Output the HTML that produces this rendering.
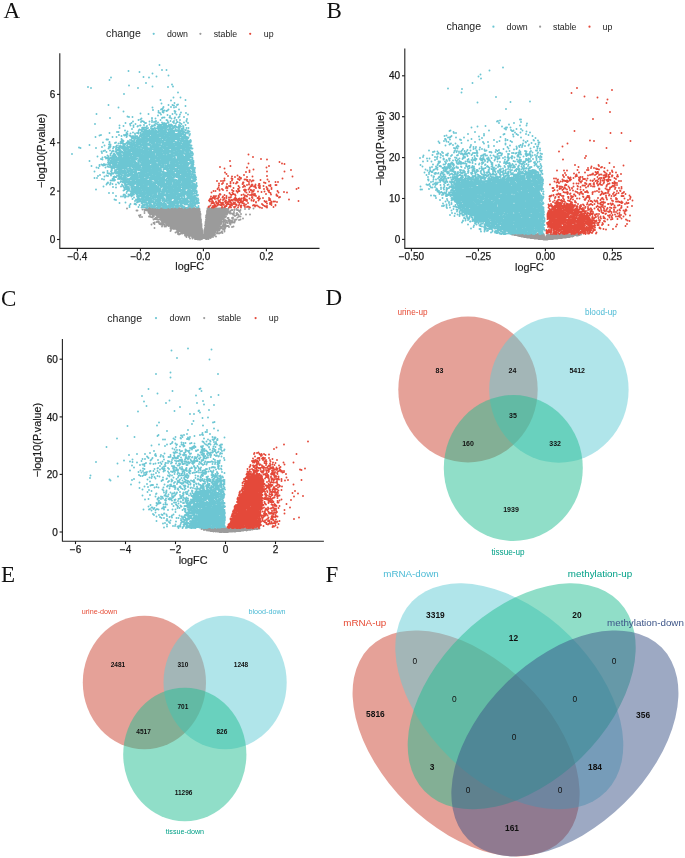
<!DOCTYPE html><html><head><meta charset="utf-8"><style>html,body{margin:0;padding:0;background:#fff;width:685px;height:858px;overflow:hidden}svg{display:block;will-change:transform}</style></head><body>
<svg width="685" height="858" viewBox="0 0 685 858">
<rect width="685" height="858" fill="#fff"/>
<text x="3.5" y="18" font-size="23" text-anchor="start" fill="#111" font-family="Liberation Serif, serif">A</text>
<text x="106.1" y="37.4" font-size="10.6" text-anchor="start" fill="#222" font-family="Liberation Sans, sans-serif">change</text>
<circle cx="153.7" cy="33.8" r="1.1" fill="#6cc6d3"/>
<circle cx="200.4" cy="33.8" r="1.1" fill="#9b9b9b"/>
<circle cx="250.2" cy="33.8" r="1.1" fill="#e4493a"/>
<text x="166.9" y="37" font-size="8.8" text-anchor="start" fill="#222" font-family="Liberation Sans, sans-serif">down</text>
<text x="213.7" y="37" font-size="8.8" text-anchor="start" fill="#222" font-family="Liberation Sans, sans-serif">stable</text>
<text x="263.8" y="37" font-size="8.8" text-anchor="start" fill="#222" font-family="Liberation Sans, sans-serif">up</text>
<path transform="scale(.5)" d="M0 0m295 416h0m4 0h0m1 0h0m5 0h0m11 0h0m6 0h0m3 0h0m8 0h0m14 0h0m6 0h0m5 0h0m6 0h0m2 0h0m1 0h0m2 0h0m1 0h0m3 0h0m7 0h0m8 0h0m31 0h0m5 0h0m23 0h0m60 1h0m-56 0h0m-3 0h0m-2 0h0m-2 0h0m-2 0h0m-1 0h0m-1 0h0m-1 0h0m-2 0h0m-2 0h0m-2 0h0m-1 0h0m-1 0h0m-1 0h0m-1 0h0m-2 0h0m-1 0h0m-2 0h0m-1 0h0m-5 0h0m-1 0h0m-1 0h0m-1 0h0m-17 0h0m-2 0h0m-3 0h0m-3 0h0m-1 0h0m-1 0h0m-2 0h0m-1 0h0m-1 0h0m-1 0h0m-1 0h0m-1 0h0m-1 0h0m-1 0h0m-1 0h0m-1 0h0m-5 0h0m-4 0h0m-1 0h0m-1 0h0m-1 0h0m-1 0h0m-1 0h0m-1 0h0m-2 0h0m-1 0h0m-1 0h0m-2 0h0m-2 0h0m-3 0h0m-1 0h0m-1 0h0m-2 0h0m-1 0h0m-1 0h0m-2 0h0m-2 0h0m-1 0h0m-2 0h0m-1 0h0m-4 0h0m-2 0h0m-1 0h0m-1 0h0m-1 0h0m-6 0h0m-1 0h0m-2 0h0m-1 0h0m-1 0h0m-3 0h0m-1 0h0m-2 0h0m-1 0h0m-1 0h0m-1 0h0m-2 0h0m-3 0h0m-1 0h0m-4 0h0m-1 0h0m-2 0h0m-1 0h0m-40 0h0m38 1h0m4 0h0m2 0h0m2 0h0m2 0h0m2 0h0m2 0h0m1 0h0m1 0h0m4 0h0m1 0h0m1 0h0m4 0h0m2 0h0m1 0h0m3 0h0m1 0h0m1 0h0m3 0h0m1 0h0m1 0h0m1 0h0m1 0h0m1 0h0m1 0h0m2 0h0m1 0h0m1 0h0m2 0h0m1 0h0m2 0h0m1 0h0m1 0h0m1 0h0m1 0h0m3 0h0m2 0h0m1 0h0m1 0h0m5 0h0m1 0h0m2 0h0m2 0h0m3 0h0m2 0h0m2 0h0m2 0h0m1 0h0m2 0h0m2 0h0m2 0h0m1 0h0m4 0h0m2 0h0m1 0h0m1 0h0m4 0h0m2 0h0m1 0h0m1 0h0m1 0h0m16 0h0m1 0h0m2 0h0m1 0h0m1 0h0m1 0h0m1 0h0m1 0h0m1 0h0m2 0h0m2 0h0m4 0h0m1 0h0m1 0h0m1 0h0m1 0h0m2 0h0m1 0h0m2 0h0m2 0h0m1 0h0m7 0h0m1 0h0m1 0h0m3 0h0m1 0h0m16 0h0m17 0h0m8 0h0m-29 1h0m-14 0h0m-7 0h0m-3 0h0m-2 0h0m-2 0h0m-2 0h0m-1 0h0m-1 0h0m-2 0h0m-2 0h0m-1 0h0m-3 0h0m-1 0h0m-1 0h0m-1 0h0m-1 0h0m-1 0h0m-1 0h0m-2 0h0m-2 0h0m-2 0h0m-1 0h0m-1 0h0m-16 0h0m-1 0h0m-1 0h0m-2 0h0m-1 0h0m-1 0h0m-3 0h0m-1 0h0m-1 0h0m-4 0h0m-1 0h0m-1 0h0m-1 0h0m-1 0h0m-1 0h0m-1 0h0m-1 0h0m-1 0h0m-1 0h0m-1 0h0m-2 0h0m-1 0h0m-1 0h0m-1 0h0m-1 0h0m-1 0h0m-2 0h0m-1 0h0m-1 0h0m-2 0h0m-1 0h0m-1 0h0m-1 0h0m-2 0h0m-1 0h0m-1 0h0m-1 0h0m-1 0h0m-1 0h0m-2 0h0m-1 0h0m-1 0h0m-2 0h0m-1 0h0m-1 0h0m-2 0h0m-2 0h0m-2 0h0m-4 0h0m-1 0h0m-1 0h0m-1 0h0m-2 0h0m-2 0h0m-1 0h0m-3 0h0m-2 0h0m-2 0h0m-4 0h0m-2 0h0m-3 0h0m-1 0h0m-1 0h0m-2 0h0m-2 0h0m-1 0h0m-3 0h0m-3 0h0m-1 0h0m-2 0h0m-1 0h0m-3 0h0m-4 0h0m6 1h0m1 0h0m6 0h0m3 0h0m1 0h0m1 0h0m2 0h0m1 0h0m2 0h0m1 0h0m1 0h0m1 0h0m2 0h0m2 0h0m2 0h0m2 0h0m1 0h0m1 0h0m1 0h0m1 0h0m1 0h0m3 0h0m1 0h0m1 0h0m1 0h0m3 0h0m1 0h0m2 0h0m1 0h0m2 0h0m1 0h0m2 0h0m1 0h0m1 0h0m1 0h0m1 0h0m2 0h0m1 0h0m1 0h0m1 0h0m1 0h0m1 0h0m2 0h0m1 0h0m1 0h0m1 0h0m2 0h0m1 0h0m1 0h0m1 0h0m1 0h0m1 0h0m2 0h0m1 0h0m2 0h0m1 0h0m1 0h0m1 0h0m1 0h0m2 0h0m1 0h0m1 0h0m1 0h0m1 0h0m2 0h0m1 0h0m1 0h0m2 0h0m2 0h0m1 0h0m2 0h0m4 0h0m3 0h0m17 0h0m1 0h0m1 0h0m1 0h0m1 0h0m1 0h0m1 0h0m2 0h0m1 0h0m1 0h0m2 0h0m1 0h0m2 0h0m1 0h0m1 0h0m1 0h0m1 0h0m1 0h0m1 0h0m1 0h0m1 0h0m1 0h0m3 0h0m1 0h0m1 0h0m1 0h0m1 0h0m1 0h0m1 0h0m1 0h0m1 0h0m5 0h0m8 0h0m2 0h0m4 0h0m5 0h0m2 0h0m5 0h0m-25 1h0m-5 0h0m-2 0h0m-1 0h0m-1 0h0m-2 0h0m-1 0h0m-1 0h0m-1 0h0m-1 0h0m-1 0h0m-1 0h0m-1 0h0m-1 0h0m-2 0h0m-1 0h0m-1 0h0m-1 0h0m-2 0h0m-1 0h0m-1 0h0m-1 0h0m-2 0h0m-1 0h0m-1 0h0m-2 0h0m-1 0h0m-1 0h0m-1 0h0m-1 0h0m-1 0h0m-19 0h0m-1 0h0m-1 0h0m-1 0h0m-2 0h0m-1 0h0m-2 0h0m-3 0h0m-3 0h0m-1 0h0m-1 0h0m-2 0h0m-1 0h0m-3 0h0m-1 0h0m-1 0h0m-1 0h0m-2 0h0m-4 0h0m-1 0h0m-1 0h0m-2 0h0m-1 0h0m-1 0h0m-1 0h0m-1 0h0m-1 0h0m-1 0h0m-1 0h0m-1 0h0m-1 0h0m-1 0h0m-2 0h0m-2 0h0m-1 0h0m-2 0h0m-1 0h0m-1 0h0m-1 0h0m-1 0h0m-3 0h0m-2 0h0m-1 0h0m-1 0h0m-1 0h0m-1 0h0m-3 0h0m-1 0h0m-3 0h0m-3 0h0m-2 0h0m-2 0h0m-1 0h0m-1 0h0m-1 0h0m-1 0h0m-1 0h0m-1 0h0m-1 0h0m-2 0h0m-2 0h0m-2 0h0m-2 0h0m-4 0h0m-5 0h0m-19 0h0m-2 0h0m16 1h0m8 0h0m4 0h0m1 0h0m2 0h0m1 0h0m2 0h0m1 0h0m1 0h0m1 0h0m2 0h0m1 0h0m1 0h0m1 0h0m1 0h0m1 0h0m1 0h0m1 0h0m3 0h0m1 0h0m1 0h0m1 0h0m2 0h0m1 0h0m1 0h0m2 0h0m1 0h0m1 0h0m3 0h0m1 0h0m1 0h0m1 0h0m1 0h0m1 0h0m1 0h0m1 0h0m1 0h0m2 0h0m4 0h0m1 0h0m2 0h0m1 0h0m1 0h0m1 0h0m2 0h0m1 0h0m1 0h0m1 0h0m1 0h0m1 0h0m1 0h0m2 0h0m3 0h0m1 0h0m1 0h0m1 0h0m3 0h0m1 0h0m2 0h0m2 0h0m1 0h0m1 0h0m1 0h0m1 0h0m1 0h0m1 0h0m1 0h0m2 0h0m1 0h0m3 0h0m1 0h0m1 0h0m1 0h0m1 0h0m2 0h0m15 0h0m1 0h0m2 0h0m4 0h0m1 0h0m1 0h0m1 0h0m1 0h0m1 0h0m1 0h0m1 0h0m1 0h0m1 0h0m3 0h0m1 0h0m1 0h0m3 0h0m3 0h0m3 0h0m1 0h0m1 0h0m4 0h0m3 0h0m8 0h0m17 0h0m1 0h0m-20 1h0m-4 0h0m-4 0h0m-1 0h0m-2 0h0m-1 0h0m-3 0h0m-2 0h0m-1 0h0m-2 0h0m-2 0h0m-1 0h0m-1 0h0m-3 0h0m-1 0h0m-2 0h0m-3 0h0m-1 0h0m-1 0h0m-2 0h0m-2 0h0m-4 0h0m-1 0h0m-1 0h0m-14 0h0m-1 0h0m-2 0h0m-1 0h0m-1 0h0m-1 0h0m-4 0h0m-2 0h0m-2 0h0m-2 0h0m-2 0h0m-1 0h0m-4 0h0m-1 0h0m-2 0h0m-1 0h0m-2 0h0m-1 0h0m-1 0h0m-1 0h0m-1 0h0m-4 0h0m-3 0h0m-2 0h0m-3 0h0m-1 0h0m-1 0h0m-3 0h0m-4 0h0m-1 0h0m-2 0h0m-2 0h0m-1 0h0m-1 0h0m-1 0h0m-1 0h0m-1 0h0m-1 0h0m-1 0h0m-1 0h0m-5 0h0m-1 0h0m-1 0h0m-1 0h0m-1 0h0m-1 0h0m-1 0h0m-1 0h0m-1 0h0m-1 0h0m-1 0h0m-1 0h0m-1 0h0m-1 0h0m-1 0h0m-1 0h0m-1 0h0m-2 0h0m-1 0h0m-1 0h0m-1 0h0m-2 0h0m-1 0h0m-3 0h0m-1 0h0m-1 0h0m-1 0h0m-1 0h0m3 1h0m1 0h0m2 0h0m1 0h0m1 0h0m1 0h0m4 0h0m1 0h0m1 0h0m1 0h0m1 0h0m4 0h0m2 0h0m1 0h0m1 0h0m1 0h0m2 0h0m1 0h0m1 0h0m1 0h0m2 0h0m1 0h0m1 0h0m1 0h0m1 0h0m1 0h0m2 0h0m1 0h0m2 0h0m1 0h0m1 0h0m2 0h0m1 0h0m1 0h0m1 0h0m1 0h0m1 0h0m1 0h0m2 0h0m1 0h0m1 0h0m3 0h0m2 0h0m2 0h0m1 0h0m1 0h0m1 0h0m2 0h0m1 0h0m1 0h0m2 0h0m1 0h0m1 0h0m1 0h0m1 0h0m1 0h0m2 0h0m3 0h0m1 0h0m1 0h0m1 0h0m5 0h0m1 0h0m1 0h0m1 0h0m2 0h0m1 0h0m1 0h0m2 0h0m2 0h0m1 0h0m14 0h0m1 0h0m1 0h0m4 0h0m1 0h0m1 0h0m1 0h0m1 0h0m2 0h0m1 0h0m1 0h0m1 0h0m1 0h0m1 0h0m1 0h0m1 0h0m1 0h0m3 0h0m1 0h0m2 0h0m2 0h0m1 0h0m1 0h0m1 0h0m1 0h0m1 0h0m2 0h0m10 0h0m9 0h0m12 0h0m-20 1h0m-3 0h0m-5 0h0m-3 0h0m-1 0h0m-2 0h0m-1 0h0m-1 0h0m-1 0h0m-1 0h0m-5 0h0m-2 0h0m-1 0h0m-1 0h0m-1 0h0m-1 0h0m-4 0h0m-1 0h0m-1 0h0m-6 0h0m-1 0h0m-2 0h0m-17 0h0m-1 0h0m-2 0h0m-1 0h0m-1 0h0m-1 0h0m-2 0h0m-1 0h0m-1 0h0m-2 0h0m-2 0h0m-1 0h0m-2 0h0m-2 0h0m-2 0h0m-2 0h0m-1 0h0m-1 0h0m-1 0h0m-2 0h0m-1 0h0m-1 0h0m-3 0h0m-2 0h0m-1 0h0m-1 0h0m-1 0h0m-1 0h0m-1 0h0m-1 0h0m-5 0h0m-1 0h0m-2 0h0m-2 0h0m-1 0h0m-2 0h0m-1 0h0m-3 0h0m-1 0h0m-1 0h0m-1 0h0m-1 0h0m-2 0h0m-3 0h0m-1 0h0m-1 0h0m-3 0h0m-1 0h0m-2 0h0m-1 0h0m-1 0h0m-2 0h0m-4 0h0m-1 0h0m-1 0h0m-2 0h0m-1 0h0m-4 0h0m-2 0h0m-4 0h0m-2 0h0m-2 0h0m-8 1h0m9 0h0m2 0h0m3 0h0m6 0h0m3 0h0m1 0h0m1 0h0m1 0h0m1 0h0m1 0h0m3 0h0m1 0h0m2 0h0m2 0h0m1 0h0m1 0h0m1 0h0m1 0h0m1 0h0m1 0h0m1 0h0m1 0h0m1 0h0m2 0h0m2 0h0m1 0h0m1 0h0m1 0h0m1 0h0m6 0h0m1 0h0m1 0h0m2 0h0m2 0h0m1 0h0m1 0h0m1 0h0m1 0h0m1 0h0m2 0h0m7 0h0m1 0h0m1 0h0m2 0h0m1 0h0m1 0h0m2 0h0m2 0h0m1 0h0m2 0h0m1 0h0m2 0h0m3 0h0m2 0h0m1 0h0m2 0h0m1 0h0m1 0h0m1 0h0m1 0h0m1 0h0m1 0h0m1 0h0m1 0h0m14 0h0m1 0h0m1 0h0m1 0h0m1 0h0m1 0h0m1 0h0m3 0h0m1 0h0m1 0h0m2 0h0m1 0h0m1 0h0m1 0h0m1 0h0m2 0h0m1 0h0m2 0h0m2 0h0m1 0h0m1 0h0m1 0h0m2 0h0m2 0h0m1 0h0m1 0h0m1 0h0m2 0h0m1 0h0m1 0h0m2 0h0m1 0h0m6 0h0m7 0h0m6 0h0m-1 1h0m-9 0h0m-3 0h0m-1 0h0m-5 0h0m-5 0h0m-3 0h0m-2 0h0m-6 0h0m-1 0h0m-2 0h0m-1 0h0m-1 0h0m-1 0h0m-1 0h0m-1 0h0m-2 0h0m-1 0h0m-6 0h0m-3 0h0m-1 0h0m-1 0h0m-3 0h0m-14 0h0m-3 0h0m-2 0h0m-1 0h0m-2 0h0m-1 0h0m-3 0h0m-2 0h0m-1 0h0m-2 0h0m-1 0h0m-1 0h0m-1 0h0m-2 0h0m-1 0h0m-1 0h0m-1 0h0m-1 0h0m-1 0h0m-2 0h0m-1 0h0m-1 0h0m-1 0h0m-1 0h0m-1 0h0m-2 0h0m-1 0h0m-1 0h0m-1 0h0m-3 0h0m-1 0h0m-1 0h0m-3 0h0m-1 0h0m-1 0h0m-2 0h0m-1 0h0m-4 0h0m-5 0h0m-1 0h0m-3 0h0m-1 0h0m-1 0h0m-1 0h0m-1 0h0m-1 0h0m-1 0h0m-1 0h0m-1 0h0m-3 0h0m-1 0h0m-1 0h0m-1 0h0m-1 0h0m-2 0h0m-1 0h0m-1 0h0m-1 0h0m-2 0h0m-1 0h0m-1 0h0m-1 0h0m-1 0h0m-4 0h0m-4 1h0m2 0h0m5 0h0m1 0h0m4 0h0m1 0h0m1 0h0m1 0h0m1 0h0m1 0h0m1 0h0m2 0h0m1 0h0m2 0h0m1 0h0m1 0h0m2 0h0m3 0h0m1 0h0m2 0h0m2 0h0m1 0h0m1 0h0m1 0h0m1 0h0m1 0h0m1 0h0m1 0h0m1 0h0m1 0h0m1 0h0m1 0h0m2 0h0m3 0h0m1 0h0m1 0h0m1 0h0m1 0h0m3 0h0m2 0h0m2 0h0m1 0h0m1 0h0m2 0h0m1 0h0m2 0h0m2 0h0m1 0h0m1 0h0m1 0h0m1 0h0m2 0h0m2 0h0m2 0h0m1 0h0m1 0h0m2 0h0m1 0h0m2 0h0m1 0h0m1 0h0m1 0h0m3 0h0m2 0h0m1 0h0m1 0h0m1 0h0m1 0h0m13 0h0m1 0h0m2 0h0m1 0h0m2 0h0m3 0h0m2 0h0m1 0h0m4 0h0m2 0h0m1 0h0m3 0h0m1 0h0m1 0h0m1 0h0m1 0h0m1 0h0m1 0h0m1 0h0m1 0h0m1 0h0m1 0h0m1 0h0m4 0h0m2 0h0m13 0h0m16 0h0m18 1h0m-8 0h0m-15 0h0m-2 0h0m-9 0h0m-12 0h0m-2 0h0m-1 0h0m-3 0h0m-2 0h0m-2 0h0m-1 0h0m-1 0h0m-1 0h0m-1 0h0m-2 0h0m-2 0h0m-2 0h0m-1 0h0m-1 0h0m-1 0h0m-1 0h0m-2 0h0m-1 0h0m-2 0h0m-1 0h0m-2 0h0m-1 0h0m-3 0h0m-1 0h0m-1 0h0m-1 0h0m-1 0h0m-13 0h0m-1 0h0m-1 0h0m-1 0h0m-1 0h0m-1 0h0m-1 0h0m-1 0h0m-2 0h0m-2 0h0m-1 0h0m-1 0h0m-1 0h0m-1 0h0m-1 0h0m-1 0h0m-1 0h0m-1 0h0m-1 0h0m-1 0h0m-2 0h0m-1 0h0m-1 0h0m-1 0h0m-3 0h0m-3 0h0m-1 0h0m-3 0h0m-1 0h0m-1 0h0m-1 0h0m-1 0h0m-2 0h0m-1 0h0m-1 0h0m-3 0h0m-1 0h0m-1 0h0m-1 0h0m-1 0h0m-3 0h0m-1 0h0m-1 0h0m-1 0h0m-1 0h0m-1 0h0m-1 0h0m-1 0h0m-1 0h0m-1 0h0m-1 0h0m-1 0h0m-1 0h0m-1 0h0m-1 0h0m-2 0h0m-2 0h0m-1 0h0m-1 0h0m-7 0h0m-1 0h0m-3 0h0m-1 0h0m-1 0h0m-14 0h0m-19 1h0m27 0h0m4 0h0m1 0h0m2 0h0m2 0h0m1 0h0m1 0h0m4 0h0m1 0h0m1 0h0m1 0h0m1 0h0m2 0h0m2 0h0m1 0h0m1 0h0m1 0h0m7 0h0m1 0h0m1 0h0m1 0h0m2 0h0m1 0h0m3 0h0m1 0h0m1 0h0m1 0h0m1 0h0m2 0h0m1 0h0m4 0h0m1 0h0m1 0h0m1 0h0m3 0h0m1 0h0m1 0h0m1 0h0m6 0h0m1 0h0m1 0h0m1 0h0m2 0h0m1 0h0m1 0h0m1 0h0m2 0h0m1 0h0m1 0h0m2 0h0m1 0h0m1 0h0m2 0h0m1 0h0m3 0h0m3 0h0m12 0h0m1 0h0m2 0h0m2 0h0m1 0h0m1 0h0m1 0h0m1 0h0m2 0h0m1 0h0m2 0h0m2 0h0m2 0h0m3 0h0m3 0h0m1 0h0m1 0h0m1 0h0m1 0h0m3 0h0m5 0h0m19 0h0m5 0h0m-27 1h0m-3 0h0m-1 0h0m-1 0h0m-2 0h0m-1 0h0m-1 0h0m-1 0h0m-1 0h0m-1 0h0m-1 0h0m-1 0h0m-1 0h0m-1 0h0m-1 0h0m-1 0h0m-2 0h0m-1 0h0m-1 0h0m-1 0h0m-3 0h0m-1 0h0m-5 0h0m-14 0h0m-2 0h0m-1 0h0m-1 0h0m-2 0h0m-2 0h0m-1 0h0m-2 0h0m-1 0h0m-3 0h0m-1 0h0m-1 0h0m-1 0h0m-3 0h0m-1 0h0m-1 0h0m-2 0h0m-3 0h0m-2 0h0m-2 0h0m-1 0h0m-2 0h0m-1 0h0m-2 0h0m-1 0h0m-1 0h0m-2 0h0m-1 0h0m-1 0h0m-2 0h0m-1 0h0m-1 0h0m-5 0h0m-3 0h0m-1 0h0m-4 0h0m-1 0h0m-2 0h0m-2 0h0m-1 0h0m-6 0h0m-1 0h0m-1 0h0m-1 0h0m-2 0h0m-2 0h0m-1 0h0m-1 0h0m-1 0h0m-2 0h0m-2 0h0m-6 0h0m-1 0h0m-1 0h0m-27 0h0m30 1h0m6 0h0m4 0h0m1 0h0m1 0h0m2 0h0m1 0h0m1 0h0m2 0h0m2 0h0m1 0h0m1 0h0m1 0h0m1 0h0m2 0h0m1 0h0m1 0h0m1 0h0m2 0h0m1 0h0m1 0h0m4 0h0m1 0h0m2 0h0m4 0h0m2 0h0m2 0h0m4 0h0m3 0h0m1 0h0m1 0h0m1 0h0m2 0h0m1 0h0m1 0h0m1 0h0m3 0h0m2 0h0m1 0h0m2 0h0m1 0h0m1 0h0m1 0h0m1 0h0m1 0h0m2 0h0m2 0h0m4 0h0m3 0h0m1 0h0m1 0h0m2 0h0m13 0h0m2 0h0m1 0h0m3 0h0m1 0h0m1 0h0m1 0h0m1 0h0m1 0h0m2 0h0m1 0h0m1 0h0m2 0h0m1 0h0m1 0h0m2 0h0m1 0h0m1 0h0m1 0h0m2 0h0m1 0h0m1 0h0m1 0h0m1 0h0m3 0h0m2 0h0m1 0h0m1 0h0m21 0h0m8 0h0m3 1h0m-3 0h0m-26 0h0m-3 0h0m-2 0h0m-1 0h0m-5 0h0m-3 0h0m-2 0h0m-1 0h0m-2 0h0m-1 0h0m-1 0h0m-1 0h0m-2 0h0m-1 0h0m-1 0h0m-3 0h0m-1 0h0m-2 0h0m-1 0h0m-1 0h0m-1 0h0m-1 0h0m-1 0h0m-2 0h0m-13 0h0m-1 0h0m-1 0h0m-2 0h0m-1 0h0m-3 0h0m-2 0h0m-1 0h0m-1 0h0m-1 0h0m-1 0h0m-2 0h0m-1 0h0m-2 0h0m-1 0h0m-1 0h0m-1 0h0m-2 0h0m-1 0h0m-1 0h0m-1 0h0m-1 0h0m-2 0h0m-1 0h0m-2 0h0m-1 0h0m-1 0h0m-3 0h0m-1 0h0m-1 0h0m-1 0h0m-1 0h0m-2 0h0m-1 0h0m-3 0h0m-2 0h0m-1 0h0m-1 0h0m-1 0h0m-1 0h0m-1 0h0m-1 0h0m-1 0h0m-1 0h0m-1 0h0m-2 0h0m-2 0h0m-1 0h0m-2 0h0m-1 0h0m-2 0h0m-2 0h0m-1 0h0m-1 0h0m-2 0h0m-4 0h0m-1 0h0m-1 0h0m-2 0h0m-1 0h0m-9 0h0m-6 0h0m-1 0h0m-2 0h0m-18 1h0m4 0h0m18 0h0m14 0h0m4 0h0m2 0h0m2 0h0m4 0h0m2 0h0m2 0h0m1 0h0m1 0h0m2 0h0m1 0h0m2 0h0m1 0h0m2 0h0m1 0h0m2 0h0m1 0h0m1 0h0m1 0h0m1 0h0m1 0h0m1 0h0m1 0h0m2 0h0m1 0h0m1 0h0m1 0h0m1 0h0m2 0h0m3 0h0m4 0h0m1 0h0m1 0h0m5 0h0m1 0h0m1 0h0m1 0h0m1 0h0m2 0h0m1 0h0m1 0h0m1 0h0m1 0h0m1 0h0m1 0h0m1 0h0m1 0h0m2 0h0m1 0h0m1 0h0m1 0h0m1 0h0m2 0h0m1 0h0m1 0h0m1 0h0m1 0h0m1 0h0m14 0h0m1 0h0m1 0h0m1 0h0m4 0h0m1 0h0m1 0h0m1 0h0m1 0h0m2 0h0m2 0h0m1 0h0m5 0h0m2 0h0m2 0h0m1 0h0m1 0h0m1 0h0m32 1h0m-9 0h0m-16 0h0m-6 0h0m-1 0h0m-1 0h0m-7 0h0m-2 0h0m-2 0h0m-1 0h0m-2 0h0m-2 0h0m-4 0h0m-1 0h0m-2 0h0m-2 0h0m-2 0h0m-3 0h0m-12 0h0m-1 0h0m-2 0h0m-1 0h0m-1 0h0m-1 0h0m-2 0h0m-2 0h0m-1 0h0m-1 0h0m-3 0h0m-1 0h0m-9 0h0m-2 0h0m-3 0h0m-4 0h0m-2 0h0m-2 0h0m-1 0h0m-3 0h0m-2 0h0m-2 0h0m-1 0h0m-3 0h0m-2 0h0m-1 0h0m-1 0h0m-1 0h0m-1 0h0m-1 0h0m-1 0h0m-2 0h0m-1 0h0m-1 0h0m-1 0h0m-1 0h0m-1 0h0m-2 0h0m-1 0h0m-2 0h0m-1 0h0m-2 0h0m-1 0h0m-1 0h0m-1 0h0m-1 0h0m-1 0h0m-1 0h0m-2 0h0m-6 0h0m-8 0h0m6 1h0m3 0h0m7 0h0m1 0h0m2 0h0m2 0h0m5 0h0m4 0h0m1 0h0m1 0h0m3 0h0m3 0h0m2 0h0m3 0h0m1 0h0m1 0h0m1 0h0m2 0h0m1 0h0m1 0h0m1 0h0m2 0h0m3 0h0m2 0h0m1 0h0m3 0h0m2 0h0m1 0h0m1 0h0m1 0h0m3 0h0m1 0h0m2 0h0m1 0h0m1 0h0m2 0h0m2 0h0m2 0h0m2 0h0m3 0h0m3 0h0m1 0h0m2 0h0m1 0h0m2 0h0m15 0h0m2 0h0m1 0h0m1 0h0m1 0h0m2 0h0m1 0h0m3 0h0m2 0h0m2 0h0m2 0h0m2 0h0m1 0h0m2 0h0m2 0h0m1 0h0m2 0h0m1 0h0m5 0h0m7 0h0m2 0h0m7 0h0m22 1h0m-21 0h0m-9 0h0m-11 0h0m-1 0h0m-1 0h0m-1 0h0m-3 0h0m-2 0h0m-1 0h0m-1 0h0m-1 0h0m-1 0h0m-4 0h0m-1 0h0m-3 0h0m-1 0h0m-2 0h0m-1 0h0m-1 0h0m-2 0h0m-1 0h0m-1 0h0m-2 0h0m-1 0h0m-12 0h0m-2 0h0m-1 0h0m-1 0h0m-1 0h0m-1 0h0m-1 0h0m-2 0h0m-4 0h0m-2 0h0m-3 0h0m-1 0h0m-1 0h0m-2 0h0m-1 0h0m-1 0h0m-1 0h0m-1 0h0m-1 0h0m-1 0h0m-1 0h0m-1 0h0m-1 0h0m-1 0h0m-1 0h0m-1 0h0m-1 0h0m-2 0h0m-1 0h0m-1 0h0m-1 0h0m-1 0h0m-2 0h0m-2 0h0m-1 0h0m-2 0h0m-1 0h0m-1 0h0m-2 0h0m-1 0h0m-1 0h0m-1 0h0m-1 0h0m-1 0h0m-1 0h0m-1 0h0m-1 0h0m-5 0h0m-1 0h0m-1 0h0m-1 0h0m-2 0h0m-1 0h0m-1 0h0m-1 0h0m-1 0h0m-3 0h0m-2 0h0m-1 0h0m-12 1h0m1 0h0m2 0h0m1 0h0m8 0h0m1 0h0m4 0h0m2 0h0m1 0h0m5 0h0m5 0h0m1 0h0m1 0h0m1 0h0m3 0h0m1 0h0m3 0h0m1 0h0m2 0h0m1 0h0m1 0h0m2 0h0m1 0h0m2 0h0m1 0h0m1 0h0m2 0h0m1 0h0m2 0h0m1 0h0m1 0h0m2 0h0m2 0h0m1 0h0m2 0h0m1 0h0m1 0h0m2 0h0m1 0h0m1 0h0m1 0h0m2 0h0m1 0h0m1 0h0m1 0h0m1 0h0m1 0h0m1 0h0m2 0h0m1 0h0m1 0h0m4 0h0m2 0h0m13 0h0m1 0h0m2 0h0m1 0h0m3 0h0m4 0h0m1 0h0m2 0h0m1 0h0m1 0h0m1 0h0m1 0h0m2 0h0m1 0h0m1 0h0m1 0h0m2 0h0m2 0h0m1 0h0m3 0h0m1 0h0m12 0h0m9 0h0m15 1h0m-8 0h0m-3 0h0m-23 0h0m-3 0h0m-3 0h0m-2 0h0m-1 0h0m-1 0h0m-1 0h0m-2 0h0m-1 0h0m-2 0h0m-2 0h0m-1 0h0m-2 0h0m-1 0h0m-1 0h0m-1 0h0m-1 0h0m-2 0h0m-2 0h0m-1 0h0m-2 0h0m-3 0h0m-10 0h0m-1 0h0m-1 0h0m-1 0h0m-1 0h0m-3 0h0m-3 0h0m-2 0h0m-1 0h0m-1 0h0m-1 0h0m-1 0h0m-1 0h0m-4 0h0m-1 0h0m-1 0h0m-1 0h0m-1 0h0m-1 0h0m-1 0h0m-3 0h0m-1 0h0m-1 0h0m-1 0h0m-2 0h0m-1 0h0m-1 0h0m-1 0h0m-2 0h0m-1 0h0m-1 0h0m-3 0h0m-1 0h0m-4 0h0m-1 0h0m-2 0h0m-1 0h0m-2 0h0m-1 0h0m-1 0h0m-1 0h0m-1 0h0m-1 0h0m-1 0h0m-2 0h0m-2 0h0m-1 0h0m-1 0h0m-1 0h0m-2 0h0m-1 0h0m-3 0h0m-2 0h0m-2 0h0m-2 0h0m-1 0h0m-3 0h0m-3 0h0m-7 0h0m15 1h0m2 0h0m2 0h0m7 0h0m1 0h0m5 0h0m1 0h0m2 0h0m2 0h0m1 0h0m1 0h0m1 0h0m1 0h0m1 0h0m1 0h0m1 0h0m1 0h0m1 0h0m4 0h0m1 0h0m5 0h0m2 0h0m1 0h0m1 0h0m1 0h0m1 0h0m1 0h0m1 0h0m1 0h0m1 0h0m1 0h0m1 0h0m2 0h0m1 0h0m1 0h0m1 0h0m2 0h0m1 0h0m1 0h0m1 0h0m1 0h0m1 0h0m1 0h0m1 0h0m1 0h0m4 0h0m1 0h0m2 0h0m1 0h0m1 0h0m1 0h0m1 0h0m11 0h0m1 0h0m1 0h0m2 0h0m1 0h0m1 0h0m1 0h0m2 0h0m1 0h0m1 0h0m1 0h0m1 0h0m1 0h0m3 0h0m1 0h0m1 0h0m1 0h0m1 0h0m1 0h0m2 0h0m2 0h0m1 0h0m1 0h0m1 0h0m1 0h0m8 0h0m8 0h0m1 0h0m19 0h0m-16 1h0m-10 0h0m-1 0h0m-2 0h0m-6 0h0m-1 0h0m-5 0h0m-1 0h0m-2 0h0m-2 0h0m-2 0h0m-2 0h0m-4 0h0m-2 0h0m-3 0h0m-1 0h0m-5 0h0m-1 0h0m-10 0h0m-1 0h0m-4 0h0m-1 0h0m-1 0h0m-2 0h0m-1 0h0m-1 0h0m-1 0h0m-2 0h0m-1 0h0m-1 0h0m-1 0h0m-2 0h0m-1 0h0m-1 0h0m-3 0h0m-4 0h0m-1 0h0m-1 0h0m-2 0h0m-1 0h0m-1 0h0m-2 0h0m-1 0h0m-2 0h0m-2 0h0m-1 0h0m-2 0h0m-2 0h0m-1 0h0m-2 0h0m-1 0h0m-2 0h0m-2 0h0m-1 0h0m-2 0h0m-1 0h0m-3 0h0m-1 0h0m-2 0h0m-1 0h0m-1 0h0m-2 0h0m-2 0h0m-2 0h0m-3 0h0m-1 0h0m-2 0h0m-1 1h0m2 0h0m2 0h0m2 0h0m4 0h0m1 0h0m1 0h0m1 0h0m1 0h0m1 0h0m1 0h0m1 0h0m1 0h0m1 0h0m3 0h0m1 0h0m3 0h0m3 0h0m3 0h0m1 0h0m3 0h0m1 0h0m2 0h0m5 0h0m2 0h0m1 0h0m1 0h0m1 0h0m1 0h0m1 0h0m1 0h0m3 0h0m1 0h0m1 0h0m1 0h0m1 0h0m2 0h0m2 0h0m2 0h0m1 0h0m1 0h0m1 0h0m1 0h0m1 0h0m1 0h0m2 0h0m2 0h0m1 0h0m1 0h0m1 0h0m1 0h0m10 0h0m1 0h0m1 0h0m1 0h0m2 0h0m1 0h0m1 0h0m1 0h0m1 0h0m1 0h0m2 0h0m1 0h0m1 0h0m1 0h0m2 0h0m1 0h0m1 0h0m3 0h0m1 0h0m2 0h0m3 0h0m3 0h0m11 0h0m3 0h0m1 0h0m7 0h0m4 0h0m1 0h0m-12 1h0m-10 0h0m-1 0h0m-3 0h0m-2 0h0m-2 0h0m-1 0h0m-2 0h0m-1 0h0m-1 0h0m-1 0h0m-2 0h0m-1 0h0m-1 0h0m-2 0h0m-2 0h0m-1 0h0m-2 0h0m-1 0h0m-2 0h0m-1 0h0m-1 0h0m-1 0h0m-1 0h0m-1 0h0m-1 0h0m-2 0h0m-10 0h0m-1 0h0m-3 0h0m-1 0h0m-2 0h0m-2 0h0m-1 0h0m-1 0h0m-1 0h0m-3 0h0m-1 0h0m-1 0h0m-5 0h0m-2 0h0m-1 0h0m-1 0h0m-1 0h0m-2 0h0m-1 0h0m-1 0h0m-2 0h0m-3 0h0m-1 0h0m-3 0h0m-1 0h0m-1 0h0m-2 0h0m-3 0h0m-1 0h0m-1 0h0m-1 0h0m-1 0h0m-1 0h0m-2 0h0m-4 0h0m-1 0h0m-2 0h0m-2 0h0m-3 0h0m-1 0h0m-1 0h0m-1 0h0m-3 0h0m-2 0h0m-1 0h0m-2 0h0m-9 0h0m-3 1h0m3 0h0m2 0h0m14 0h0m2 0h0m2 0h0m4 0h0m2 0h0m2 0h0m1 0h0m2 0h0m1 0h0m2 0h0m2 0h0m1 0h0m1 0h0m2 0h0m4 0h0m1 0h0m3 0h0m1 0h0m1 0h0m1 0h0m2 0h0m2 0h0m1 0h0m2 0h0m1 0h0m2 0h0m2 0h0m1 0h0m1 0h0m2 0h0m1 0h0m2 0h0m1 0h0m1 0h0m2 0h0m2 0h0m2 0h0m1 0h0m1 0h0m3 0h0m12 0h0m2 0h0m1 0h0m1 0h0m1 0h0m3 0h0m1 0h0m1 0h0m1 0h0m2 0h0m4 0h0m1 0h0m2 0h0m1 0h0m1 0h0m2 0h0m3 0h0m1 0h0m1 0h0m3 0h0m18 0h0m4 0h0m4 1h0m-1 0h0m-3 0h0m-2 0h0m-10 0h0m-2 0h0m-4 0h0m-5 0h0m-2 0h0m-1 0h0m-1 0h0m-1 0h0m-1 0h0m-2 0h0m-3 0h0m-1 0h0m-1 0h0m-3 0h0m-5 0h0m-1 0h0m-1 0h0m-3 0h0m-1 0h0m-1 0h0m-1 0h0m-1 0h0m-10 0h0m-2 0h0m-1 0h0m-1 0h0m-3 0h0m-1 0h0m-1 0h0m-1 0h0m-1 0h0m-1 0h0m-1 0h0m-1 0h0m-1 0h0m-1 0h0m-2 0h0m-1 0h0m-1 0h0m-3 0h0m-1 0h0m-3 0h0m-1 0h0m-2 0h0m-2 0h0m-1 0h0m-4 0h0m-1 0h0m-1 0h0m-4 0h0m-2 0h0m-1 0h0m-1 0h0m-2 0h0m-4 0h0m-2 0h0m-1 0h0m-2 0h0m-3 0h0m-2 0h0m-1 0h0m-1 0h0m-1 0h0m-4 0h0m-2 0h0m-4 0h0m-1 0h0m-16 0h0m-2 1h0m11 0h0m4 0h0m6 0h0m7 0h0m4 0h0m4 0h0m1 0h0m3 0h0m5 0h0m1 0h0m1 0h0m1 0h0m2 0h0m1 0h0m2 0h0m1 0h0m2 0h0m2 0h0m1 0h0m2 0h0m1 0h0m2 0h0m3 0h0m1 0h0m1 0h0m1 0h0m4 0h0m2 0h0m1 0h0m1 0h0m1 0h0m2 0h0m1 0h0m6 0h0m2 0h0m2 0h0m1 0h0m1 0h0m10 0h0m1 0h0m1 0h0m1 0h0m1 0h0m1 0h0m4 0h0m1 0h0m1 0h0m2 0h0m1 0h0m1 0h0m2 0h0m1 0h0m5 0h0m1 0h0m1 0h0m2 0h0m1 0h0m2 0h0m14 0h0m4 0h0m2 1h0m-2 0h0m-16 0h0m-6 0h0m-1 0h0m-1 0h0m-1 0h0m-1 0h0m-1 0h0m-1 0h0m-1 0h0m-2 0h0m-1 0h0m-2 0h0m-1 0h0m-3 0h0m-1 0h0m-1 0h0m-3 0h0m-2 0h0m-1 0h0m-1 0h0m-1 0h0m-9 0h0m-3 0h0m-1 0h0m-2 0h0m-2 0h0m-1 0h0m-1 0h0m-4 0h0m-1 0h0m-2 0h0m-1 0h0m-5 0h0m-1 0h0m-1 0h0m-3 0h0m-1 0h0m-2 0h0m-2 0h0m-1 0h0m-4 0h0m-1 0h0m-1 0h0m-1 0h0m-2 0h0m-2 0h0m-4 0h0m-2 0h0m-1 0h0m-2 0h0m-1 0h0m-1 0h0m-1 0h0m-1 0h0m-1 0h0m-1 0h0m-1 0h0m-1 0h0m-5 0h0m-3 0h0m-23 1h0m10 0h0m6 0h0m8 0h0m3 0h0m1 0h0m2 0h0m1 0h0m2 0h0m1 0h0m1 0h0m1 0h0m1 0h0m1 0h0m1 0h0m1 0h0m1 0h0m1 0h0m2 0h0m1 0h0m1 0h0m2 0h0m4 0h0m3 0h0m1 0h0m1 0h0m3 0h0m4 0h0m2 0h0m4 0h0m1 0h0m2 0h0m2 0h0m1 0h0m1 0h0m1 0h0m3 0h0m2 0h0m1 0h0m2 0h0m2 0h0m2 0h0m1 0h0m1 0h0m2 0h0m8 0h0m1 0h0m1 0h0m1 0h0m3 0h0m2 0h0m1 0h0m2 0h0m1 0h0m1 0h0m1 0h0m2 0h0m1 0h0m1 0h0m1 0h0m2 0h0m1 0h0m1 0h0m1 0h0m3 0h0m1 0h0m3 0h0m5 0h0m3 0h0m11 1h0m-10 0h0m-2 0h0m-9 0h0m-1 0h0m-1 0h0m-1 0h0m-3 0h0m-1 0h0m-2 0h0m-1 0h0m-1 0h0m-1 0h0m-1 0h0m-2 0h0m-1 0h0m-1 0h0m-1 0h0m-1 0h0m-1 0h0m-2 0h0m-2 0h0m-1 0h0m-2 0h0m-2 0h0m-9 0h0m-2 0h0m-1 0h0m-1 0h0m-1 0h0m-1 0h0m-1 0h0m-1 0h0m-1 0h0m-1 0h0m-1 0h0m-1 0h0m-3 0h0m-4 0h0m-1 0h0m-3 0h0m-1 0h0m-2 0h0m-1 0h0m-1 0h0m-1 0h0m-1 0h0m-2 0h0m-1 0h0m-1 0h0m-1 0h0m-1 0h0m-1 0h0m-1 0h0m-1 0h0m-1 0h0m-1 0h0m-1 0h0m-1 0h0m-1 0h0m-1 0h0m-3 0h0m-1 0h0m-1 0h0m-3 0h0m-2 0h0m-3 0h0m-1 0h0m-2 0h0m-1 0h0m-2 0h0m-1 0h0m-1 0h0m-2 0h0m-7 0h0m-5 0h0m-19 0h0m22 1h0m4 0h0m3 0h0m1 0h0m9 0h0m3 0h0m1 0h0m1 0h0m1 0h0m4 0h0m1 0h0m3 0h0m2 0h0m1 0h0m1 0h0m1 0h0m1 0h0m1 0h0m1 0h0m2 0h0m1 0h0m1 0h0m2 0h0m2 0h0m2 0h0m1 0h0m3 0h0m2 0h0m1 0h0m1 0h0m2 0h0m2 0h0m1 0h0m1 0h0m1 0h0m6 0h0m1 0h0m1 0h0m1 0h0m1 0h0m1 0h0m2 0h0m1 0h0m8 0h0m4 0h0m1 0h0m1 0h0m2 0h0m3 0h0m1 0h0m2 0h0m1 0h0m1 0h0m2 0h0m5 0h0m1 0h0m14 0h0m2 0h0m-5 1h0m-1 0h0m-6 0h0m-3 0h0m-1 0h0m-1 0h0m-4 0h0m-1 0h0m-1 0h0m-1 0h0m-3 0h0m-1 0h0m-1 0h0m-1 0h0m-1 0h0m-5 0h0m-1 0h0m-2 0h0m-1 0h0m-1 0h0m-7 0h0m-1 0h0m-1 0h0m-1 0h0m-1 0h0m-1 0h0m-1 0h0m-1 0h0m-1 0h0m-2 0h0m-1 0h0m-1 0h0m-1 0h0m-2 0h0m-1 0h0m-1 0h0m-1 0h0m-2 0h0m-1 0h0m-1 0h0m-1 0h0m-1 0h0m-2 0h0m-1 0h0m-1 0h0m-1 0h0m-1 0h0m-2 0h0m-2 0h0m-1 0h0m-1 0h0m-2 0h0m-1 0h0m-1 0h0m-1 0h0m-1 0h0m-1 0h0m-1 0h0m-1 0h0m-1 0h0m-1 0h0m-2 0h0m-1 0h0m-1 0h0m-1 0h0m-2 0h0m-1 0h0m-2 0h0m-1 0h0m-3 0h0m-1 0h0m-1 0h0m-4 0h0m1 1h0m3 0h0m7 0h0m2 0h0m1 0h0m1 0h0m1 0h0m1 0h0m1 0h0m1 0h0m1 0h0m1 0h0m1 0h0m1 0h0m1 0h0m1 0h0m1 0h0m1 0h0m1 0h0m3 0h0m1 0h0m3 0h0m1 0h0m1 0h0m3 0h0m2 0h0m1 0h0m1 0h0m1 0h0m1 0h0m3 0h0m1 0h0m1 0h0m1 0h0m1 0h0m1 0h0m1 0h0m3 0h0m1 0h0m2 0h0m1 0h0m2 0h0m1 0h0m1 0h0m1 0h0m8 0h0m1 0h0m1 0h0m1 0h0m2 0h0m1 0h0m2 0h0m1 0h0m2 0h0m1 0h0m1 0h0m1 0h0m1 0h0m1 0h0m1 0h0m1 0h0m2 0h0m3 0h0m2 0h0m18 0h0m1 0h0m2 0h0m10 1h0m-16 0h0m-3 0h0m-3 0h0m-4 0h0m-3 0h0m-4 0h0m-1 0h0m-2 0h0m-1 0h0m-1 0h0m-2 0h0m-1 0h0m-1 0h0m-1 0h0m-2 0h0m-1 0h0m-2 0h0m-1 0h0m-3 0h0m-1 0h0m-1 0h0m-1 0h0m-1 0h0m-8 0h0m-1 0h0m-1 0h0m-1 0h0m-1 0h0m-1 0h0m-2 0h0m-1 0h0m-2 0h0m-1 0h0m-2 0h0m-1 0h0m-2 0h0m-1 0h0m-1 0h0m-1 0h0m-1 0h0m-2 0h0m-5 0h0m-1 0h0m-2 0h0m-1 0h0m-2 0h0m-1 0h0m-1 0h0m-2 0h0m-2 0h0m-1 0h0m-1 0h0m-1 0h0m-1 0h0m-1 0h0m-1 0h0m-1 0h0m-1 0h0m-1 0h0m-3 0h0m-3 0h0m-1 0h0m-1 0h0m-2 0h0m-13 0h0m-3 0h0m-5 0h0m18 1h0m4 0h0m1 0h0m2 0h0m1 0h0m3 0h0m1 0h0m1 0h0m2 0h0m1 0h0m1 0h0m1 0h0m1 0h0m1 0h0m1 0h0m1 0h0m3 0h0m5 0h0m1 0h0m1 0h0m2 0h0m2 0h0m1 0h0m2 0h0m1 0h0m1 0h0m2 0h0m1 0h0m1 0h0m2 0h0m3 0h0m1 0h0m1 0h0m1 0h0m2 0h0m3 0h0m1 0h0m1 0h0m1 0h0m8 0h0m1 0h0m1 0h0m1 0h0m1 0h0m1 0h0m1 0h0m1 0h0m1 0h0m3 0h0m2 0h0m1 0h0m2 0h0m2 0h0m1 0h0m1 0h0m1 0h0m1 0h0m4 0h0m1 0h0m5 0h0m1 0h0m4 0h0m10 0h0m6 0h0m-13 1h0m-14 0h0m-2 0h0m-1 0h0m-1 0h0m-1 0h0m-2 0h0m-2 0h0m-1 0h0m-2 0h0m-1 0h0m-1 0h0m-1 0h0m-1 0h0m-2 0h0m-2 0h0m-1 0h0m-1 0h0m-1 0h0m-1 0h0m-2 0h0m-9 0h0m-2 0h0m-2 0h0m-3 0h0m-1 0h0m-1 0h0m-1 0h0m-1 0h0m-1 0h0m-3 0h0m-2 0h0m-1 0h0m-1 0h0m-1 0h0m-2 0h0m-1 0h0m-2 0h0m-1 0h0m-1 0h0m-3 0h0m-1 0h0m-1 0h0m-2 0h0m-1 0h0m-2 0h0m-2 0h0m-1 0h0m-1 0h0m-1 0h0m-2 0h0m-1 0h0m-1 0h0m-2 0h0m-2 0h0m-4 0h0m-2 0h0m-1 0h0m-2 0h0m-2 0h0m-32 1h0m33 0h0m5 0h0m2 0h0m2 0h0m3 0h0m1 0h0m1 0h0m1 0h0m4 0h0m4 0h0m1 0h0m1 0h0m2 0h0m1 0h0m1 0h0m1 0h0m1 0h0m2 0h0m2 0h0m1 0h0m2 0h0m1 0h0m3 0h0m1 0h0m1 0h0m1 0h0m2 0h0m2 0h0m1 0h0m1 0h0m2 0h0m2 0h0m1 0h0m1 0h0m1 0h0m2 0h0m1 0h0m7 0h0m1 0h0m3 0h0m2 0h0m1 0h0m2 0h0m1 0h0m1 0h0m2 0h0m4 0h0m1 0h0m1 0h0m1 0h0m1 0h0m1 0h0m3 0h0m2 0h0m1 0h0m6 0h0m4 0h0m2 1h0m-8 0h0m-1 0h0m-5 0h0m-1 0h0m-2 0h0m-1 0h0m-2 0h0m-1 0h0m-1 0h0m-2 0h0m-2 0h0m-1 0h0m-1 0h0m-1 0h0m-1 0h0m-2 0h0m-1 0h0m-1 0h0m-2 0h0m-1 0h0m-1 0h0m-2 0h0m-7 0h0m-1 0h0m-1 0h0m-2 0h0m-1 0h0m-2 0h0m-1 0h0m-3 0h0m-2 0h0m-1 0h0m-1 0h0m-1 0h0m-1 0h0m-4 0h0m-2 0h0m-1 0h0m-1 0h0m-1 0h0m-1 0h0m-1 0h0m-5 0h0m-1 0h0m-4 0h0m-1 0h0m-2 0h0m-3 0h0m-1 0h0m-3 0h0m-2 0h0m-2 0h0m-6 0h0m-4 0h0m1 1h0m6 0h0m4 0h0m3 0h0m2 0h0m1 0h0m1 0h0m1 0h0m1 0h0m3 0h0m1 0h0m2 0h0m5 0h0m1 0h0m1 0h0m2 0h0m2 0h0m2 0h0m1 0h0m1 0h0m2 0h0m6 0h0m2 0h0m3 0h0m1 0h0m1 0h0m1 0h0m1 0h0m1 0h0m2 0h0m1 0h0m1 0h0m6 0h0m2 0h0m1 0h0m1 0h0m3 0h0m1 0h0m3 0h0m1 0h0m1 0h0m1 0h0m1 0h0m3 0h0m6 0h0m4 0h0m9 1h0m-1 0h0m-7 0h0m-5 0h0m-2 0h0m-3 0h0m-1 0h0m-1 0h0m-2 0h0m-1 0h0m-1 0h0m-1 0h0m-1 0h0m-1 0h0m-3 0h0m-2 0h0m-1 0h0m-1 0h0m-4 0h0m-5 0h0m-1 0h0m-1 0h0m-1 0h0m-2 0h0m-1 0h0m-2 0h0m-1 0h0m-1 0h0m-2 0h0m-3 0h0m-1 0h0m-1 0h0m-1 0h0m-2 0h0m-1 0h0m-3 0h0m-1 0h0m-1 0h0m-1 0h0m-1 0h0m-1 0h0m-2 0h0m-2 0h0m-2 0h0m-1 0h0m-1 0h0m-2 0h0m-8 0h0m-2 0h0m-1 0h0m-1 0h0m-11 1h0m15 0h0m3 0h0m1 0h0m1 0h0m1 0h0m1 0h0m1 0h0m1 0h0m5 0h0m1 0h0m2 0h0m1 0h0m1 0h0m2 0h0m1 0h0m1 0h0m1 0h0m2 0h0m3 0h0m1 0h0m1 0h0m1 0h0m4 0h0m1 0h0m1 0h0m2 0h0m1 0h0m1 0h0m1 0h0m1 0h0m1 0h0m1 0h0m1 0h0m6 0h0m1 0h0m1 0h0m1 0h0m1 0h0m2 0h0m1 0h0m1 0h0m3 0h0m1 0h0m3 0h0m2 0h0m1 0h0m2 0h0m1 0h0m2 0h0m2 0h0m1 0h0m13 0h0m-10 1h0m-2 0h0m-3 0h0m-4 0h0m-1 0h0m-1 0h0m-3 0h0m-3 0h0m-1 0h0m-2 0h0m-1 0h0m-2 0h0m-1 0h0m-2 0h0m-2 0h0m-1 0h0m-1 0h0m-5 0h0m-1 0h0m-1 0h0m-3 0h0m-1 0h0m-1 0h0m-2 0h0m-1 0h0m-1 0h0m-1 0h0m-1 0h0m-2 0h0m-3 0h0m-1 0h0m-2 0h0m-1 0h0m-3 0h0m-1 0h0m-1 0h0m-1 0h0m-1 0h0m-1 0h0m-1 0h0m-2 0h0m-1 0h0m-1 0h0m-3 0h0m-1 0h0m-4 0h0m-1 0h0m-2 0h0m-17 1h0m14 0h0m1 0h0m3 0h0m1 0h0m3 0h0m1 0h0m3 0h0m1 0h0m1 0h0m1 0h0m1 0h0m1 0h0m1 0h0m2 0h0m2 0h0m1 0h0m1 0h0m5 0h0m1 0h0m1 0h0m4 0h0m1 0h0m1 0h0m1 0h0m1 0h0m2 0h0m2 0h0m3 0h0m1 0h0m3 0h0m4 0h0m1 0h0m3 0h0m1 0h0m1 0h0m1 0h0m1 0h0m2 0h0m1 0h0m1 0h0m3 0h0m2 0h0m3 0h0m2 0h0m18 1h0m-5 0h0m-9 0h0m-7 0h0m-1 0h0m-3 0h0m-2 0h0m-5 0h0m-1 0h0m-1 0h0m-1 0h0m-1 0h0m-1 0h0m-1 0h0m-7 0h0m-3 0h0m-1 0h0m-1 0h0m-2 0h0m-1 0h0m-1 0h0m-2 0h0m-2 0h0m-1 0h0m-1 0h0m-1 0h0m-4 0h0m-3 0h0m-1 0h0m-2 0h0m-1 0h0m-1 0h0m-1 0h0m-1 0h0m-1 0h0m-1 0h0m-1 0h0m-1 0h0m-1 0h0m-2 0h0m-1 0h0m-8 0h0m-1 0h0m-3 0h0m3 1h0m7 0h0m1 0h0m1 0h0m4 0h0m1 0h0m4 0h0m2 0h0m3 0h0m2 0h0m1 0h0m1 0h0m1 0h0m1 0h0m4 0h0m1 0h0m2 0h0m1 0h0m4 0h0m1 0h0m1 0h0m1 0h0m2 0h0m1 0h0m1 0h0m4 0h0m2 0h0m1 0h0m1 0h0m2 0h0m1 0h0m1 0h0m2 0h0m6 0h0m1 0h0m4 0h0m12 1h0m-11 0h0m-1 0h0m-5 0h0m-1 0h0m-4 0h0m-1 0h0m-3 0h0m-1 0h0m-2 0h0m-1 0h0m-3 0h0m-4 0h0m-1 0h0m-2 0h0m-1 0h0m-2 0h0m-1 0h0m-1 0h0m-1 0h0m-1 0h0m-3 0h0m-1 0h0m-1 0h0m-3 0h0m-3 0h0m-1 0h0m-2 0h0m-4 0h0m-1 0h0m-1 0h0m-1 0h0m-12 0h0m-7 0h0m-4 0h0m15 1h0m1 0h0m2 0h0m1 0h0m3 0h0m7 0h0m3 0h0m1 0h0m2 0h0m1 0h0m2 0h0m1 0h0m2 0h0m1 0h0m1 0h0m2 0h0m2 0h0m1 0h0m1 0h0m1 0h0m1 0h0m1 0h0m2 0h0m4 0h0m2 0h0m1 0h0m2 0h0m4 0h0m2 0h0m1 0h0m3 0h0m1 0h0m2 0h0m7 0h0m2 0h0m4 0h0m5 0h0m-7 1h0m-4 0h0m-6 0h0m-2 0h0m-1 0h0m-1 0h0m-1 0h0m-1 0h0m-1 0h0m-1 0h0m-1 0h0m-1 0h0m-2 0h0m-1 0h0m-2 0h0m-2 0h0m-6 0h0m-1 0h0m-1 0h0m-2 0h0m-1 0h0m-4 0h0m-1 0h0m-3 0h0m-1 0h0m-1 0h0m-1 0h0m-1 0h0m-3 0h0m-2 0h0m-1 0h0m-2 0h0m-1 0h0m-1 0h0m-2 0h0m-1 0h0m-3 0h0m-1 0h0m-2 0h0m-4 0h0m-3 0h0m-5 0h0m-1 1h0m4 0h0m10 0h0m2 0h0m4 0h0m2 0h0m2 0h0m1 0h0m1 0h0m2 0h0m2 0h0m2 0h0m1 0h0m1 0h0m5 0h0m1 0h0m1 0h0m1 0h0m2 0h0m2 0h0m1 0h0m1 0h0m5 0h0m1 0h0m1 0h0m3 0h0m3 0h0m2 0h0m1 0h0m4 0h0m6 1h0m-3 0h0m-1 0h0m-2 0h0m-1 0h0m-1 0h0m-1 0h0m-1 0h0m-1 0h0m-2 0h0m-1 0h0m-2 0h0m-1 0h0m-2 0h0m-2 0h0m-3 0h0m-1 0h0m-3 0h0m-1 0h0m-1 0h0m-2 0h0m-1 0h0m-1 0h0m-2 0h0m-1 0h0m-2 0h0m-4 0h0m-1 0h0m-1 0h0m-1 0h0m-1 0h0m-1 0h0m-6 0h0m-1 0h0m-2 0h0m-2 0h0m-1 0h0m-12 0h0m16 1h0m1 0h0m2 0h0m2 0h0m2 0h0m1 0h0m1 0h0m1 0h0m1 0h0m1 0h0m2 0h0m5 0h0m3 0h0m1 0h0m1 0h0m1 0h0m1 0h0m1 0h0m1 0h0m2 0h0m7 0h0m1 0h0m1 0h0m2 0h0m2 0h0m1 0h0m1 0h0m1 0h0m1 0h0m1 0h0m1 0h0m1 0h0m1 0h0m4 1h0m-3 0h0m-2 0h0m-6 0h0m-1 0h0m-1 0h0m-1 0h0m-1 0h0m-2 0h0m-1 0h0m-1 0h0m-1 0h0m-1 0h0m-2 0h0m-1 0h0m-2 0h0m-1 0h0m-1 0h0m-2 0h0m-1 0h0m-3 0h0m-1 0h0m-1 0h0m-2 0h0m-1 0h0m-2 0h0m-3 0h0m-1 0h0m-1 0h0m-2 0h0m-2 0h0m-3 0h0m-5 0h0m-1 0h0m2 1h0m6 0h0m2 0h0m7 0h0m1 0h0m1 0h0m1 0h0m1 0h0m1 0h0m1 0h0m3 0h0m2 0h0m2 0h0m1 0h0m1 0h0m4 0h0m2 0h0m2 0h0m1 0h0m1 0h0m2 0h0m1 0h0m2 0h0m1 0h0m1 0h0m13 1h0m-7 0h0m-3 0h0m-4 0h0m-1 0h0m-1 0h0m-4 0h0m-1 0h0m-1 0h0m-1 0h0m-1 0h0m-5 0h0m-1 0h0m-1 0h0m-2 0h0m-1 0h0m-2 0h0m-1 0h0m-1 0h0m-1 0h0m-1 0h0m-1 0h0m-1 0h0m-1 0h0m-1 0h0m-15 1h0m5 0h0m6 0h0m4 0h0m2 0h0m1 0h0m1 0h0m2 0h0m1 0h0m1 0h0m2 0h0m4 0h0m2 0h0m2 0h0m3 0h0m1 0h0m2 0h0m1 0h0m1 0h0m3 0h0m1 0h0m8 0h0m-4 1h0m-3 0h0m-1 0h0m-1 0h0m-1 0h0m-1 0h0m-2 0h0m-1 0h0m-1 0h0m-1 0h0m-2 0h0m-1 0h0m-1 0h0m-1 0h0m-2 0h0m-1 0h0m-1 0h0m-4 0h0m-1 0h0m-2 0h0m-4 0h0m-1 0h0m-1 0h0m-2 0h0m4 1h0m4 0h0m1 0h0m1 0h0m1 0h0m1 0h0m2 0h0m1 0h0m4 0h0m2 0h0m2 0h0m1 0h0m1 0h0m2 0h0m5 0h0m3 0h0m-5 1h0m-5 0h0m-7 0h0m-1 0h0m-4 0h0m-6 0h0m-1 0h0m-1 0h0m-1 0h0m-5 0h0m-5 0h0m10 1h0m1 0h0m2 0h0m1 0h0m2 0h0m3 0h0m4 0h0m1 0h0m8 0h0m2 0h0m3 0h0m-16 1h0m-2 0h0m-3 0h0" stroke="#9b9b9b" stroke-width="3.8" stroke-linecap="round" fill="none"/>
<path transform="scale(.5)" d="M0 0m319 130h0m14 10h0m-9 0h0m-67 2h0m22 2h0m26 3h0m32 4h0m-24 2h0m-26 1h0m-65 1h0m76 0h0m-79 5h0m73 6h0m52 3h0m-86 2h0m88 2h0m-41 0h0m-129 1h0m160 0h0m-60 2h0m-94 0h0m174 9h0m-108 3h0m99 7h0m14 0h0m10 5h0m-50 0h0m21 1h0m7 5h0m-26 1h0m33 2h0m-139 1h0m120 0h0m8 0h0m9 0h0m-6 1h0m23 1h0m-19 2h0m-10 0h0m-15 0h0m-90 1h0m68 0h0m43 0h0m-22 1h0m-2 2h0m34 1h0m-21 0h0m-15 0h0m-16 1h0m29 1h0m-6 0h0m-3 0h0m-9 1h0m9 0h0m7 0h0m16 0h0m2 1h0m-104 0h0m78 1h0m37 1h0m-35 0h0m-10 0h0m3 1h0m30 0h0m22 0h0m-91 1h0m-88 1h0m104 0h0m48 0h0m31 1h0m-16 0h0m-7 0h0m-31 0h0m13 1h0m-19 1h0m24 1h0m19 1h0m-104 0h0m3 1h0m7 0h0m103 0h0m-11 1h0m-7 0h0m-10 0h0m-1 0h0m-10 0h0m-3 0h0m-106 1h0m84 0h0m20 0h0m25 1h0m-6 0h0m-32 0h0m-7 0h0m-21 0h0m91 1h0m-93 1h0m-4 1h0m44 0h0m12 0h0m20 0h0m7 0h0m13 1h0m-38 0h0m-31 0h0m-20 1h0m28 0h0m29 0h0m7 0h0m25 1h0m-61 0h0m-1 0h0m-12 0h0m-12 0h0m-21 0h0m16 1h0m6 0h0m16 0h0m4 0h0m28 0h0m10 0h0m8 0h0m1 0h0m13 1h0m-9 0h0m-22 0h0m-1 0h0m-12 0h0m-8 0h0m-65 1h0m12 0h0m27 0h0m2 0h0m36 0h0m20 0h0m12 0h0m16 0h0m-24 1h0m-19 0h0m-3 0h0m-2 0h0m-3 0h0m-13 0h0m-122 1h0m70 0h0m11 0h0m56 0h0m36 0h0m-21 1h0m-4 0h0m-6 0h0m-3 0h0m-4 0h0m-6 0h0m-4 0h0m-6 0h0m-10 0h0m-11 1h0m30 0h0m3 0h0m2 0h0m9 0h0m9 0h0m17 0h0m13 0h0m-11 1h0m-9 0h0m-6 0h0m-1 0h0m-11 0h0m-1 0h0m-1 0h0m-13 0h0m-1 0h0m-7 0h0m-2 0h0m-4 0h0m-23 0h0m-1 0h0m-13 0h0m-6 0h0m-22 0h0m8 1h0m29 0h0m18 0h0m33 0h0m1 0h0m2 0h0m6 0h0m2 0h0m11 0h0m9 0h0m8 0h0m-4 1h0m-20 0h0m-1 0h0m-1 0h0m-4 0h0m-2 0h0m-7 0h0m-5 0h0m-1 0h0m-2 0h0m-14 0h0m-30 0h0m-8 1h0m35 0h0m13 0h0m2 0h0m4 0h0m3 0h0m1 0h0m3 0h0m4 0h0m1 0h0m2 0h0m6 0h0m5 0h0m1 0h0m1 0h0m1 0h0m1 0h0m3 0h0m4 0h0m3 0h0m7 0h0m-9 1h0m-3 0h0m-7 0h0m-7 0h0m-2 0h0m-13 0h0m-6 0h0m-3 0h0m-1 0h0m-24 0h0m-3 0h0m-3 0h0m-47 1h0m45 0h0m1 0h0m2 0h0m9 0h0m13 0h0m14 0h0m5 0h0m1 0h0m4 0h0m14 0h0m10 0h0m16 0h0m4 0h0m-10 1h0m-2 0h0m-20 0h0m-1 0h0m-4 0h0m-9 0h0m-2 0h0m-3 0h0m-3 0h0m-1 0h0m-1 0h0m-1 0h0m-1 0h0m-3 0h0m-1 0h0m-3 0h0m-1 0h0m-2 0h0m-7 0h0m-9 0h0m-29 1h0m21 0h0m1 0h0m1 0h0m18 0h0m1 0h0m1 0h0m1 0h0m30 0h0m3 0h0m10 0h0m8 0h0m4 0h0m2 0h0m1 0h0m-14 1h0m-11 0h0m-6 0h0m-5 0h0m-5 0h0m-1 0h0m-7 0h0m-10 0h0m-1 0h0m-2 0h0m-14 0h0m-11 0h0m-1 1h0m4 0h0m7 0h0m2 0h0m8 0h0m5 0h0m3 0h0m15 0h0m2 0h0m8 0h0m11 0h0m2 0h0m11 0h0m7 0h0m7 0h0m2 0h0m4 1h0m-10 0h0m-3 0h0m-5 0h0m-8 0h0m-2 0h0m-3 0h0m-1 0h0m-7 0h0m-8 0h0m-2 0h0m-5 0h0m-2 0h0m-3 0h0m-6 0h0m-13 0h0m-1 0h0m-2 0h0m-2 0h0m-1 0h0m-2 0h0m-6 0h0m-34 0h0m27 1h0m11 0h0m5 0h0m2 0h0m3 0h0m4 0h0m2 0h0m2 0h0m1 0h0m1 0h0m5 0h0m4 0h0m1 0h0m2 0h0m1 0h0m2 0h0m1 0h0m2 0h0m4 0h0m1 0h0m1 0h0m8 0h0m2 0h0m3 0h0m2 0h0m6 0h0m3 0h0m5 0h0m4 0h0m1 0h0m13 1h0m-13 0h0m-4 0h0m-5 0h0m-8 0h0m-4 0h0m-3 0h0m-2 0h0m-24 0h0m-2 0h0m-2 0h0m-1 0h0m-7 0h0m-7 0h0m-3 0h0m-4 0h0m-5 0h0m-2 0h0m-28 0h0m-21 1h0m3 0h0m49 0h0m3 0h0m4 0h0m7 0h0m5 0h0m5 0h0m4 0h0m1 0h0m6 0h0m1 0h0m6 0h0m2 0h0m1 0h0m7 0h0m3 0h0m2 0h0m4 0h0m13 0h0m1 0h0m8 0h0m6 0h0m1 0h0m1 0h0m-5 1h0m-7 0h0m-4 0h0m-1 0h0m-3 0h0m-12 0h0m-8 0h0m-3 0h0m-3 0h0m-1 0h0m-1 0h0m-1 0h0m-5 0h0m-1 0h0m-5 0h0m-3 0h0m-6 0h0m-5 0h0m-5 0h0m-1 0h0m-3 0h0m-7 0h0m-10 0h0m-11 0h0m-47 1h0m34 0h0m21 0h0m7 0h0m14 0h0m2 0h0m1 0h0m5 0h0m3 0h0m3 0h0m1 0h0m1 0h0m1 0h0m1 0h0m5 0h0m3 0h0m3 0h0m1 0h0m4 0h0m9 0h0m1 0h0m1 0h0m1 0h0m16 0h0m2 0h0m8 0h0m4 0h0m5 1h0m-4 0h0m-5 0h0m-6 0h0m-2 0h0m-3 0h0m-7 0h0m-3 0h0m-3 0h0m-1 0h0m-1 0h0m-1 0h0m-12 0h0m-3 0h0m-5 0h0m-1 0h0m-1 0h0m-5 0h0m-5 0h0m-1 0h0m-2 0h0m-3 0h0m-4 0h0m-2 0h0m-4 0h0m-1 0h0m-2 0h0m-1 0h0m-11 0h0m-7 0h0m-9 0h0m-8 0h0m2 1h0m27 0h0m3 0h0m8 0h0m4 0h0m3 0h0m1 0h0m1 0h0m1 0h0m1 0h0m1 0h0m3 0h0m4 0h0m6 0h0m1 0h0m4 0h0m4 0h0m2 0h0m1 0h0m1 0h0m3 0h0m1 0h0m1 0h0m1 0h0m3 0h0m3 0h0m2 0h0m7 0h0m2 0h0m6 0h0m3 0h0m1 0h0m16 0h0m-13 1h0m-9 0h0m-2 0h0m-4 0h0m-4 0h0m-4 0h0m-5 0h0m-1 0h0m-1 0h0m-9 0h0m-5 0h0m-3 0h0m-3 0h0m-2 0h0m-1 0h0m-4 0h0m-3 0h0m-2 0h0m-2 0h0m-5 0h0m-2 0h0m-6 0h0m-3 0h0m-1 0h0m-4 0h0m-29 0h0m-51 1h0m36 0h0m10 0h0m3 0h0m19 0h0m11 0h0m15 0h0m1 0h0m1 0h0m6 0h0m1 0h0m1 0h0m3 0h0m5 0h0m2 0h0m2 0h0m7 0h0m13 0h0m1 0h0m6 0h0m2 0h0m3 0h0m3 0h0m1 0h0m2 0h0m2 0h0m2 0h0m1 0h0m8 0h0m1 0h0m9 0h0m0 1h0m-22 0h0m-4 0h0m-4 0h0m-8 0h0m-4 0h0m-1 0h0m-1 0h0m-2 0h0m-5 0h0m-2 0h0m-3 0h0m-6 0h0m-5 0h0m-2 0h0m-4 0h0m-10 0h0m-3 0h0m-4 0h0m-1 0h0m-2 0h0m-1 0h0m-1 0h0m-2 0h0m-2 0h0m-21 0h0m-10 0h0m-50 0h0m44 1h0m11 0h0m7 0h0m5 0h0m8 0h0m23 0h0m1 0h0m1 0h0m10 0h0m4 0h0m5 0h0m1 0h0m1 0h0m1 0h0m1 0h0m4 0h0m2 0h0m1 0h0m2 0h0m3 0h0m6 0h0m3 0h0m2 0h0m3 0h0m3 0h0m3 0h0m3 0h0m1 0h0m3 0h0m1 0h0m1 0h0m5 0h0m3 0h0m-3 1h0m-1 0h0m-2 0h0m-1 0h0m-6 0h0m-9 0h0m-1 0h0m-6 0h0m-6 0h0m-1 0h0m-5 0h0m-2 0h0m-5 0h0m-1 0h0m-10 0h0m-1 0h0m-3 0h0m-5 0h0m-1 0h0m-6 0h0m-1 0h0m-1 0h0m-4 0h0m-8 0h0m-8 0h0m-3 0h0m-6 0h0m-2 0h0m-72 1h0m34 0h0m8 0h0m20 0h0m10 0h0m5 0h0m11 0h0m14 0h0m6 0h0m3 0h0m1 0h0m1 0h0m6 0h0m4 0h0m1 0h0m1 0h0m8 0h0m5 0h0m7 0h0m4 0h0m3 0h0m6 0h0m1 0h0m9 0h0m11 0h0m3 0h0m1 0h0m3 1h0m-4 0h0m-7 0h0m-2 0h0m-7 0h0m-1 0h0m-1 0h0m-2 0h0m-2 0h0m-1 0h0m-4 0h0m-7 0h0m-2 0h0m-4 0h0m-1 0h0m-15 0h0m-4 0h0m-4 0h0m-3 0h0m-19 0h0m-1 0h0m-2 0h0m-8 0h0m-10 0h0m-2 0h0m-1 0h0m1 1h0m1 0h0m2 0h0m4 0h0m5 0h0m18 0h0m5 0h0m1 0h0m2 0h0m4 0h0m1 0h0m1 0h0m5 0h0m1 0h0m4 0h0m4 0h0m2 0h0m1 0h0m1 0h0m1 0h0m2 0h0m1 0h0m13 0h0m6 0h0m7 0h0m7 0h0m1 0h0m1 0h0m2 0h0m7 0h0m2 1h0m-5 0h0m-3 0h0m-2 0h0m-1 0h0m-1 0h0m-2 0h0m-5 0h0m-9 0h0m-4 0h0m-6 0h0m-1 0h0m-1 0h0m-5 0h0m-4 0h0m-6 0h0m-5 0h0m-4 0h0m-2 0h0m-4 0h0m-12 0h0m-1 0h0m-1 0h0m-1 0h0m-2 0h0m-2 0h0m-12 0h0m-2 0h0m-1 0h0m-8 0h0m-21 1h0m25 0h0m2 0h0m4 0h0m1 0h0m4 0h0m2 0h0m2 0h0m1 0h0m11 0h0m2 0h0m6 0h0m2 0h0m3 0h0m9 0h0m22 0h0m2 0h0m2 0h0m4 0h0m3 0h0m1 0h0m1 0h0m2 0h0m2 0h0m2 0h0m1 0h0m7 0h0m1 0h0m6 1h0m-7 0h0m-1 0h0m-2 0h0m-8 0h0m-1 0h0m-15 0h0m-3 0h0m-2 0h0m-6 0h0m-14 0h0m-2 0h0m-2 0h0m-4 0h0m-2 0h0m-1 0h0m-3 0h0m-3 0h0m-1 0h0m-9 0h0m-1 0h0m-3 0h0m-3 0h0m-1 0h0m-4 0h0m-59 0h0m-2 0h0m-1 0h0m31 1h0m16 0h0m3 0h0m12 0h0m4 0h0m6 0h0m1 0h0m4 0h0m5 0h0m1 0h0m1 0h0m6 0h0m3 0h0m3 0h0m4 0h0m4 0h0m1 0h0m1 0h0m4 0h0m6 0h0m5 0h0m2 0h0m1 0h0m1 0h0m1 0h0m8 0h0m12 0h0m7 0h0m6 0h0m2 0h0m7 0h0m-1 1h0m-11 0h0m-11 0h0m-2 0h0m-8 0h0m-3 0h0m-5 0h0m-8 0h0m-4 0h0m-2 0h0m-6 0h0m-2 0h0m-1 0h0m-5 0h0m-2 0h0m-2 0h0m-1 0h0m-4 0h0m-3 0h0m-3 0h0m-4 0h0m-2 0h0m-2 0h0m-4 0h0m-1 0h0m-4 0h0m-1 0h0m-2 0h0m-2 0h0m-6 0h0m-23 0h0m1 1h0m9 0h0m10 0h0m7 0h0m4 0h0m2 0h0m2 0h0m1 0h0m3 0h0m1 0h0m2 0h0m4 0h0m7 0h0m2 0h0m4 0h0m6 0h0m5 0h0m8 0h0m12 0h0m5 0h0m2 0h0m5 0h0m1 0h0m12 0h0m1 0h0m3 0h0m1 0h0m6 0h0m2 0h0m1 0h0m1 0h0m3 0h0m1 0h0m2 0h0m-7 1h0m-1 0h0m-4 0h0m-8 0h0m-15 0h0m-8 0h0m-1 0h0m-1 0h0m-1 0h0m-16 0h0m-3 0h0m-4 0h0m-2 0h0m-3 0h0m-1 0h0m-12 0h0m-6 0h0m-6 0h0m-1 0h0m-7 0h0m-7 0h0m-1 0h0m-3 0h0m-20 0h0m-2 0h0m-23 1h0m22 0h0m16 0h0m3 0h0m7 0h0m10 0h0m3 0h0m3 0h0m1 0h0m5 0h0m18 0h0m1 0h0m7 0h0m1 0h0m1 0h0m2 0h0m1 0h0m5 0h0m2 0h0m5 0h0m2 0h0m1 0h0m4 0h0m1 0h0m1 0h0m2 0h0m2 0h0m7 0h0m3 0h0m8 0h0m4 0h0m2 0h0m1 0h0m1 0h0m5 0h0m5 0h0m0 1h0m-2 0h0m-3 0h0m-5 0h0m-3 0h0m-7 0h0m-1 0h0m-3 0h0m-1 0h0m-2 0h0m-3 0h0m-6 0h0m-2 0h0m-1 0h0m-1 0h0m-2 0h0m-1 0h0m-7 0h0m-1 0h0m-2 0h0m-2 0h0m-4 0h0m-3 0h0m-3 0h0m-1 0h0m-2 0h0m-5 0h0m-1 0h0m-2 0h0m-2 0h0m-1 0h0m-3 0h0m-6 0h0m-7 0h0m-3 0h0m-2 0h0m-1 0h0m-6 0h0m-3 0h0m-2 0h0m-6 0h0m-2 0h0m-1 0h0m-6 0h0m-22 0h0m-13 0h0m-13 0h0m24 1h0m13 0h0m3 0h0m21 0h0m5 0h0m1 0h0m3 0h0m1 0h0m3 0h0m9 0h0m1 0h0m1 0h0m15 0h0m15 0h0m5 0h0m12 0h0m4 0h0m11 0h0m3 0h0m3 0h0m1 0h0m2 0h0m7 0h0m2 0h0m1 0h0m1 0h0m-2 1h0m-3 0h0m-1 0h0m-1 0h0m-5 0h0m-1 0h0m-5 0h0m-3 0h0m-3 0h0m-4 0h0m-7 0h0m-1 0h0m-2 0h0m-1 0h0m-8 0h0m-1 0h0m-16 0h0m-3 0h0m-8 0h0m-4 0h0m-4 0h0m-1 0h0m-10 0h0m-11 0h0m-4 0h0m-6 0h0m-6 0h0m-11 0h0m-4 0h0m9 1h0m3 0h0m7 0h0m3 0h0m1 0h0m5 0h0m8 0h0m4 0h0m2 0h0m2 0h0m4 0h0m2 0h0m5 0h0m2 0h0m2 0h0m2 0h0m4 0h0m3 0h0m2 0h0m3 0h0m2 0h0m2 0h0m2 0h0m3 0h0m1 0h0m8 0h0m3 0h0m1 0h0m1 0h0m4 0h0m4 0h0m1 0h0m5 0h0m8 0h0m2 0h0m8 0h0m6 0h0m3 0h0m1 0h0m3 0h0m-8 1h0m-3 0h0m-2 0h0m-7 0h0m-3 0h0m-2 0h0m-1 0h0m-5 0h0m-2 0h0m-6 0h0m-1 0h0m-4 0h0m-3 0h0m-2 0h0m-4 0h0m-5 0h0m-1 0h0m-4 0h0m-5 0h0m-1 0h0m-10 0h0m-2 0h0m-1 0h0m-6 0h0m-5 0h0m-4 0h0m-1 0h0m-6 0h0m-2 0h0m-3 0h0m-2 0h0m-3 0h0m-3 0h0m-1 0h0m-10 0h0m-3 0h0m-26 0h0m-3 0h0m-39 1h0m41 0h0m1 0h0m40 0h0m8 0h0m3 0h0m8 0h0m3 0h0m1 0h0m1 0h0m2 0h0m1 0h0m11 0h0m2 0h0m6 0h0m1 0h0m1 0h0m2 0h0m1 0h0m2 0h0m4 0h0m2 0h0m5 0h0m1 0h0m5 0h0m5 0h0m3 0h0m5 0h0m2 0h0m7 0h0m1 0h0m14 0h0m4 0h0m8 0h0m3 1h0m-6 0h0m-1 0h0m-2 0h0m-2 0h0m-2 0h0m-3 0h0m-4 0h0m-2 0h0m-1 0h0m-1 0h0m-4 0h0m-5 0h0m-2 0h0m-4 0h0m-1 0h0m-3 0h0m-1 0h0m-1 0h0m-3 0h0m-3 0h0m-9 0h0m-4 0h0m-1 0h0m-3 0h0m-1 0h0m-1 0h0m-1 0h0m-6 0h0m-8 0h0m-5 0h0m-6 0h0m-2 0h0m-2 0h0m-7 0h0m-2 0h0m-3 0h0m-3 0h0m-1 0h0m-13 0h0m-5 0h0m-15 0h0m-25 0h0m29 1h0m3 0h0m5 0h0m9 0h0m5 0h0m9 0h0m5 0h0m2 0h0m11 0h0m1 0h0m1 0h0m5 0h0m10 0h0m7 0h0m3 0h0m3 0h0m5 0h0m1 0h0m3 0h0m10 0h0m2 0h0m3 0h0m1 0h0m1 0h0m1 0h0m1 0h0m10 0h0m6 0h0m3 0h0m2 0h0m1 0h0m2 0h0m2 0h0m5 0h0m-2 1h0m-2 0h0m-7 0h0m-2 0h0m-4 0h0m-2 0h0m-3 0h0m-4 0h0m-2 0h0m-7 0h0m-11 0h0m-1 0h0m-2 0h0m-3 0h0m-7 0h0m-1 0h0m-4 0h0m-1 0h0m-3 0h0m-2 0h0m-3 0h0m-12 0h0m-2 0h0m-1 0h0m-6 0h0m-2 0h0m-3 0h0m-1 0h0m-1 0h0m-4 0h0m-6 0h0m-2 0h0m-1 0h0m-6 0h0m-6 0h0m-4 0h0m-3 0h0m-11 0h0m-11 0h0m-1 0h0m-16 1h0m14 0h0m9 0h0m1 0h0m4 0h0m18 0h0m4 0h0m1 0h0m3 0h0m3 0h0m2 0h0m6 0h0m1 0h0m19 0h0m2 0h0m10 0h0m4 0h0m5 0h0m14 0h0m1 0h0m2 0h0m3 0h0m2 0h0m7 0h0m6 0h0m15 0h0m4 0h0m1 0h0m3 0h0m1 0h0m1 0h0m1 0h0m4 0h0m1 0h0m2 0h0m2 0h0m2 1h0m-3 0h0m-2 0h0m-2 0h0m-1 0h0m-3 0h0m-3 0h0m-2 0h0m-2 0h0m-4 0h0m-4 0h0m-11 0h0m-1 0h0m-2 0h0m-3 0h0m-4 0h0m-2 0h0m-2 0h0m-2 0h0m-1 0h0m-1 0h0m-4 0h0m-5 0h0m-1 0h0m-2 0h0m-6 0h0m-1 0h0m-4 0h0m-1 0h0m-9 0h0m-2 0h0m-3 0h0m-3 0h0m-9 0h0m-2 0h0m-9 0h0m-10 0h0m-5 0h0m-4 0h0m-1 0h0m-1 0h0m-4 0h0m-2 0h0m-5 0h0m-14 0h0m-62 0h0m3 1h0m31 0h0m45 0h0m1 0h0m1 0h0m8 0h0m4 0h0m3 0h0m1 0h0m1 0h0m5 0h0m1 0h0m1 0h0m1 0h0m7 0h0m1 0h0m3 0h0m1 0h0m4 0h0m4 0h0m5 0h0m1 0h0m5 0h0m1 0h0m4 0h0m3 0h0m9 0h0m1 0h0m1 0h0m4 0h0m3 0h0m6 0h0m7 0h0m3 0h0m1 0h0m1 0h0m1 0h0m6 0h0m1 0h0m2 0h0m2 0h0m1 0h0m1 0h0m5 0h0m2 0h0m6 0h0m1 0h0m1 0h0m2 0h0m8 0h0m2 0h0m2 0h0m3 1h0m-2 0h0m-1 0h0m-2 0h0m-2 0h0m-3 0h0m-1 0h0m-7 0h0m-1 0h0m-3 0h0m-2 0h0m-1 0h0m-4 0h0m-3 0h0m-6 0h0m-1 0h0m-3 0h0m-9 0h0m-5 0h0m-7 0h0m-6 0h0m-2 0h0m-3 0h0m-3 0h0m-5 0h0m-1 0h0m-2 0h0m-1 0h0m-5 0h0m-2 0h0m-3 0h0m-3 0h0m-6 0h0m-10 0h0m-2 0h0m-4 0h0m-1 0h0m-6 0h0m-2 0h0m-2 0h0m-3 0h0m-3 0h0m-2 0h0m-1 0h0m-12 0h0m-6 0h0m-9 0h0m31 1h0m6 0h0m9 0h0m2 0h0m3 0h0m1 0h0m5 0h0m2 0h0m8 0h0m7 0h0m1 0h0m3 0h0m1 0h0m1 0h0m2 0h0m1 0h0m1 0h0m4 0h0m4 0h0m5 0h0m2 0h0m7 0h0m1 0h0m5 0h0m2 0h0m2 0h0m2 0h0m3 0h0m5 0h0m1 0h0m4 0h0m3 0h0m2 0h0m4 0h0m1 0h0m2 0h0m5 0h0m1 0h0m10 0h0m3 0h0m-6 1h0m-2 0h0m-3 0h0m-1 0h0m-9 0h0m-2 0h0m-1 0h0m-4 0h0m-5 0h0m-11 0h0m-1 0h0m-1 0h0m-2 0h0m-2 0h0m-4 0h0m-3 0h0m-2 0h0m-4 0h0m-4 0h0m-8 0h0m-10 0h0m-9 0h0m-1 0h0m-3 0h0m-2 0h0m-2 0h0m-2 0h0m-3 0h0m-2 0h0m-4 0h0m-2 0h0m-3 0h0m-3 0h0m-3 0h0m-2 0h0m-4 0h0m-1 0h0m-8 0h0m-3 0h0m-5 0h0m3 1h0m4 0h0m8 0h0m5 0h0m5 0h0m6 0h0m3 0h0m1 0h0m4 0h0m2 0h0m2 0h0m15 0h0m1 0h0m1 0h0m2 0h0m5 0h0m9 0h0m3 0h0m1 0h0m6 0h0m5 0h0m2 0h0m8 0h0m1 0h0m2 0h0m11 0h0m1 0h0m4 0h0m7 0h0m6 0h0m3 0h0m2 0h0m4 0h0m2 0h0m3 1h0m-5 0h0m-1 0h0m-2 0h0m-3 0h0m-2 0h0m-8 0h0m-1 0h0m-9 0h0m-1 0h0m-2 0h0m-3 0h0m-5 0h0m-2 0h0m-4 0h0m-6 0h0m-1 0h0m-1 0h0m-2 0h0m-5 0h0m-1 0h0m-1 0h0m-2 0h0m-4 0h0m-6 0h0m-7 0h0m-1 0h0m-4 0h0m-1 0h0m-1 0h0m-7 0h0m-2 0h0m-2 0h0m-2 0h0m-1 0h0m-1 0h0m-3 0h0m-1 0h0m-5 0h0m-2 0h0m-1 0h0m-11 0h0m-2 0h0m-9 0h0m-1 0h0m-1 0h0m-17 0h0m-10 0h0m-3 1h0m18 0h0m2 0h0m5 0h0m1 0h0m9 0h0m8 0h0m1 0h0m5 0h0m6 0h0m1 0h0m3 0h0m6 0h0m1 0h0m2 0h0m12 0h0m2 0h0m1 0h0m1 0h0m7 0h0m1 0h0m10 0h0m5 0h0m5 0h0m8 0h0m1 0h0m1 0h0m1 0h0m9 0h0m3 0h0m1 0h0m1 0h0m1 0h0m5 0h0m2 0h0m6 0h0m3 0h0m1 0h0m2 0h0m7 0h0m3 0h0m2 0h0m2 0h0m3 0h0m-14 1h0m-3 0h0m-3 0h0m-1 0h0m-2 0h0m-3 0h0m-16 0h0m-2 0h0m-1 0h0m-2 0h0m-8 0h0m-4 0h0m-2 0h0m-1 0h0m-2 0h0m-2 0h0m-12 0h0m-4 0h0m-3 0h0m-3 0h0m-1 0h0m-4 0h0m-3 0h0m-1 0h0m-1 0h0m-1 0h0m-1 0h0m-3 0h0m-2 0h0m-4 0h0m-2 0h0m-1 0h0m-2 0h0m-1 0h0m-6 0h0m-1 0h0m-4 0h0m-3 0h0m-10 0h0m-11 0h0m-7 0h0m-21 0h0m10 1h0m26 0h0m3 0h0m2 0h0m1 0h0m4 0h0m6 0h0m2 0h0m1 0h0m2 0h0m5 0h0m6 0h0m3 0h0m7 0h0m3 0h0m1 0h0m6 0h0m4 0h0m3 0h0m1 0h0m2 0h0m3 0h0m2 0h0m4 0h0m1 0h0m8 0h0m4 0h0m5 0h0m1 0h0m3 0h0m3 0h0m3 0h0m8 0h0m4 0h0m4 0h0m1 0h0m6 0h0m5 0h0m1 0h0m9 0h0m8 0h0m-1 1h0m-1 0h0m-6 0h0m-3 0h0m-1 0h0m-4 0h0m-7 0h0m-8 0h0m-3 0h0m-4 0h0m-1 0h0m-1 0h0m-1 0h0m-1 0h0m-4 0h0m-8 0h0m-1 0h0m-1 0h0m-1 0h0m-5 0h0m-4 0h0m-4 0h0m-3 0h0m-1 0h0m-1 0h0m-1 0h0m-2 0h0m-1 0h0m-3 0h0m-1 0h0m-2 0h0m-6 0h0m-4 0h0m-3 0h0m-2 0h0m-1 0h0m-10 0h0m-3 0h0m-2 0h0m-2 0h0m-9 0h0m-4 0h0m-4 0h0m-4 0h0m-1 0h0m-1 0h0m-4 0h0m-5 0h0m-1 0h0m-29 1h0m19 0h0m13 0h0m1 0h0m5 0h0m4 0h0m1 0h0m4 0h0m5 0h0m3 0h0m9 0h0m1 0h0m2 0h0m3 0h0m3 0h0m11 0h0m1 0h0m8 0h0m1 0h0m4 0h0m2 0h0m1 0h0m11 0h0m1 0h0m2 0h0m4 0h0m8 0h0m3 0h0m3 0h0m6 0h0m5 0h0m2 0h0m5 0h0m1 0h0m7 0h0m5 0h0m4 0h0m1 0h0m3 0h0m1 0h0m3 0h0m5 0h0m-5 1h0m-15 0h0m-6 0h0m-3 0h0m-1 0h0m-2 0h0m-2 0h0m-8 0h0m-9 0h0m-1 0h0m-2 0h0m-2 0h0m-2 0h0m-3 0h0m-2 0h0m-5 0h0m-2 0h0m-1 0h0m-5 0h0m-5 0h0m-3 0h0m-1 0h0m-1 0h0m-1 0h0m-3 0h0m-1 0h0m-3 0h0m-6 0h0m-6 0h0m-4 0h0m-3 0h0m-5 0h0m-5 0h0m-1 0h0m-1 0h0m-3 0h0m-4 0h0m-1 0h0m-4 0h0m-8 0h0m-6 0h0m-6 0h0m-84 1h0m77 0h0m19 0h0m11 0h0m7 0h0m2 0h0m4 0h0m2 0h0m1 0h0m2 0h0m3 0h0m2 0h0m4 0h0m3 0h0m9 0h0m4 0h0m5 0h0m3 0h0m4 0h0m2 0h0m7 0h0m2 0h0m1 0h0m1 0h0m1 0h0m4 0h0m2 0h0m4 0h0m2 0h0m3 0h0m17 0h0m4 0h0m1 0h0m3 0h0m1 0h0m1 0h0m1 0h0m2 0h0m5 0h0m4 0h0m2 0h0m6 0h0m4 0h0m-8 1h0m-1 0h0m-1 0h0m-1 0h0m-1 0h0m-2 0h0m-1 0h0m-8 0h0m-1 0h0m-1 0h0m-3 0h0m-2 0h0m-3 0h0m-3 0h0m-4 0h0m-1 0h0m-4 0h0m-2 0h0m-1 0h0m-1 0h0m-1 0h0m-11 0h0m-1 0h0m-1 0h0m-9 0h0m-1 0h0m-4 0h0m-3 0h0m-3 0h0m-4 0h0m-1 0h0m-7 0h0m-5 0h0m-2 0h0m-2 0h0m-2 0h0m-1 0h0m-1 0h0m-2 0h0m-3 0h0m-2 0h0m-4 0h0m-3 0h0m-5 0h0m-2 0h0m-3 0h0m-5 0h0m-2 0h0m-7 0h0m-1 0h0m-4 0h0m-5 0h0m-3 0h0m1 1h0m1 0h0m11 0h0m3 0h0m9 0h0m8 0h0m8 0h0m8 0h0m2 0h0m6 0h0m1 0h0m2 0h0m4 0h0m4 0h0m5 0h0m3 0h0m1 0h0m1 0h0m8 0h0m1 0h0m1 0h0m5 0h0m11 0h0m8 0h0m2 0h0m3 0h0m1 0h0m1 0h0m5 0h0m1 0h0m1 0h0m3 0h0m6 0h0m4 0h0m11 0h0m5 0h0m3 1h0m-6 0h0m-5 0h0m-2 0h0m-6 0h0m-1 0h0m-2 0h0m-1 0h0m-7 0h0m-1 0h0m-3 0h0m-2 0h0m-12 0h0m-1 0h0m-5 0h0m-1 0h0m-1 0h0m-4 0h0m-6 0h0m-3 0h0m-3 0h0m-5 0h0m-3 0h0m-1 0h0m-6 0h0m-4 0h0m-1 0h0m-1 0h0m-2 0h0m-4 0h0m-4 0h0m-2 0h0m-9 0h0m-9 0h0m-2 0h0m-5 0h0m-3 0h0m-1 0h0m-2 0h0m-3 0h0m-3 0h0m-4 0h0m-2 0h0m-6 0h0m-1 0h0m-3 0h0m-1 0h0m-5 0h0m-6 0h0m10 1h0m3 0h0m1 0h0m11 0h0m1 0h0m2 0h0m7 0h0m5 0h0m2 0h0m4 0h0m8 0h0m3 0h0m1 0h0m1 0h0m2 0h0m3 0h0m1 0h0m1 0h0m3 0h0m6 0h0m5 0h0m3 0h0m1 0h0m3 0h0m4 0h0m1 0h0m2 0h0m1 0h0m2 0h0m6 0h0m3 0h0m3 0h0m1 0h0m2 0h0m7 0h0m2 0h0m1 0h0m1 0h0m5 0h0m1 0h0m3 0h0m10 0h0m1 0h0m4 0h0m2 0h0m8 0h0m2 0h0m3 0h0m1 0h0m1 0h0m2 0h0m-2 1h0m-2 0h0m-4 0h0m-3 0h0m-3 0h0m-1 0h0m-3 0h0m-1 0h0m-2 0h0m-1 0h0m-4 0h0m-7 0h0m-3 0h0m-3 0h0m-2 0h0m-2 0h0m-2 0h0m-1 0h0m-3 0h0m-4 0h0m-1 0h0m-5 0h0m-1 0h0m-9 0h0m-1 0h0m-6 0h0m-2 0h0m-9 0h0m-5 0h0m-2 0h0m-6 0h0m-5 0h0m-4 0h0m-1 0h0m-1 0h0m-4 0h0m-2 0h0m-1 0h0m-11 0h0m-10 0h0m-2 0h0m-2 0h0m-7 0h0m-2 0h0m-1 0h0m-11 0h0m-22 0h0m15 1h0m20 0h0m1 0h0m1 0h0m1 0h0m7 0h0m8 0h0m5 0h0m1 0h0m14 0h0m4 0h0m25 0h0m3 0h0m3 0h0m1 0h0m4 0h0m4 0h0m1 0h0m3 0h0m5 0h0m3 0h0m1 0h0m4 0h0m5 0h0m1 0h0m1 0h0m6 0h0m1 0h0m15 0h0m2 0h0m2 0h0m5 0h0m2 0h0m5 0h0m8 0h0m1 1h0m-1 0h0m-2 0h0m-2 0h0m-3 0h0m-2 0h0m-1 0h0m-5 0h0m-1 0h0m-1 0h0m-2 0h0m-8 0h0m-5 0h0m-6 0h0m-3 0h0m-3 0h0m-6 0h0m-2 0h0m-1 0h0m-4 0h0m-2 0h0m-1 0h0m-1 0h0m-5 0h0m-5 0h0m-1 0h0m-2 0h0m-9 0h0m-1 0h0m-4 0h0m-2 0h0m-5 0h0m-4 0h0m-1 0h0m-1 0h0m-2 0h0m-8 0h0m-10 0h0m-1 0h0m-3 0h0m-3 0h0m-5 0h0m-2 0h0m-4 0h0m-5 0h0m-6 0h0m-5 0h0m-1 0h0m-3 0h0m-11 0h0m-7 0h0m10 1h0m5 0h0m1 0h0m2 0h0m7 0h0m4 0h0m2 0h0m4 0h0m3 0h0m1 0h0m4 0h0m1 0h0m3 0h0m5 0h0m2 0h0m2 0h0m2 0h0m1 0h0m2 0h0m1 0h0m2 0h0m3 0h0m13 0h0m2 0h0m10 0h0m4 0h0m3 0h0m1 0h0m2 0h0m6 0h0m2 0h0m2 0h0m2 0h0m3 0h0m3 0h0m1 0h0m2 0h0m2 0h0m2 0h0m10 0h0m16 0h0m1 0h0m2 0h0m7 0h0m2 0h0m1 0h0m1 0h0m1 0h0m5 0h0m7 0h0m0 1h0m-7 0h0m-1 0h0m-2 0h0m-3 0h0m-2 0h0m-1 0h0m-1 0h0m-4 0h0m-2 0h0m-1 0h0m-5 0h0m-1 0h0m-6 0h0m-2 0h0m-5 0h0m-1 0h0m-4 0h0m-2 0h0m-7 0h0m-9 0h0m-9 0h0m-15 0h0m-1 0h0m-3 0h0m-2 0h0m-1 0h0m-2 0h0m-2 0h0m-1 0h0m-2 0h0m-2 0h0m-4 0h0m-2 0h0m-7 0h0m-1 0h0m-1 0h0m-4 0h0m-6 0h0m-1 0h0m-4 0h0m-4 0h0m-1 0h0m-1 0h0m-2 0h0m-1 0h0m-2 0h0m-4 0h0m-7 0h0m-5 0h0m-3 0h0m-2 0h0m-5 0h0m-10 1h0m24 0h0m11 0h0m2 0h0m5 0h0m1 0h0m3 0h0m1 0h0m3 0h0m5 0h0m11 0h0m2 0h0m14 0h0m3 0h0m9 0h0m7 0h0m4 0h0m6 0h0m1 0h0m2 0h0m2 0h0m5 0h0m4 0h0m2 0h0m6 0h0m3 0h0m2 0h0m6 0h0m1 0h0m4 0h0m8 0h0m3 0h0m5 0h0m7 0h0m11 0h0m0 1h0m-14 0h0m-3 0h0m-1 0h0m-2 0h0m-1 0h0m-4 0h0m-1 0h0m-3 0h0m-4 0h0m-1 0h0m-2 0h0m-6 0h0m-4 0h0m-1 0h0m-4 0h0m-2 0h0m-1 0h0m-1 0h0m-2 0h0m-4 0h0m-1 0h0m-17 0h0m-1 0h0m-1 0h0m-1 0h0m-1 0h0m-1 0h0m-7 0h0m-3 0h0m-1 0h0m-3 0h0m-3 0h0m-4 0h0m-1 0h0m-1 0h0m-5 0h0m-8 0h0m-2 0h0m-14 0h0m-7 0h0m-7 0h0m-2 0h0m-3 0h0m-2 0h0m-9 0h0m-2 0h0m-12 0h0m11 1h0m8 0h0m4 0h0m1 0h0m3 0h0m4 0h0m1 0h0m2 0h0m4 0h0m8 0h0m2 0h0m1 0h0m16 0h0m8 0h0m1 0h0m2 0h0m1 0h0m2 0h0m1 0h0m1 0h0m7 0h0m4 0h0m5 0h0m2 0h0m3 0h0m1 0h0m7 0h0m2 0h0m1 0h0m1 0h0m1 0h0m2 0h0m1 0h0m2 0h0m2 0h0m7 0h0m1 0h0m1 0h0m9 0h0m1 0h0m3 0h0m2 0h0m5 0h0m5 0h0m3 0h0m4 0h0m4 0h0m1 0h0m4 0h0m3 0h0m2 0h0m-3 1h0m-5 0h0m-2 0h0m-2 0h0m-3 0h0m-3 0h0m-1 0h0m-3 0h0m-2 0h0m-1 0h0m-1 0h0m-1 0h0m-3 0h0m-2 0h0m-4 0h0m-3 0h0m-2 0h0m-1 0h0m-5 0h0m-2 0h0m-1 0h0m-1 0h0m-1 0h0m-10 0h0m-5 0h0m-1 0h0m-1 0h0m-3 0h0m-1 0h0m-1 0h0m-1 0h0m-2 0h0m-7 0h0m-6 0h0m-1 0h0m-1 0h0m-3 0h0m-19 0h0m-1 0h0m-1 0h0m-3 0h0m-1 0h0m-2 0h0m-1 0h0m-2 0h0m-2 0h0m-7 0h0m-1 0h0m-2 0h0m-11 0h0m-6 0h0m-11 0h0m-38 1h0m38 0h0m4 0h0m7 0h0m1 0h0m1 0h0m3 0h0m1 0h0m5 0h0m1 0h0m2 0h0m1 0h0m3 0h0m6 0h0m3 0h0m6 0h0m1 0h0m2 0h0m1 0h0m2 0h0m2 0h0m7 0h0m1 0h0m4 0h0m5 0h0m1 0h0m3 0h0m1 0h0m5 0h0m2 0h0m2 0h0m1 0h0m1 0h0m6 0h0m4 0h0m1 0h0m1 0h0m2 0h0m2 0h0m2 0h0m1 0h0m2 0h0m3 0h0m8 0h0m4 0h0m4 0h0m2 0h0m6 0h0m3 0h0m6 0h0m4 0h0m1 0h0m3 0h0m3 0h0m10 0h0m6 0h0m1 0h0m-5 1h0m-8 0h0m-10 0h0m-2 0h0m-2 0h0m-1 0h0m-9 0h0m-1 0h0m-18 0h0m-1 0h0m-2 0h0m-7 0h0m-4 0h0m-2 0h0m-2 0h0m-1 0h0m-1 0h0m-2 0h0m-4 0h0m-25 0h0m-1 0h0m-10 0h0m-4 0h0m-2 0h0m-2 0h0m-2 0h0m-4 0h0m-1 0h0m-1 0h0m-8 0h0m-1 0h0m-3 0h0m-1 0h0m-1 0h0m-12 0h0m-1 0h0m-3 0h0m-6 0h0m6 1h0m4 0h0m2 0h0m2 0h0m3 0h0m8 0h0m1 0h0m6 0h0m1 0h0m1 0h0m4 0h0m3 0h0m3 0h0m2 0h0m1 0h0m7 0h0m10 0h0m1 0h0m2 0h0m1 0h0m1 0h0m1 0h0m1 0h0m3 0h0m3 0h0m2 0h0m1 0h0m3 0h0m2 0h0m1 0h0m2 0h0m6 0h0m9 0h0m1 0h0m2 0h0m2 0h0m9 0h0m2 0h0m7 0h0m5 0h0m2 0h0m2 0h0m1 0h0m1 0h0m1 0h0m5 0h0m3 0h0m5 0h0m3 0h0m1 0h0m1 0h0m1 0h0m10 0h0m3 1h0m-1 0h0m-1 0h0m-4 0h0m-10 0h0m-8 0h0m-4 0h0m-5 0h0m-7 0h0m-1 0h0m-2 0h0m-2 0h0m-1 0h0m-4 0h0m-4 0h0m-2 0h0m-2 0h0m-1 0h0m-5 0h0m-3 0h0m-1 0h0m-1 0h0m-8 0h0m-4 0h0m-5 0h0m-1 0h0m-3 0h0m-6 0h0m-2 0h0m-1 0h0m-4 0h0m-7 0h0m-6 0h0m-1 0h0m-3 0h0m-2 0h0m-4 0h0m-4 0h0m-3 0h0m-2 0h0m-3 0h0m-3 0h0m-4 0h0m-3 0h0m-2 0h0m-2 0h0m-8 0h0m-2 0h0m-5 0h0m-4 0h0m3 1h0m4 0h0m1 0h0m4 0h0m1 0h0m3 0h0m5 0h0m3 0h0m4 0h0m1 0h0m1 0h0m9 0h0m5 0h0m1 0h0m2 0h0m7 0h0m1 0h0m1 0h0m1 0h0m3 0h0m19 0h0m3 0h0m4 0h0m8 0h0m7 0h0m4 0h0m2 0h0m2 0h0m1 0h0m1 0h0m2 0h0m3 0h0m5 0h0m4 0h0m2 0h0m1 0h0m1 0h0m9 0h0m2 0h0m1 0h0m1 0h0m3 0h0m3 0h0m2 0h0m3 0h0m6 0h0m2 0h0m4 0h0m4 1h0m-1 0h0m-2 0h0m-2 0h0m-1 0h0m-2 0h0m-4 0h0m-3 0h0m-5 0h0m-2 0h0m-4 0h0m-2 0h0m-11 0h0m-1 0h0m-11 0h0m-6 0h0m-2 0h0m-8 0h0m-6 0h0m-1 0h0m-2 0h0m-3 0h0m-6 0h0m-6 0h0m-3 0h0m-3 0h0m-2 0h0m-3 0h0m-5 0h0m-14 0h0m-2 0h0m-6 0h0m-1 0h0m-1 0h0m-1 0h0m-2 0h0m-1 0h0m-4 0h0m-2 0h0m-1 0h0m-5 0h0m-5 0h0m-1 0h0m-1 0h0m-1 0h0m-4 0h0m-5 0h0m-13 1h0m9 0h0m8 0h0m1 0h0m1 0h0m3 0h0m1 0h0m7 0h0m1 0h0m1 0h0m2 0h0m1 0h0m1 0h0m15 0h0m2 0h0m2 0h0m2 0h0m4 0h0m1 0h0m8 0h0m4 0h0m2 0h0m2 0h0m5 0h0m2 0h0m1 0h0m5 0h0m7 0h0m1 0h0m6 0h0m3 0h0m1 0h0m2 0h0m11 0h0m12 0h0m2 0h0m3 0h0m2 0h0m1 0h0m2 0h0m2 0h0m3 0h0m3 0h0m6 0h0m1 0h0m5 0h0m3 0h0m8 0h0m4 1h0m-3 0h0m-7 0h0m-1 0h0m-1 0h0m-4 0h0m-1 0h0m-1 0h0m-8 0h0m-8 0h0m-2 0h0m-4 0h0m-1 0h0m-4 0h0m-4 0h0m-2 0h0m-1 0h0m-9 0h0m-5 0h0m-1 0h0m-3 0h0m-8 0h0m-1 0h0m-3 0h0m-1 0h0m-8 0h0m-2 0h0m-1 0h0m-11 0h0m-4 0h0m-3 0h0m-1 0h0m-2 0h0m-1 0h0m-5 0h0m-1 0h0m-4 0h0m-1 0h0m-1 0h0m-5 0h0m-3 0h0m-3 0h0m-3 0h0m-1 0h0m-4 0h0m-8 0h0m-16 0h0m-4 0h0m-9 0h0m-4 1h0m6 0h0m5 0h0m9 0h0m7 0h0m1 0h0m4 0h0m2 0h0m1 0h0m2 0h0m1 0h0m15 0h0m3 0h0m1 0h0m10 0h0m6 0h0m4 0h0m2 0h0m5 0h0m1 0h0m1 0h0m2 0h0m2 0h0m3 0h0m5 0h0m2 0h0m12 0h0m1 0h0m3 0h0m1 0h0m4 0h0m4 0h0m1 0h0m1 0h0m13 0h0m6 0h0m7 0h0m4 0h0m10 0h0m6 0h0m4 0h0m9 0h0m-9 1h0m-5 0h0m-2 0h0m-6 0h0m-1 0h0m-2 0h0m-5 0h0m-1 0h0m-1 0h0m-5 0h0m-3 0h0m-1 0h0m-1 0h0m-3 0h0m-2 0h0m-1 0h0m-1 0h0m-2 0h0m-3 0h0m-4 0h0m-4 0h0m-2 0h0m-5 0h0m-3 0h0m-9 0h0m-6 0h0m-4 0h0m-5 0h0m-1 0h0m-3 0h0m-4 0h0m-2 0h0m-1 0h0m-1 0h0m-3 0h0m-3 0h0m-3 0h0m-1 0h0m-4 0h0m-4 0h0m-1 0h0m-4 0h0m-5 0h0m-1 0h0m-8 0h0m-10 0h0m-4 0h0m-5 0h0m-14 0h0m-1 0h0m-23 1h0m16 0h0m29 0h0m11 0h0m1 0h0m2 0h0m1 0h0m14 0h0m2 0h0m1 0h0m3 0h0m2 0h0m2 0h0m3 0h0m3 0h0m1 0h0m1 0h0m10 0h0m2 0h0m2 0h0m1 0h0m1 0h0m2 0h0m3 0h0m6 0h0m2 0h0m1 0h0m2 0h0m3 0h0m4 0h0m2 0h0m1 0h0m4 0h0m3 0h0m1 0h0m2 0h0m3 0h0m2 0h0m1 0h0m3 0h0m2 0h0m2 0h0m2 0h0m6 0h0m3 0h0m1 0h0m6 0h0m1 0h0m7 0h0m7 0h0m2 0h0m7 0h0m2 0h0m2 0h0m-2 1h0m-13 0h0m-3 0h0m-2 0h0m-2 0h0m-7 0h0m-11 0h0m-1 0h0m-3 0h0m-18 0h0m-7 0h0m-1 0h0m-2 0h0m-1 0h0m-1 0h0m-5 0h0m-11 0h0m-5 0h0m-5 0h0m-5 0h0m-6 0h0m-5 0h0m-2 0h0m-2 0h0m-3 0h0m-3 0h0m-3 0h0m-6 0h0m-1 0h0m-2 0h0m-1 0h0m-1 0h0m-1 0h0m-5 0h0m-1 0h0m-2 0h0m-3 0h0m-11 0h0m-8 0h0m3 1h0m3 0h0m4 0h0m5 0h0m1 0h0m2 0h0m2 0h0m3 0h0m3 0h0m2 0h0m3 0h0m1 0h0m1 0h0m1 0h0m3 0h0m2 0h0m20 0h0m4 0h0m9 0h0m1 0h0m3 0h0m2 0h0m1 0h0m5 0h0m1 0h0m5 0h0m2 0h0m4 0h0m2 0h0m1 0h0m8 0h0m2 0h0m10 0h0m6 0h0m2 0h0m3 0h0m1 0h0m1 0h0m1 0h0m7 0h0m3 0h0m1 0h0m4 0h0m1 0h0m7 0h0m1 0h0m15 1h0m-4 0h0m-2 0h0m-2 0h0m-1 0h0m-3 0h0m-6 0h0m-8 0h0m-1 0h0m-2 0h0m-3 0h0m-8 0h0m-6 0h0m-1 0h0m-7 0h0m-3 0h0m-3 0h0m-3 0h0m-2 0h0m-13 0h0m-6 0h0m-5 0h0m-2 0h0m-1 0h0m-5 0h0m-3 0h0m-1 0h0m-1 0h0m-4 0h0m-5 0h0m-3 0h0m-2 0h0m-2 0h0m-1 0h0m-3 0h0m-5 0h0m-7 0h0m-1 0h0m-4 0h0m-2 0h0m-2 0h0m-1 0h0m-1 0h0m-2 0h0m-2 0h0m-3 0h0m-2 0h0m-4 0h0m-3 0h0m-2 0h0m-13 0h0m-18 0h0m4 1h0m29 0h0m3 0h0m12 0h0m5 0h0m3 0h0m1 0h0m34 0h0m2 0h0m2 0h0m4 0h0m12 0h0m3 0h0m1 0h0m3 0h0m2 0h0m3 0h0m2 0h0m2 0h0m8 0h0m2 0h0m7 0h0m3 0h0m2 0h0m3 0h0m1 0h0m14 0h0m3 0h0m5 0h0m2 0h0m5 0h0m2 0h0m4 0h0m4 0h0m5 0h0m-5 1h0m-2 0h0m-5 0h0m-2 0h0m-1 0h0m-2 0h0m-1 0h0m-5 0h0m-1 0h0m-2 0h0m-1 0h0m-1 0h0m-1 0h0m-5 0h0m-2 0h0m-2 0h0m-2 0h0m-9 0h0m-4 0h0m-1 0h0m-2 0h0m-2 0h0m-3 0h0m-9 0h0m-4 0h0m-1 0h0m-1 0h0m-3 0h0m-1 0h0m-5 0h0m-5 0h0m-1 0h0m-1 0h0m-1 0h0m-3 0h0m-6 0h0m-2 0h0m-2 0h0m-4 0h0m-7 0h0m-2 0h0m-12 0h0m-6 0h0m-10 0h0m-1 0h0m-1 0h0m-2 0h0m-2 0h0m-14 0h0m0 1h0m17 0h0m1 0h0m2 0h0m6 0h0m7 0h0m6 0h0m5 0h0m7 0h0m4 0h0m10 0h0m1 0h0m6 0h0m2 0h0m7 0h0m1 0h0m14 0h0m10 0h0m1 0h0m2 0h0m2 0h0m9 0h0m1 0h0m2 0h0m2 0h0m1 0h0m10 0h0m3 0h0m3 0h0m2 0h0m5 0h0m1 0h0m2 0h0m2 0h0m7 0h0m1 0h0m1 0h0m3 1h0m-10 0h0m-1 0h0m-9 0h0m-4 0h0m-3 0h0m-7 0h0m-7 0h0m-1 0h0m-2 0h0m-8 0h0m-2 0h0m-8 0h0m-5 0h0m-4 0h0m-1 0h0m-1 0h0m-5 0h0m-2 0h0m-2 0h0m-2 0h0m-1 0h0m-1 0h0m-2 0h0m-3 0h0m-2 0h0m-5 0h0m-1 0h0m-10 0h0m-3 0h0m-1 0h0m-1 0h0m-5 0h0m-8 0h0m-2 0h0m-6 0h0m-14 0h0m-3 0h0m-3 0h0m-10 1h0m6 0h0m14 0h0m6 0h0m5 0h0m1 0h0m5 0h0m2 0h0m1 0h0m1 0h0m8 0h0m3 0h0m1 0h0m2 0h0m3 0h0m4 0h0m3 0h0m1 0h0m4 0h0m2 0h0m8 0h0m2 0h0m2 0h0m2 0h0m3 0h0m4 0h0m1 0h0m19 0h0m1 0h0m2 0h0m3 0h0m2 0h0m7 0h0m8 0h0m3 0h0m4 0h0m4 0h0m7 0h0m11 0h0m0 1h0m-1 0h0m-8 0h0m-3 0h0m-2 0h0m-4 0h0m-2 0h0m-1 0h0m-4 0h0m-9 0h0m-4 0h0m-6 0h0m-10 0h0m-1 0h0m-12 0h0m-1 0h0m-1 0h0m-12 0h0m-8 0h0m-1 0h0m-5 0h0m-2 0h0m-2 0h0m-1 0h0m-4 0h0m-4 0h0m-16 0h0m-2 0h0m-1 0h0m-11 0h0m-4 0h0m-2 0h0m-2 0h0m-1 0h0m-1 0h0m-3 0h0m-6 0h0m-9 0h0m-8 1h0m15 0h0m7 0h0m4 0h0m3 0h0m1 0h0m4 0h0m6 0h0m3 0h0m1 0h0m2 0h0m1 0h0m7 0h0m1 0h0m16 0h0m2 0h0m1 0h0m2 0h0m3 0h0m2 0h0m5 0h0m1 0h0m11 0h0m3 0h0m4 0h0m3 0h0m12 0h0m8 0h0m1 0h0m6 0h0m1 0h0m2 0h0m1 0h0m1 0h0m1 0h0m1 0h0m2 0h0m2 0h0m5 0h0m1 0h0m7 0h0m2 0h0m4 0h0m5 0h0m1 0h0m3 0h0m-5 1h0m-2 0h0m-6 0h0m-1 0h0m-3 0h0m-3 0h0m-1 0h0m-7 0h0m-1 0h0m-1 0h0m-3 0h0m-3 0h0m-7 0h0m-5 0h0m-2 0h0m-2 0h0m-10 0h0m-3 0h0m-1 0h0m-1 0h0m-8 0h0m-4 0h0m-1 0h0m-2 0h0m-1 0h0m-3 0h0m-1 0h0m-12 0h0m-2 0h0m-2 0h0m-2 0h0m-15 0h0m-2 0h0m-2 0h0m-1 0h0m-1 0h0m-6 0h0m-6 0h0m-3 0h0m-2 0h0m-2 0h0m-2 0h0m-1 0h0m-4 0h0m-1 0h0m-4 0h0m-10 0h0m-33 0h0m34 1h0m12 0h0m7 0h0m5 0h0m5 0h0m3 0h0m1 0h0m5 0h0m1 0h0m1 0h0m1 0h0m3 0h0m5 0h0m1 0h0m9 0h0m7 0h0m2 0h0m8 0h0m1 0h0m7 0h0m1 0h0m5 0h0m7 0h0m5 0h0m10 0h0m2 0h0m9 0h0m1 0h0m7 0h0m7 0h0m3 0h0m1 0h0m1 0h0m5 0h0m6 0h0m3 0h0m1 0h0m4 0h0m1 0h0m1 0h0m1 0h0m2 1h0m-4 0h0m-1 0h0m-5 0h0m-9 0h0m-1 0h0m-1 0h0m-6 0h0m-7 0h0m-8 0h0m-3 0h0m-3 0h0m-6 0h0m-1 0h0m-1 0h0m-4 0h0m-3 0h0m-8 0h0m-1 0h0m-2 0h0m-6 0h0m-2 0h0m-2 0h0m-1 0h0m-3 0h0m-1 0h0m-1 0h0m-7 0h0m-3 0h0m-1 0h0m-2 0h0m-1 0h0m-8 0h0m-5 0h0m-10 0h0m-2 0h0m-22 0h0m-3 0h0m-1 0h0m-1 0h0m-5 0h0m-21 0h0m-2 0h0m9 1h0m9 0h0m10 0h0m1 0h0m10 0h0m2 0h0m3 0h0m3 0h0m11 0h0m5 0h0m10 0h0m1 0h0m1 0h0m2 0h0m5 0h0m8 0h0m3 0h0m5 0h0m6 0h0m3 0h0m2 0h0m6 0h0m6 0h0m1 0h0m4 0h0m1 0h0m1 0h0m1 0h0m1 0h0m3 0h0m2 0h0m2 0h0m5 0h0m5 0h0m12 0h0m3 0h0m5 0h0m7 0h0m-3 1h0m-1 0h0m-5 0h0m-1 0h0m-3 0h0m-4 0h0m-2 0h0m-2 0h0m-2 0h0m-10 0h0m-2 0h0m-4 0h0m-3 0h0m-1 0h0m-1 0h0m-2 0h0m-1 0h0m-1 0h0m-3 0h0m-2 0h0m-7 0h0m-3 0h0m-8 0h0m-5 0h0m-3 0h0m-5 0h0m-1 0h0m-2 0h0m-4 0h0m-2 0h0m-3 0h0m-3 0h0m-2 0h0m-2 0h0m-1 0h0m-2 0h0m-2 0h0m-3 0h0m-8 0h0m-2 0h0m-1 0h0m-6 0h0m-1 0h0m-1 0h0m-9 0h0m-3 0h0m-2 0h0m-4 0h0m-5 0h0m-2 0h0m-6 0h0m-2 0h0m4 1h0m2 0h0m14 0h0m2 0h0m1 0h0m2 0h0m2 0h0m4 0h0m1 0h0m9 0h0m1 0h0m3 0h0m2 0h0m1 0h0m5 0h0m3 0h0m1 0h0m2 0h0m3 0h0m4 0h0m1 0h0m3 0h0m1 0h0m7 0h0m1 0h0m1 0h0m3 0h0m7 0h0m1 0h0m1 0h0m3 0h0m2 0h0m1 0h0m1 0h0m5 0h0m1 0h0m2 0h0m8 0h0m2 0h0m6 0h0m2 0h0m1 0h0m4 0h0m2 0h0m3 0h0m2 0h0m12 0h0m2 0h0m1 0h0m1 0h0m2 0h0m2 0h0m2 0h0m2 0h0m3 0h0m1 0h0m4 0h0m3 1h0m-5 0h0m-5 0h0m-1 0h0m-1 0h0m-1 0h0m-3 0h0m-2 0h0m-2 0h0m-5 0h0m-6 0h0m-2 0h0m-1 0h0m-2 0h0m-5 0h0m-12 0h0m-1 0h0m-1 0h0m-1 0h0m-1 0h0m-3 0h0m-2 0h0m-4 0h0m-2 0h0m-2 0h0m-5 0h0m-19 0h0m-1 0h0m-1 0h0m-1 0h0m-2 0h0m-2 0h0m-1 0h0m-1 0h0m-2 0h0m-4 0h0m-6 0h0m-2 0h0m-1 0h0m-6 0h0m-1 0h0m-1 0h0m-3 0h0m-4 0h0m-1 0h0m-55 1h0m38 0h0m12 0h0m1 0h0m5 0h0m1 0h0m3 0h0m5 0h0m1 0h0m1 0h0m18 0h0m1 0h0m1 0h0m2 0h0m1 0h0m5 0h0m2 0h0m1 0h0m5 0h0m5 0h0m1 0h0m7 0h0m1 0h0m1 0h0m4 0h0m5 0h0m3 0h0m2 0h0m5 0h0m2 0h0m7 0h0m2 0h0m1 0h0m1 0h0m6 0h0m8 0h0m5 0h0m1 0h0m4 0h0m2 0h0m14 0h0m0 1h0m-1 0h0m-12 0h0m-2 0h0m-6 0h0m-3 0h0m-7 0h0m-2 0h0m-5 0h0m-5 0h0m-5 0h0m-1 0h0m-4 0h0m-14 0h0m-6 0h0m-4 0h0m-6 0h0m-1 0h0m-7 0h0m-1 0h0m-1 0h0m-2 0h0m-6 0h0m-6 0h0m-4 0h0m-4 0h0m-2 0h0m-3 0h0m-2 0h0m-1 0h0m-7 0h0m-1 0h0m-1 0h0m-1 0h0m-3 0h0m-3 0h0m-7 0h0m-10 0h0m-12 0h0m-9 0h0m-17 1h0m20 0h0m21 0h0m3 0h0m7 0h0m2 0h0m8 0h0m7 0h0m2 0h0m1 0h0m1 0h0m2 0h0m4 0h0m2 0h0m4 0h0m2 0h0m1 0h0m1 0h0m5 0h0m5 0h0m7 0h0m3 0h0m1 0h0m2 0h0m1 0h0m8 0h0m1 0h0m1 0h0m2 0h0m1 0h0m3 0h0m2 0h0m2 0h0m3 0h0m4 0h0m4 0h0m1 0h0m3 0h0m12 0h0m1 0h0m5 0h0m1 0h0m8 0h0m1 0h0m1 0h0m2 0h0m3 0h0m2 0h0m3 0h0m5 0h0m2 0h0m2 1h0m-1 0h0m-3 0h0m-2 0h0m-6 0h0m-8 0h0m-2 0h0m-5 0h0m-3 0h0m-1 0h0m-1 0h0m-3 0h0m-5 0h0m-2 0h0m-6 0h0m-4 0h0m-1 0h0m-2 0h0m-1 0h0m-1 0h0m-8 0h0m-6 0h0m-2 0h0m-4 0h0m-2 0h0m-1 0h0m-3 0h0m-2 0h0m-3 0h0m-9 0h0m-2 0h0m-5 0h0m-2 0h0m-2 0h0m-1 0h0m-2 0h0m-7 0h0m-2 0h0m-3 0h0m-5 0h0m-8 0h0m-5 0h0m-1 0h0m-7 0h0m-13 0h0m-20 0h0m18 1h0m4 0h0m2 0h0m5 0h0m12 0h0m13 0h0m1 0h0m8 0h0m1 0h0m2 0h0m1 0h0m4 0h0m1 0h0m4 0h0m12 0h0m7 0h0m1 0h0m2 0h0m7 0h0m2 0h0m13 0h0m1 0h0m5 0h0m2 0h0m2 0h0m1 0h0m4 0h0m9 0h0m5 0h0m7 0h0m2 0h0m6 0h0m6 0h0m6 0h0m7 1h0m-8 0h0m-1 0h0m-4 0h0m-2 0h0m-1 0h0m-12 0h0m-8 0h0m-8 0h0m-1 0h0m-1 0h0m-6 0h0m-3 0h0m-9 0h0m-1 0h0m-3 0h0m-4 0h0m-3 0h0m-3 0h0m-4 0h0m-1 0h0m-1 0h0m-1 0h0m-1 0h0m-1 0h0m-4 0h0m-4 0h0m-5 0h0m-9 0h0m-6 0h0m-4 0h0m-1 0h0m-20 0h0m-2 0h0m-1 0h0m-1 0h0m-5 0h0m-3 0h0m-51 1h0m5 0h0m33 0h0m1 0h0m16 0h0m2 0h0m1 0h0m2 0h0m12 0h0m5 0h0m2 0h0m2 0h0m2 0h0m10 0h0m2 0h0m4 0h0m6 0h0m2 0h0m3 0h0m1 0h0m2 0h0m3 0h0m6 0h0m1 0h0m2 0h0m1 0h0m9 0h0m3 0h0m1 0h0m9 0h0m5 0h0m2 0h0m13 0h0m2 0h0m1 0h0m1 0h0m3 0h0m2 0h0m1 0h0m2 0h0m6 0h0m2 0h0m8 0h0m3 0h0m3 0h0m-2 1h0m-1 0h0m-2 0h0m-5 0h0m-1 0h0m-4 0h0m-3 0h0m-4 0h0m-7 0h0m-17 0h0m-6 0h0m-3 0h0m-2 0h0m-6 0h0m-2 0h0m-4 0h0m-3 0h0m-1 0h0m-4 0h0m-3 0h0m-3 0h0m-1 0h0m-5 0h0m-2 0h0m-9 0h0m-5 0h0m-5 0h0m-7 0h0m-2 0h0m-2 0h0m-1 0h0m-1 0h0m-1 0h0m-3 0h0m-1 0h0m-26 0h0m-33 1h0m21 0h0m11 0h0m3 0h0m3 0h0m2 0h0m1 0h0m2 0h0m3 0h0m5 0h0m3 0h0m1 0h0m2 0h0m1 0h0m1 0h0m5 0h0m2 0h0m1 0h0m3 0h0m6 0h0m10 0h0m3 0h0m7 0h0m6 0h0m1 0h0m3 0h0m8 0h0m2 0h0m2 0h0m16 0h0m1 0h0m1 0h0m4 0h0m2 0h0m13 0h0m2 0h0m4 0h0m2 0h0m7 0h0m3 0h0m2 0h0m1 0h0m12 1h0m-1 0h0m-1 0h0m-9 0h0m-3 0h0m-2 0h0m-5 0h0m-3 0h0m-7 0h0m-11 0h0m-5 0h0m-2 0h0m-3 0h0m-2 0h0m-6 0h0m-2 0h0m-5 0h0m-2 0h0m-3 0h0m-1 0h0m-1 0h0m-1 0h0m-2 0h0m-3 0h0m-4 0h0m-3 0h0m-4 0h0m-2 0h0m-6 0h0m-4 0h0m-3 0h0m-2 0h0m-1 0h0m-2 0h0m-1 0h0m-1 0h0m-2 0h0m-3 0h0m-8 0h0m-2 0h0m-1 0h0m-2 0h0m-3 0h0m-5 0h0m-1 0h0m-24 0h0m-20 0h0m22 1h0m16 0h0m1 0h0m6 0h0m11 0h0m3 0h0m2 0h0m10 0h0m2 0h0m9 0h0m1 0h0m1 0h0m1 0h0m9 0h0m7 0h0m4 0h0m6 0h0m1 0h0m2 0h0m1 0h0m1 0h0m1 0h0m1 0h0m3 0h0m9 0h0m1 0h0m4 0h0m1 0h0m1 0h0m1 0h0m1 0h0m6 0h0m4 0h0m3 0h0m2 0h0m1 0h0m7 0h0m5 0h0m4 0h0m2 0h0m8 0h0m2 0h0m-4 1h0m-2 0h0m-4 0h0m-4 0h0m-7 0h0m-2 0h0m-1 0h0m-3 0h0m-1 0h0m-2 0h0m-2 0h0m-3 0h0m-3 0h0m-1 0h0m-1 0h0m-4 0h0m-1 0h0m-1 0h0m-9 0h0m-3 0h0m-2 0h0m-2 0h0m-9 0h0m-5 0h0m-1 0h0m-1 0h0m-1 0h0m-1 0h0m-11 0h0m-5 0h0m-1 0h0m-2 0h0m-1 0h0m-3 0h0m-1 0h0m-2 0h0m-1 0h0m-5 0h0m-4 0h0m-1 0h0m-1 0h0m-4 0h0m-1 0h0m-3 0h0m-7 0h0m-4 0h0m-5 0h0m-20 0h0m-2 0h0m-3 0h0m-3 0h0m21 1h0m4 0h0m3 0h0m2 0h0m1 0h0m5 0h0m2 0h0m7 0h0m1 0h0m2 0h0m5 0h0m18 0h0m1 0h0m4 0h0m1 0h0m1 0h0m2 0h0m9 0h0m9 0h0m4 0h0m3 0h0m1 0h0m2 0h0m4 0h0m4 0h0m1 0h0m1 0h0m3 0h0m4 0h0m1 0h0m1 0h0m4 0h0m2 0h0m2 0h0m1 0h0m4 0h0m5 0h0m3 0h0m4 0h0m1 0h0m3 0h0m3 0h0m1 0h0m4 0h0m1 0h0m2 0h0m2 0h0m-2 1h0m-1 0h0m-4 0h0m-3 0h0m-7 0h0m-1 0h0m-1 0h0m-2 0h0m-2 0h0m-1 0h0m-7 0h0m-11 0h0m-2 0h0m-3 0h0m-5 0h0m-1 0h0m-1 0h0m-1 0h0m-2 0h0m-10 0h0m-5 0h0m-3 0h0m-1 0h0m-3 0h0m-8 0h0m-1 0h0m-2 0h0m-3 0h0m-3 0h0m-2 0h0m-2 0h0m-2 0h0m-1 0h0m-5 0h0m-2 0h0m-1 0h0m-2 0h0m-2 0h0m-3 0h0m-2 0h0m-17 0h0m-3 0h0m-9 1h0m4 0h0m10 0h0m5 0h0m1 0h0m1 0h0m1 0h0m5 0h0m2 0h0m1 0h0m1 0h0m1 0h0m4 0h0m1 0h0m5 0h0m1 0h0m5 0h0m3 0h0m2 0h0m7 0h0m1 0h0m1 0h0m3 0h0m4 0h0m1 0h0m3 0h0m2 0h0m1 0h0m2 0h0m3 0h0m1 0h0m4 0h0m1 0h0m6 0h0m1 0h0m1 0h0m3 0h0m2 0h0m2 0h0m10 0h0m4 0h0m1 0h0m2 0h0m5 0h0m2 0h0m1 0h0m6 0h0m3 0h0m3 0h0m4 1h0m-1 0h0m-6 0h0m-6 0h0m-6 0h0m-4 0h0m-1 0h0m-4 0h0m-1 0h0m-4 0h0m-4 0h0m-9 0h0m-12 0h0m-1 0h0m-2 0h0m-8 0h0m-2 0h0m-1 0h0m-2 0h0m-10 0h0m-4 0h0m-1 0h0m-8 0h0m-5 0h0m-6 0h0m-9 0h0m-3 0h0m-6 0h0m-6 0h0m-1 0h0m-3 0h0m-12 0h0m-20 0h0m0 1h0m5 0h0m28 0h0m7 0h0m7 0h0m3 0h0m3 0h0m1 0h0m5 0h0m5 0h0m1 0h0m1 0h0m6 0h0m12 0h0m8 0h0m1 0h0m3 0h0m7 0h0m2 0h0m5 0h0m3 0h0m5 0h0m4 0h0m3 0h0m6 0h0m1 0h0m2 0h0m3 0h0m3 0h0m3 0h0m8 0h0m2 0h0m10 0h0m14 0h0m-8 1h0m-6 0h0m-1 0h0m-3 0h0m-2 0h0m-1 0h0m-3 0h0m-5 0h0m-6 0h0m-9 0h0m-2 0h0m-4 0h0m-1 0h0m-7 0h0m-2 0h0m-1 0h0m-2 0h0m-10 0h0m-5 0h0m-4 0h0m-8 0h0m-6 0h0m-1 0h0m-3 0h0m-3 0h0m-6 0h0m-2 0h0m-2 0h0m-2 0h0m-1 0h0m-6 0h0m-1 0h0m-6 0h0m-3 0h0m-3 0h0m-8 0h0m-1 0h0m-11 0h0m-24 0h0m11 1h0m26 0h0m5 0h0m3 0h0m6 0h0m10 0h0m1 0h0m1 0h0m5 0h0m3 0h0m4 0h0m1 0h0m10 0h0m3 0h0m2 0h0m1 0h0m1 0h0m8 0h0m2 0h0m2 0h0m1 0h0m4 0h0m4 0h0m1 0h0m1 0h0m4 0h0m2 0h0m3 0h0m10 0h0m2 0h0m1 0h0m3 0h0m2 0h0m6 0h0m2 0h0m1 0h0m2 0h0m2 0h0m5 0h0m1 0h0m3 0h0m1 0h0m1 0h0m4 0h0m2 0h0m2 0h0m4 0h0m-1 1h0m-7 0h0m-10 0h0m-2 0h0m-1 0h0m-3 0h0m-6 0h0m-3 0h0m-2 0h0m-5 0h0m-2 0h0m-3 0h0m-1 0h0m-4 0h0m-1 0h0m-2 0h0m-8 0h0m-6 0h0m-1 0h0m-2 0h0m-7 0h0m-10 0h0m-1 0h0m-2 0h0m-10 0h0m-4 0h0m-4 0h0m-1 0h0m-2 0h0m-9 0h0m-5 0h0m-6 0h0m-5 0h0m-4 0h0m-9 0h0m-12 0h0m-12 0h0m-7 0h0m37 1h0m10 0h0m4 0h0m2 0h0m8 0h0m2 0h0m1 0h0m2 0h0m1 0h0m8 0h0m2 0h0m2 0h0m1 0h0m2 0h0m3 0h0m1 0h0m1 0h0m2 0h0m4 0h0m2 0h0m1 0h0m9 0h0m2 0h0m1 0h0m12 0h0m7 0h0m6 0h0m6 0h0m1 0h0m4 0h0m3 0h0m2 0h0m2 0h0m2 0h0m7 0h0m3 0h0m1 0h0m4 0h0m8 1h0m-1 0h0m-1 0h0m-4 0h0m-9 0h0m-2 0h0m-2 0h0m-4 0h0m-2 0h0m-8 0h0m-6 0h0m-1 0h0m-1 0h0m-2 0h0m-6 0h0m-2 0h0m-1 0h0m-7 0h0m-3 0h0m-16 0h0m-1 0h0m-3 0h0m-3 0h0m-1 0h0m-11 0h0m-6 0h0m-4 0h0m-6 0h0m-11 0h0m-1 0h0m-2 0h0m-17 0h0m1 1h0m7 0h0m1 0h0m12 0h0m22 0h0m1 0h0m1 0h0m4 0h0m6 0h0m1 0h0m1 0h0m3 0h0m2 0h0m3 0h0m3 0h0m4 0h0m7 0h0m7 0h0m1 0h0m2 0h0m7 0h0m4 0h0m2 0h0m2 0h0m3 0h0m6 0h0m2 0h0m5 0h0m3 0h0m9 0h0m2 0h0m2 0h0m4 0h0m1 0h0m1 0h0m1 0h0m4 0h0m1 0h0m1 0h0m-1 1h0m-4 0h0m-8 0h0m-6 0h0m-3 0h0m-4 0h0m-19 0h0m-2 0h0m-2 0h0m-1 0h0m-7 0h0m-2 0h0m-7 0h0m-4 0h0m-3 0h0m-10 0h0m-2 0h0m-3 0h0m-2 0h0m-2 0h0m-13 0h0m-2 0h0m-3 0h0m-3 0h0m-5 0h0m-3 0h0m-5 0h0m-3 0h0m-18 0h0m-5 0h0m-35 0h0m19 1h0m25 0h0m5 0h0m2 0h0m4 0h0m3 0h0m5 0h0m2 0h0m4 0h0m6 0h0m4 0h0m5 0h0m2 0h0m6 0h0m4 0h0m2 0h0m1 0h0m6 0h0m4 0h0m15 0h0m1 0h0m2 0h0m6 0h0m1 0h0m2 0h0m2 0h0m4 0h0m4 0h0m2 0h0m1 0h0m1 0h0m1 0h0m3 0h0m3 0h0m5 0h0m5 0h0m3 0h0m1 0h0m2 0h0m1 0h0m3 0h0m1 0h0m3 0h0m3 1h0m-1 0h0m-2 0h0m-8 0h0m-2 0h0m-3 0h0m-4 0h0m-1 0h0m-2 0h0m-1 0h0m-2 0h0m-4 0h0m-1 0h0m-4 0h0m-4 0h0m-1 0h0m-5 0h0m-1 0h0m-4 0h0m-3 0h0m-2 0h0m-1 0h0m-2 0h0m-3 0h0m-3 0h0m-5 0h0m-5 0h0m-1 0h0m-5 0h0m-2 0h0m-2 0h0m-3 0h0m-4 0h0m-3 0h0m-3 0h0m-1 0h0m-3 0h0m-2 0h0m-4 0h0m-3 0h0m-3 0h0m-1 0h0m-2 0h0m-6 0h0m-5 0h0m-1 0h0m-9 0h0m-6 0h0m-16 0h0m24 1h0m9 0h0m6 0h0m1 0h0m14 0h0m9 0h0m2 0h0m6 0h0m1 0h0m3 0h0m1 0h0m5 0h0m1 0h0m4 0h0m14 0h0m4 0h0m2 0h0m2 0h0m9 0h0m1 0h0m3 0h0m4 0h0m1 0h0m9 0h0m19 0h0m1 0h0m3 0h0m1 0h0m1 0h0m-1 1h0m-4 0h0m-2 0h0m-3 0h0m-4 0h0m-2 0h0m-1 0h0m-1 0h0m-2 0h0m-1 0h0m-4 0h0m-8 0h0m-4 0h0m-10 0h0m-1 0h0m-3 0h0m-1 0h0m-5 0h0m-4 0h0m-1 0h0m-2 0h0m-9 0h0m-2 0h0m-1 0h0m-5 0h0m-7 0h0m-1 0h0m-3 0h0m-2 0h0m-7 0h0m-1 0h0m-4 0h0m-2 0h0m-1 0h0m-3 0h0m-2 0h0m-1 0h0m-2 0h0m-2 0h0m-2 0h0m-2 0h0m-1 0h0m-10 0h0m-4 0h0m-1 0h0m-4 0h0m3 1h0m3 0h0m3 0h0m1 0h0m4 0h0m3 0h0m6 0h0m1 0h0m1 0h0m6 0h0m2 0h0m7 0h0m2 0h0m1 0h0m8 0h0m2 0h0m5 0h0m2 0h0m1 0h0m3 0h0m2 0h0m2 0h0m9 0h0m3 0h0m4 0h0m4 0h0m3 0h0m3 0h0m1 0h0m9 0h0m1 0h0m3 0h0m1 0h0m11 0h0m1 0h0m7 0h0m8 0h0m1 0h0m1 0h0m1 0h0m2 1h0m-1 0h0m-2 0h0m-2 0h0m-18 0h0m-1 0h0m-1 0h0m-4 0h0m-5 0h0m-4 0h0m-2 0h0m-2 0h0m-5 0h0m-3 0h0m-7 0h0m-1 0h0m-4 0h0m-2 0h0m-5 0h0m-2 0h0m-1 0h0m-1 0h0m-1 0h0m-4 0h0m-4 0h0m-1 0h0m-1 0h0m-2 0h0m-2 0h0m-2 0h0m-1 0h0m-1 0h0m-3 0h0m-7 0h0m-7 0h0m-6 0h0m-1 0h0m-2 0h0m-7 0h0m-7 0h0m-1 0h0m-2 0h0m-63 0h0m57 1h0m16 0h0m2 0h0m2 0h0m4 0h0m3 0h0m2 0h0m2 0h0m2 0h0m6 0h0m2 0h0m3 0h0m2 0h0m3 0h0m2 0h0m2 0h0m2 0h0m4 0h0m2 0h0m3 0h0m2 0h0m5 0h0m1 0h0m4 0h0m2 0h0m4 0h0m9 0h0m7 0h0m10 0h0m3 0h0m1 0h0m2 0h0m1 0h0m5 0h0m1 0h0m7 0h0m3 0h0m8 0h0m5 1h0m-17 0h0m-10 0h0m-7 0h0m-3 0h0m-4 0h0m-8 0h0m-3 0h0m-5 0h0m-2 0h0m-1 0h0m-6 0h0m-6 0h0m-1 0h0m-1 0h0m-1 0h0m-3 0h0m-2 0h0m-2 0h0m-1 0h0m-1 0h0m-12 0h0m-5 0h0m-5 0h0m-1 0h0m-1 0h0m-4 0h0m-9 0h0m-4 0h0m-10 0h0m-11 0h0m8 1h0m7 0h0m7 0h0m2 0h0m5 0h0m1 0h0m2 0h0m1 0h0m8 0h0m7 0h0m2 0h0m1 0h0m2 0h0m3 0h0m2 0h0m3 0h0m9 0h0m3 0h0m9 0h0m1 0h0m2 0h0m6 0h0m1 0h0m1 0h0m1 0h0m3 0h0m1 0h0m2 0h0m2 0h0m2 0h0m2 0h0m1 0h0m2 0h0m2 0h0m1 0h0m9 0h0m1 0h0m6 0h0m7 0h0m1 0h0m3 0h0m3 0h0m2 0h0m-2 1h0m-6 0h0m-4 0h0m-3 0h0m-6 0h0m-3 0h0m-6 0h0m-5 0h0m-7 0h0m-9 0h0m-6 0h0m-1 0h0m-1 0h0m-1 0h0m-4 0h0m-3 0h0m-2 0h0m-1 0h0m-4 0h0m-4 0h0m-5 0h0m-1 0h0m-4 0h0m-2 0h0m-5 0h0m-1 0h0m-2 0h0m-4 0h0m-1 0h0m-1 0h0m-4 0h0m-1 0h0m-1 0h0m-2 0h0m-1 0h0m-3 0h0m-1 0h0m-2 0h0m-1 0h0m-5 0h0m-1 0h0m-3 0h0m-1 0h0m-7 0h0m10 1h0m7 0h0m2 0h0m3 0h0m1 0h0m2 0h0m8 0h0m8 0h0m1 0h0m1 0h0m8 0h0m2 0h0m3 0h0m4 0h0m12 0h0m3 0h0m5 0h0m2 0h0m1 0h0m1 0h0m2 0h0m3 0h0m1 0h0m1 0h0m4 0h0m2 0h0m1 0h0m2 0h0m10 0h0m2 0h0m3 0h0m3 0h0m4 0h0m6 0h0m12 0h0m-5 1h0m-9 0h0m-5 0h0m-1 0h0m-4 0h0m-4 0h0m-2 0h0m-8 0h0m-1 0h0m-10 0h0m-1 0h0m-16 0h0m-1 0h0m-3 0h0m-5 0h0m-6 0h0m-1 0h0m-3 0h0m-3 0h0m-1 0h0m-5 0h0m-1 0h0m-1 0h0m-2 0h0m-4 0h0m-2 0h0m-2 0h0m-1 0h0m-5 0h0m-1 0h0m-11 0h0m-1 0h0m-4 0h0m-47 1h0m8 0h0m27 0h0m10 0h0m1 0h0m3 0h0m4 0h0m3 0h0m2 0h0m5 0h0m1 0h0m3 0h0m4 0h0m4 0h0m4 0h0m6 0h0m10 0h0m5 0h0m1 0h0m5 0h0m9 0h0m1 0h0m12 0h0m7 0h0m3 0h0m7 0h0m3 0h0m3 0h0m6 0h0m2 0h0m2 0h0m6 0h0m5 0h0m3 0h0m0 1h0m-5 0h0m-5 0h0m-6 0h0m-1 0h0m-3 0h0m-8 0h0m-2 0h0m-3 0h0m-3 0h0m-1 0h0m-4 0h0m-4 0h0m-5 0h0m-2 0h0m-13 0h0m-3 0h0m-1 0h0m-4 0h0m-3 0h0m-8 0h0m-2 0h0m-2 0h0m-2 0h0m-5 0h0m-5 0h0m-3 0h0m-6 0h0m-2 0h0m-2 0h0m-1 0h0m-2 0h0m-15 0h0m-1 1h0m3 0h0m1 0h0m16 0h0m7 0h0m6 0h0m2 0h0m1 0h0m3 0h0m8 0h0m14 0h0m3 0h0m1 0h0m7 0h0m1 0h0m1 0h0m3 0h0m4 0h0m4 0h0m4 0h0m1 0h0m1 0h0m7 0h0m3 0h0m1 0h0m5 0h0m2 0h0m5 0h0m2 0h0m1 0h0m1 0h0m1 0h0m6 0h0m7 1h0m-9 0h0m-14 0h0m-1 0h0m-6 0h0m-3 0h0m-2 0h0m-5 0h0m-2 0h0m-10 0h0m-6 0h0m-2 0h0m-2 0h0m-3 0h0m-1 0h0m-4 0h0m-2 0h0m-1 0h0m-2 0h0m-1 0h0m-6 0h0m-2 0h0m-1 0h0m-4 0h0m-1 0h0m-2 0h0m-1 0h0m-3 0h0m-7 0h0m-2 0h0m-3 0h0m-1 0h0m-2 0h0m-7 0h0m-2 0h0m-5 0h0m-4 0h0m-3 0h0m-4 0h0m-9 0h0m-1 1h0m3 0h0m30 0h0m1 0h0m1 0h0m1 0h0m6 0h0m7 0h0m4 0h0m8 0h0m2 0h0m3 0h0m4 0h0m2 0h0m8 0h0m2 0h0m4 0h0m6 0h0m6 0h0m2 0h0m1 0h0m1 0h0m2 0h0m5 0h0m2 0h0m8 0h0m3 0h0m5 0h0m3 0h0m1 0h0m4 0h0m14 0h0m-1 1h0m-2 0h0m-1 0h0m-3 0h0m-5 0h0m-2 0h0m-1 0h0m-2 0h0m-1 0h0m-4 0h0m-7 0h0m-3 0h0m-4 0h0m-1 0h0m-1 0h0m-8 0h0m-1 0h0m-5 0h0m-2 0h0m-1 0h0m-3 0h0m-1 0h0m-4 0h0m-3 0h0m-3 0h0m-1 0h0m-4 0h0m-2 0h0m-2 0h0m-9 0h0m-5 0h0m-6 0h0m-5 0h0m-4 0h0m-1 0h0m-2 0h0m-7 0h0m-3 0h0m-1 0h0m-10 0h0m-3 0h0m-3 0h0m-8 0h0m-19 1h0m47 0h0m1 0h0m1 0h0m13 0h0m9 0h0m2 0h0m4 0h0m1 0h0m3 0h0m1 0h0m1 0h0m8 0h0m2 0h0m8 0h0m13 0h0m1 0h0m2 0h0m2 0h0m6 0h0m1 0h0m3 0h0m15 0h0m1 0h0m3 0h0m3 0h0m2 0h0m3 0h0m-2 1h0m-2 0h0m-4 0h0m-5 0h0m-6 0h0m-1 0h0m-9 0h0m-2 0h0m-2 0h0m-1 0h0m-4 0h0m-3 0h0m-2 0h0m-4 0h0m-2 0h0m-3 0h0m-1 0h0m-9 0h0m-1 0h0m-4 0h0m-5 0h0m-3 0h0m-2 0h0m-6 0h0m-2 0h0m-1 0h0m-20 0h0m-6 0h0m-1 0h0m-1 0h0m-11 0h0m-7 0h0m-4 0h0m-2 0h0m-4 0h0m-4 0h0m33 1h0m9 0h0m2 0h0m2 0h0m3 0h0m5 0h0m6 0h0m5 0h0m5 0h0m2 0h0m19 0h0m8 0h0m1 0h0m2 0h0m1 0h0m5 0h0m6 0h0m8 0h0m12 0h0m2 0h0m1 0h0m1 0h0m2 0h0m4 0h0m4 0h0m0 1h0m-4 0h0m-1 0h0m-7 0h0m-1 0h0m-1 0h0m-22 0h0m-1 0h0m-6 0h0m-1 0h0m-5 0h0m-3 0h0m-13 0h0m-2 0h0m-1 0h0m-1 0h0m-2 0h0m-7 0h0m-4 0h0m-8 0h0m-3 0h0m-2 0h0m-1 0h0m-1 0h0m-7 0h0m-18 0h0m-18 0h0m26 1h0m2 0h0m6 0h0m7 0h0m3 0h0m4 0h0m13 0h0m5 0h0m1 0h0m3 0h0m4 0h0m2 0h0m1 0h0m6 0h0m1 0h0m2 0h0m2 0h0m1 0h0m2 0h0m4 0h0m1 0h0m4 0h0m9 0h0m4 0h0m6 0h0m5 0h0m4 0h0m5 0h0m1 0h0m4 0h0m1 0h0m4 0h0m3 1h0m-8 0h0m-1 0h0m-4 0h0m-2 0h0m-2 0h0m-9 0h0m-2 0h0m-3 0h0m-3 0h0m-6 0h0m-5 0h0m-2 0h0m-8 0h0m-12 0h0m-3 0h0m-5 0h0m-6 0h0m-10 0h0m-2 0h0m-16 0h0m-1 0h0m-2 0h0m-5 0h0m-14 1h0m12 0h0m6 0h0m5 0h0m6 0h0m5 0h0m3 0h0m5 0h0m10 0h0m1 0h0m7 0h0m2 0h0m10 0h0m3 0h0m3 0h0m8 0h0m3 0h0m2 0h0m5 0h0m6 0h0m1 0h0m1 0h0m1 0h0m1 0h0m2 0h0m2 0h0m5 0h0m3 0h0m8 0h0m0 1h0m-2 0h0m-3 0h0m-1 0h0m-16 0h0m-11 0h0m-3 0h0m-1 0h0m-3 0h0m-2 0h0m-7 0h0m-3 0h0m-6 0h0m-4 0h0m-8 0h0m-6 0h0m-5 0h0m-7 0h0m-1 0h0m-1 0h0m-1 0h0m-1 0h0m-2 0h0m-1 0h0m-4 0h0m-2 0h0m-1 0h0m-2 0h0m-1 0h0m-5 0h0m-3 0h0m-2 0h0m-2 0h0m-2 0h0m-43 0h0m3 1h0m56 0h0m7 0h0m5 0h0m2 0h0m11 0h0m4 0h0m1 0h0m2 0h0m5 0h0m5 0h0m2 0h0m1 0h0m1 0h0m3 0h0m4 0h0m8 0h0m10 0h0m9 0h0m4 0h0m10 0h0m3 0h0m5 0h0m3 0h0m3 0h0m1 0h0m-10 1h0m-3 0h0m-1 0h0m-7 0h0m-1 0h0m-1 0h0m-4 0h0m-1 0h0m-2 0h0m-1 0h0m-1 0h0m-2 0h0m-2 0h0m-9 0h0m-13 0h0m-4 0h0m-1 0h0m-4 0h0m-4 0h0m-5 0h0m-3 0h0m-14 0h0m-1 0h0m-6 0h0m-4 0h0m-2 0h0m-2 0h0m-1 0h0m-1 0h0m-9 0h0m-8 1h0m4 0h0m4 0h0m3 0h0m3 0h0m1 0h0m19 0h0m3 0h0m4 0h0m1 0h0m1 0h0m5 0h0m1 0h0m1 0h0m5 0h0m4 0h0m2 0h0m3 0h0m4 0h0m3 0h0m7 0h0m1 0h0m2 0h0m1 0h0m3 0h0m5 0h0m4 0h0m1 0h0m7 0h0m1 0h0m1 0h0m2 0h0m4 0h0m3 0h0m1 0h0m1 0h0m1 0h0m2 0h0m8 0h0m-3 1h0m-13 0h0m-5 0h0m-1 0h0m-1 0h0m-1 0h0m-1 0h0m-4 0h0m-1 0h0m-4 0h0m-6 0h0m-3 0h0m-4 0h0m-6 0h0m-2 0h0m-2 0h0m-21 0h0m-3 0h0m-4 0h0m-4 0h0m-5 0h0m-1 0h0m-4 0h0m-11 0h0m-1 0h0m-6 0h0m-3 1h0m8 0h0m1 0h0m3 0h0m2 0h0m9 0h0m4 0h0m2 0h0m1 0h0m10 0h0m18 0h0m4 0h0m1 0h0m6 0h0m6 0h0m3 0h0m1 0h0m1 0h0m3 0h0m2 0h0m2 0h0m2 0h0m2 0h0m8 0h0m2 0h0m11 0h0m1 0h0m5 0h0m2 0h0m1 1h0m-5 0h0m-1 0h0m-5 0h0m-10 0h0m-6 0h0m-1 0h0m-21 0h0m-3 0h0m-1 0h0m-16 0h0m-7 0h0m-3 0h0m-7 0h0m-3 0h0m-7 0h0m-8 0h0m-4 0h0m-4 0h0m-2 0h0m-9 0h0m-23 0h0m-12 1h0m44 0h0m2 0h0m8 0h0m4 0h0m3 0h0m10 0h0m4 0h0m1 0h0m5 0h0m3 0h0m17 0h0m2 0h0m1 0h0m6 0h0m1 0h0m12 0h0m1 0h0m2 0h0m1 0h0m8 0h0m1 0h0m7 0h0m2 0h0m8 0h0m1 0h0m2 0h0m3 0h0m-3 1h0m-2 0h0m-2 0h0m-3 0h0m-2 0h0m-3 0h0m-1 0h0m-2 0h0m-6 0h0m-2 0h0m-1 0h0m-2 0h0m-6 0h0m-1 0h0m-1 0h0m-4 0h0m-4 0h0m-6 0h0m-1 0h0m-2 0h0m-4 0h0m-1 0h0m-3 0h0m-5 0h0m-1 0h0m-5 0h0m-4 0h0m-2 0h0m-24 0h0m-25 0h0m-9 1h0m8 0h0m23 0h0m10 0h0m5 0h0m3 0h0m3 0h0m7 0h0m8 0h0m4 0h0m6 0h0m1 0h0m15 0h0m1 0h0m7 0h0m7 0h0m5 0h0m7 0h0m10 0h0m-7 1h0m-2 0h0m-2 0h0m-4 0h0m-4 0h0m-3 0h0m-21 0h0m-2 0h0m-3 0h0m-1 0h0m-10 0h0m-2 0h0m-2 0h0m-2 0h0m-2 0h0m-4 0h0m-3 0h0m-9 0h0m-5 0h0m-4 0h0m-4 0h0m-2 0h0m-2 0h0m-3 0h0m-16 0h0m7 1h0m6 0h0m5 0h0m3 0h0m6 0h0m10 0h0m5 0h0m1 0h0m3 0h0m2 0h0m1 0h0m6 0h0m3 0h0m9 0h0m3 0h0m8 0h0m4 0h0m2 0h0m7 0h0m16 0h0m11 0h0m-2 1h0m-2 0h0m-1 0h0m-3 0h0m-3 0h0m-1 0h0m-13 0h0m-3 0h0m-2 0h0m-5 0h0m-7 0h0m-3 0h0m-4 0h0m-8 0h0m-4 0h0m-10 0h0m-16 0h0m-1 0h0m-7 0h0m-1 0h0m-7 0h0m-28 0h0m25 1h0m12 0h0m8 0h0m1 0h0m2 0h0m2 0h0m2 0h0m5 0h0m2 0h0m4 0h0m3 0h0m2 0h0m1 0h0m9 0h0m1 0h0m9 0h0m6 0h0m4 0h0m6 0h0m1 0h0m13 0h0m3 0h0m2 0h0m4 0h0m1 0h0m10 0h0m-6 1h0m-13 0h0m-12 0h0m-4 0h0m-1 0h0m-4 0h0m-1 0h0m-1 0h0m-1 0h0m-3 0h0m-7 0h0m-6 0h0m-1 0h0m-2 0h0m-1 0h0m-1 0h0m-1 0h0m-1 0h0m-3 0h0m-1 0h0m-6 0h0m-3 0h0m-3 0h0m-5 0h0m-6 0h0m-5 0h0m-5 0h0m-10 0h0m-25 1h0m18 0h0m9 0h0m4 0h0m12 0h0m2 0h0m17 0h0m5 0h0m9 0h0m2 0h0m1 0h0m3 0h0m3 0h0m1 0h0m6 0h0m3 0h0m10 0h0m5 0h0m14 0h0m1 0h0m2 0h0m11 0h0m-3 1h0m-11 0h0m-7 0h0m-21 0h0m-2 0h0m-6 0h0m-8 0h0m-4 0h0m-1 0h0m-7 0h0m-2 0h0m-5 0h0m-11 0h0m-2 0h0m-4 0h0m-10 0h0m-6 0h0m-4 0h0m12 1h0m18 0h0m4 0h0m2 0h0m9 0h0m3 0h0m2 0h0m7 0h0m27 0h0m6 0h0" stroke="#6cc6d3" stroke-width="3.8" stroke-linecap="round" fill="none"/>
<path transform="scale(.5)" d="M0 0m497 309h0m9 5h0m16 4h0m12 1h0m-74 3h0m99 2h0m-62 3h0m67 0h0m5 1h0m-108 4h0m77 0h0m-98 2h0m54 1h0m39 0h0m-84 2h0m58 2h0m75 1h0m-83 1h0m70 2h0m-35 0h0m-42 1h0m7 0h0m-49 1h0m3 3h0m35 2h0m-13 1h0m59 1h0m-78 0h0m8 1h0m41 0h0m80 0h0m-91 1h0m-15 0h0m-9 0h0m9 1h0m3 1h0m-33 1h0m14 0h0m18 0h0m1 0h0m83 0h0m-89 1h0m-11 0h0m24 1h0m3 0h0m43 0h0m-14 1h0m-21 0h0m-5 0h0m-16 0h0m-30 1h0m15 0h0m30 0h0m11 0h0m2 0h0m-12 1h0m-49 0h0m-4 0h0m-8 0h0m69 1h0m35 0h0m18 1h0m-5 0h0m-53 0h0m-24 0h0m-13 0h0m14 1h0m11 0h0m1 0h0m41 0h0m3 1h0m-64 0h0m-21 0h0m-8 1h0m23 0h0m11 0h0m14 0h0m33 1h0m-1 0h0m-20 0h0m-13 0h0m-31 0h0m-10 0h0m54 1h0m6 0h0m7 0h0m42 1h0m-2 0h0m-10 0h0m-30 0h0m-6 0h0m-2 0h0m-9 0h0m-56 1h0m50 0h0m29 0h0m21 0h0m3 1h0m-14 0h0m-7 0h0m-10 0h0m-6 0h0m-27 0h0m-16 0h0m-3 0h0m-5 1h0m8 0h0m29 0h0m11 0h0m7 0h0m25 1h0m-22 0h0m-25 0h0m-49 1h0m18 0h0m24 0h0m32 0h0m7 0h0m79 1h0m-54 0h0m-23 0h0m-1 0h0m-7 0h0m-13 0h0m-32 0h0m-12 0h0m-3 0h0m83 1h0m58 1h0m-50 0h0m-9 0h0m-6 0h0m-51 0h0m-1 0h0m-32 0h0m-9 0h0m4 1h0m51 0h0m7 0h0m11 1h0m-6 0h0m-1 0h0m-9 0h0m-4 0h0m-24 0h0m-18 0h0m-7 1h0m15 0h0m24 0h0m26 0h0m32 0h0m2 0h0m17 1h0m-76 0h0m-6 0h0m-6 0h0m-36 0h0m-4 0h0m49 1h0m14 0h0m17 0h0m9 0h0m13 0h0m39 1h0m-30 0h0m-15 0h0m-19 0h0m-5 0h0m-76 1h0m42 0h0m10 0h0m18 0h0m64 0h0m17 0h0m-33 1h0m-82 0h0m-19 2h0m26 0h0m1 0h0m37 0h0m4 0h0m2 0h0m22 0h0m21 1h0m-11 0h0m-35 0h0m-11 0h0m-9 0h0m-17 0h0m-9 0h0m-20 0h0m-2 0h0m10 1h0m14 0h0m20 0h0m17 0h0m3 0h0m50 1h0m-42 0h0m-3 0h0m-18 0h0m-19 0h0m-43 1h0m4 0h0m5 0h0m16 0h0m40 0h0m11 0h0m8 0h0m43 0h0m-37 1h0m-24 0h0m-48 0h0m-19 0h0m-5 0h0m16 1h0m15 0h0m9 0h0m27 0h0m71 0h0m-2 1h0m-54 0h0m-15 0h0m-18 0h0m-10 0h0m-3 0h0m-13 0h0m-15 0h0m-5 1h0m3 0h0m21 0h0m4 0h0m17 0h0m17 0h0m1 0h0m17 0h0m10 0h0m2 0h0m9 0h0m12 0h0m-18 1h0m-21 0h0m-12 0h0m-4 0h0m-4 0h0m-43 0h0m-1 0h0m-1 0h0m-13 0h0m-1 1h0m3 0h0m7 0h0m18 0h0m21 0h0m4 0h0m4 0h0m13 0h0m50 0h0m38 1h0m-60 0h0m-26 0h0m-10 0h0m-15 0h0m-9 0h0m-17 0h0m-18 0h0m-4 1h0m5 0h0m22 0h0m17 0h0m7 0h0m1 0h0m4 0h0m4 0h0m8 0h0m2 0h0m5 0h0m9 0h0m5 0h0m30 0h0m3 1h0m-24 0h0m-14 0h0m-11 0h0m-18 0h0m-1 0h0m-1 0h0m-7 0h0m-4 0h0m-9 0h0m-1 0h0m-14 0h0m-18 0h0m-1 0h0m21 1h0m20 0h0m17 0h0m6 0h0m12 0h0m13 0h0m22 0h0m68 0h0m-47 1h0m-3 0h0m-14 0h0m-47 0h0m-2 0h0m-26 0h0m-1 0h0m-7 0h0m-18 0h0m-6 0h0m-2 0h0m-4 0h0m12 1h0m5 0h0m3 0h0m12 0h0m4 0h0m4 0h0m16 0h0m5 0h0m1 0h0m30 0h0m19 0h0m12 0h0m11 0h0m-42 1h0m-29 0h0m-5 0h0m-8 0h0m-3 0h0m-5 0h0m-9 0h0m-1 0h0m-6 0h0m-22 0h0m2 1h0m1 0h0m1 0h0m8 0h0m6 0h0m2 0h0m7 0h0m34 0h0m11 0h0m44 0h0m3 0h0m-9 1h0m-46 0h0m-18 0h0m-14 0h0m-20 0h0m-2 0h0m-1 0h0m-10 0h0m13 1h0m9 0h0m1 0h0m11 0h0m6 0h0m1 0h0m3 0h0m3 0h0m9 0h0m9 0h0m36 0h0m16 0h0m-48 1h0m-19 0h0m-10 0h0m-2 0h0m-2 0h0m-5 0h0m-16 0h0m-9 0h0m12 1h0m2 0h0m5 0h0m13 0h0m12 0h0m35 0h0m18 0h0m17 0h0m8 0h0m0 1h0m-37 0h0m-3 0h0m-5 0h0m-17 0h0m-1 0h0m-5 0h0m-6 0h0m-13 0h0m-3 0h0m-9 0h0m-17 0h0m-4 0h0m-1 0h0m-9 0h0m5 1h0m18 0h0m9 0h0m28 0h0m48 0h0m5 0h0m-3 1h0m-14 0h0m-7 0h0m-14 0h0m-25 0h0m-11 0h0m-28 0h0m-4 0h0m-10 0h0m-1 1h0m11 0h0m1 0h0m20 0h0m1 0h0m18 0h0m14 0h0m8 0h0m4 0h0m4 0h0m49 0h0m-13 1h0m-14 0h0m-20 0h0m-18 0h0m-6 0h0m-7 0h0m-7 0h0m-4 0h0m-14 0h0m-17 0h0m-3 0h0m100 1h0" stroke="#e4493a" stroke-width="3.8" stroke-linecap="round" fill="none"/>
<path d="M59.8 53.2V248.4H319.5" stroke="#222" stroke-width="1.1" fill="none" stroke-linejoin="round"/>
<path d="M57 239.5H59.8" stroke="#1a1a1a" stroke-width="1.1"/>
<text x="55.2" y="243.1" font-size="10" text-anchor="end" fill="#1a1a1a" font-family="Liberation Sans, sans-serif" stroke="#1a1a1a" stroke-width="0.25">0</text>
<path d="M57 191.1H59.8" stroke="#1a1a1a" stroke-width="1.1"/>
<text x="55.2" y="194.7" font-size="10" text-anchor="end" fill="#1a1a1a" font-family="Liberation Sans, sans-serif" stroke="#1a1a1a" stroke-width="0.25">2</text>
<path d="M57 142.8H59.8" stroke="#1a1a1a" stroke-width="1.1"/>
<text x="55.2" y="146.4" font-size="10" text-anchor="end" fill="#1a1a1a" font-family="Liberation Sans, sans-serif" stroke="#1a1a1a" stroke-width="0.25">4</text>
<path d="M57 94.4H59.8" stroke="#1a1a1a" stroke-width="1.1"/>
<text x="55.2" y="98" font-size="10" text-anchor="end" fill="#1a1a1a" font-family="Liberation Sans, sans-serif" stroke="#1a1a1a" stroke-width="0.25">6</text>
<path d="M77.4 248.4V251.2" stroke="#1a1a1a" stroke-width="1.1"/>
<text x="77.4" y="260" font-size="10" text-anchor="middle" fill="#1a1a1a" font-family="Liberation Sans, sans-serif" stroke="#1a1a1a" stroke-width="0.25">−0.4</text>
<path d="M140.4 248.4V251.2" stroke="#1a1a1a" stroke-width="1.1"/>
<text x="140.4" y="260" font-size="10" text-anchor="middle" fill="#1a1a1a" font-family="Liberation Sans, sans-serif" stroke="#1a1a1a" stroke-width="0.25">−0.2</text>
<path d="M203.4 248.4V251.2" stroke="#1a1a1a" stroke-width="1.1"/>
<text x="203.4" y="260" font-size="10" text-anchor="middle" fill="#1a1a1a" font-family="Liberation Sans, sans-serif" stroke="#1a1a1a" stroke-width="0.25">0.0</text>
<path d="M266.4 248.4V251.2" stroke="#1a1a1a" stroke-width="1.1"/>
<text x="266.4" y="260" font-size="10" text-anchor="middle" fill="#1a1a1a" font-family="Liberation Sans, sans-serif" stroke="#1a1a1a" stroke-width="0.25">0.2</text>
<text x="189.7" y="269.5" font-size="10.8" text-anchor="middle" fill="#1a1a1a" font-family="Liberation Sans, sans-serif" stroke="#1a1a1a" stroke-width="0.2">logFC</text>
<text x="0" y="0" font-size="10.8" text-anchor="middle" fill="#1a1a1a" font-family="Liberation Sans, sans-serif" stroke="#1a1a1a" stroke-width="0.2" transform="translate(44.5 150.8) rotate(-90)">−log10(P.value)</text>
<text x="326.5" y="17.8" font-size="23" text-anchor="start" fill="#111" font-family="Liberation Serif, serif">B</text>
<text x="446.4" y="30.3" font-size="10.6" text-anchor="start" fill="#222" font-family="Liberation Sans, sans-serif">change</text>
<circle cx="493.4" cy="26.7" r="1.1" fill="#6cc6d3"/>
<circle cx="540.1" cy="26.7" r="1.1" fill="#9b9b9b"/>
<circle cx="589.5" cy="26.7" r="1.1" fill="#e4493a"/>
<text x="506.6" y="29.9" font-size="8.8" text-anchor="start" fill="#222" font-family="Liberation Sans, sans-serif">down</text>
<text x="553" y="29.9" font-size="8.8" text-anchor="start" fill="#222" font-family="Liberation Sans, sans-serif">stable</text>
<text x="602.6" y="29.9" font-size="8.8" text-anchor="start" fill="#222" font-family="Liberation Sans, sans-serif">up</text>
<path transform="scale(.5)" d="M0 0m1023 468h0m18 0h0m23 0h0m2 0h0m1 0h0m8 0h0m3 0h0m1 0h0m4 0h0m4 0h0m34 0h0m9 0h0m15 0h0m4 0h0m3 0h0m3 0h0m4 0h0m3 1h0m-1 0h0m-1 0h0m-2 0h0m-1 0h0m-1 0h0m-2 0h0m-1 0h0m-1 0h0m-8 0h0m-1 0h0m-2 0h0m-3 0h0m-2 0h0m-3 0h0m-2 0h0m-3 0h0m-2 0h0m-3 0h0m-1 0h0m-2 0h0m-1 0h0m-2 0h0m-2 0h0m-1 0h0m-3 0h0m-2 0h0m-5 0h0m-1 0h0m-6 0h0m-11 0h0m-1 0h0m-2 0h0m-1 0h0m-3 0h0m-3 0h0m-4 0h0m-6 0h0m-1 0h0m-1 0h0m-1 0h0m-3 0h0m-1 0h0m-2 0h0m-3 0h0m-2 0h0m-4 0h0m-5 0h0m-1 0h0m-2 0h0m-14 0h0m-2 0h0m5 1h0m1 0h0m2 0h0m3 0h0m1 0h0m1 0h0m1 0h0m1 0h0m1 0h0m1 0h0m2 0h0m1 0h0m1 0h0m4 0h0m1 0h0m2 0h0m1 0h0m1 0h0m2 0h0m1 0h0m4 0h0m1 0h0m1 0h0m1 0h0m4 0h0m2 0h0m1 0h0m1 0h0m1 0h0m2 0h0m2 0h0m1 0h0m1 0h0m2 0h0m2 0h0m1 0h0m1 0h0m1 0h0m1 0h0m1 0h0m6 0h0m1 0h0m1 0h0m1 0h0m1 0h0m2 0h0m1 0h0m1 0h0m2 0h0m1 0h0m1 0h0m4 0h0m2 0h0m2 0h0m3 0h0m1 0h0m1 0h0m1 0h0m1 0h0m1 0h0m1 0h0m1 0h0m1 0h0m2 0h0m1 0h0m1 0h0m2 0h0m2 0h0m1 0h0m1 0h0m1 0h0m3 0h0m3 0h0m1 0h0m2 0h0m1 0h0m3 0h0m1 0h0m1 0h0m3 0h0m1 0h0m1 0h0m3 0h0m-3 1h0m-2 0h0m-1 0h0m-5 0h0m-1 0h0m-1 0h0m-1 0h0m-1 0h0m-1 0h0m-2 0h0m-3 0h0m-1 0h0m-1 0h0m-1 0h0m-1 0h0m-1 0h0m-1 0h0m-2 0h0m-2 0h0m-1 0h0m-1 0h0m-1 0h0m-1 0h0m-2 0h0m-1 0h0m-3 0h0m-2 0h0m-3 0h0m-1 0h0m-1 0h0m-1 0h0m-1 0h0m-2 0h0m-1 0h0m-1 0h0m-1 0h0m-1 0h0m-1 0h0m-1 0h0m-1 0h0m-1 0h0m-1 0h0m-3 0h0m-7 0h0m-1 0h0m-1 0h0m-2 0h0m-3 0h0m-1 0h0m-1 0h0m-1 0h0m-1 0h0m-4 0h0m-1 0h0m-1 0h0m-2 0h0m-2 0h0m-1 0h0m-1 0h0m-1 0h0m-2 0h0m-1 0h0m-1 0h0m-1 0h0m-1 0h0m-1 0h0m-1 0h0m-1 0h0m-2 0h0m-1 0h0m-1 0h0m-1 0h0m-3 0h0m-1 0h0m-3 0h0m-1 0h0m-4 0h0m-3 0h0m3 1h0m1 0h0m1 0h0m1 0h0m1 0h0m1 0h0m1 0h0m2 0h0m1 0h0m1 0h0m1 0h0m1 0h0m1 0h0m1 0h0m3 0h0m1 0h0m2 0h0m1 0h0m1 0h0m1 0h0m1 0h0m1 0h0m1 0h0m1 0h0m2 0h0m1 0h0m1 0h0m1 0h0m1 0h0m1 0h0m1 0h0m1 0h0m1 0h0m1 0h0m1 0h0m1 0h0m1 0h0m2 0h0m1 0h0m1 0h0m1 0h0m1 0h0m1 0h0m1 0h0m1 0h0m5 0h0m2 0h0m1 0h0m3 0h0m1 0h0m1 0h0m1 0h0m1 0h0m1 0h0m1 0h0m1 0h0m1 0h0m1 0h0m1 0h0m1 0h0m2 0h0m2 0h0m1 0h0m1 0h0m1 0h0m1 0h0m2 0h0m1 0h0m1 0h0m1 0h0m1 0h0m1 0h0m2 0h0m1 0h0m1 0h0m2 0h0m1 0h0m1 0h0m1 0h0m1 0h0m1 0h0m2 0h0m1 0h0m1 0h0m1 0h0m1 0h0m1 0h0m1 0h0m1 0h0m1 0h0m1 0h0m-2 1h0m-3 0h0m-1 0h0m-1 0h0m-1 0h0m-1 0h0m-1 0h0m-1 0h0m-1 0h0m-1 0h0m-2 0h0m-1 0h0m-1 0h0m-1 0h0m-1 0h0m-1 0h0m-1 0h0m-1 0h0m-1 0h0m-1 0h0m-1 0h0m-1 0h0m-1 0h0m-1 0h0m-1 0h0m-1 0h0m-1 0h0m-1 0h0m-1 0h0m-1 0h0m-1 0h0m-1 0h0m-1 0h0m-1 0h0m-1 0h0m-1 0h0m-1 0h0m-1 0h0m-1 0h0m-1 0h0m-1 0h0m-1 0h0m-1 0h0m-1 0h0m-1 0h0m-1 0h0m-1 0h0m-1 0h0m-1 0h0m-1 0h0m-4 0h0m-2 0h0m-1 0h0m-1 0h0m-1 0h0m-1 0h0m-1 0h0m-1 0h0m-1 0h0m-1 0h0m-1 0h0m-2 0h0m-2 0h0m-1 0h0m-1 0h0m-1 0h0m-1 0h0m-1 0h0m-1 0h0m-1 0h0m-1 0h0m-1 0h0m-2 0h0m-1 0h0m-1 0h0m-1 0h0m-1 0h0m-1 0h0m-1 0h0m-2 0h0m-1 0h0m-1 0h0m-2 0h0m-2 0h0m-1 0h0m-1 0h0m-1 0h0m-1 0h0m-1 0h0m-1 0h0m5 1h0m1 0h0m1 0h0m2 0h0m1 0h0m1 0h0m2 0h0m1 0h0m2 0h0m1 0h0m1 0h0m1 0h0m1 0h0m1 0h0m1 0h0m1 0h0m1 0h0m1 0h0m1 0h0m1 0h0m1 0h0m1 0h0m1 0h0m1 0h0m1 0h0m1 0h0m1 0h0m1 0h0m1 0h0m1 0h0m1 0h0m1 0h0m1 0h0m1 0h0m1 0h0m1 0h0m1 0h0m1 0h0m1 0h0m4 0h0m1 0h0m1 0h0m1 0h0m1 0h0m1 0h0m1 0h0m1 0h0m1 0h0m1 0h0m2 0h0m1 0h0m1 0h0m1 0h0m1 0h0m1 0h0m2 0h0m1 0h0m1 0h0m1 0h0m1 0h0m1 0h0m1 0h0m1 0h0m1 0h0m1 0h0m1 0h0m1 0h0m1 0h0m2 0h0m1 0h0m1 0h0m1 0h0m1 0h0m1 0h0m1 0h0m1 0h0m1 0h0m1 0h0m1 0h0m2 0h0m2 0h0m-7 1h0m-1 0h0m-1 0h0m-1 0h0m-1 0h0m-1 0h0m-1 0h0m-1 0h0m-1 0h0m-1 0h0m-1 0h0m-1 0h0m-1 0h0m-1 0h0m-1 0h0m-1 0h0m-1 0h0m-1 0h0m-1 0h0m-1 0h0m-1 0h0m-1 0h0m-1 0h0m-1 0h0m-1 0h0m-1 0h0m-1 0h0m-1 0h0m-1 0h0m-1 0h0m-1 0h0m-1 0h0m-1 0h0m-1 0h0m-1 0h0m-1 0h0m-1 0h0m-1 0h0m-1 0h0m-1 0h0m-1 0h0m-3 0h0m-1 0h0m-1 0h0m-1 0h0m-1 0h0m-1 0h0m-1 0h0m-1 0h0m-1 0h0m-1 0h0m-1 0h0m-1 0h0m-1 0h0m-1 0h0m-1 0h0m-1 0h0m-1 0h0m-1 0h0m-1 0h0m-1 0h0m-1 0h0m-1 0h0m-1 0h0m-1 0h0m-1 0h0m-1 0h0m-1 0h0m-1 0h0m-1 0h0m-1 0h0m-1 0h0m-1 0h0m-1 0h0m-1 0h0m-1 0h0m-1 0h0m7 1h0m1 0h0m1 0h0m1 0h0m1 0h0m1 0h0m1 0h0m1 0h0m1 0h0m1 0h0m1 0h0m1 0h0m1 0h0m1 0h0m1 0h0m1 0h0m1 0h0m1 0h0m1 0h0m1 0h0m1 0h0m1 0h0m1 0h0m1 0h0m1 0h0m1 0h0m1 0h0m1 0h0m1 0h0m1 0h0m2 0h0m1 0h0m1 0h0m1 0h0m1 0h0m1 0h0m1 0h0m1 0h0m1 0h0m1 0h0m1 0h0m1 0h0m1 0h0m1 0h0m1 0h0m1 0h0m1 0h0m1 0h0m1 0h0m1 0h0m1 0h0m1 0h0m1 0h0m1 0h0m1 0h0m1 0h0m1 0h0m1 0h0m1 0h0m1 0h0m1 0h0m1 0h0m1 0h0m-9 1h0m-1 0h0m-1 0h0m-1 0h0m-1 0h0m-1 0h0m-1 0h0m-1 0h0m-1 0h0m-1 0h0m-1 0h0m-1 0h0m-1 0h0m-1 0h0m-1 0h0m-1 0h0m-1 0h0m-1 0h0m-1 0h0m-1 0h0m-1 0h0m-1 0h0m-1 0h0m-1 0h0m-2 0h0m-1 0h0m-1 0h0m-1 0h0m-1 0h0m-1 0h0m-1 0h0m-1 0h0m-1 0h0m-1 0h0m-1 0h0m-1 0h0m-1 0h0m-1 0h0m-1 0h0m-1 0h0m-1 0h0m-1 0h0m-1 0h0m-1 0h0m-1 0h0m-1 0h0m8 1h0m1 0h0m1 0h0m1 0h0m1 0h0m1 0h0m1 0h0m1 0h0m1 0h0m1 0h0m1 0h0m1 0h0m1 0h0m1 0h0m1 0h0m1 0h0m1 0h0m1 0h0m1 0h0m1 0h0m1 0h0m1 0h0m1 0h0m1 0h0m1 0h0m1 0h0m1 0h0m1 0h0m1 0h0m1 0h0m-11 1h0m-1 0h0m-1 0h0m-1 0h0m-1 0h0m-1 0h0m-1 0h0m-1 0h0m-1 0h0" stroke="#9b9b9b" stroke-width="3.8" stroke-linecap="round" fill="none"/>
<path transform="scale(.5)" d="M0 0m1006 135h0m-27 6h0m-18 8h0m-4 4h0m5 4h0m-17 9h0m-49 11h0m28 1h0m-1 7h0m69 9h0m68 9h0m-39 1h0m-66 1h0m57 13h0m28 21h0m2 0h0m-42 2h0m-4 1h0m-2 1h0m48 1h0m-14 2h0m-30 0h0m56 1h0m-36 2h0m22 2h0m13 0h0m-82 1h0m-16 1h0m49 0h0m17 2h0m-7 0h0m-2 0h0m-69 0h0m66 2h0m33 1h0m-9 0h0m-21 1h0m10 1h0m-121 1h0m77 0h0m49 0h0m18 0h0m-19 1h0m-2 0h0m-125 0h0m154 1h0m-103 1h0m-43 0h0m123 1h0m11 0h0m19 0h0m-148 1h0m-4 0h0m28 2h0m32 0h0m41 0h0m24 0h0m19 0h0m-26 1h0m-19 0h0m29 1h0m21 0h0m-89 1h0m-75 0h0m-4 1h0m14 0h0m162 0h0m-38 1h0m-69 0h0m-57 1h0m100 0h0m41 1h0m-114 0h0m-16 0h0m-13 0h0m-3 0h0m68 1h0m107 0h0m-60 2h0m-68 0h0m-52 0h0m-1 0h0m10 1h0m20 0h0m39 0h0m108 1h0m-52 0h0m-27 0h0m-66 0h0m-30 0h0m44 1h0m75 0h0m36 0h0m21 0h0m8 0h0m-21 1h0m-34 0h0m-22 0h0m-111 0h0m-11 1h0m16 0h0m158 1h0m-27 0h0m-30 0h0m-18 0h0m-10 0h0m-16 0h0m-53 0h0m155 1h0m25 0h0m2 0h0m-16 1h0m-140 0h0m-44 0h0m23 1h0m9 0h0m57 0h0m43 0h0m35 0h0m25 1h0m-171 0h0m-1 1h0m112 0h0m47 0h0m19 0h0m-32 1h0m-4 0h0m-99 0h0m-36 0h0m-15 1h0m24 0h0m62 0h0m43 0h0m25 0h0m12 0h0m-7 1h0m-12 0h0m-50 0h0m-71 1h0m24 0h0m92 0h0m41 0h0m2 0h0m-8 1h0m-24 0h0m-5 0h0m-24 0h0m-38 0h0m-25 0h0m-5 0h0m-34 0h0m27 1h0m20 0h0m74 1h0m-126 0h0m3 1h0m4 0h0m36 0h0m66 0h0m44 0h0m14 0h0m5 0h0m-47 1h0m-26 0h0m-43 0h0m-17 0h0m-21 0h0m33 1h0m10 0h0m59 0h0m-30 1h0m-6 0h0m-23 0h0m-34 0h0m-77 1h0m52 0h0m14 0h0m17 0h0m12 0h0m20 0h0m66 0h0m33 0h0m2 0h0m6 0h0m-18 1h0m-12 0h0m-31 0h0m-24 0h0m-25 0h0m-16 0h0m-25 0h0m-15 0h0m-5 0h0m-40 1h0m6 0h0m43 0h0m4 0h0m11 0h0m80 0h0m39 0h0m1 0h0m7 1h0m-19 0h0m-50 0h0m-9 0h0m-3 0h0m-25 0h0m-41 0h0m-29 0h0m-18 0h0m42 1h0m75 0h0m16 0h0m38 0h0m1 0h0m27 0h0m11 0h0m-24 1h0m-19 0h0m-6 0h0m-3 0h0m-23 0h0m-3 0h0m-43 0h0m-3 0h0m-3 0h0m-3 0h0m-8 0h0m-1 0h0m-6 0h0m-13 0h0m-32 0h0m-9 0h0m0 1h0m19 0h0m26 0h0m2 0h0m5 0h0m10 0h0m65 0h0m27 0h0m28 0h0m16 0h0m6 0h0m3 1h0m-30 0h0m-3 0h0m-10 0h0m-3 0h0m-20 0h0m-2 0h0m-12 0h0m-9 0h0m-25 0h0m-36 0h0m-12 0h0m-41 0h0m-7 0h0m19 1h0m33 0h0m2 0h0m4 0h0m12 0h0m23 0h0m28 0h0m47 0h0m15 0h0m1 0h0m3 0h0m9 1h0m-14 0h0m-4 0h0m-15 0h0m-1 0h0m-33 0h0m-36 0h0m-13 0h0m-11 0h0m-27 0h0m-12 0h0m-12 0h0m-10 0h0m-17 0h0m-18 1h0m48 0h0m19 0h0m40 0h0m10 0h0m7 0h0m3 0h0m7 0h0m6 0h0m15 0h0m33 0h0m2 0h0m24 0h0m4 0h0m9 0h0m7 1h0m-28 0h0m-29 0h0m-8 0h0m-18 0h0m-36 0h0m-7 0h0m-6 0h0m-14 0h0m-8 0h0m-25 0h0m-16 0h0m-11 1h0m115 0h0m4 0h0m31 0h0m10 0h0m1 0h0m1 0h0m10 0h0m36 1h0m-3 0h0m-3 0h0m-5 0h0m-10 0h0m-52 0h0m-43 0h0m-37 0h0m-60 0h0m-24 0h0m28 1h0m7 0h0m29 0h0m20 0h0m47 0h0m14 0h0m24 0h0m1 0h0m1 0h0m5 0h0m7 0h0m11 0h0m-22 1h0m-12 0h0m-7 0h0m-4 0h0m-12 0h0m-22 0h0m-11 0h0m-5 0h0m-18 0h0m-1 0h0m-13 0h0m-73 0h0m14 1h0m5 0h0m28 0h0m11 0h0m2 0h0m19 0h0m46 0h0m9 0h0m23 0h0m21 0h0m6 0h0m33 0h0m16 0h0m7 1h0m-14 0h0m-6 0h0m-7 0h0m-1 0h0m-35 0h0m-22 0h0m-17 0h0m-11 0h0m-3 0h0m-1 0h0m-3 0h0m-7 0h0m-16 0h0m-12 0h0m-27 0h0m-10 0h0m-14 0h0m13 1h0m29 0h0m21 0h0m12 0h0m20 0h0m6 0h0m15 0h0m20 0h0m24 0h0m5 0h0m44 0h0m-10 1h0m-18 0h0m-3 0h0m-10 0h0m-25 0h0m-55 0h0m-13 0h0m-3 0h0m-3 0h0m-8 0h0m-24 0h0m-18 0h0m-23 0h0m29 1h0m7 0h0m45 0h0m14 0h0m5 0h0m7 0h0m3 0h0m9 0h0m26 0h0m23 0h0m2 0h0m12 0h0m5 0h0m5 1h0m-35 0h0m-12 0h0m-45 0h0m-51 0h0m-5 0h0m-20 0h0m-39 0h0m-9 1h0m17 0h0m14 0h0m3 0h0m10 0h0m23 0h0m18 0h0m4 0h0m4 0h0m56 0h0m14 0h0m21 0h0m5 0h0m6 0h0m1 0h0m6 0h0m12 0h0m19 0h0m-4 1h0m-5 0h0m-13 0h0m-7 0h0m-4 0h0m-33 0h0m-13 0h0m-18 0h0m-7 0h0m-30 0h0m-7 0h0m-16 0h0m-1 0h0m-8 0h0m-33 0h0m-2 0h0m-1 0h0m26 1h0m14 0h0m23 0h0m24 0h0m3 0h0m47 0h0m24 0h0m1 0h0m29 0h0m2 0h0m-1 1h0m-22 0h0m-28 0h0m-4 0h0m-4 0h0m-3 0h0m-23 0h0m-19 0h0m-21 0h0m-18 0h0m-3 0h0m-19 0h0m-13 0h0m-14 0h0m24 1h0m12 0h0m3 0h0m2 0h0m1 0h0m6 0h0m4 0h0m29 0h0m58 0h0m23 0h0m41 1h0m-8 0h0m-20 0h0m-8 0h0m-2 0h0m-18 0h0m-5 0h0m-8 0h0m-29 0h0m-19 0h0m-13 0h0m-18 0h0m-11 0h0m-6 0h0m-9 0h0m-6 0h0m-3 0h0m-1 0h0m-21 0h0m-10 1h0m21 0h0m3 0h0m15 0h0m53 0h0m13 0h0m27 0h0m34 0h0m12 0h0m5 0h0m8 0h0m14 0h0m-51 1h0m-23 0h0m-12 0h0m-15 0h0m-62 0h0m-10 0h0m-2 0h0m-21 0h0m-34 0h0m56 1h0m4 0h0m6 0h0m85 0h0m31 0h0m4 0h0m1 0h0m10 0h0m31 0h0m13 0h0m-8 1h0m-18 0h0m-9 0h0m-10 0h0m-18 0h0m-3 0h0m-7 0h0m-10 0h0m-24 0h0m-30 0h0m-6 0h0m-1 0h0m-5 0h0m-1 0h0m-25 0h0m-9 0h0m-17 0h0m-2 0h0m-34 1h0m27 0h0m10 0h0m20 0h0m11 0h0m9 0h0m14 0h0m12 0h0m15 0h0m11 0h0m1 0h0m8 0h0m1 0h0m17 0h0m27 0h0m15 0h0m5 0h0m30 0h0m5 0h0m-20 1h0m-3 0h0m-23 0h0m-1 0h0m-6 0h0m-9 0h0m-11 0h0m-14 0h0m-19 0h0m-42 0h0m-12 0h0m-27 0h0m-2 0h0m-4 0h0m-1 0h0m-25 0h0m-4 1h0m15 0h0m24 0h0m1 0h0m13 0h0m3 0h0m27 0h0m1 0h0m42 0h0m2 0h0m29 0h0m4 0h0m4 0h0m3 0h0m48 0h0m6 1h0m-22 0h0m-1 0h0m-6 0h0m-5 0h0m-3 0h0m-66 0h0m-8 0h0m-8 0h0m-15 0h0m-2 0h0m-7 0h0m-9 0h0m-14 0h0m-7 0h0m-4 0h0m-10 0h0m-8 0h0m-2 0h0m-13 1h0m15 0h0m5 0h0m3 0h0m4 0h0m6 0h0m2 0h0m42 0h0m10 0h0m6 0h0m3 0h0m24 0h0m14 0h0m43 0h0m2 0h0m2 0h0m4 0h0m22 1h0m-22 0h0m-10 0h0m-8 0h0m-2 0h0m-3 0h0m-1 0h0m-17 0h0m-14 0h0m-14 0h0m-2 0h0m-3 0h0m-35 0h0m-12 0h0m-46 0h0m-30 0h0m-9 1h0m18 0h0m6 0h0m18 0h0m9 0h0m2 0h0m3 0h0m57 0h0m14 0h0m11 0h0m10 0h0m13 0h0m8 0h0m17 0h0m1 0h0m5 0h0m25 1h0m-3 0h0m-18 0h0m-16 0h0m-7 0h0m-38 0h0m-8 0h0m-1 0h0m-10 0h0m-12 0h0m-2 0h0m-8 0h0m-23 0h0m-2 0h0m-29 0h0m-24 0h0m-12 1h0m32 0h0m15 0h0m20 0h0m4 0h0m2 0h0m9 0h0m8 0h0m4 0h0m39 0h0m11 0h0m2 0h0m6 0h0m4 0h0m46 0h0m2 0h0m3 0h0m7 0h0m2 0h0m9 0h0m4 0h0m-12 1h0m-5 0h0m-3 0h0m-13 0h0m-13 0h0m-5 0h0m-4 0h0m-8 0h0m-25 0h0m-10 0h0m-9 0h0m-15 0h0m-6 0h0m-10 0h0m-25 0h0m-16 0h0m-1 0h0m-4 0h0m-8 0h0m-2 0h0m-29 0h0m-1 0h0m5 1h0m25 0h0m6 0h0m12 0h0m28 0h0m25 0h0m7 0h0m22 0h0m1 0h0m15 0h0m5 0h0m6 0h0m21 0h0m2 0h0m1 0h0m9 0h0m12 0h0m8 0h0m12 0h0m1 0h0m-8 1h0m-5 0h0m-3 0h0m-1 0h0m-3 0h0m-1 0h0m-4 0h0m-4 0h0m-8 0h0m-1 0h0m-3 0h0m-21 0h0m-5 0h0m-12 0h0m-3 0h0m-5 0h0m-5 0h0m-5 0h0m-8 0h0m-2 0h0m-8 0h0m-15 0h0m-3 0h0m-13 0h0m-7 0h0m-14 0h0m-5 0h0m-3 0h0m-25 0h0m-18 0h0m-2 0h0m-14 1h0m9 0h0m28 0h0m8 0h0m26 0h0m5 0h0m2 0h0m17 0h0m29 0h0m24 0h0m20 0h0m27 0h0m9 0h0m1 0h0m3 0h0m1 0h0m3 0h0m2 0h0m1 0h0m7 0h0m1 0h0m5 0h0m6 0h0m-13 1h0m-1 0h0m-2 0h0m-1 0h0m-6 0h0m-1 0h0m-6 0h0m-7 0h0m-1 0h0m-7 0h0m-2 0h0m-10 0h0m-4 0h0m-10 0h0m-6 0h0m-32 0h0m-5 0h0m-7 0h0m-12 0h0m-8 0h0m-6 0h0m-11 0h0m-2 0h0m-1 0h0m-7 0h0m-5 0h0m-12 0h0m-21 0h0m-5 0h0m-1 0h0m-2 1h0m3 0h0m4 0h0m6 0h0m3 0h0m10 0h0m9 0h0m7 0h0m5 0h0m29 0h0m6 0h0m29 0h0m6 0h0m14 0h0m9 0h0m1 0h0m5 0h0m2 0h0m24 0h0m3 0h0m7 0h0m1 0h0m4 0h0m9 0h0m1 0h0m19 1h0m-8 0h0m-1 0h0m-4 0h0m-2 0h0m-8 0h0m-13 0h0m-12 0h0m-12 0h0m-32 0h0m-42 0h0m-8 0h0m-11 0h0m-2 0h0m-21 0h0m-7 0h0m-16 0h0m-16 0h0m-12 0h0m23 1h0m8 0h0m21 0h0m4 0h0m41 0h0m9 0h0m2 0h0m11 0h0m4 0h0m3 0h0m2 0h0m1 0h0m1 0h0m2 0h0m10 0h0m6 0h0m9 0h0m7 0h0m7 0h0m3 0h0m2 0h0m5 0h0m14 0h0m7 0h0m2 0h0m2 0h0m6 0h0m1 0h0m2 0h0m1 0h0m7 0h0m-1 1h0m-3 0h0m-12 0h0m-6 0h0m-1 0h0m-4 0h0m-4 0h0m-10 0h0m-13 0h0m-13 0h0m-12 0h0m-30 0h0m-1 0h0m-2 0h0m-2 0h0m-10 0h0m-28 0h0m-8 0h0m-2 0h0m-13 0h0m-7 0h0m-46 0h0m10 1h0m18 0h0m33 0h0m8 0h0m3 0h0m7 0h0m19 0h0m24 0h0m2 0h0m30 0h0m9 0h0m2 0h0m12 0h0m4 0h0m2 0h0m8 0h0m3 0h0m2 0h0m6 0h0m2 0h0m4 0h0m8 0h0m5 0h0m7 1h0m-3 0h0m-2 0h0m-2 0h0m-2 0h0m-2 0h0m-5 0h0m-2 0h0m-7 0h0m-1 0h0m-1 0h0m-5 0h0m-4 0h0m-4 0h0m-1 0h0m-28 0h0m-1 0h0m-10 0h0m-9 0h0m-11 0h0m-13 0h0m-8 0h0m-1 0h0m-11 0h0m-3 0h0m-9 0h0m-20 0h0m-29 0h0m-20 1h0m1 0h0m16 0h0m3 0h0m4 0h0m18 0h0m1 0h0m3 0h0m18 0h0m1 0h0m5 0h0m19 0h0m17 0h0m1 0h0m7 0h0m1 0h0m11 0h0m2 0h0m15 0h0m6 0h0m12 0h0m2 0h0m2 0h0m5 0h0m2 0h0m2 0h0m3 0h0m4 0h0m6 0h0m2 0h0m2 0h0m1 0h0m5 0h0m1 0h0m1 0h0m1 0h0m1 0h0m5 0h0m8 0h0m-1 1h0m-1 0h0m-1 0h0m-11 0h0m-2 0h0m-8 0h0m-1 0h0m-1 0h0m-1 0h0m-1 0h0m-4 0h0m-6 0h0m-2 0h0m-23 0h0m-8 0h0m-2 0h0m-7 0h0m-2 0h0m-5 0h0m-2 0h0m-6 0h0m-3 0h0m-15 0h0m-2 0h0m-3 0h0m-11 0h0m-1 0h0m-4 0h0m-1 0h0m-7 0h0m-3 0h0m-5 0h0m-5 0h0m-3 0h0m-12 0h0m-1 0h0m-5 0h0m-16 0h0m-10 0h0m-1 0h0m-22 0h0m11 1h0m17 0h0m5 0h0m12 0h0m4 0h0m2 0h0m4 0h0m15 0h0m18 0h0m7 0h0m1 0h0m8 0h0m1 0h0m17 0h0m6 0h0m5 0h0m3 0h0m4 0h0m1 0h0m18 0h0m8 0h0m3 0h0m7 0h0m2 0h0m10 0h0m2 0h0m2 0h0m5 0h0m2 0h0m2 0h0m3 0h0m9 0h0m4 0h0m8 0h0m2 0h0m-7 1h0m-1 0h0m-1 0h0m-1 0h0m-4 0h0m-2 0h0m-4 0h0m-4 0h0m-4 0h0m-7 0h0m-4 0h0m-3 0h0m-2 0h0m-5 0h0m-3 0h0m-1 0h0m-4 0h0m-6 0h0m-3 0h0m-1 0h0m-1 0h0m-1 0h0m-6 0h0m-1 0h0m-3 0h0m-8 0h0m-6 0h0m-5 0h0m-3 0h0m-5 0h0m-7 0h0m-1 0h0m-7 0h0m-2 0h0m-4 0h0m-2 0h0m-14 0h0m-1 0h0m-3 0h0m-1 0h0m-13 0h0m-2 0h0m-6 0h0m-1 0h0m-5 0h0m-1 0h0m-11 0h0m-1 0h0m-20 1h0m5 0h0m2 0h0m5 0h0m4 0h0m23 0h0m1 0h0m8 0h0m7 0h0m2 0h0m2 0h0m3 0h0m4 0h0m1 0h0m8 0h0m15 0h0m39 0h0m1 0h0m2 0h0m5 0h0m1 0h0m2 0h0m1 0h0m4 0h0m2 0h0m5 0h0m3 0h0m3 0h0m3 0h0m2 0h0m10 0h0m1 0h0m4 0h0m1 0h0m11 0h0m2 0h0m2 0h0m2 0h0m13 1h0m-2 0h0m-1 0h0m-2 0h0m-2 0h0m-3 0h0m-5 0h0m-5 0h0m-7 0h0m-12 0h0m-3 0h0m-2 0h0m-3 0h0m-2 0h0m-6 0h0m-1 0h0m-4 0h0m-2 0h0m-1 0h0m-1 0h0m-1 0h0m-2 0h0m-1 0h0m-13 0h0m-3 0h0m-5 0h0m-1 0h0m-1 0h0m-1 0h0m-13 0h0m-4 0h0m-6 0h0m-1 0h0m-12 0h0m-3 0h0m-1 0h0m-3 0h0m-3 0h0m-3 0h0m-4 0h0m-2 0h0m-9 0h0m-10 0h0m-2 0h0m-6 0h0m-5 0h0m-19 0h0m-31 1h0m1 0h0m10 0h0m5 0h0m31 0h0m4 0h0m5 0h0m3 0h0m5 0h0m3 0h0m21 0h0m3 0h0m1 0h0m4 0h0m3 0h0m6 0h0m1 0h0m15 0h0m2 0h0m2 0h0m1 0h0m1 0h0m3 0h0m2 0h0m1 0h0m1 0h0m1 0h0m9 0h0m3 0h0m6 0h0m3 0h0m4 0h0m1 0h0m5 0h0m3 0h0m5 0h0m5 0h0m1 0h0m1 0h0m2 0h0m2 0h0m4 0h0m2 0h0m1 0h0m1 0h0m7 0h0m2 0h0m1 0h0m1 0h0m6 0h0m3 0h0m1 0h0m6 0h0m3 0h0m7 0h0m0 1h0m-2 0h0m-5 0h0m-8 0h0m-3 0h0m-1 0h0m-6 0h0m-1 0h0m-1 0h0m-2 0h0m-9 0h0m-3 0h0m-4 0h0m-3 0h0m-2 0h0m-1 0h0m-2 0h0m-2 0h0m-2 0h0m-2 0h0m-1 0h0m-1 0h0m-2 0h0m-7 0h0m-3 0h0m-5 0h0m-6 0h0m-1 0h0m-1 0h0m-2 0h0m-5 0h0m-1 0h0m-1 0h0m-4 0h0m-1 0h0m-1 0h0m-33 0h0m-1 0h0m-7 0h0m-2 0h0m-5 0h0m-6 0h0m-3 0h0m-1 0h0m-1 0h0m-1 0h0m-5 0h0m-1 0h0m-2 0h0m-2 0h0m-2 0h0m-20 0h0m-1 0h0m-4 0h0m-3 0h0m-6 0h0m-22 1h0m25 0h0m3 0h0m8 0h0m17 0h0m1 0h0m4 0h0m1 0h0m3 0h0m1 0h0m3 0h0m9 0h0m3 0h0m1 0h0m1 0h0m5 0h0m6 0h0m7 0h0m5 0h0m16 0h0m1 0h0m2 0h0m3 0h0m3 0h0m5 0h0m7 0h0m1 0h0m8 0h0m1 0h0m7 0h0m3 0h0m2 0h0m3 0h0m3 0h0m12 0h0m1 0h0m1 0h0m2 0h0m9 0h0m1 0h0m4 0h0m1 0h0m1 0h0m1 0h0m1 0h0m1 0h0m2 0h0m2 0h0m5 0h0m8 0h0m3 0h0m2 0h0m4 1h0m-13 0h0m-2 0h0m-5 0h0m-1 0h0m-6 0h0m-2 0h0m-2 0h0m-5 0h0m-1 0h0m-8 0h0m-2 0h0m-1 0h0m-1 0h0m-1 0h0m-1 0h0m-2 0h0m-4 0h0m-3 0h0m-2 0h0m-2 0h0m-1 0h0m-1 0h0m-3 0h0m-2 0h0m-1 0h0m-1 0h0m-1 0h0m-5 0h0m-1 0h0m-1 0h0m-3 0h0m-7 0h0m-3 0h0m-1 0h0m-3 0h0m-2 0h0m-8 0h0m-5 0h0m-2 0h0m-3 0h0m-4 0h0m-3 0h0m-4 0h0m-2 0h0m-1 0h0m-4 0h0m-6 0h0m-2 0h0m-4 0h0m-2 0h0m-2 0h0m-3 0h0m-1 0h0m-2 0h0m-2 0h0m-1 0h0m-12 0h0m-1 0h0m-8 0h0m-38 1h0m21 0h0m6 0h0m7 0h0m18 0h0m1 0h0m5 0h0m1 0h0m4 0h0m1 0h0m2 0h0m2 0h0m1 0h0m4 0h0m2 0h0m2 0h0m1 0h0m5 0h0m9 0h0m6 0h0m1 0h0m12 0h0m1 0h0m1 0h0m1 0h0m5 0h0m3 0h0m2 0h0m5 0h0m2 0h0m2 0h0m1 0h0m2 0h0m4 0h0m2 0h0m2 0h0m2 0h0m2 0h0m2 0h0m6 0h0m2 0h0m9 0h0m2 0h0m4 0h0m4 0h0m2 0h0m1 0h0m2 0h0m4 0h0m1 0h0m6 0h0m2 0h0m3 0h0m3 0h0m1 0h0m2 0h0m3 0h0m2 0h0m1 0h0m6 0h0m3 1h0m-5 0h0m-1 0h0m-2 0h0m-4 0h0m-3 0h0m-4 0h0m-4 0h0m-2 0h0m-2 0h0m-3 0h0m-6 0h0m-3 0h0m-4 0h0m-3 0h0m-2 0h0m-11 0h0m-11 0h0m-1 0h0m-2 0h0m-4 0h0m-7 0h0m-4 0h0m-1 0h0m-4 0h0m-5 0h0m-6 0h0m-1 0h0m-4 0h0m-2 0h0m-4 0h0m-6 0h0m-2 0h0m-1 0h0m-5 0h0m-1 0h0m-1 0h0m-3 0h0m-4 0h0m-6 0h0m-3 0h0m-1 0h0m-2 0h0m-2 0h0m-2 0h0m-3 0h0m-2 0h0m-2 0h0m-6 0h0m-1 0h0m-1 0h0m-1 0h0m-7 0h0m-2 0h0m-2 0h0m-1 0h0m-3 0h0m-5 0h0m-4 0h0m-11 0h0m-18 0h0m10 1h0m4 0h0m13 0h0m2 0h0m11 0h0m2 0h0m9 0h0m5 0h0m4 0h0m7 0h0m6 0h0m5 0h0m1 0h0m12 0h0m5 0h0m1 0h0m6 0h0m3 0h0m1 0h0m5 0h0m4 0h0m1 0h0m9 0h0m5 0h0m3 0h0m1 0h0m3 0h0m2 0h0m2 0h0m2 0h0m2 0h0m2 0h0m7 0h0m5 0h0m2 0h0m5 0h0m7 0h0m6 0h0m1 0h0m1 0h0m6 0h0m3 0h0m3 0h0m2 0h0m1 0h0m3 0h0m4 0h0m1 0h0m1 0h0m1 0h0m1 0h0m4 0h0m2 0h0m2 0h0m1 0h0m1 0h0m4 0h0m-3 1h0m-1 0h0m-2 0h0m-1 0h0m-2 0h0m-2 0h0m-4 0h0m-3 0h0m-4 0h0m-2 0h0m-2 0h0m-3 0h0m-2 0h0m-4 0h0m-1 0h0m-3 0h0m-6 0h0m-1 0h0m-2 0h0m-5 0h0m-1 0h0m-4 0h0m-2 0h0m-2 0h0m-4 0h0m-3 0h0m-3 0h0m-2 0h0m-3 0h0m-3 0h0m-2 0h0m-1 0h0m-3 0h0m-3 0h0m-1 0h0m-3 0h0m-1 0h0m-1 0h0m-1 0h0m-1 0h0m-1 0h0m-3 0h0m-4 0h0m-1 0h0m-3 0h0m-1 0h0m-4 0h0m-5 0h0m-4 0h0m-1 0h0m-3 0h0m-1 0h0m-2 0h0m-1 0h0m-2 0h0m-1 0h0m-1 0h0m-1 0h0m-1 0h0m-3 0h0m-2 0h0m-7 0h0m-2 0h0m-2 0h0m-2 0h0m-2 0h0m-12 0h0m-3 0h0m-3 0h0m-1 0h0m-5 0h0m-12 0h0m-22 1h0m39 0h0m2 0h0m7 0h0m2 0h0m4 0h0m2 0h0m2 0h0m4 0h0m2 0h0m4 0h0m2 0h0m1 0h0m3 0h0m3 0h0m2 0h0m3 0h0m8 0h0m7 0h0m2 0h0m1 0h0m1 0h0m1 0h0m6 0h0m1 0h0m3 0h0m2 0h0m2 0h0m3 0h0m2 0h0m5 0h0m5 0h0m9 0h0m1 0h0m6 0h0m4 0h0m2 0h0m1 0h0m2 0h0m2 0h0m1 0h0m1 0h0m6 0h0m2 0h0m2 0h0m4 0h0m2 0h0m2 0h0m1 0h0m2 0h0m2 0h0m2 0h0m1 0h0m1 0h0m1 0h0m1 0h0m1 0h0m2 0h0m11 0h0m3 0h0m1 0h0m4 0h0m5 0h0m1 0h0m-1 1h0m-4 0h0m-8 0h0m-2 0h0m-1 0h0m-4 0h0m-2 0h0m-1 0h0m-1 0h0m-1 0h0m-1 0h0m-1 0h0m-1 0h0m-1 0h0m-7 0h0m-1 0h0m-6 0h0m-1 0h0m-6 0h0m-1 0h0m-3 0h0m-1 0h0m-3 0h0m-2 0h0m-1 0h0m-3 0h0m-5 0h0m-1 0h0m-1 0h0m-2 0h0m-2 0h0m-6 0h0m-7 0h0m-9 0h0m-16 0h0m-1 0h0m-1 0h0m-3 0h0m-1 0h0m-1 0h0m-4 0h0m-2 0h0m-2 0h0m-2 0h0m-1 0h0m-2 0h0m-2 0h0m-7 0h0m-2 0h0m-4 0h0m-1 0h0m-2 0h0m-5 0h0m-4 0h0m-8 0h0m-1 0h0m-4 0h0m-2 0h0m-1 0h0m-7 0h0m-29 0h0m-15 0h0m-6 1h0m13 0h0m6 0h0m16 0h0m9 0h0m7 0h0m4 0h0m2 0h0m1 0h0m4 0h0m1 0h0m2 0h0m1 0h0m1 0h0m2 0h0m2 0h0m5 0h0m4 0h0m9 0h0m3 0h0m4 0h0m1 0h0m2 0h0m6 0h0m1 0h0m1 0h0m2 0h0m2 0h0m4 0h0m2 0h0m3 0h0m1 0h0m3 0h0m3 0h0m1 0h0m1 0h0m7 0h0m1 0h0m4 0h0m3 0h0m4 0h0m3 0h0m1 0h0m1 0h0m2 0h0m5 0h0m5 0h0m3 0h0m4 0h0m4 0h0m7 0h0m1 0h0m1 0h0m1 0h0m1 0h0m2 0h0m2 0h0m1 0h0m5 0h0m4 0h0m1 0h0m2 0h0m1 0h0m3 0h0m2 0h0m2 0h0m3 0h0m2 0h0m1 0h0m1 0h0m1 0h0m2 0h0m5 0h0m2 0h0m3 1h0m-2 0h0m-2 0h0m-1 0h0m-3 0h0m-1 0h0m-1 0h0m-2 0h0m-1 0h0m-1 0h0m-1 0h0m-2 0h0m-1 0h0m-1 0h0m-1 0h0m-1 0h0m-1 0h0m-3 0h0m-3 0h0m-8 0h0m-1 0h0m-1 0h0m-2 0h0m-4 0h0m-8 0h0m-4 0h0m-1 0h0m-3 0h0m-9 0h0m-1 0h0m-1 0h0m-4 0h0m-1 0h0m-2 0h0m-3 0h0m-1 0h0m-1 0h0m-5 0h0m-4 0h0m-1 0h0m-3 0h0m-2 0h0m-1 0h0m-4 0h0m-2 0h0m-5 0h0m-1 0h0m-3 0h0m-1 0h0m-3 0h0m-1 0h0m-5 0h0m-2 0h0m-1 0h0m-7 0h0m-5 0h0m-2 0h0m-1 0h0m-1 0h0m-4 0h0m-2 0h0m-4 0h0m-4 0h0m-4 0h0m-1 0h0m-3 0h0m-1 0h0m-3 0h0m-5 0h0m-16 0h0m-14 0h0m-10 0h0m-15 0h0m55 1h0m2 0h0m1 0h0m4 0h0m4 0h0m3 0h0m4 0h0m5 0h0m3 0h0m3 0h0m3 0h0m5 0h0m2 0h0m1 0h0m15 0h0m1 0h0m1 0h0m4 0h0m1 0h0m2 0h0m1 0h0m1 0h0m5 0h0m1 0h0m1 0h0m6 0h0m1 0h0m2 0h0m1 0h0m5 0h0m4 0h0m1 0h0m1 0h0m5 0h0m3 0h0m4 0h0m2 0h0m2 0h0m5 0h0m6 0h0m1 0h0m3 0h0m1 0h0m2 0h0m4 0h0m1 0h0m6 0h0m2 0h0m1 0h0m6 0h0m2 0h0m1 0h0m3 0h0m4 0h0m1 0h0m2 0h0m2 0h0m1 0h0m2 0h0m5 0h0m2 1h0m-1 0h0m-1 0h0m-3 0h0m-2 0h0m-2 0h0m-1 0h0m-3 0h0m-2 0h0m-4 0h0m-1 0h0m-2 0h0m-1 0h0m-6 0h0m-2 0h0m-4 0h0m-3 0h0m-1 0h0m-4 0h0m-1 0h0m-3 0h0m-3 0h0m-2 0h0m-1 0h0m-5 0h0m-6 0h0m-1 0h0m-1 0h0m-1 0h0m-5 0h0m-3 0h0m-2 0h0m-6 0h0m-2 0h0m-3 0h0m-7 0h0m-1 0h0m-1 0h0m-4 0h0m-1 0h0m-2 0h0m-5 0h0m-1 0h0m-1 0h0m-2 0h0m-3 0h0m-2 0h0m-2 0h0m-3 0h0m-2 0h0m-8 0h0m-4 0h0m-2 0h0m-3 0h0m-4 0h0m-1 0h0m-2 0h0m-2 0h0m-3 0h0m-2 0h0m-4 0h0m-2 0h0m-5 0h0m-2 0h0m-1 0h0m-1 0h0m-1 0h0m-5 0h0m-3 0h0m-1 0h0m-14 0h0m-29 0h0m-19 1h0m59 0h0m3 0h0m2 0h0m6 0h0m8 0h0m1 0h0m3 0h0m1 0h0m1 0h0m1 0h0m3 0h0m6 0h0m4 0h0m3 0h0m3 0h0m1 0h0m3 0h0m5 0h0m2 0h0m1 0h0m4 0h0m5 0h0m4 0h0m1 0h0m2 0h0m5 0h0m1 0h0m1 0h0m1 0h0m1 0h0m3 0h0m1 0h0m2 0h0m7 0h0m2 0h0m2 0h0m3 0h0m2 0h0m2 0h0m4 0h0m4 0h0m2 0h0m1 0h0m3 0h0m1 0h0m1 0h0m2 0h0m3 0h0m2 0h0m4 0h0m5 0h0m2 0h0m8 0h0m1 0h0m1 0h0m1 0h0m1 0h0m2 0h0m1 0h0m1 0h0m2 0h0m2 0h0m3 0h0m2 0h0m5 0h0m4 0h0m1 0h0m9 1h0m-5 0h0m-3 0h0m-3 0h0m-9 0h0m-2 0h0m-1 0h0m-3 0h0m-3 0h0m-3 0h0m-1 0h0m-1 0h0m-5 0h0m-4 0h0m-1 0h0m-1 0h0m-1 0h0m-4 0h0m-2 0h0m-2 0h0m-1 0h0m-5 0h0m-1 0h0m-1 0h0m-3 0h0m-2 0h0m-2 0h0m-1 0h0m-1 0h0m-1 0h0m-5 0h0m-8 0h0m-1 0h0m-4 0h0m-1 0h0m-1 0h0m-3 0h0m-1 0h0m-2 0h0m-1 0h0m-1 0h0m-2 0h0m-1 0h0m-1 0h0m-1 0h0m-1 0h0m-1 0h0m-1 0h0m-3 0h0m-4 0h0m-1 0h0m-2 0h0m-4 0h0m-1 0h0m-2 0h0m-2 0h0m-3 0h0m-6 0h0m-2 0h0m-5 0h0m-5 0h0m-2 0h0m-1 0h0m-6 0h0m-1 0h0m-4 0h0m-3 0h0m-4 0h0m-1 0h0m-6 0h0m-2 0h0m-4 0h0m-3 0h0m-29 0h0m-8 1h0m3 0h0m17 0h0m6 0h0m16 0h0m3 0h0m1 0h0m3 0h0m6 0h0m4 0h0m1 0h0m1 0h0m1 0h0m5 0h0m5 0h0m1 0h0m6 0h0m6 0h0m1 0h0m4 0h0m2 0h0m3 0h0m1 0h0m3 0h0m5 0h0m1 0h0m1 0h0m14 0h0m2 0h0m2 0h0m2 0h0m1 0h0m1 0h0m1 0h0m2 0h0m1 0h0m1 0h0m4 0h0m3 0h0m1 0h0m2 0h0m3 0h0m3 0h0m5 0h0m2 0h0m1 0h0m1 0h0m1 0h0m5 0h0m1 0h0m2 0h0m4 0h0m1 0h0m5 0h0m1 0h0m2 0h0m2 0h0m2 0h0m2 0h0m1 0h0m8 0h0m4 0h0m2 0h0m1 0h0m1 0h0m6 0h0m1 0h0m3 0h0m9 0h0m-2 1h0m-1 0h0m-4 0h0m-1 0h0m-4 0h0m-1 0h0m-1 0h0m-3 0h0m-3 0h0m-1 0h0m-1 0h0m-2 0h0m-2 0h0m-2 0h0m-1 0h0m-2 0h0m-2 0h0m-2 0h0m-1 0h0m-7 0h0m-1 0h0m-1 0h0m-3 0h0m-2 0h0m-1 0h0m-6 0h0m-1 0h0m-2 0h0m-2 0h0m-10 0h0m-2 0h0m-1 0h0m-2 0h0m-2 0h0m-4 0h0m-4 0h0m-3 0h0m-2 0h0m-2 0h0m-2 0h0m-1 0h0m-3 0h0m-3 0h0m-2 0h0m-3 0h0m-2 0h0m-3 0h0m-5 0h0m-1 0h0m-1 0h0m-1 0h0m-6 0h0m-1 0h0m-1 0h0m-3 0h0m-5 0h0m-10 0h0m-3 0h0m-2 0h0m-1 0h0m-1 0h0m-1 0h0m-1 0h0m-5 0h0m-2 0h0m-4 0h0m-1 0h0m-1 0h0m-3 0h0m-14 0h0m-5 0h0m-6 0h0m-14 1h0m22 0h0m11 0h0m3 0h0m1 0h0m6 0h0m2 0h0m6 0h0m5 0h0m3 0h0m2 0h0m2 0h0m1 0h0m1 0h0m2 0h0m2 0h0m1 0h0m2 0h0m1 0h0m3 0h0m3 0h0m1 0h0m1 0h0m1 0h0m1 0h0m5 0h0m2 0h0m6 0h0m1 0h0m1 0h0m2 0h0m1 0h0m4 0h0m1 0h0m1 0h0m1 0h0m1 0h0m1 0h0m2 0h0m1 0h0m1 0h0m1 0h0m10 0h0m3 0h0m1 0h0m1 0h0m1 0h0m1 0h0m1 0h0m1 0h0m2 0h0m1 0h0m2 0h0m2 0h0m1 0h0m7 0h0m7 0h0m4 0h0m1 0h0m1 0h0m2 0h0m4 0h0m1 0h0m2 0h0m1 0h0m3 0h0m9 0h0m1 0h0m2 0h0m1 0h0m5 0h0m2 0h0m4 0h0m1 0h0m3 0h0m3 0h0m4 0h0m1 0h0m2 1h0m-9 0h0m-3 0h0m-1 0h0m-3 0h0m-1 0h0m-1 0h0m-2 0h0m-2 0h0m-1 0h0m-2 0h0m-1 0h0m-3 0h0m-1 0h0m-5 0h0m-4 0h0m-1 0h0m-4 0h0m-8 0h0m-2 0h0m-1 0h0m-5 0h0m-3 0h0m-1 0h0m-2 0h0m-7 0h0m-2 0h0m-5 0h0m-1 0h0m-9 0h0m-4 0h0m-1 0h0m-1 0h0m-5 0h0m-5 0h0m-1 0h0m-1 0h0m-5 0h0m-1 0h0m-1 0h0m-5 0h0m-2 0h0m-1 0h0m-3 0h0m-1 0h0m-2 0h0m-2 0h0m-4 0h0m-2 0h0m-6 0h0m-3 0h0m-2 0h0m-2 0h0m-4 0h0m-2 0h0m-2 0h0m-10 0h0m-3 0h0m-3 0h0m-1 0h0m-29 0h0m-8 0h0m-16 0h0m-17 1h0m3 0h0m44 0h0m5 0h0m1 0h0m10 0h0m9 0h0m4 0h0m2 0h0m2 0h0m3 0h0m1 0h0m2 0h0m3 0h0m1 0h0m4 0h0m1 0h0m10 0h0m7 0h0m5 0h0m1 0h0m2 0h0m1 0h0m1 0h0m5 0h0m2 0h0m1 0h0m2 0h0m2 0h0m1 0h0m3 0h0m4 0h0m2 0h0m6 0h0m1 0h0m2 0h0m1 0h0m2 0h0m4 0h0m6 0h0m5 0h0m4 0h0m1 0h0m1 0h0m1 0h0m1 0h0m6 0h0m7 0h0m5 0h0m8 0h0m5 0h0m1 0h0m11 0h0m2 0h0m2 0h0m1 0h0m3 0h0m2 0h0m2 0h0m1 0h0m2 0h0m2 0h0m3 0h0m-7 1h0m-3 0h0m-1 0h0m-1 0h0m-4 0h0m-1 0h0m-2 0h0m-5 0h0m-1 0h0m-7 0h0m-2 0h0m-2 0h0m-2 0h0m-4 0h0m-2 0h0m-1 0h0m-4 0h0m-6 0h0m-5 0h0m-3 0h0m-1 0h0m-1 0h0m-1 0h0m-3 0h0m-6 0h0m-3 0h0m-2 0h0m-6 0h0m-1 0h0m-6 0h0m-2 0h0m-2 0h0m-2 0h0m-1 0h0m-1 0h0m-2 0h0m-9 0h0m-4 0h0m-2 0h0m-1 0h0m-2 0h0m-1 0h0m-7 0h0m-1 0h0m-1 0h0m-3 0h0m-1 0h0m-1 0h0m-6 0h0m-1 0h0m-5 0h0m-1 0h0m-12 0h0m-2 0h0m-2 0h0m-1 0h0m-3 0h0m-3 0h0m-5 0h0m-2 0h0m-1 0h0m-28 0h0m-3 0h0m21 1h0m9 0h0m3 0h0m1 0h0m6 0h0m2 0h0m1 0h0m1 0h0m2 0h0m4 0h0m1 0h0m4 0h0m5 0h0m1 0h0m1 0h0m1 0h0m2 0h0m1 0h0m1 0h0m3 0h0m2 0h0m1 0h0m1 0h0m2 0h0m1 0h0m1 0h0m2 0h0m3 0h0m1 0h0m1 0h0m2 0h0m2 0h0m1 0h0m4 0h0m2 0h0m2 0h0m1 0h0m4 0h0m1 0h0m3 0h0m2 0h0m1 0h0m1 0h0m2 0h0m1 0h0m1 0h0m1 0h0m5 0h0m1 0h0m5 0h0m2 0h0m2 0h0m4 0h0m2 0h0m2 0h0m1 0h0m1 0h0m2 0h0m5 0h0m2 0h0m1 0h0m4 0h0m2 0h0m2 0h0m2 0h0m3 0h0m3 0h0m7 0h0m2 0h0m6 0h0m2 0h0m1 0h0m1 0h0m4 0h0m5 0h0m1 0h0m2 0h0m8 0h0m5 0h0m0 1h0m-8 0h0m-1 0h0m-3 0h0m-1 0h0m-5 0h0m-8 0h0m-1 0h0m-3 0h0m-3 0h0m-1 0h0m-1 0h0m-2 0h0m-1 0h0m-6 0h0m-2 0h0m-4 0h0m-1 0h0m-7 0h0m-1 0h0m-5 0h0m-7 0h0m-2 0h0m-1 0h0m-1 0h0m-2 0h0m-4 0h0m-3 0h0m-1 0h0m-3 0h0m-3 0h0m-1 0h0m-2 0h0m-1 0h0m-3 0h0m-1 0h0m-1 0h0m-1 0h0m-2 0h0m-4 0h0m-1 0h0m-1 0h0m-2 0h0m-5 0h0m-1 0h0m-1 0h0m-2 0h0m-3 0h0m-8 0h0m-1 0h0m-2 0h0m-8 0h0m-1 0h0m-2 0h0m-1 0h0m-3 0h0m-1 0h0m-1 0h0m-3 0h0m-3 0h0m-2 0h0m-3 0h0m-1 0h0m-1 0h0m-2 0h0m-3 0h0m-5 0h0m-31 0h0m-3 1h0m18 0h0m13 0h0m2 0h0m5 0h0m5 0h0m2 0h0m6 0h0m1 0h0m2 0h0m4 0h0m2 0h0m3 0h0m1 0h0m3 0h0m1 0h0m2 0h0m2 0h0m2 0h0m1 0h0m3 0h0m2 0h0m1 0h0m3 0h0m5 0h0m1 0h0m1 0h0m3 0h0m1 0h0m1 0h0m4 0h0m3 0h0m4 0h0m5 0h0m1 0h0m3 0h0m1 0h0m1 0h0m6 0h0m2 0h0m1 0h0m8 0h0m1 0h0m4 0h0m1 0h0m2 0h0m1 0h0m2 0h0m3 0h0m8 0h0m1 0h0m6 0h0m5 0h0m2 0h0m1 0h0m1 0h0m2 0h0m1 0h0m7 0h0m2 0h0m1 0h0m2 0h0m2 0h0m2 0h0m2 0h0m4 0h0m1 0h0m1 0h0m3 0h0m9 0h0m-10 1h0m-2 0h0m-2 0h0m-1 0h0m-1 0h0m-5 0h0m-1 0h0m-1 0h0m-1 0h0m-9 0h0m-1 0h0m-1 0h0m-3 0h0m-1 0h0m-3 0h0m-1 0h0m-3 0h0m-2 0h0m-6 0h0m-4 0h0m-2 0h0m-1 0h0m-3 0h0m-2 0h0m-3 0h0m-2 0h0m-1 0h0m-1 0h0m-3 0h0m-4 0h0m-2 0h0m-4 0h0m-2 0h0m-1 0h0m-2 0h0m-5 0h0m-1 0h0m-2 0h0m-2 0h0m-1 0h0m-2 0h0m-3 0h0m-2 0h0m-6 0h0m-6 0h0m-1 0h0m-3 0h0m-2 0h0m-1 0h0m-4 0h0m-2 0h0m-2 0h0m-2 0h0m-2 0h0m-1 0h0m-1 0h0m-1 0h0m-3 0h0m-7 0h0m-2 0h0m-1 0h0m-1 0h0m-1 0h0m-1 0h0m-6 0h0m-2 0h0m-3 0h0m-1 0h0m-3 0h0m-4 0h0m-1 0h0m-2 0h0m-4 0h0m-19 0h0m-5 1h0m1 0h0m2 0h0m8 0h0m9 0h0m2 0h0m12 0h0m2 0h0m2 0h0m1 0h0m1 0h0m6 0h0m6 0h0m2 0h0m2 0h0m2 0h0m1 0h0m7 0h0m2 0h0m1 0h0m5 0h0m3 0h0m2 0h0m2 0h0m1 0h0m1 0h0m3 0h0m7 0h0m1 0h0m1 0h0m3 0h0m2 0h0m3 0h0m3 0h0m1 0h0m2 0h0m1 0h0m1 0h0m4 0h0m3 0h0m1 0h0m1 0h0m3 0h0m1 0h0m1 0h0m1 0h0m8 0h0m1 0h0m5 0h0m2 0h0m5 0h0m1 0h0m1 0h0m1 0h0m1 0h0m2 0h0m3 0h0m5 0h0m2 0h0m3 0h0m2 0h0m1 0h0m1 0h0m2 0h0m5 0h0m5 0h0m3 0h0m1 0h0m1 0h0m6 0h0m5 0h0m2 0h0m-2 1h0m-1 0h0m-1 0h0m-6 0h0m-2 0h0m-2 0h0m-1 0h0m-2 0h0m-1 0h0m-5 0h0m-2 0h0m-1 0h0m-3 0h0m-4 0h0m-1 0h0m-3 0h0m-3 0h0m-2 0h0m-1 0h0m-2 0h0m-4 0h0m-1 0h0m-7 0h0m-2 0h0m-12 0h0m-3 0h0m-5 0h0m-1 0h0m-2 0h0m-2 0h0m-2 0h0m-2 0h0m-2 0h0m-1 0h0m-2 0h0m-1 0h0m-13 0h0m-4 0h0m-1 0h0m-1 0h0m-1 0h0m-1 0h0m-1 0h0m-1 0h0m-2 0h0m-1 0h0m-1 0h0m-2 0h0m-1 0h0m-2 0h0m-9 0h0m-4 0h0m-2 0h0m-1 0h0m-1 0h0m-1 0h0m-3 0h0m-7 0h0m-1 0h0m-3 0h0m-5 0h0m-10 0h0m-13 0h0m-7 0h0m-6 0h0m8 1h0m4 0h0m7 0h0m10 0h0m2 0h0m1 0h0m3 0h0m5 0h0m1 0h0m4 0h0m2 0h0m2 0h0m2 0h0m1 0h0m4 0h0m1 0h0m1 0h0m4 0h0m1 0h0m5 0h0m3 0h0m2 0h0m1 0h0m7 0h0m5 0h0m1 0h0m5 0h0m2 0h0m3 0h0m5 0h0m2 0h0m2 0h0m7 0h0m5 0h0m2 0h0m6 0h0m3 0h0m1 0h0m1 0h0m1 0h0m2 0h0m3 0h0m2 0h0m3 0h0m1 0h0m4 0h0m2 0h0m2 0h0m5 0h0m3 0h0m2 0h0m1 0h0m3 0h0m2 0h0m3 0h0m2 0h0m3 0h0m1 0h0m4 0h0m1 0h0m2 0h0m4 0h0m1 0h0m3 0h0m1 0h0m3 0h0m2 0h0m3 0h0m1 0h0m6 0h0m-8 1h0m-1 0h0m-3 0h0m-1 0h0m-1 0h0m-3 0h0m-4 0h0m-1 0h0m-1 0h0m-2 0h0m-2 0h0m-2 0h0m-3 0h0m-1 0h0m-1 0h0m-1 0h0m-4 0h0m-1 0h0m-2 0h0m-1 0h0m-5 0h0m-1 0h0m-5 0h0m-2 0h0m-4 0h0m-5 0h0m-5 0h0m-1 0h0m-4 0h0m-4 0h0m-2 0h0m-6 0h0m-1 0h0m-1 0h0m-1 0h0m-2 0h0m-2 0h0m-1 0h0m-2 0h0m-3 0h0m-2 0h0m-4 0h0m-4 0h0m-2 0h0m-2 0h0m-1 0h0m-3 0h0m-1 0h0m-3 0h0m-1 0h0m-3 0h0m-7 0h0m-1 0h0m-5 0h0m-2 0h0m-4 0h0m-1 0h0m-6 0h0m-2 0h0m-1 0h0m-3 0h0m-3 0h0m-2 0h0m-1 0h0m-1 0h0m-1 0h0m-2 0h0m-1 0h0m-1 0h0m-5 0h0m-3 0h0m-4 0h0m-12 0h0m-13 0h0m8 1h0m8 0h0m5 0h0m1 0h0m4 0h0m2 0h0m11 0h0m2 0h0m6 0h0m3 0h0m6 0h0m2 0h0m2 0h0m2 0h0m1 0h0m3 0h0m1 0h0m2 0h0m1 0h0m1 0h0m1 0h0m2 0h0m1 0h0m4 0h0m6 0h0m1 0h0m1 0h0m6 0h0m4 0h0m1 0h0m1 0h0m1 0h0m1 0h0m2 0h0m3 0h0m4 0h0m3 0h0m1 0h0m3 0h0m2 0h0m1 0h0m1 0h0m8 0h0m1 0h0m2 0h0m4 0h0m16 0h0m6 0h0m10 0h0m1 0h0m2 0h0m2 0h0m2 0h0m1 0h0m1 0h0m2 0h0m1 0h0m1 0h0m4 0h0m2 0h0m1 0h0m2 0h0m1 0h0m7 0h0m1 0h0m1 0h0m1 0h0m7 0h0m-7 1h0m-3 0h0m-3 0h0m-4 0h0m-2 0h0m-1 0h0m-1 0h0m-4 0h0m-2 0h0m-1 0h0m-8 0h0m-6 0h0m-4 0h0m-2 0h0m-3 0h0m-5 0h0m-13 0h0m-1 0h0m-2 0h0m-5 0h0m-4 0h0m-3 0h0m-5 0h0m-3 0h0m-2 0h0m-7 0h0m-1 0h0m-2 0h0m-2 0h0m-5 0h0m-4 0h0m-4 0h0m-1 0h0m-1 0h0m-9 0h0m-2 0h0m-1 0h0m-3 0h0m-3 0h0m-2 0h0m-1 0h0m-3 0h0m-2 0h0m-1 0h0m-3 0h0m-3 0h0m-1 0h0m-1 0h0m-3 0h0m-2 0h0m-1 0h0m-8 0h0m-7 0h0m-1 0h0m-2 0h0m-7 0h0m-3 0h0m-13 0h0m-22 1h0m6 0h0m24 0h0m9 0h0m3 0h0m2 0h0m5 0h0m2 0h0m1 0h0m2 0h0m4 0h0m5 0h0m1 0h0m1 0h0m1 0h0m2 0h0m3 0h0m1 0h0m2 0h0m3 0h0m5 0h0m2 0h0m1 0h0m2 0h0m5 0h0m3 0h0m1 0h0m1 0h0m1 0h0m4 0h0m3 0h0m9 0h0m1 0h0m1 0h0m4 0h0m2 0h0m11 0h0m2 0h0m3 0h0m3 0h0m2 0h0m1 0h0m5 0h0m1 0h0m3 0h0m1 0h0m1 0h0m4 0h0m2 0h0m3 0h0m4 0h0m3 0h0m1 0h0m1 0h0m6 0h0m3 0h0m8 0h0m3 0h0m3 0h0m2 0h0m6 0h0m2 0h0m1 0h0m3 0h0m5 0h0m1 0h0m5 0h0m0 1h0m-4 0h0m-2 0h0m-4 0h0m-1 0h0m-6 0h0m-4 0h0m-6 0h0m-3 0h0m-4 0h0m-2 0h0m-2 0h0m-1 0h0m-1 0h0m-3 0h0m-6 0h0m-1 0h0m-1 0h0m-1 0h0m-1 0h0m-3 0h0m-2 0h0m-1 0h0m-2 0h0m-4 0h0m-3 0h0m-1 0h0m-3 0h0m-2 0h0m-6 0h0m-2 0h0m-3 0h0m-2 0h0m-4 0h0m-4 0h0m-5 0h0m-1 0h0m-2 0h0m-2 0h0m-1 0h0m-1 0h0m-2 0h0m-4 0h0m-3 0h0m-1 0h0m-1 0h0m-1 0h0m-1 0h0m-2 0h0m-1 0h0m-1 0h0m-3 0h0m-2 0h0m-2 0h0m-1 0h0m-3 0h0m-4 0h0m-4 0h0m-2 0h0m-1 0h0m-2 0h0m-1 0h0m-1 0h0m-4 0h0m-1 0h0m-1 0h0m-1 0h0m-4 0h0m-4 0h0m-1 0h0m-1 0h0m-2 0h0m-3 0h0m-1 0h0m-3 0h0m-6 0h0m-7 0h0m-2 0h0m-21 0h0m37 1h0m1 0h0m3 0h0m1 0h0m2 0h0m5 0h0m1 0h0m3 0h0m4 0h0m1 0h0m2 0h0m3 0h0m5 0h0m3 0h0m1 0h0m2 0h0m7 0h0m1 0h0m3 0h0m2 0h0m1 0h0m1 0h0m1 0h0m4 0h0m2 0h0m4 0h0m1 0h0m2 0h0m1 0h0m1 0h0m1 0h0m2 0h0m1 0h0m1 0h0m2 0h0m1 0h0m1 0h0m4 0h0m1 0h0m1 0h0m2 0h0m2 0h0m1 0h0m2 0h0m3 0h0m2 0h0m1 0h0m1 0h0m1 0h0m2 0h0m3 0h0m1 0h0m3 0h0m1 0h0m3 0h0m2 0h0m4 0h0m2 0h0m8 0h0m1 0h0m1 0h0m2 0h0m5 0h0m1 0h0m2 0h0m5 0h0m1 0h0m1 0h0m3 0h0m1 0h0m1 0h0m2 0h0m2 0h0m1 0h0m3 0h0m1 0h0m1 0h0m1 0h0m2 0h0m1 0h0m1 0h0m1 0h0m12 1h0m-1 0h0m-4 0h0m-4 0h0m-5 0h0m-1 0h0m-3 0h0m-4 0h0m-2 0h0m-4 0h0m-2 0h0m-5 0h0m-2 0h0m-2 0h0m-1 0h0m-2 0h0m-1 0h0m-1 0h0m-2 0h0m-4 0h0m-1 0h0m-2 0h0m-1 0h0m-4 0h0m-1 0h0m-2 0h0m-2 0h0m-2 0h0m-1 0h0m-1 0h0m-1 0h0m-2 0h0m-4 0h0m-2 0h0m-4 0h0m-2 0h0m-1 0h0m-3 0h0m-3 0h0m-12 0h0m-3 0h0m-2 0h0m-4 0h0m-2 0h0m-8 0h0m-1 0h0m-1 0h0m-1 0h0m-4 0h0m-1 0h0m-2 0h0m-1 0h0m-1 0h0m-1 0h0m-1 0h0m-2 0h0m-3 0h0m-1 0h0m-1 0h0m-6 0h0m-3 0h0m-7 0h0m-2 0h0m-2 0h0m-10 0h0m-1 0h0m-2 0h0m-5 1h0m5 0h0m2 0h0m4 0h0m4 0h0m7 0h0m4 0h0m3 0h0m2 0h0m1 0h0m1 0h0m5 0h0m2 0h0m1 0h0m3 0h0m4 0h0m6 0h0m3 0h0m1 0h0m7 0h0m1 0h0m4 0h0m1 0h0m2 0h0m4 0h0m4 0h0m3 0h0m6 0h0m1 0h0m1 0h0m5 0h0m1 0h0m2 0h0m2 0h0m1 0h0m1 0h0m1 0h0m1 0h0m1 0h0m3 0h0m1 0h0m11 0h0m2 0h0m2 0h0m3 0h0m3 0h0m3 0h0m3 0h0m1 0h0m1 0h0m2 0h0m8 0h0m2 0h0m3 0h0m1 0h0m8 0h0m5 0h0m2 0h0m1 0h0m3 1h0m-6 0h0m-4 0h0m-2 0h0m-1 0h0m-1 0h0m-5 0h0m-3 0h0m-2 0h0m-1 0h0m-4 0h0m-1 0h0m-2 0h0m-2 0h0m-1 0h0m-2 0h0m-2 0h0m-1 0h0m-2 0h0m-1 0h0m-2 0h0m-1 0h0m-2 0h0m-2 0h0m-7 0h0m-2 0h0m-1 0h0m-3 0h0m-1 0h0m-1 0h0m-1 0h0m-1 0h0m-1 0h0m-4 0h0m-3 0h0m-2 0h0m-2 0h0m-1 0h0m-1 0h0m-6 0h0m-4 0h0m-3 0h0m-1 0h0m-1 0h0m-3 0h0m-1 0h0m-1 0h0m-7 0h0m-1 0h0m-1 0h0m-3 0h0m-2 0h0m-1 0h0m-6 0h0m-2 0h0m-1 0h0m-4 0h0m-2 0h0m-1 0h0m-1 0h0m-5 0h0m-1 0h0m-1 0h0m-1 0h0m-4 0h0m-1 0h0m-3 0h0m-2 0h0m-1 0h0m-2 0h0m-2 0h0m-3 0h0m-3 0h0m-1 0h0m-2 0h0m-3 0h0m-4 0h0m-2 0h0m-2 0h0m-2 0h0m-2 0h0m-18 0h0m-13 0h0m31 1h0m2 0h0m3 0h0m1 0h0m3 0h0m2 0h0m7 0h0m1 0h0m1 0h0m1 0h0m1 0h0m2 0h0m5 0h0m1 0h0m4 0h0m2 0h0m2 0h0m1 0h0m2 0h0m1 0h0m2 0h0m1 0h0m1 0h0m2 0h0m7 0h0m2 0h0m1 0h0m1 0h0m1 0h0m3 0h0m1 0h0m6 0h0m6 0h0m3 0h0m4 0h0m8 0h0m7 0h0m1 0h0m1 0h0m3 0h0m2 0h0m1 0h0m1 0h0m1 0h0m2 0h0m1 0h0m4 0h0m1 0h0m3 0h0m2 0h0m1 0h0m2 0h0m5 0h0m1 0h0m1 0h0m6 0h0m1 0h0m3 0h0m4 0h0m3 0h0m2 0h0m7 0h0m5 0h0m5 0h0m4 0h0m1 0h0m3 0h0m4 0h0m4 0h0m-2 1h0m-1 0h0m-1 0h0m-1 0h0m-4 0h0m-5 0h0m-2 0h0m-2 0h0m-2 0h0m-2 0h0m-1 0h0m-2 0h0m-1 0h0m-2 0h0m-3 0h0m-4 0h0m-2 0h0m-1 0h0m-7 0h0m-3 0h0m-3 0h0m-2 0h0m-1 0h0m-1 0h0m-1 0h0m-1 0h0m-2 0h0m-1 0h0m-2 0h0m-3 0h0m-1 0h0m-3 0h0m-2 0h0m-1 0h0m-1 0h0m-1 0h0m-2 0h0m-1 0h0m-3 0h0m-5 0h0m-5 0h0m-1 0h0m-3 0h0m-1 0h0m-3 0h0m-1 0h0m-2 0h0m-5 0h0m-8 0h0m-1 0h0m-1 0h0m-4 0h0m-1 0h0m-3 0h0m-11 0h0m-4 0h0m-6 0h0m-2 0h0m-4 0h0m-2 0h0m-1 0h0m-2 0h0m-7 0h0m-4 0h0m-3 0h0m-3 0h0m-1 0h0m-3 0h0m-15 0h0m12 1h0m6 0h0m1 0h0m4 0h0m2 0h0m3 0h0m2 0h0m3 0h0m5 0h0m3 0h0m8 0h0m4 0h0m1 0h0m6 0h0m7 0h0m2 0h0m3 0h0m6 0h0m3 0h0m3 0h0m4 0h0m4 0h0m6 0h0m1 0h0m2 0h0m1 0h0m5 0h0m2 0h0m1 0h0m1 0h0m1 0h0m5 0h0m3 0h0m1 0h0m1 0h0m3 0h0m5 0h0m1 0h0m1 0h0m2 0h0m2 0h0m3 0h0m1 0h0m1 0h0m1 0h0m7 0h0m3 0h0m1 0h0m5 0h0m1 0h0m1 0h0m2 0h0m1 0h0m2 0h0m1 0h0m5 0h0m8 0h0m3 0h0m2 0h0m2 0h0m3 0h0m1 0h0m-4 1h0m-1 0h0m-1 0h0m-3 0h0m-2 0h0m-3 0h0m-1 0h0m-6 0h0m-2 0h0m-3 0h0m-3 0h0m-2 0h0m-10 0h0m-1 0h0m-2 0h0m-1 0h0m-2 0h0m-1 0h0m-2 0h0m-3 0h0m-2 0h0m-2 0h0m-1 0h0m-3 0h0m-1 0h0m-6 0h0m-3 0h0m-2 0h0m-2 0h0m-4 0h0m-2 0h0m-1 0h0m-4 0h0m-3 0h0m-4 0h0m-1 0h0m-1 0h0m-2 0h0m-1 0h0m-7 0h0m-2 0h0m-2 0h0m-2 0h0m-2 0h0m-7 0h0m-8 0h0m-6 0h0m-1 0h0m-1 0h0m-1 0h0m-3 0h0m-1 0h0m-1 0h0m-6 0h0m-1 0h0m-1 0h0m-1 0h0m-2 0h0m-1 0h0m-5 0h0m-6 0h0m-3 0h0m-3 0h0m-1 0h0m-8 0h0m-24 0h0m15 1h0m8 0h0m6 0h0m3 0h0m1 0h0m6 0h0m1 0h0m1 0h0m2 0h0m16 0h0m1 0h0m1 0h0m1 0h0m7 0h0m1 0h0m2 0h0m1 0h0m2 0h0m2 0h0m1 0h0m2 0h0m4 0h0m5 0h0m8 0h0m14 0h0m4 0h0m5 0h0m1 0h0m9 0h0m3 0h0m1 0h0m1 0h0m3 0h0m2 0h0m5 0h0m2 0h0m1 0h0m2 0h0m1 0h0m2 0h0m2 0h0m1 0h0m2 0h0m4 0h0m3 0h0m1 0h0m6 0h0m6 0h0m1 0h0m4 0h0m8 0h0m1 0h0m1 0h0m3 0h0m5 0h0m3 0h0m-5 1h0m-2 0h0m-3 0h0m-1 0h0m-1 0h0m-1 0h0m-2 0h0m-1 0h0m-1 0h0m-1 0h0m-2 0h0m-1 0h0m-1 0h0m-6 0h0m-1 0h0m-1 0h0m-1 0h0m-4 0h0m-2 0h0m-7 0h0m-3 0h0m-5 0h0m-1 0h0m-4 0h0m-4 0h0m-1 0h0m-2 0h0m-2 0h0m-1 0h0m-5 0h0m-4 0h0m-1 0h0m-1 0h0m-2 0h0m-2 0h0m-2 0h0m-5 0h0m-2 0h0m-6 0h0m-1 0h0m-5 0h0m-3 0h0m-4 0h0m-3 0h0m-1 0h0m-6 0h0m-5 0h0m-2 0h0m-1 0h0m-1 0h0m-3 0h0m-3 0h0m-4 0h0m-5 0h0m-1 0h0m-8 0h0m-1 0h0m-2 0h0m-1 0h0m-2 0h0m-1 0h0m-3 0h0m-5 0h0m-1 0h0m-2 0h0m-3 0h0m-19 1h0m19 0h0m1 0h0m2 0h0m1 0h0m1 0h0m2 0h0m1 0h0m11 0h0m1 0h0m4 0h0m4 0h0m2 0h0m1 0h0m2 0h0m2 0h0m6 0h0m1 0h0m5 0h0m5 0h0m2 0h0m6 0h0m2 0h0m1 0h0m2 0h0m1 0h0m6 0h0m1 0h0m8 0h0m1 0h0m3 0h0m3 0h0m4 0h0m2 0h0m4 0h0m4 0h0m1 0h0m1 0h0m2 0h0m5 0h0m1 0h0m3 0h0m2 0h0m3 0h0m6 0h0m6 0h0m1 0h0m3 0h0m1 0h0m2 0h0m7 0h0m1 0h0m1 0h0m2 0h0m1 0h0m3 0h0m3 0h0m1 0h0m4 0h0m2 0h0m1 0h0m3 0h0m5 0h0m-5 1h0m-9 0h0m-7 0h0m-1 0h0m-3 0h0m-1 0h0m-1 0h0m-3 0h0m-5 0h0m-4 0h0m-3 0h0m-4 0h0m-2 0h0m-1 0h0m-11 0h0m-2 0h0m-1 0h0m-1 0h0m-1 0h0m-1 0h0m-5 0h0m-1 0h0m-1 0h0m-6 0h0m-5 0h0m-2 0h0m-1 0h0m-4 0h0m-15 0h0m-4 0h0m-4 0h0m-1 0h0m-1 0h0m-4 0h0m-1 0h0m-2 0h0m-2 0h0m-12 0h0m-9 0h0m-1 0h0m-3 0h0m-4 0h0m-1 0h0m-3 0h0m-5 0h0m-2 0h0m-4 0h0m-1 0h0m-1 0h0m-14 0h0m21 1h0m8 0h0m4 0h0m2 0h0m1 0h0m5 0h0m1 0h0m3 0h0m1 0h0m1 0h0m1 0h0m4 0h0m1 0h0m4 0h0m1 0h0m1 0h0m14 0h0m4 0h0m5 0h0m3 0h0m1 0h0m5 0h0m3 0h0m2 0h0m1 0h0m1 0h0m1 0h0m1 0h0m4 0h0m2 0h0m1 0h0m2 0h0m1 0h0m1 0h0m2 0h0m1 0h0m1 0h0m5 0h0m2 0h0m2 0h0m1 0h0m2 0h0m5 0h0m2 0h0m10 0h0m1 0h0m1 0h0m3 0h0m2 0h0m1 0h0m5 0h0m1 0h0m5 0h0m1 0h0m2 0h0m4 0h0m7 0h0m11 0h0m0 1h0m-5 0h0m-2 0h0m-1 0h0m-2 0h0m-1 0h0m-2 0h0m-3 0h0m-2 0h0m-2 0h0m-3 0h0m-1 0h0m-1 0h0m-2 0h0m-4 0h0m-1 0h0m-1 0h0m-6 0h0m-8 0h0m-4 0h0m-9 0h0m-3 0h0m-7 0h0m-5 0h0m-1 0h0m-1 0h0m-1 0h0m-2 0h0m-4 0h0m-2 0h0m-3 0h0m-1 0h0m-3 0h0m-5 0h0m-2 0h0m-1 0h0m-2 0h0m-3 0h0m-1 0h0m-1 0h0m-1 0h0m-1 0h0m-1 0h0m-1 0h0m-1 0h0m-5 0h0m-2 0h0m-1 0h0m-5 0h0m-3 0h0m-1 0h0m-4 0h0m-5 0h0m-1 0h0m-4 0h0m-1 0h0m-1 0h0m-2 0h0m-2 0h0m-2 0h0m-1 0h0m-1 0h0m-3 0h0m-1 0h0m-5 0h0m-2 0h0m-1 0h0m-1 0h0m-2 0h0m-14 0h0m-5 0h0m-12 1h0m28 0h0m8 0h0m13 0h0m1 0h0m1 0h0m6 0h0m1 0h0m3 0h0m1 0h0m18 0h0m4 0h0m8 0h0m2 0h0m1 0h0m2 0h0m8 0h0m3 0h0m3 0h0m4 0h0m1 0h0m4 0h0m2 0h0m5 0h0m1 0h0m1 0h0m1 0h0m2 0h0m1 0h0m1 0h0m3 0h0m12 0h0m3 0h0m2 0h0m2 0h0m2 0h0m1 0h0m1 0h0m3 0h0m1 0h0m7 0h0m8 0h0m1 0h0m1 0h0m4 0h0m5 0h0m3 0h0m1 0h0m1 0h0m4 0h0m2 0h0m-1 1h0m-3 0h0m-5 0h0m-4 0h0m-4 0h0m-1 0h0m-1 0h0m-2 0h0m-3 0h0m-2 0h0m-2 0h0m-2 0h0m-2 0h0m-1 0h0m-1 0h0m-1 0h0m-1 0h0m-4 0h0m-2 0h0m-2 0h0m-1 0h0m-3 0h0m-3 0h0m-1 0h0m-3 0h0m-2 0h0m-9 0h0m-1 0h0m-2 0h0m-2 0h0m-6 0h0m-3 0h0m-1 0h0m-3 0h0m-1 0h0m-1 0h0m-1 0h0m-2 0h0m-6 0h0m-2 0h0m-2 0h0m-2 0h0m-4 0h0m-1 0h0m-2 0h0m-2 0h0m-1 0h0m-4 0h0m-1 0h0m-2 0h0m-3 0h0m-2 0h0m-5 0h0m-3 0h0m-2 0h0m-6 0h0m-1 0h0m-1 0h0m-3 0h0m-1 0h0m-2 0h0m-5 0h0m-1 0h0m-6 0h0m-6 0h0m-2 0h0m-1 0h0m-4 0h0m-12 0h0m-10 1h0m26 0h0m1 0h0m2 0h0m1 0h0m3 0h0m2 0h0m1 0h0m1 0h0m3 0h0m1 0h0m3 0h0m2 0h0m6 0h0m1 0h0m5 0h0m1 0h0m2 0h0m3 0h0m1 0h0m2 0h0m1 0h0m3 0h0m1 0h0m1 0h0m2 0h0m3 0h0m1 0h0m3 0h0m2 0h0m1 0h0m1 0h0m4 0h0m3 0h0m3 0h0m4 0h0m4 0h0m2 0h0m6 0h0m2 0h0m9 0h0m25 0h0m3 0h0m2 0h0m2 0h0m2 0h0m1 0h0m3 0h0m1 0h0m10 0h0m7 0h0m1 0h0m2 0h0m1 0h0m3 0h0m2 0h0m3 0h0m-4 1h0m-5 0h0m-4 0h0m-2 0h0m-2 0h0m-5 0h0m-1 0h0m-1 0h0m-4 0h0m-1 0h0m-2 0h0m-1 0h0m-2 0h0m-1 0h0m-10 0h0m-1 0h0m-1 0h0m-3 0h0m-4 0h0m-2 0h0m-1 0h0m-2 0h0m-1 0h0m-2 0h0m-4 0h0m-5 0h0m-1 0h0m-2 0h0m-1 0h0m-1 0h0m-4 0h0m-2 0h0m-2 0h0m-1 0h0m-1 0h0m-9 0h0m-3 0h0m-1 0h0m-9 0h0m-8 0h0m-5 0h0m-2 0h0m-9 0h0m-9 0h0m-1 0h0m-2 0h0m-2 0h0m-3 0h0m-1 0h0m-1 0h0m-4 0h0m-2 0h0m-3 0h0m-1 0h0m-3 0h0m-9 0h0m-12 0h0m-11 1h0m5 0h0m23 0h0m3 0h0m2 0h0m2 0h0m2 0h0m1 0h0m1 0h0m3 0h0m2 0h0m4 0h0m4 0h0m1 0h0m5 0h0m3 0h0m1 0h0m1 0h0m1 0h0m1 0h0m5 0h0m2 0h0m2 0h0m6 0h0m4 0h0m2 0h0m1 0h0m3 0h0m2 0h0m9 0h0m1 0h0m1 0h0m1 0h0m1 0h0m4 0h0m1 0h0m4 0h0m3 0h0m4 0h0m2 0h0m1 0h0m1 0h0m6 0h0m3 0h0m2 0h0m4 0h0m3 0h0m1 0h0m3 0h0m8 0h0m1 0h0m3 0h0m1 0h0m2 0h0m1 0h0m2 0h0m7 0h0m3 0h0m6 0h0m2 0h0m3 0h0m3 0h0m5 0h0m1 0h0m-5 1h0m-1 0h0m-9 0h0m-5 0h0m-2 0h0m-2 0h0m-1 0h0m-1 0h0m-1 0h0m-4 0h0m-1 0h0m-1 0h0m-5 0h0m-1 0h0m-3 0h0m-2 0h0m-4 0h0m-4 0h0m-1 0h0m-4 0h0m-1 0h0m-3 0h0m-3 0h0m-13 0h0m-1 0h0m-7 0h0m-1 0h0m-5 0h0m-1 0h0m-1 0h0m-6 0h0m-1 0h0m-6 0h0m-1 0h0m-3 0h0m-3 0h0m-1 0h0m-1 0h0m-2 0h0m-1 0h0m-3 0h0m-2 0h0m-3 0h0m-3 0h0m-5 0h0m-1 0h0m-1 0h0m-4 0h0m-1 0h0m-6 0h0m-1 0h0m-3 0h0m-4 0h0m-1 0h0m-3 0h0m-6 0h0m-31 0h0m-3 0h0m23 1h0m3 0h0m8 0h0m4 0h0m2 0h0m3 0h0m3 0h0m6 0h0m3 0h0m3 0h0m1 0h0m2 0h0m1 0h0m8 0h0m1 0h0m4 0h0m8 0h0m4 0h0m1 0h0m3 0h0m2 0h0m1 0h0m1 0h0m2 0h0m3 0h0m5 0h0m1 0h0m1 0h0m1 0h0m5 0h0m1 0h0m1 0h0m1 0h0m1 0h0m1 0h0m2 0h0m3 0h0m2 0h0m3 0h0m1 0h0m2 0h0m1 0h0m1 0h0m2 0h0m2 0h0m2 0h0m1 0h0m3 0h0m2 0h0m1 0h0m1 0h0m1 0h0m3 0h0m1 0h0m1 0h0m1 0h0m1 0h0m1 0h0m1 0h0m3 0h0m2 0h0m1 0h0m1 0h0m1 0h0m1 0h0m4 0h0m6 0h0m4 0h0m1 0h0m1 0h0m2 0h0m2 0h0m2 0h0m5 0h0m4 0h0m3 0h0m1 1h0m-7 0h0m-1 0h0m-1 0h0m-3 0h0m-7 0h0m-2 0h0m-1 0h0m-1 0h0m-2 0h0m-1 0h0m-4 0h0m-1 0h0m-3 0h0m-3 0h0m-1 0h0m-1 0h0m-7 0h0m-3 0h0m-1 0h0m-3 0h0m-2 0h0m-1 0h0m-6 0h0m-2 0h0m-3 0h0m-1 0h0m-2 0h0m-9 0h0m-2 0h0m-2 0h0m-1 0h0m-4 0h0m-4 0h0m-4 0h0m-2 0h0m-6 0h0m-3 0h0m-3 0h0m-1 0h0m-2 0h0m-2 0h0m-5 0h0m-2 0h0m-1 0h0m-1 0h0m-1 0h0m-1 0h0m-1 0h0m-1 0h0m-3 0h0m-2 0h0m-5 0h0m-4 0h0m-2 0h0m-1 0h0m-2 0h0m-1 0h0m-2 0h0m-7 0h0m-2 0h0m-2 0h0m-1 0h0m-2 0h0m-8 0h0m-20 0h0m7 1h0m16 0h0m3 0h0m2 0h0m3 0h0m4 0h0m13 0h0m2 0h0m6 0h0m8 0h0m5 0h0m2 0h0m4 0h0m3 0h0m2 0h0m1 0h0m5 0h0m1 0h0m4 0h0m5 0h0m1 0h0m2 0h0m1 0h0m3 0h0m4 0h0m1 0h0m1 0h0m3 0h0m3 0h0m1 0h0m1 0h0m1 0h0m2 0h0m1 0h0m4 0h0m1 0h0m8 0h0m4 0h0m2 0h0m1 0h0m7 0h0m3 0h0m3 0h0m2 0h0m2 0h0m6 0h0m3 0h0m4 0h0m6 0h0m2 0h0m2 0h0m3 0h0m2 0h0m2 0h0m6 0h0m-5 1h0m-1 0h0m-1 0h0m-2 0h0m-6 0h0m-11 0h0m-2 0h0m-1 0h0m-4 0h0m-7 0h0m-3 0h0m-2 0h0m-1 0h0m-2 0h0m-5 0h0m-2 0h0m-5 0h0m-1 0h0m-3 0h0m-2 0h0m-3 0h0m-3 0h0m-3 0h0m-4 0h0m-7 0h0m-4 0h0m-4 0h0m-1 0h0m-4 0h0m-1 0h0m-3 0h0m-2 0h0m-1 0h0m-2 0h0m-1 0h0m-1 0h0m-2 0h0m-2 0h0m-2 0h0m-4 0h0m-3 0h0m-2 0h0m-1 0h0m-2 0h0m-1 0h0m-1 0h0m-3 0h0m-1 0h0m-1 0h0m-1 0h0m-2 0h0m-1 0h0m-3 0h0m-8 0h0m-2 0h0m-2 0h0m-6 0h0m-1 0h0m-2 0h0m-3 0h0m-27 0h0m24 1h0m1 0h0m12 0h0m3 0h0m3 0h0m5 0h0m2 0h0m8 0h0m3 0h0m1 0h0m1 0h0m1 0h0m4 0h0m1 0h0m1 0h0m2 0h0m2 0h0m1 0h0m1 0h0m6 0h0m4 0h0m2 0h0m2 0h0m2 0h0m1 0h0m1 0h0m2 0h0m5 0h0m4 0h0m3 0h0m2 0h0m2 0h0m3 0h0m1 0h0m1 0h0m1 0h0m3 0h0m11 0h0m1 0h0m1 0h0m7 0h0m3 0h0m1 0h0m2 0h0m1 0h0m5 0h0m7 0h0m1 0h0m1 0h0m2 0h0m1 0h0m6 0h0m1 0h0m3 0h0m9 0h0m2 0h0m1 0h0m6 1h0m-2 0h0m-4 0h0m-1 0h0m-2 0h0m-2 0h0m-4 0h0m-3 0h0m-4 0h0m-1 0h0m-3 0h0m-3 0h0m-4 0h0m-10 0h0m-1 0h0m-1 0h0m-1 0h0m-1 0h0m-3 0h0m-1 0h0m-1 0h0m-1 0h0m-7 0h0m-5 0h0m-2 0h0m-3 0h0m-1 0h0m-4 0h0m-4 0h0m-1 0h0m-6 0h0m-3 0h0m-1 0h0m-2 0h0m-2 0h0m-5 0h0m-1 0h0m-3 0h0m-1 0h0m-1 0h0m-1 0h0m-3 0h0m-12 0h0m-3 0h0m-1 0h0m-5 0h0m-1 0h0m-3 0h0m-5 0h0m-3 0h0m-4 0h0m-4 0h0m-3 0h0m-4 0h0m-5 0h0m-18 0h0m6 1h0m8 0h0m4 0h0m4 0h0m1 0h0m4 0h0m1 0h0m3 0h0m4 0h0m1 0h0m2 0h0m1 0h0m5 0h0m1 0h0m2 0h0m3 0h0m1 0h0m2 0h0m5 0h0m2 0h0m1 0h0m2 0h0m3 0h0m1 0h0m2 0h0m3 0h0m2 0h0m5 0h0m1 0h0m1 0h0m3 0h0m7 0h0m3 0h0m1 0h0m1 0h0m3 0h0m2 0h0m4 0h0m1 0h0m1 0h0m6 0h0m1 0h0m2 0h0m5 0h0m2 0h0m1 0h0m1 0h0m4 0h0m1 0h0m3 0h0m5 0h0m4 0h0m3 0h0m2 0h0m7 0h0m3 0h0m2 0h0m1 0h0m1 0h0m3 0h0m1 0h0m1 0h0m5 0h0m4 0h0m4 0h0m1 1h0m-3 0h0m-1 0h0m-6 0h0m-2 0h0m-9 0h0m-4 0h0m-1 0h0m-1 0h0m-3 0h0m-1 0h0m-3 0h0m-3 0h0m-1 0h0m-2 0h0m-2 0h0m-1 0h0m-1 0h0m-5 0h0m-1 0h0m-2 0h0m-1 0h0m-1 0h0m-1 0h0m-6 0h0m-1 0h0m-1 0h0m-1 0h0m-2 0h0m-1 0h0m-9 0h0m-2 0h0m-4 0h0m-2 0h0m-2 0h0m-3 0h0m-5 0h0m-1 0h0m-8 0h0m-1 0h0m-2 0h0m-1 0h0m-1 0h0m-1 0h0m-3 0h0m-1 0h0m-5 0h0m-1 0h0m-1 0h0m-1 0h0m-3 0h0m-3 0h0m-2 0h0m-2 0h0m-3 0h0m-4 0h0m-1 0h0m-1 0h0m-1 0h0m-2 0h0m-1 0h0m-4 0h0m-2 0h0m-2 0h0m-1 0h0m-2 0h0m-4 0h0m-5 0h0m-2 0h0m-6 0h0m-12 1h0m31 0h0m5 0h0m1 0h0m4 0h0m2 0h0m1 0h0m3 0h0m1 0h0m6 0h0m4 0h0m2 0h0m2 0h0m5 0h0m6 0h0m5 0h0m1 0h0m1 0h0m2 0h0m1 0h0m1 0h0m2 0h0m1 0h0m3 0h0m1 0h0m3 0h0m1 0h0m2 0h0m2 0h0m1 0h0m5 0h0m3 0h0m2 0h0m2 0h0m4 0h0m1 0h0m1 0h0m1 0h0m1 0h0m2 0h0m1 0h0m5 0h0m1 0h0m9 0h0m3 0h0m2 0h0m3 0h0m2 0h0m1 0h0m1 0h0m1 0h0m2 0h0m3 0h0m3 0h0m2 0h0m3 0h0m9 0h0m3 0h0m1 0h0m1 0h0m2 0h0m4 0h0m0 1h0m-6 0h0m-1 0h0m-1 0h0m-3 0h0m-2 0h0m-1 0h0m-3 0h0m-2 0h0m-4 0h0m-1 0h0m-2 0h0m-4 0h0m-3 0h0m-1 0h0m-1 0h0m-2 0h0m-1 0h0m-2 0h0m-3 0h0m-1 0h0m-2 0h0m-1 0h0m-1 0h0m-4 0h0m-2 0h0m-3 0h0m-1 0h0m-1 0h0m-5 0h0m-3 0h0m-3 0h0m-3 0h0m-1 0h0m-4 0h0m-2 0h0m-3 0h0m-1 0h0m-2 0h0m-2 0h0m-2 0h0m-2 0h0m-1 0h0m-3 0h0m-2 0h0m-8 0h0m-2 0h0m-1 0h0m-3 0h0m-7 0h0m-1 0h0m-1 0h0m-1 0h0m-4 0h0m-3 0h0m-1 0h0m-1 0h0m-1 0h0m-3 0h0m-1 0h0m-1 0h0m-1 0h0m-2 0h0m-2 0h0m-9 0h0m-1 0h0m-2 0h0m-3 0h0m-2 0h0m-1 0h0m-1 0h0m-6 0h0m-6 1h0m10 0h0m1 0h0m7 0h0m2 0h0m4 0h0m3 0h0m1 0h0m4 0h0m2 0h0m1 0h0m2 0h0m1 0h0m2 0h0m2 0h0m3 0h0m3 0h0m1 0h0m1 0h0m1 0h0m4 0h0m1 0h0m1 0h0m2 0h0m2 0h0m1 0h0m1 0h0m2 0h0m2 0h0m1 0h0m3 0h0m2 0h0m1 0h0m1 0h0m11 0h0m2 0h0m3 0h0m2 0h0m3 0h0m1 0h0m1 0h0m4 0h0m3 0h0m8 0h0m1 0h0m4 0h0m1 0h0m2 0h0m1 0h0m4 0h0m3 0h0m2 0h0m4 0h0m1 0h0m1 0h0m3 0h0m4 0h0m1 0h0m4 0h0m3 0h0m3 0h0m1 0h0m1 0h0m2 0h0m2 0h0m3 0h0m7 0h0m1 0h0m1 0h0m1 1h0m-2 0h0m-2 0h0m-1 0h0m-6 0h0m-1 0h0m-1 0h0m-4 0h0m-2 0h0m-3 0h0m-3 0h0m-4 0h0m-3 0h0m-1 0h0m-2 0h0m-1 0h0m-2 0h0m-3 0h0m-2 0h0m-3 0h0m-7 0h0m-5 0h0m-1 0h0m-4 0h0m-1 0h0m-2 0h0m-2 0h0m-1 0h0m-1 0h0m-1 0h0m-2 0h0m-3 0h0m-8 0h0m-8 0h0m-3 0h0m-4 0h0m-4 0h0m-1 0h0m-3 0h0m-1 0h0m-1 0h0m-2 0h0m-2 0h0m-3 0h0m-1 0h0m-5 0h0m-4 0h0m-3 0h0m-1 0h0m-2 0h0m-1 0h0m-3 0h0m-4 0h0m-1 0h0m-2 0h0m-1 0h0m-3 0h0m-5 0h0m-5 0h0m-1 0h0m-3 0h0m-8 0h0m9 1h0m9 0h0m5 0h0m2 0h0m1 0h0m2 0h0m1 0h0m3 0h0m10 0h0m16 0h0m1 0h0m5 0h0m10 0h0m1 0h0m1 0h0m5 0h0m1 0h0m1 0h0m1 0h0m9 0h0m1 0h0m3 0h0m5 0h0m3 0h0m8 0h0m1 0h0m9 0h0m3 0h0m5 0h0m4 0h0m3 0h0m3 0h0m1 0h0m6 0h0m1 0h0m2 0h0m2 0h0m2 0h0m8 0h0m1 0h0m4 0h0m0 1h0m-3 0h0m-1 0h0m-1 0h0m-3 0h0m-1 0h0m-7 0h0m-4 0h0m-2 0h0m-1 0h0m-7 0h0m-4 0h0m-4 0h0m-2 0h0m-1 0h0m-2 0h0m-2 0h0m-5 0h0m-3 0h0m-1 0h0m-1 0h0m-7 0h0m-6 0h0m-1 0h0m-5 0h0m-2 0h0m-1 0h0m-7 0h0m-1 0h0m-3 0h0m-1 0h0m-1 0h0m-3 0h0m-2 0h0m-7 0h0m-7 0h0m-1 0h0m-2 0h0m-2 0h0m-1 0h0m-2 0h0m-1 0h0m-2 0h0m-1 0h0m-4 0h0m-10 0h0m-1 0h0m-2 0h0m-4 0h0m-4 0h0m-1 0h0m-2 0h0m-1 0h0m-4 0h0m-9 0h0m-20 0h0m6 1h0m10 0h0m2 0h0m7 0h0m1 0h0m5 0h0m1 0h0m4 0h0m1 0h0m3 0h0m3 0h0m2 0h0m3 0h0m2 0h0m3 0h0m2 0h0m3 0h0m1 0h0m1 0h0m6 0h0m1 0h0m1 0h0m4 0h0m5 0h0m3 0h0m1 0h0m10 0h0m1 0h0m2 0h0m1 0h0m4 0h0m3 0h0m1 0h0m2 0h0m8 0h0m2 0h0m1 0h0m10 0h0m2 0h0m1 0h0m2 0h0m1 0h0m1 0h0m2 0h0m4 0h0m2 0h0m1 0h0m2 0h0m1 0h0m3 0h0m3 0h0m1 0h0m3 0h0m7 0h0m2 0h0m1 0h0m1 0h0m1 0h0m1 0h0m2 0h0m1 0h0m1 0h0m5 0h0m5 0h0m0 1h0m-1 0h0m-7 0h0m-1 0h0m-1 0h0m-7 0h0m-1 0h0m-3 0h0m-5 0h0m-8 0h0m-5 0h0m-2 0h0m-1 0h0m-5 0h0m-1 0h0m-3 0h0m-1 0h0m-4 0h0m-4 0h0m-4 0h0m-1 0h0m-2 0h0m-1 0h0m-6 0h0m-7 0h0m-1 0h0m-4 0h0m-1 0h0m-1 0h0m-3 0h0m-1 0h0m-5 0h0m-1 0h0m-3 0h0m-1 0h0m-5 0h0m-4 0h0m-1 0h0m-1 0h0m-3 0h0m-5 0h0m-1 0h0m-4 0h0m-2 0h0m-3 0h0m-1 0h0m-3 0h0m-1 0h0m-1 0h0m-4 0h0m-1 0h0m-7 0h0m-3 0h0m-19 1h0m10 0h0m7 0h0m8 0h0m5 0h0m1 0h0m1 0h0m2 0h0m5 0h0m6 0h0m6 0h0m2 0h0m2 0h0m4 0h0m1 0h0m1 0h0m5 0h0m4 0h0m1 0h0m1 0h0m1 0h0m2 0h0m2 0h0m4 0h0m8 0h0m7 0h0m2 0h0m3 0h0m5 0h0m3 0h0m3 0h0m2 0h0m5 0h0m1 0h0m2 0h0m6 0h0m4 0h0m3 0h0m1 0h0m3 0h0m5 0h0m8 0h0m2 0h0m2 0h0m3 0h0m1 0h0m4 0h0m3 0h0m1 0h0m1 0h0m1 0h0m3 0h0m-1 1h0m-2 0h0m-2 0h0m-3 0h0m-1 0h0m-1 0h0m-3 0h0m-1 0h0m-1 0h0m-1 0h0m-1 0h0m-1 0h0m-6 0h0m-1 0h0m-1 0h0m-6 0h0m-5 0h0m-4 0h0m-3 0h0m-2 0h0m-4 0h0m-3 0h0m-1 0h0m-1 0h0m-1 0h0m-1 0h0m-5 0h0m-1 0h0m-2 0h0m-2 0h0m-1 0h0m-1 0h0m-3 0h0m-2 0h0m-5 0h0m-13 0h0m-1 0h0m-1 0h0m-3 0h0m-1 0h0m-1 0h0m-5 0h0m-4 0h0m-2 0h0m-1 0h0m-3 0h0m-5 0h0m-7 0h0m-7 0h0m-3 0h0m-3 0h0m-8 0h0m-13 0h0m-3 0h0m-6 0h0m-19 0h0m26 1h0m15 0h0m1 0h0m1 0h0m2 0h0m1 0h0m3 0h0m2 0h0m6 0h0m1 0h0m1 0h0m2 0h0m4 0h0m5 0h0m1 0h0m3 0h0m2 0h0m1 0h0m5 0h0m6 0h0m5 0h0m2 0h0m2 0h0m4 0h0m1 0h0m6 0h0m1 0h0m5 0h0m1 0h0m2 0h0m2 0h0m6 0h0m1 0h0m4 0h0m1 0h0m4 0h0m3 0h0m3 0h0m1 0h0m2 0h0m4 0h0m2 0h0m1 0h0m2 0h0m2 0h0m1 0h0m1 0h0m3 0h0m1 0h0m4 0h0m1 0h0m5 0h0m3 0h0m1 0h0m4 0h0m1 0h0m2 0h0m2 0h0m2 0h0m1 1h0m-5 0h0m-1 0h0m-2 0h0m-2 0h0m-2 0h0m-2 0h0m-3 0h0m-3 0h0m-2 0h0m-1 0h0m-5 0h0m-5 0h0m-1 0h0m-2 0h0m-1 0h0m-2 0h0m-3 0h0m-1 0h0m-6 0h0m-5 0h0m-2 0h0m-3 0h0m-8 0h0m-5 0h0m-6 0h0m-1 0h0m-4 0h0m-1 0h0m-2 0h0m-4 0h0m-3 0h0m-1 0h0m-2 0h0m-1 0h0m-2 0h0m-1 0h0m-2 0h0m-1 0h0m-3 0h0m-1 0h0m-1 0h0m-4 0h0m-1 0h0m-1 0h0m-2 0h0m-2 0h0m-5 0h0m-4 0h0m-2 0h0m-1 0h0m-3 0h0m-2 0h0m-1 0h0m-8 0h0m-9 0h0m-15 0h0m-10 0h0m24 1h0m6 0h0m12 0h0m2 0h0m4 0h0m1 0h0m9 0h0m2 0h0m5 0h0m2 0h0m4 0h0m4 0h0m2 0h0m1 0h0m2 0h0m3 0h0m2 0h0m2 0h0m1 0h0m3 0h0m4 0h0m1 0h0m1 0h0m3 0h0m3 0h0m1 0h0m4 0h0m1 0h0m5 0h0m4 0h0m1 0h0m4 0h0m3 0h0m2 0h0m1 0h0m3 0h0m9 0h0m2 0h0m10 0h0m1 0h0m4 0h0m1 0h0m2 0h0m1 0h0m1 0h0m2 0h0m2 0h0m6 0h0m1 0h0m2 0h0m1 1h0m-2 0h0m-1 0h0m-3 0h0m-2 0h0m-8 0h0m-3 0h0m-2 0h0m-3 0h0m-5 0h0m-3 0h0m-4 0h0m-4 0h0m-8 0h0m-1 0h0m-5 0h0m-1 0h0m-1 0h0m-1 0h0m-3 0h0m-4 0h0m-1 0h0m-2 0h0m-2 0h0m-1 0h0m-6 0h0m-2 0h0m-2 0h0m-3 0h0m-2 0h0m-3 0h0m-1 0h0m-1 0h0m-1 0h0m-1 0h0m-1 0h0m-1 0h0m-2 0h0m-5 0h0m-2 0h0m-1 0h0m-1 0h0m-1 0h0m-4 0h0m-1 0h0m-10 0h0m-1 0h0m-1 0h0m-1 0h0m-1 0h0m-3 0h0m-3 0h0m-6 0h0m-6 0h0m-9 0h0m-5 1h0m22 0h0m4 0h0m8 0h0m1 0h0m2 0h0m3 0h0m3 0h0m1 0h0m1 0h0m2 0h0m2 0h0m6 0h0m2 0h0m1 0h0m5 0h0m2 0h0m2 0h0m1 0h0m1 0h0m2 0h0m1 0h0m1 0h0m2 0h0m1 0h0m4 0h0m1 0h0m2 0h0m2 0h0m1 0h0m1 0h0m3 0h0m1 0h0m1 0h0m1 0h0m6 0h0m2 0h0m3 0h0m2 0h0m5 0h0m7 0h0m1 0h0m4 0h0m1 0h0m2 0h0m7 0h0m1 0h0m5 0h0m4 0h0m1 0h0m1 0h0m1 0h0m2 0h0m1 0h0m3 0h0m2 0h0m5 0h0m-5 1h0m-1 0h0m-2 0h0m-1 0h0m-4 0h0m-8 0h0m-1 0h0m-3 0h0m-7 0h0m-6 0h0m-8 0h0m-13 0h0m-1 0h0m-1 0h0m-4 0h0m-1 0h0m-1 0h0m-1 0h0m-1 0h0m-3 0h0m-2 0h0m-1 0h0m-8 0h0m-1 0h0m-2 0h0m-3 0h0m-2 0h0m-4 0h0m-1 0h0m-4 0h0m-1 0h0m-7 0h0m-5 0h0m-3 0h0m-3 0h0m-2 0h0m-4 0h0m-3 0h0m-3 0h0m-3 0h0m-1 0h0m-8 0h0m-6 0h0m-3 0h0m-1 0h0m-7 0h0m8 1h0m2 0h0m11 0h0m7 0h0m4 0h0m1 0h0m4 0h0m2 0h0m1 0h0m1 0h0m2 0h0m8 0h0m2 0h0m3 0h0m6 0h0m6 0h0m1 0h0m3 0h0m1 0h0m3 0h0m6 0h0m3 0h0m2 0h0m1 0h0m4 0h0m4 0h0m1 0h0m2 0h0m2 0h0m2 0h0m3 0h0m2 0h0m1 0h0m1 0h0m1 0h0m1 0h0m3 0h0m1 0h0m1 0h0m1 0h0m1 0h0m4 0h0m1 0h0m2 0h0m2 0h0m2 0h0m1 0h0m2 0h0m6 0h0m2 0h0m3 0h0m1 0h0m9 0h0m1 0h0m1 0h0m1 0h0m4 0h0m-4 1h0m-3 0h0m-1 0h0m-1 0h0m-1 0h0m-4 0h0m-2 0h0m-1 0h0m-2 0h0m-3 0h0m-1 0h0m-3 0h0m-5 0h0m-6 0h0m-1 0h0m-2 0h0m-4 0h0m-5 0h0m-2 0h0m-8 0h0m-1 0h0m-3 0h0m-2 0h0m-2 0h0m-1 0h0m-1 0h0m-2 0h0m-2 0h0m-2 0h0m-1 0h0m-3 0h0m-1 0h0m-5 0h0m-1 0h0m-3 0h0m-1 0h0m-8 0h0m-1 0h0m-1 0h0m-1 0h0m-1 0h0m-2 0h0m-3 0h0m-9 0h0m-5 0h0m-6 0h0m-5 0h0m-4 0h0m-3 0h0m-5 0h0m-7 0h0m-7 0h0m6 1h0m8 0h0m5 0h0m1 0h0m3 0h0m3 0h0m6 0h0m4 0h0m3 0h0m2 0h0m1 0h0m3 0h0m2 0h0m5 0h0m2 0h0m3 0h0m7 0h0m1 0h0m1 0h0m2 0h0m1 0h0m5 0h0m1 0h0m1 0h0m6 0h0m2 0h0m2 0h0m1 0h0m2 0h0m3 0h0m5 0h0m3 0h0m2 0h0m1 0h0m2 0h0m1 0h0m1 0h0m5 0h0m3 0h0m1 0h0m3 0h0m2 0h0m2 0h0m4 0h0m1 0h0m1 0h0m5 0h0m2 0h0m1 0h0m3 0h0m2 0h0m2 0h0m7 0h0m1 0h0m1 0h0m1 0h0m4 1h0m-5 0h0m-2 0h0m-1 0h0m-1 0h0m-1 0h0m-3 0h0m-4 0h0m-1 0h0m-1 0h0m-1 0h0m-2 0h0m-1 0h0m-1 0h0m-4 0h0m-2 0h0m-2 0h0m-1 0h0m-2 0h0m-1 0h0m-1 0h0m-6 0h0m-2 0h0m-2 0h0m-3 0h0m-2 0h0m-3 0h0m-2 0h0m-2 0h0m-2 0h0m-1 0h0m-6 0h0m-5 0h0m-4 0h0m-1 0h0m-1 0h0m-1 0h0m-1 0h0m-1 0h0m-4 0h0m-3 0h0m-1 0h0m-1 0h0m-3 0h0m-1 0h0m-1 0h0m-5 0h0m-1 0h0m-5 0h0m-5 0h0m-5 0h0m-1 0h0m-2 0h0m-4 0h0m-6 0h0m-1 0h0m-1 0h0m-6 0h0m-1 0h0m-3 0h0m-11 0h0m-10 1h0m5 0h0m16 0h0m6 0h0m6 0h0m3 0h0m5 0h0m5 0h0m1 0h0m2 0h0m1 0h0m1 0h0m5 0h0m4 0h0m2 0h0m4 0h0m1 0h0m1 0h0m3 0h0m4 0h0m3 0h0m7 0h0m1 0h0m1 0h0m1 0h0m3 0h0m2 0h0m3 0h0m2 0h0m3 0h0m3 0h0m2 0h0m1 0h0m1 0h0m1 0h0m2 0h0m8 0h0m4 0h0m4 0h0m5 0h0m3 0h0m2 0h0m1 0h0m1 0h0m1 0h0m1 0h0m1 0h0m1 0h0m3 0h0m5 0h0m1 0h0m1 0h0m2 0h0m3 0h0m2 0h0m3 0h0m0 1h0m-2 0h0m-3 0h0m-1 0h0m-1 0h0m-1 0h0m-1 0h0m-6 0h0m-2 0h0m-3 0h0m-6 0h0m-2 0h0m-1 0h0m-3 0h0m-4 0h0m-6 0h0m-6 0h0m-1 0h0m-1 0h0m-5 0h0m-1 0h0m-2 0h0m-1 0h0m-4 0h0m-1 0h0m-1 0h0m-1 0h0m-5 0h0m-3 0h0m-2 0h0m-7 0h0m-5 0h0m-1 0h0m-2 0h0m-1 0h0m-2 0h0m-2 0h0m-4 0h0m-1 0h0m-3 0h0m-6 0h0m-1 0h0m-2 0h0m-1 0h0m-1 0h0m-5 0h0m-4 0h0m-3 0h0m-1 0h0m-6 0h0m-4 0h0m-6 0h0m-19 0h0m14 1h0m1 0h0m8 0h0m10 0h0m8 0h0m8 0h0m4 0h0m9 0h0m1 0h0m1 0h0m1 0h0m2 0h0m1 0h0m5 0h0m4 0h0m1 0h0m2 0h0m1 0h0m2 0h0m2 0h0m1 0h0m5 0h0m4 0h0m2 0h0m10 0h0m1 0h0m2 0h0m5 0h0m4 0h0m1 0h0m1 0h0m5 0h0m4 0h0m3 0h0m7 0h0m1 0h0m1 0h0m3 0h0m1 0h0m1 0h0m7 0h0m4 0h0m3 0h0m2 0h0m-1 1h0m-3 0h0m-4 0h0m-4 0h0m-1 0h0m-3 0h0m-1 0h0m-1 0h0m-3 0h0m-1 0h0m-3 0h0m-1 0h0m-3 0h0m-1 0h0m-2 0h0m-1 0h0m-3 0h0m-1 0h0m-1 0h0m-3 0h0m-4 0h0m-1 0h0m-2 0h0m-1 0h0m-1 0h0m-4 0h0m-3 0h0m-1 0h0m-1 0h0m-10 0h0m-1 0h0m-1 0h0m-1 0h0m-1 0h0m-3 0h0m-4 0h0m-1 0h0m-1 0h0m-10 0h0m-4 0h0m-5 0h0m-2 0h0m-2 0h0m-7 0h0m-5 0h0m-10 0h0m-4 0h0m-2 0h0m-3 0h0m-29 1h0m28 0h0m24 0h0m2 0h0m1 0h0m5 0h0m2 0h0m4 0h0m3 0h0m2 0h0m1 0h0m1 0h0m1 0h0m3 0h0m11 0h0m9 0h0m2 0h0m1 0h0m3 0h0m3 0h0m2 0h0m1 0h0m3 0h0m1 0h0m1 0h0m1 0h0m2 0h0m1 0h0m1 0h0m1 0h0m2 0h0m1 0h0m3 0h0m3 0h0m3 0h0m2 0h0m6 0h0m1 0h0m4 0h0m1 0h0m5 0h0m5 0h0m5 0h0m1 0h0m1 0h0m-9 1h0m-3 0h0m-1 0h0m-3 0h0m-4 0h0m-3 0h0m-2 0h0m-2 0h0m-2 0h0m-1 0h0m-1 0h0m-10 0h0m-4 0h0m-3 0h0m-3 0h0m-6 0h0m-3 0h0m-1 0h0m-2 0h0m-3 0h0m-3 0h0m-4 0h0m-2 0h0m-3 0h0m-1 0h0m-2 0h0m-1 0h0m-4 0h0m-1 0h0m-2 0h0m-1 0h0m-5 0h0m-1 0h0m-1 0h0m-1 0h0m-2 0h0m-2 0h0m-2 0h0m-2 0h0m-7 0h0m-2 0h0m-1 0h0m-5 0h0m-16 1h0m7 0h0m8 0h0m8 0h0m6 0h0m8 0h0m1 0h0m2 0h0m2 0h0m1 0h0m8 0h0m1 0h0m2 0h0m3 0h0m1 0h0m1 0h0m1 0h0m1 0h0m1 0h0m1 0h0m2 0h0m2 0h0m3 0h0m3 0h0m2 0h0m6 0h0m4 0h0m1 0h0m4 0h0m1 0h0m3 0h0m1 0h0m3 0h0m2 0h0m1 0h0m1 0h0m5 0h0m9 0h0m1 0h0m1 0h0m2 0h0m3 0h0m1 0h0m3 0h0m1 0h0m4 0h0m2 0h0m3 1h0m-2 0h0m-1 0h0m-5 0h0m-1 0h0m-1 0h0m-1 0h0m-3 0h0m-1 0h0m-2 0h0m-4 0h0m-7 0h0m-1 0h0m-2 0h0m-3 0h0m-2 0h0m-5 0h0m-3 0h0m-1 0h0m-5 0h0m-5 0h0m-7 0h0m-3 0h0m-1 0h0m-6 0h0m-2 0h0m-3 0h0m-1 0h0m-1 0h0m-7 0h0m-2 0h0m-2 0h0m-5 0h0m-4 0h0m-13 0h0m-1 0h0m-1 0h0m-11 0h0m-26 1h0m17 0h0m8 0h0m8 0h0m1 0h0m3 0h0m4 0h0m8 0h0m12 0h0m2 0h0m4 0h0m3 0h0m4 0h0m2 0h0m1 0h0m6 0h0m4 0h0m2 0h0m4 0h0m3 0h0m1 0h0m3 0h0m6 0h0m1 0h0m2 0h0m2 0h0m3 0h0m2 0h0m1 0h0m3 0h0m1 0h0m2 0h0m1 0h0m1 0h0m3 0h0m1 0h0m1 0h0m3 0h0m1 0h0m2 0h0m2 0h0m1 0h0m9 0h0m2 0h0m3 1h0m-1 0h0m-3 0h0m-6 0h0m-3 0h0m-3 0h0m-1 0h0m-1 0h0m-3 0h0m-5 0h0m-1 0h0m-13 0h0m-2 0h0m-3 0h0m-1 0h0m-1 0h0m-3 0h0m-3 0h0m-1 0h0m-3 0h0m-7 0h0m-5 0h0m-3 0h0m-2 0h0m-2 0h0m-2 0h0m-1 0h0m-4 0h0m-8 0h0m-2 0h0m-1 0h0m-1 0h0m-1 0h0m-4 0h0m-3 0h0m-3 0h0m-1 0h0m-3 0h0m-3 0h0m-3 0h0m-2 0h0m-2 0h0m-21 1h0m11 0h0m29 0h0m5 0h0m4 0h0m10 0h0m2 0h0m2 0h0m2 0h0m4 0h0m2 0h0m1 0h0m1 0h0m4 0h0m3 0h0m2 0h0m1 0h0m4 0h0m4 0h0m5 0h0m3 0h0m4 0h0m2 0h0m3 0h0m2 0h0m7 0h0m9 0h0m6 0h0m1 0h0m1 0h0m1 0h0m1 0h0m2 1h0m-1 0h0m-1 0h0m-2 0h0m-2 0h0m-2 0h0m-2 0h0m-1 0h0m-2 0h0m-2 0h0m-1 0h0m-3 0h0m-3 0h0m-1 0h0m-2 0h0m-2 0h0m-6 0h0m-1 0h0m-2 0h0m-3 0h0m-1 0h0m-1 0h0m-1 0h0m-3 0h0m-1 0h0m-7 0h0m-1 0h0m-1 0h0m-1 0h0m-1 0h0m-3 0h0m-2 0h0m-2 0h0m-2 0h0m-8 0h0m-3 0h0m-2 0h0m-12 0h0m-2 0h0m-4 0h0m-6 0h0m-2 0h0m-6 0h0m-14 0h0m3 1h0m7 0h0m7 0h0m4 0h0m3 0h0m1 0h0m10 0h0m2 0h0m1 0h0m3 0h0m1 0h0m1 0h0m1 0h0m6 0h0m2 0h0m1 0h0m1 0h0m2 0h0m1 0h0m1 0h0m9 0h0m1 0h0m8 0h0m3 0h0m1 0h0m1 0h0m1 0h0m2 0h0m3 0h0m1 0h0m4 0h0m1 0h0m1 0h0m1 0h0m2 0h0m1 0h0m1 0h0m4 0h0m1 0h0m8 0h0m1 0h0m3 0h0m2 0h0m2 0h0m2 0h0m3 1h0m-1 0h0m-1 0h0m-1 0h0m-1 0h0m-2 0h0m-1 0h0m-2 0h0m-2 0h0m-1 0h0m-1 0h0m-2 0h0m-4 0h0m-1 0h0m-4 0h0m-1 0h0m-4 0h0m-1 0h0m-1 0h0m-1 0h0m-5 0h0m-5 0h0m-1 0h0m-3 0h0m-6 0h0m-2 0h0m-2 0h0m-1 0h0m-1 0h0m-3 0h0m-1 0h0m-1 0h0m-2 0h0m-2 0h0m-1 0h0m-1 0h0m-9 0h0m-1 0h0m-3 0h0m-2 0h0m-4 0h0m-7 0h0m-5 0h0m-15 0h0m-2 0h0m-1 0h0m-21 0h0m32 1h0m6 0h0m2 0h0m8 0h0m10 0h0m1 0h0m6 0h0m5 0h0m1 0h0m2 0h0m3 0h0m4 0h0m7 0h0m5 0h0m4 0h0m4 0h0m8 0h0m4 0h0m1 0h0m1 0h0m1 0h0m3 0h0m1 0h0m7 0h0m8 0h0m1 0h0m2 0h0m2 0h0m2 1h0m-1 0h0m-1 0h0m-2 0h0m-7 0h0m-1 0h0m-3 0h0m-2 0h0m-5 0h0m-5 0h0m-1 0h0m-1 0h0m-3 0h0m-1 0h0m-3 0h0m-3 0h0m-7 0h0m-2 0h0m-6 0h0m-3 0h0m-1 0h0m-1 0h0m-1 0h0m-2 0h0m-1 0h0m-1 0h0m-4 0h0m-4 0h0m-5 0h0m-5 0h0m-1 0h0m-2 0h0m-1 0h0m-1 0h0m-9 0h0m-1 0h0m-3 0h0m-4 0h0m-2 0h0m-1 0h0m-3 0h0m-36 1h0m28 0h0m3 0h0m1 0h0m3 0h0m12 0h0m2 0h0m4 0h0m9 0h0m2 0h0m1 0h0m1 0h0m2 0h0m2 0h0m2 0h0m4 0h0m1 0h0m2 0h0m2 0h0m5 0h0m2 0h0m6 0h0m1 0h0m4 0h0m2 0h0m4 0h0m4 0h0m4 0h0m1 0h0m2 0h0m4 0h0m1 0h0m2 0h0m1 0h0m1 0h0m2 0h0m3 0h0m4 0h0m1 0h0m1 0h0m5 0h0m3 0h0m1 1h0m-6 0h0m-9 0h0m-1 0h0m-4 0h0m-2 0h0m-2 0h0m-1 0h0m-1 0h0m-1 0h0m-3 0h0m-1 0h0m-5 0h0m-7 0h0m-6 0h0m-8 0h0m-6 0h0m-6 0h0m-4 0h0m-10 0h0m-2 0h0m-4 0h0m-1 0h0m-13 0h0m-1 0h0m-3 0h0m-1 0h0m-9 0h0m-1 0h0m-8 0h0m-2 0h0m2 1h0m10 0h0m27 0h0m1 0h0m4 0h0m4 0h0m1 0h0m1 0h0m1 0h0m3 0h0m4 0h0m2 0h0m2 0h0m6 0h0m2 0h0m1 0h0m1 0h0m8 0h0m9 0h0m2 0h0m2 0h0m2 0h0m1 0h0m1 0h0m2 0h0m2 0h0m16 0h0m3 0h0m2 0h0m5 0h0m2 0h0m-6 1h0m-1 0h0m-1 0h0m-2 0h0m-11 0h0m-2 0h0m-3 0h0m-1 0h0m-1 0h0m-1 0h0m-4 0h0m-1 0h0m-7 0h0m-2 0h0m-3 0h0m-4 0h0m-3 0h0m-1 0h0m-3 0h0m-2 0h0m-2 0h0m-1 0h0m-1 0h0m-3 0h0m-6 0h0m-4 0h0m-1 0h0m-4 0h0m-9 0h0m-2 0h0m-21 1h0m1 0h0m9 0h0m9 0h0m2 0h0m5 0h0m7 0h0m3 0h0m2 0h0m1 0h0m1 0h0m3 0h0m1 0h0m4 0h0m4 0h0m1 0h0m8 0h0m2 0h0m1 0h0m1 0h0m1 0h0m1 0h0m2 0h0m6 0h0m1 0h0m1 0h0m5 0h0m1 0h0m3 0h0m3 0h0m6 0h0m2 0h0m2 0h0m1 0h0m1 0h0m2 0h0m2 0h0m3 0h0m7 0h0m-8 1h0m-4 0h0m-6 0h0m-5 0h0m-3 0h0m-3 0h0m-2 0h0m-7 0h0m-2 0h0m-4 0h0m-3 0h0m-4 0h0m-1 0h0m-1 0h0m-2 0h0m-4 0h0m-4 0h0m-7 0h0m-1 0h0m-4 0h0m-3 0h0m-3 0h0m-8 0h0m-10 0h0m-17 0h0m-5 0h0m-7 1h0m7 0h0m16 0h0m5 0h0m2 0h0m1 0h0m2 0h0m9 0h0m6 0h0m7 0h0m1 0h0m2 0h0m5 0h0m3 0h0m3 0h0m2 0h0m4 0h0m1 0h0m3 0h0m3 0h0m1 0h0m3 0h0m9 0h0m1 0h0m9 0h0m3 0h0m3 0h0m2 0h0m4 0h0m2 0h0m4 0h0m-1 1h0m-3 0h0m-1 0h0m-7 0h0m-2 0h0m-10 0h0m-3 0h0m-4 0h0m-1 0h0m-2 0h0m-1 0h0m-4 0h0m-1 0h0m-6 0h0m-2 0h0m-4 0h0m-2 0h0m-5 0h0m-1 0h0m-2 0h0m-3 0h0m-10 0h0m-3 0h0m-10 0h0m-15 1h0m8 0h0m20 0h0m7 0h0m1 0h0m4 0h0m3 0h0m5 0h0m5 0h0m1 0h0m2 0h0m6 0h0m3 0h0m5 0h0m7 0h0m2 0h0m5 0h0m3 0h0m9 0h0m5 0h0m1 0h0m1 0h0m0 1h0m-3 0h0m-1 0h0m-9 0h0m-4 0h0m-1 0h0m-1 0h0m-3 0h0m-3 0h0m-5 0h0m-1 0h0m-1 0h0m-1 0h0m-7 0h0m-4 0h0m-3 0h0m-1 0h0m-4 0h0m-1 0h0m-1 0h0m-7 0h0m-2 0h0m-18 0h0m-4 0h0m-5 0h0m-2 0h0m6 1h0m10 0h0m4 0h0m3 0h0m3 0h0m1 0h0m2 0h0m1 0h0m3 0h0m1 0h0m1 0h0m1 0h0m5 0h0m2 0h0m3 0h0m3 0h0m6 0h0m1 0h0m4 0h0m3 0h0m5 0h0m7 0h0m11 0h0m4 0h0m3 0h0m-5 1h0m-2 0h0m-10 0h0m-3 0h0m-8 0h0m-3 0h0m-6 0h0m-27 0h0m-11 0h0m-2 0h0m-2 0h0m-4 0h0m-1 0h0" stroke="#6cc6d3" stroke-width="3.8" stroke-linecap="round" fill="none"/>
<path transform="scale(.5)" d="M0 0m1154 176h0m70 4h0m-81 6h0m26 7h0m26 2h0m20 4h0m-2 7h0m7 18h0m-34 14h0m-37 24h0m72 4h0m22 0h0m-63 15h0m8 1h0m73 0h0m-126 5h0m-10 6h0m88 3h0m-95 7h0m54 9h0m-2 4h0m-44 3h0m93 7h0m-22 4h0m-47 0h0m97 1h0m-49 1h0m-15 1h0m45 1h0m-24 0h0m-47 0h0m45 1h0m7 1h0m-21 0h0m-6 0h0m-6 0h0m16 1h0m3 1h0m-2 0h0m5 1h0m-21 1h0m-3 0h0m-19 0h0m-41 1h0m14 0h0m6 0h0m81 0h0m9 0h0m0 1h0m-16 1h0m17 1h0m-29 0h0m-1 0h0m-4 0h0m-33 1h0m12 0h0m40 0h0m22 0h0m-12 1h0m-24 0h0m-3 0h0m-63 0h0m18 1h0m38 0h0m27 0h0m29 1h0m-22 0h0m-27 0h0m-40 1h0m30 0h0m3 0h0m14 0h0m3 0h0m10 0h0m22 1h0m-18 0h0m-7 0h0m-12 0h0m-8 0h0m-10 0h0m-28 0h0m-20 0h0m-6 0h0m0 1h0m50 0h0m31 0h0m4 0h0m13 0h0m1 0h0m10 1h0m-22 0h0m-59 0h0m-3 1h0m62 0h0m4 0h0m7 0h0m10 0h0m2 0h0m-17 1h0m-2 0h0m-6 0h0m-16 0h0m-30 0h0m-4 0h0m-25 0h0m-8 0h0m13 1h0m17 0h0m51 0h0m20 1h0m-22 0h0m-4 0h0m-3 0h0m-53 0h0m-10 0h0m-29 1h0m4 0h0m27 0h0m36 0h0m57 1h0m-15 0h0m-20 0h0m-8 0h0m-19 0h0m-2 0h0m-2 0h0m-6 0h0m-44 1h0m9 0h0m17 0h0m16 0h0m51 0h0m9 0h0m3 1h0m-6 0h0m-2 0h0m-12 0h0m-86 0h0m0 1h0m13 0h0m6 0h0m5 0h0m1 0h0m18 0h0m1 0h0m14 0h0m8 0h0m5 0h0m8 0h0m11 0h0m1 0h0m36 1h0m-4 0h0m-21 0h0m-9 0h0m-13 0h0m-4 0h0m-6 0h0m-21 0h0m-33 0h0m-1 0h0m-21 1h0m12 0h0m4 0h0m11 0h0m24 0h0m36 0h0m19 0h0m14 0h0m-28 1h0m-66 0h0m-1 0h0m-18 0h0m-3 1h0m49 0h0m46 0h0m26 1h0m-3 0h0m-5 0h0m-1 0h0m-31 0h0m-6 0h0m-18 0h0m-52 0h0m29 1h0m6 0h0m4 0h0m15 0h0m22 0h0m6 0h0m7 0h0m12 0h0m10 0h0m-13 1h0m-29 0h0m-6 0h0m-2 0h0m-6 0h0m-73 1h0m31 0h0m57 0h0m9 0h0m4 0h0m33 1h0m-4 0h0m-16 0h0m-10 0h0m-71 0h0m-19 1h0m16 0h0m35 0h0m3 0h0m2 0h0m7 0h0m19 0h0m30 0h0m-13 1h0m-31 0h0m-27 0h0m-40 0h0m4 1h0m3 0h0m15 0h0m10 0h0m9 0h0m20 0h0m10 0h0m3 0h0m24 0h0m11 0h0m4 0h0m15 1h0m-20 0h0m-62 0h0m-36 0h0m-11 0h0m15 1h0m43 0h0m48 0h0m11 0h0m7 1h0m-94 0h0m-5 0h0m-32 0h0m-2 0h0m14 1h0m1 0h0m2 0h0m9 0h0m13 0h0m54 0h0m13 0h0m9 0h0m23 0h0m-13 1h0m-31 0h0m-44 0h0m-28 0h0m-8 0h0m15 1h0m27 0h0m37 0h0m16 0h0m5 0h0m-3 1h0m-49 0h0m-27 0h0m-15 0h0m-16 0h0m6 1h0m31 0h0m94 0h0m1 1h0m-7 0h0m-40 0h0m-20 0h0m-68 0h0m45 1h0m39 0h0m13 0h0m14 0h0m31 1h0m-32 0h0m-18 0h0m-12 0h0m-11 0h0m-3 0h0m-2 0h0m-7 0h0m-1 0h0m-8 0h0m-19 0h0m-8 0h0m3 1h0m3 0h0m43 0h0m9 0h0m20 0h0m23 0h0m18 1h0m-9 0h0m-21 0h0m-4 0h0m-1 0h0m-51 0h0m-4 0h0m-20 0h0m-19 1h0m24 0h0m23 0h0m45 0h0m24 0h0m11 0h0m7 1h0m-25 0h0m-19 0h0m-4 0h0m-18 0h0m-19 0h0m-26 0h0m-5 0h0m-14 0h0m-8 1h0m2 0h0m4 0h0m29 0h0m1 0h0m10 0h0m60 0h0m12 1h0m-30 0h0m-80 0h0m-14 0h0m-4 1h0m4 0h0m105 0h0m6 0h0m11 0h0m30 0h0m-12 1h0m-2 0h0m-2 0h0m-15 0h0m-5 0h0m-45 0h0m-2 0h0m-1 0h0m-24 0h0m-9 0h0m-15 0h0m-3 0h0m-22 0h0m-2 0h0m-1 1h0m1 0h0m1 0h0m43 0h0m2 0h0m20 0h0m95 1h0m-49 0h0m-36 0h0m-9 0h0m-22 0h0m-2 0h0m-6 0h0m-1 0h0m-18 0h0m-1 0h0m-6 0h0m62 1h0m6 0h0m82 0h0m-29 1h0m-19 0h0m-8 0h0m-9 0h0m-59 0h0m-11 0h0m-16 0h0m32 1h0m12 0h0m5 0h0m13 0h0m7 0h0m24 0h0m2 0h0m17 0h0m27 0h0m11 1h0m-26 0h0m-2 0h0m-53 0h0m-8 0h0m-72 0h0m19 1h0m10 0h0m13 0h0m5 0h0m23 0h0m38 0h0m7 0h0m42 1h0m-55 0h0m-31 0h0m-47 0h0m-7 0h0m-7 1h0m12 0h0m3 0h0m12 0h0m53 0h0m5 0h0m30 0h0m41 0h0m-39 1h0m-43 0h0m-2 0h0m-4 0h0m-27 0h0m-11 0h0m-11 0h0m-13 0h0m-15 0h0m13 1h0m11 0h0m2 0h0m65 0h0m41 0h0m2 0h0m2 0h0m1 0h0m6 0h0m-4 1h0m-32 0h0m-3 0h0m-9 0h0m-10 0h0m-35 0h0m-8 0h0m-12 0h0m-24 0h0m9 1h0m2 0h0m27 0h0m8 0h0m50 0h0m8 0h0m32 0h0m3 0h0m8 0h0m4 1h0m-13 0h0m-1 0h0m-36 0h0m-32 0h0m-51 0h0m-3 0h0m-1 0h0m-1 0h0m-7 0h0m-2 0h0m4 1h0m1 0h0m1 0h0m6 0h0m11 0h0m8 0h0m55 0h0m4 0h0m21 0h0m4 0h0m29 0h0m-4 1h0m-24 0h0m-9 0h0m-1 0h0m-27 0h0m-7 0h0m-26 0h0m-16 0h0m-4 0h0m-1 0h0m-6 0h0m-1 0h0m-5 0h0m-7 0h0m-14 0h0m-5 1h0m16 0h0m2 0h0m5 0h0m13 0h0m8 0h0m3 0h0m1 0h0m21 0h0m8 0h0m6 0h0m21 0h0m3 0h0m35 1h0m-16 0h0m-17 0h0m-1 0h0m-20 0h0m-7 0h0m-16 0h0m-12 0h0m-10 0h0m-3 0h0m-3 0h0m-6 0h0m-5 0h0m-24 1h0m3 0h0m2 0h0m6 0h0m1 0h0m3 0h0m2 0h0m2 0h0m5 0h0m5 0h0m2 0h0m3 0h0m1 0h0m1 0h0m5 0h0m1 0h0m4 0h0m2 0h0m3 0h0m18 0h0m61 0h0m7 0h0m28 1h0m-21 0h0m-48 0h0m-34 0h0m-1 0h0m-6 0h0m-17 0h0m-1 0h0m-11 0h0m-2 0h0m-1 0h0m-3 0h0m-6 0h0m-1 0h0m-3 0h0m-10 0h0m-1 0h0m5 1h0m2 0h0m6 0h0m2 0h0m1 0h0m1 0h0m1 0h0m2 0h0m1 0h0m1 0h0m5 0h0m6 0h0m10 0h0m1 0h0m4 0h0m2 0h0m5 0h0m2 0h0m7 0h0m41 0h0m7 0h0m45 1h0m-49 0h0m-8 0h0m-5 0h0m-17 0h0m-5 0h0m-26 0h0m-4 0h0m-4 0h0m-4 0h0m-5 0h0m-3 0h0m-4 0h0m-4 0h0m-1 0h0m-3 0h0m-1 0h0m-3 0h0m-2 0h0m-10 1h0m14 0h0m14 0h0m1 0h0m2 0h0m2 0h0m2 0h0m7 0h0m1 0h0m7 0h0m12 0h0m42 0h0m19 0h0m8 0h0m3 0h0m12 0h0m-1 1h0m-19 0h0m-8 0h0m-45 0h0m-4 0h0m-12 0h0m-8 0h0m-1 0h0m-2 0h0m-4 0h0m-2 0h0m-2 0h0m-4 0h0m-4 0h0m-1 0h0m-7 0h0m-3 0h0m-9 0h0m-2 0h0m5 1h0m1 0h0m5 0h0m7 0h0m8 0h0m9 0h0m4 0h0m8 0h0m9 0h0m5 0h0m10 0h0m5 0h0m1 0h0m7 0h0m19 0h0m7 0h0m-13 1h0m-6 0h0m-31 0h0m-2 0h0m-4 0h0m-14 0h0m-1 0h0m-4 0h0m-4 0h0m-1 0h0m-1 0h0m-3 0h0m-8 0h0m-2 0h0m-1 0h0m-2 0h0m-2 0h0m-1 0h0m-4 0h0m-3 0h0m-1 0h0m-3 0h0m-5 0h0m1 1h0m2 0h0m5 0h0m4 0h0m3 0h0m1 0h0m4 0h0m3 0h0m5 0h0m3 0h0m1 0h0m5 0h0m2 0h0m5 0h0m1 0h0m1 0h0m4 0h0m1 0h0m3 0h0m3 0h0m23 0h0m17 0h0m17 0h0m15 0h0m11 0h0m13 0h0m-1 1h0m-31 0h0m-12 0h0m-24 0h0m-8 0h0m-8 0h0m-10 0h0m-7 0h0m-3 0h0m-7 0h0m-6 0h0m-2 0h0m-4 0h0m-2 0h0m-8 0h0m-2 0h0m-3 0h0m-5 0h0m-1 0h0m-5 0h0m-2 1h0m1 0h0m1 0h0m7 0h0m1 0h0m1 0h0m1 0h0m4 0h0m1 0h0m1 0h0m1 0h0m1 0h0m1 0h0m2 0h0m5 0h0m5 0h0m4 0h0m1 0h0m3 0h0m3 0h0m1 0h0m6 0h0m5 0h0m26 0h0m15 0h0m5 0h0m5 0h0m27 0h0m5 0h0m7 0h0m6 0h0m-25 1h0m-8 0h0m-8 0h0m-3 0h0m-10 0h0m-16 0h0m-1 0h0m-10 0h0m-4 0h0m-2 0h0m-1 0h0m-12 0h0m-4 0h0m-6 0h0m-3 0h0m-2 0h0m-1 0h0m-5 0h0m-4 0h0m-5 0h0m-5 0h0m-2 0h0m-7 0h0m-1 0h0m-1 0h0m-3 0h0m-5 0h0m-2 0h0m2 1h0m2 0h0m8 0h0m2 0h0m3 0h0m5 0h0m4 0h0m2 0h0m17 0h0m13 0h0m7 0h0m3 0h0m4 0h0m12 0h0m35 0h0m3 0h0m31 0h0m-18 1h0m-4 0h0m-5 0h0m-5 0h0m-15 0h0m-17 0h0m-23 0h0m-2 0h0m-2 0h0m-3 0h0m-4 0h0m-2 0h0m-7 0h0m-4 0h0m-2 0h0m-2 0h0m-7 0h0m-9 0h0m-1 0h0m-3 0h0m-3 0h0m-4 0h0m-12 1h0m4 0h0m1 0h0m1 0h0m1 0h0m3 0h0m4 0h0m5 0h0m2 0h0m2 0h0m1 0h0m1 0h0m10 0h0m8 0h0m6 0h0m3 0h0m1 0h0m1 0h0m3 0h0m10 0h0m7 0h0m5 0h0m6 0h0m68 1h0m-10 0h0m-16 0h0m-16 0h0m-2 0h0m-29 0h0m-5 0h0m-1 0h0m-13 0h0m-1 0h0m-8 0h0m-5 0h0m-1 0h0m-1 0h0m-2 0h0m-2 0h0m-5 0h0m-1 0h0m-5 0h0m-3 0h0m-5 0h0m-1 0h0m-2 0h0m-15 0h0m-1 0h0m-1 0h0m-2 0h0m0 1h0m2 0h0m2 0h0m8 0h0m3 0h0m2 0h0m1 0h0m1 0h0m7 0h0m1 0h0m5 0h0m2 0h0m2 0h0m7 0h0m3 0h0m6 0h0m2 0h0m2 0h0m2 0h0m2 0h0m1 0h0m5 0h0m1 0h0m4 0h0m16 0h0m3 0h0m26 0h0m23 0h0m-24 1h0m-13 0h0m-4 0h0m-12 0h0m-3 0h0m-5 0h0m-13 0h0m-8 0h0m-6 0h0m-2 0h0m-8 0h0m-2 0h0m-1 0h0m-2 0h0m-10 0h0m-5 0h0m-5 0h0m-1 0h0m-1 0h0m-2 0h0m-3 0h0m-3 0h0m-7 0h0m0 1h0m2 0h0m2 0h0m3 0h0m1 0h0m2 0h0m1 0h0m6 0h0m4 0h0m4 0h0m3 0h0m1 0h0m3 0h0m6 0h0m5 0h0m11 0h0m5 0h0m1 0h0m5 0h0m2 0h0m3 0h0m20 0h0m5 0h0m2 0h0m38 0h0m21 0h0m-9 1h0m-3 0h0m-14 0h0m-5 0h0m-47 0h0m-4 0h0m-5 0h0m-2 0h0m-1 0h0m-8 0h0m-2 0h0m-1 0h0m-3 0h0m-12 0h0m-2 0h0m-2 0h0m-1 0h0m-4 0h0m-1 0h0m-2 0h0m-4 0h0m-3 0h0m-8 0h0m-1 0h0m-4 0h0m-2 0h0m-1 0h0m-1 0h0m-1 0h0m-1 0h0m-2 1h0m3 0h0m3 0h0m4 0h0m7 0h0m3 0h0m7 0h0m1 0h0m1 0h0m4 0h0m4 0h0m5 0h0m5 0h0m4 0h0m3 0h0m4 0h0m2 0h0m1 0h0m3 0h0m1 0h0m3 0h0m5 0h0m2 0h0m6 0h0m4 0h0m10 0h0m26 0h0m44 0h0m-22 1h0m-20 0h0m-22 0h0m-19 0h0m-1 0h0m-1 0h0m-2 0h0m-2 0h0m-4 0h0m-1 0h0m-1 0h0m-2 0h0m-5 0h0m-4 0h0m-1 0h0m-5 0h0m-2 0h0m-3 0h0m-2 0h0m-4 0h0m-1 0h0m-3 0h0m-2 0h0m-1 0h0m-7 0h0m-1 0h0m-1 0h0m-10 0h0m-1 0h0m-6 0h0m-2 0h0m-3 0h0m-3 0h0m-1 1h0m2 0h0m2 0h0m2 0h0m13 0h0m3 0h0m1 0h0m1 0h0m4 0h0m4 0h0m3 0h0m2 0h0m2 0h0m1 0h0m1 0h0m7 0h0m4 0h0m1 0h0m1 0h0m10 0h0m3 0h0m1 0h0m4 0h0m1 0h0m7 0h0m10 0h0m16 0h0m6 0h0m16 0h0m9 0h0m4 0h0m11 0h0m-7 1h0m-39 0h0m-9 0h0m-17 0h0m-10 0h0m-3 0h0m-3 0h0m-9 0h0m-6 0h0m-6 0h0m-1 0h0m-3 0h0m-2 0h0m-1 0h0m-1 0h0m-5 0h0m-1 0h0m-3 0h0m-7 0h0m-4 0h0m-3 0h0m-1 0h0m-3 0h0m-5 0h0m-2 0h0m-1 0h0m3 1h0m1 0h0m2 0h0m1 0h0m7 0h0m1 0h0m1 0h0m1 0h0m1 0h0m3 0h0m2 0h0m1 0h0m5 0h0m2 0h0m5 0h0m7 0h0m3 0h0m2 0h0m4 0h0m1 0h0m5 0h0m5 0h0m9 0h0m1 0h0m5 0h0m4 0h0m31 0h0m11 0h0m5 0h0m-17 1h0m-10 0h0m-8 0h0m-3 0h0m-2 0h0m-5 0h0m-1 0h0m-5 0h0m-1 0h0m-1 0h0m-1 0h0m-4 0h0m-2 0h0m-4 0h0m-3 0h0m-3 0h0m-2 0h0m-3 0h0m-3 0h0m-7 0h0m-2 0h0m-7 0h0m-2 0h0m-2 0h0m-5 0h0m-1 0h0m-5 0h0m-11 0h0m-3 0h0m-5 1h0m2 0h0m6 0h0m5 0h0m7 0h0m1 0h0m3 0h0m2 0h0m3 0h0m1 0h0m21 0h0m1 0h0m1 0h0m7 0h0m3 0h0m2 0h0m2 0h0m5 0h0m5 0h0m2 0h0m1 0h0m12 0h0m14 0h0m8 0h0m33 0h0m-8 1h0m-10 0h0m-45 0h0m-4 0h0m-3 0h0m-1 0h0m-1 0h0m-3 0h0m-3 0h0m-4 0h0m-1 0h0m-3 0h0m-2 0h0m-6 0h0m-4 0h0m-6 0h0m-1 0h0m-6 0h0m-6 0h0m-9 0h0m-2 0h0m-6 0h0m-1 0h0m-1 0h0m-3 0h0m-3 0h0m-5 0h0m-1 0h0m7 1h0m2 0h0m2 0h0m1 0h0m1 0h0m2 0h0m2 0h0m3 0h0m1 0h0m3 0h0m1 0h0m1 0h0m4 0h0m1 0h0m3 0h0m7 0h0m2 0h0m2 0h0m2 0h0m2 0h0m1 0h0m4 0h0m8 0h0m5 0h0m1 0h0m3 0h0m1 0h0m3 0h0m9 0h0m36 0h0m7 0h0m30 0h0m-54 1h0m-13 0h0m-3 0h0m-2 0h0m-2 0h0m-11 0h0m-1 0h0m-7 0h0m-3 0h0m-1 0h0m-4 0h0m-3 0h0m-1 0h0m-1 0h0m-9 0h0m-3 0h0m-7 0h0m-3 0h0m-4 0h0m-4 0h0m-8 0h0m-5 0h0m-3 0h0m0 1h0m3 0h0m1 0h0m2 0h0m1 0h0m1 0h0m1 0h0m2 0h0m3 0h0m3 0h0m1 0h0m7 0h0m3 0h0m2 0h0m2 0h0m3 0h0m1 0h0m1 0h0m6 0h0m1 0h0m10 0h0m1 0h0m8 0h0m2 0h0m4 0h0m1 0h0m4 0h0m3 0h0m10 0h0m1 0h0m5 0h0m7 0h0m55 0h0m4 1h0m-51 0h0m-15 0h0m-3 0h0m-8 0h0m-3 0h0m-3 0h0m-3 0h0m-2 0h0m-2 0h0m-4 0h0m-9 0h0m-5 0h0m-1 0h0m-5 0h0m-6 0h0m-2 0h0m-2 0h0m-8 0h0m-5 0h0m-1 0h0m-3 0h0m-1 0h0m-11 0h0m-1 0h0m-1 0h0m-3 0h0m-3 1h0m2 0h0m1 0h0m1 0h0m5 0h0m2 0h0m1 0h0m3 0h0m1 0h0m4 0h0m8 0h0m2 0h0m1 0h0m9 0h0m3 0h0m1 0h0m5 0h0m3 0h0m2 0h0m5 0h0m2 0h0m2 0h0m4 0h0m4 0h0m2 0h0m1 0h0m1 0h0m2 0h0m2 0h0m33 0h0m-11 1h0m-9 0h0m-5 0h0m-2 0h0m-3 0h0m-4 0h0m-1 0h0m-1 0h0m-1 0h0m-2 0h0m-8 0h0m-10 0h0m-3 0h0m-1 0h0m-3 0h0m-1 0h0m-2 0h0m-2 0h0m-4 0h0m-2 0h0m-5 0h0m-3 0h0m-1 0h0m-1 0h0m-3 0h0m-5 0h0m-16 0h0m-1 0h0m-3 0h0m-1 1h0m4 0h0m2 0h0m1 0h0m4 0h0m2 0h0m11 0h0m2 0h0m1 0h0m2 0h0m5 0h0m1 0h0m1 0h0m6 0h0m3 0h0m3 0h0m1 0h0m1 0h0m2 0h0m6 0h0m4 0h0m9 0h0m10 0h0m28 1h0m-8 0h0m-3 0h0m-4 0h0m-1 0h0m-2 0h0m-2 0h0m-3 0h0m-1 0h0m-2 0h0m-5 0h0m-9 0h0m-2 0h0m-2 0h0m-7 0h0m-6 0h0m-1 0h0m-1 0h0m-2 0h0m-4 0h0m-3 0h0m-1 0h0m-3 0h0m-1 0h0m-4 0h0m-6 0h0m-8 0h0m-4 0h0m-2 0h0m-10 0h0m-4 0h0m5 1h0m1 0h0m3 0h0m2 0h0m2 0h0m5 0h0m4 0h0m4 0h0m3 0h0m13 0h0m1 0h0m4 0h0m9 0h0m5 0h0m1 0h0m1 0h0m1 0h0m3 0h0m1 0h0m6 0h0m2 0h0m1 0h0m15 0h0m3 0h0m65 1h0m-48 0h0m-22 0h0m-2 0h0m-1 0h0m-4 0h0m-3 0h0m-5 0h0m-4 0h0m-2 0h0m-2 0h0m-1 0h0m-5 0h0m-1 0h0m-12 0h0m-1 0h0m-2 0h0m-3 0h0m-1 0h0m-7 0h0m-2 0h0m-4 0h0m-6 0h0m-5 0h0m-1 0h0m-2 0h0m-1 0h0m-2 0h0m-1 0h0m-2 0h0m-1 0h0m-4 0h0m-2 1h0m4 0h0m6 0h0m7 0h0m2 0h0m2 0h0m2 0h0m3 0h0m10 0h0m10 0h0m8 0h0m1 0h0m1 0h0m3 0h0m3 0h0m4 0h0m2 0h0m2 0h0m4 0h0m5 0h0m3 0h0m1 0h0m1 0h0m3 0h0m52 0h0m-17 1h0m-13 0h0m-7 0h0m-2 0h0m-12 0h0m-2 0h0m-5 0h0m-7 0h0m-5 0h0m-5 0h0m-8 0h0m-3 0h0m-4 0h0m-6 0h0m-1 0h0m-5 0h0m-1 0h0m-4 0h0m-5 0h0m-7 0h0m-2 0h0m-4 0h0m-4 0h0m-4 0h0m-4 1h0m4 0h0m1 0h0m3 0h0m1 0h0m1 0h0m3 0h0m5 0h0m7 0h0m7 0h0m4 0h0m6 0h0m8 0h0m11 0h0m1 0h0m8 0h0m2 0h0m1 0h0m12 0h0m7 0h0m1 0h0m61 1h0m-65 0h0m-7 0h0m-1 0h0m-9 0h0m-3 0h0m-4 0h0m-6 0h0m-3 0h0m-1 0h0m-1 0h0m-2 0h0m-8 0h0m-3 0h0m-1 0h0m-2 0h0m-2 0h0m-3 0h0m-2 0h0m-6 0h0m-3 0h0m-3 0h0m-1 0h0m-2 0h0m-1 0h0m-10 0h0m-4 0h0m7 1h0m1 0h0m6 0h0m3 0h0m1 0h0m4 0h0m7 0h0m1 0h0m3 0h0m3 0h0m1 0h0m2 0h0m3 0h0m3 0h0m1 0h0m2 0h0m6 0h0m2 0h0m5 0h0m9 0h0m15 0h0m4 0h0m45 0h0m-47 1h0m-5 0h0m-2 0h0m-4 0h0m-1 0h0m-5 0h0m-2 0h0m-3 0h0m-7 0h0m-7 0h0m-2 0h0m-1 0h0m-7 0h0m-1 0h0m-1 0h0m-3 0h0m-2 0h0m-3 0h0m-1 0h0m-3 0h0m-1 0h0m-5 0h0m-3 0h0m-1 0h0m-5 0h0m-2 0h0m-1 0h0m-6 0h0m-1 0h0m-4 0h0m4 1h0m6 0h0m2 0h0m2 0h0m11 0h0m3 0h0m1 0h0m1 0h0m1 0h0m2 0h0m2 0h0m3 0h0m5 0h0m2 0h0m3 0h0m2 0h0m3 0h0m1 0h0m2 0h0m3 0h0m7 0h0m3 0h0m12 0h0m3 0h0m10 0h0m9 0h0m0 1h0m-15 0h0m-4 0h0m-2 0h0m-1 0h0m-4 0h0m-3 0h0m-4 0h0m-2 0h0m-6 0h0m-6 0h0m-5 0h0m-1 0h0m-2 0h0m-7 0h0m-3 0h0m-3 0h0m-1 0h0m-6 0h0m-6 0h0m-5 0h0m-1 0h0m-5 0h0m-1 0h0m-3 0h0m4 1h0m5 0h0m3 0h0m3 0h0m5 0h0m3 0h0m1 0h0m1 0h0m3 0h0m4 0h0m2 0h0m1 0h0m1 0h0m2 0h0m2 0h0m13 0h0m2 0h0m2 0h0m2 0h0m8 0h0m8 0h0m1 0h0m3 0h0m4 0h0m15 0h0m25 1h0m-19 0h0m-27 0h0m-3 0h0m-1 0h0m-1 0h0m-2 0h0m-1 0h0m-2 0h0m-1 0h0m-3 0h0m-1 0h0m-2 0h0m-2 0h0m-1 0h0m-3 0h0m-3 0h0m-1 0h0m-1 0h0m-4 0h0m-5 0h0m-1 0h0m-1 0h0m-1 0h0m-5 0h0m-5 0h0m-4 0h0m-3 0h0m-1 0h0m-24 1h0m4 0h0m1 0h0m4 0h0m2 0h0m3 0h0m1 0h0m1 0h0m4 0h0m4 0h0m4 0h0m3 0h0m1 0h0m3 0h0m1 0h0m1 0h0m4 0h0m4 0h0m1 0h0m6 0h0m5 0h0m3 0h0m1 0h0m8 0h0m5 0h0m1 0h0m16 0h0m23 0h0m-22 1h0m-7 0h0m-2 0h0m-3 0h0m-2 0h0m-6 0h0m-5 0h0m-6 0h0m-11 0h0m-1 0h0m-6 0h0m-1 0h0m-3 0h0m-5 0h0m-3 0h0m-1 0h0m-8 0h0m-3 0h0m-14 0h0m-5 0h0m-5 0h0m0 1h0m4 0h0m10 0h0m1 0h0m6 0h0m5 0h0m9 0h0m2 0h0m3 0h0m1 0h0m6 0h0m1 0h0m3 0h0m7 0h0m2 0h0m3 0h0m1 0h0m7 0h0m3 0h0m4 0h0m2 0h0m2 0h0m2 0h0m2 0h0m8 0h0m-6 1h0m-6 0h0m-4 0h0m-5 0h0m-3 0h0m-6 0h0m-11 0h0m-1 0h0m-1 0h0m-2 0h0m-7 0h0m-2 0h0m-4 0h0m-3 0h0m-4 0h0m-3 0h0m-1 0h0m-1 0h0m-5 0h0m-4 0h0m-5 0h0m-2 0h0m-7 0h0m-1 0h0m2 1h0m3 0h0m3 0h0m10 0h0m13 0h0m3 0h0m5 0h0m2 0h0m1 0h0m1 0h0m2 0h0m4 0h0m2 0h0m4 0h0m5 0h0m3 0h0m7 0h0m1 0h0m1 0h0m5 0h0m5 0h0m11 0h0m-5 1h0m-2 0h0m-9 0h0m-1 0h0m-1 0h0m-5 0h0m-2 0h0m-3 0h0m-3 0h0m-1 0h0m-2 0h0m-5 0h0m-2 0h0m-1 0h0m-2 0h0m-4 0h0m-5 0h0m-1 0h0m-5 0h0m-1 0h0m-2 0h0m-12 0h0m-1 0h0m-8 0h0m-8 0h0m2 1h0m1 0h0m3 0h0m6 0h0m3 0h0m2 0h0m2 0h0m8 0h0m8 0h0m1 0h0m1 0h0m1 0h0m1 0h0m1 0h0m4 0h0m1 0h0m3 0h0m1 0h0m2 0h0m1 0h0m1 0h0m1 0h0m2 0h0m1 0h0m2 0h0m3 0h0m5 0h0m1 0h0m1 0h0m5 0h0m1 0h0m23 0h0m-9 1h0m-5 0h0m-3 0h0m-4 0h0m-2 0h0m-8 0h0m-2 0h0m-9 0h0m-6 0h0m-2 0h0m-7 0h0m-1 0h0m-10 0h0m-1 0h0m-7 0h0m-4 0h0m-18 0h0m-2 0h0m15 1h0m5 0h0m5 0h0m2 0h0m5 0h0m2 0h0m5 0h0m2 0h0m11 0h0m2 0h0m4 0h0m8 0h0m8 0h0m9 0h0m2 0h0m14 0h0m-21 1h0m-14 0h0m-9 0h0m-5 0h0m-14 0h0m-1 0h0m-9 0h0m-6 0h0m-3 0h0m-4 0h0m-4 0h0" stroke="#e4493a" stroke-width="3.8" stroke-linecap="round" fill="none"/>
<path d="M404.8 48.5V248.4H654" stroke="#222" stroke-width="1.1" fill="none" stroke-linejoin="round"/>
<path d="M402 239.4H404.8" stroke="#1a1a1a" stroke-width="1.1"/>
<text x="400.2" y="243" font-size="10" text-anchor="end" fill="#1a1a1a" font-family="Liberation Sans, sans-serif" stroke="#1a1a1a" stroke-width="0.25">0</text>
<path d="M402 198.5H404.8" stroke="#1a1a1a" stroke-width="1.1"/>
<text x="400.2" y="202.1" font-size="10" text-anchor="end" fill="#1a1a1a" font-family="Liberation Sans, sans-serif" stroke="#1a1a1a" stroke-width="0.25">10</text>
<path d="M402 157.6H404.8" stroke="#1a1a1a" stroke-width="1.1"/>
<text x="400.2" y="161.2" font-size="10" text-anchor="end" fill="#1a1a1a" font-family="Liberation Sans, sans-serif" stroke="#1a1a1a" stroke-width="0.25">20</text>
<path d="M402 116.7H404.8" stroke="#1a1a1a" stroke-width="1.1"/>
<text x="400.2" y="120.3" font-size="10" text-anchor="end" fill="#1a1a1a" font-family="Liberation Sans, sans-serif" stroke="#1a1a1a" stroke-width="0.25">30</text>
<path d="M402 75.8H404.8" stroke="#1a1a1a" stroke-width="1.1"/>
<text x="400.2" y="79.4" font-size="10" text-anchor="end" fill="#1a1a1a" font-family="Liberation Sans, sans-serif" stroke="#1a1a1a" stroke-width="0.25">40</text>
<path d="M411.4 248.4V251.2" stroke="#1a1a1a" stroke-width="1.1"/>
<text x="411.4" y="260" font-size="10" text-anchor="middle" fill="#1a1a1a" font-family="Liberation Sans, sans-serif" stroke="#1a1a1a" stroke-width="0.25">−0.50</text>
<path d="M478.4 248.4V251.2" stroke="#1a1a1a" stroke-width="1.1"/>
<text x="478.4" y="260" font-size="10" text-anchor="middle" fill="#1a1a1a" font-family="Liberation Sans, sans-serif" stroke="#1a1a1a" stroke-width="0.25">−0.25</text>
<path d="M545.4 248.4V251.2" stroke="#1a1a1a" stroke-width="1.1"/>
<text x="545.4" y="260" font-size="10" text-anchor="middle" fill="#1a1a1a" font-family="Liberation Sans, sans-serif" stroke="#1a1a1a" stroke-width="0.25">0.00</text>
<path d="M612.4 248.4V251.2" stroke="#1a1a1a" stroke-width="1.1"/>
<text x="612.4" y="260" font-size="10" text-anchor="middle" fill="#1a1a1a" font-family="Liberation Sans, sans-serif" stroke="#1a1a1a" stroke-width="0.25">0.25</text>
<text x="529.4" y="271.3" font-size="10.8" text-anchor="middle" fill="#1a1a1a" font-family="Liberation Sans, sans-serif" stroke="#1a1a1a" stroke-width="0.2">logFC</text>
<text x="0" y="0" font-size="10.8" text-anchor="middle" fill="#1a1a1a" font-family="Liberation Sans, sans-serif" stroke="#1a1a1a" stroke-width="0.2" transform="translate(383.5 148.4) rotate(-90)">−log10(P.value)</text>
<text x="1" y="305.5" font-size="23" text-anchor="start" fill="#111" font-family="Liberation Serif, serif">C</text>
<text x="107.3" y="321.7" font-size="10.6" text-anchor="start" fill="#222" font-family="Liberation Sans, sans-serif">change</text>
<circle cx="156" cy="318.1" r="1.1" fill="#6cc6d3"/>
<circle cx="204.2" cy="318.1" r="1.1" fill="#9b9b9b"/>
<circle cx="255.6" cy="318.1" r="1.1" fill="#e4493a"/>
<text x="169.5" y="321.3" font-size="8.8" text-anchor="start" fill="#222" font-family="Liberation Sans, sans-serif">down</text>
<text x="217.7" y="321.3" font-size="8.8" text-anchor="start" fill="#222" font-family="Liberation Sans, sans-serif">stable</text>
<text x="268.8" y="321.3" font-size="8.8" text-anchor="start" fill="#222" font-family="Liberation Sans, sans-serif">up</text>
<path transform="scale(.5)" d="M0 0m403 1057h0m1 0h0m2 0h0m1 0h0m1 0h0m1 0h0m1 0h0m1 0h0m1 0h0m1 0h0m1 0h0m1 0h0m1 0h0m1 0h0m1 0h0m1 0h0m1 0h0m1 0h0m1 0h0m1 0h0m1 0h0m1 0h0m1 0h0m1 0h0m1 0h0m1 0h0m1 0h0m1 0h0m1 0h0m1 0h0m1 0h0m1 0h0m1 0h0m1 0h0m1 0h0m1 0h0m1 0h0m1 0h0m1 0h0m1 0h0m1 0h0m1 0h0m1 0h0m1 0h0m1 0h0m1 0h0m1 0h0m1 0h0m1 0h0m1 0h0m1 0h0m1 0h0m1 0h0m1 0h0m1 0h0m1 0h0m1 0h0m1 0h0m1 0h0m1 0h0m1 0h0m1 0h0m1 0h0m1 0h0m1 0h0m1 0h0m1 0h0m1 0h0m1 0h0m1 0h0m1 0h0m1 0h0m1 0h0m1 0h0m1 0h0m1 0h0m1 0h0m1 0h0m1 0h0m1 0h0m1 0h0m1 0h0m1 0h0m1 0h0m1 0h0m1 0h0m1 0h0m1 0h0m1 0h0m1 0h0m1 0h0m1 0h0m1 0h0m1 0h0m1 0h0m1 0h0m1 0h0m1 0h0m1 0h0m1 0h0m1 0h0m1 0h0m1 0h0m1 0h0m1 0h0m1 0h0m1 0h0m1 0h0m1 0h0m1 0h0m1 0h0m1 0h0m1 0h0m1 0h0m1 0h0m1 0h0m-4 1h0m-1 0h0m-1 0h0m-3 0h0m-1 0h0m-1 0h0m-1 0h0m-1 0h0m-1 0h0m-1 0h0m-1 0h0m-1 0h0m-1 0h0m-1 0h0m-1 0h0m-1 0h0m-1 0h0m-1 0h0m-1 0h0m-1 0h0m-1 0h0m-1 0h0m-1 0h0m-1 0h0m-1 0h0m-1 0h0m-1 0h0m-1 0h0m-1 0h0m-1 0h0m-1 0h0m-1 0h0m-1 0h0m-1 0h0m-1 0h0m-1 0h0m-1 0h0m-1 0h0m-1 0h0m-1 0h0m-1 0h0m-1 0h0m-1 0h0m-1 0h0m-1 0h0m-1 0h0m-1 0h0m-1 0h0m-1 0h0m-1 0h0m-1 0h0m-1 0h0m-1 0h0m-1 0h0m-1 0h0m-1 0h0m-1 0h0m-1 0h0m-1 0h0m-1 0h0m-1 0h0m-1 0h0m-1 0h0m-1 0h0m-1 0h0m-1 0h0m-1 0h0m-1 0h0m-1 0h0m-1 0h0m-1 0h0m-1 0h0m-1 0h0m-1 0h0m-1 0h0m-1 0h0m-1 0h0m-1 0h0m-1 0h0m-1 0h0m-1 0h0m-1 0h0m-1 0h0m-1 0h0m-1 0h0m-1 0h0m-1 0h0m-1 0h0m-1 0h0m-1 0h0m-1 0h0m-1 0h0m-1 0h0m-1 0h0m-1 0h0m-1 0h0m-1 0h0m-1 0h0m-1 0h0m-1 0h0m-1 0h0m-1 0h0m-1 0h0m-1 0h0m-1 0h0m-1 0h0m-1 0h0m-4 0h0m7 1h0m1 0h0m1 0h0m1 0h0m1 0h0m1 0h0m1 0h0m1 0h0m1 0h0m1 0h0m1 0h0m1 0h0m1 0h0m1 0h0m1 0h0m1 0h0m1 0h0m1 0h0m1 0h0m1 0h0m1 0h0m1 0h0m1 0h0m1 0h0m1 0h0m1 0h0m1 0h0m1 0h0m1 0h0m1 0h0m1 0h0m1 0h0m1 0h0m1 0h0m1 0h0m1 0h0m1 0h0m1 0h0m1 0h0m1 0h0m1 0h0m1 0h0m1 0h0m1 0h0m1 0h0m1 0h0m1 0h0m1 0h0m1 0h0m1 0h0m1 0h0m1 0h0m1 0h0m1 0h0m1 0h0m1 0h0m1 0h0m1 0h0m1 0h0m1 0h0m1 0h0m1 0h0m1 0h0m1 0h0m1 0h0m1 0h0m1 0h0m1 0h0m1 0h0m1 0h0m1 0h0m1 0h0m1 0h0m1 0h0m1 0h0m1 0h0m1 0h0m1 0h0m1 0h0m1 0h0m1 0h0m1 0h0m1 0h0m1 0h0m1 0h0m1 0h0m1 0h0m2 0h0m1 0h0m1 0h0m1 0h0m1 0h0m3 0h0m-5 1h0m-4 0h0m-2 0h0m-1 0h0m-1 0h0m-1 0h0m-1 0h0m-1 0h0m-1 0h0m-1 0h0m-1 0h0m-1 0h0m-1 0h0m-1 0h0m-1 0h0m-1 0h0m-1 0h0m-1 0h0m-1 0h0m-1 0h0m-1 0h0m-1 0h0m-1 0h0m-1 0h0m-1 0h0m-1 0h0m-1 0h0m-1 0h0m-1 0h0m-1 0h0m-1 0h0m-1 0h0m-1 0h0m-1 0h0m-1 0h0m-1 0h0m-1 0h0m-1 0h0m-1 0h0m-1 0h0m-1 0h0m-1 0h0m-1 0h0m-1 0h0m-1 0h0m-1 0h0m-1 0h0m-1 0h0m-1 0h0m-1 0h0m-1 0h0m-1 0h0m-1 0h0m-1 0h0m-1 0h0m-1 0h0m-1 0h0m-1 0h0m-1 0h0m-1 0h0m-1 0h0m-1 0h0m-1 0h0m-1 0h0m-1 0h0m-1 0h0m-1 0h0m-1 0h0m-1 0h0m-1 0h0m-1 0h0m-1 0h0m-1 0h0m-1 0h0m-1 0h0m-1 0h0m-1 0h0m-1 0h0m-1 0h0m-1 0h0m-1 0h0m-1 0h0m-1 0h0m-1 0h0m-5 0h0m6 1h0m3 0h0m1 0h0m1 0h0m1 0h0m1 0h0m1 0h0m1 0h0m1 0h0m1 0h0m1 0h0m1 0h0m1 0h0m1 0h0m1 0h0m1 0h0m1 0h0m1 0h0m1 0h0m1 0h0m1 0h0m1 0h0m1 0h0m1 0h0m1 0h0m1 0h0m1 0h0m1 0h0m1 0h0m1 0h0m1 0h0m1 0h0m1 0h0m1 0h0m1 0h0m1 0h0m1 0h0m1 0h0m1 0h0m1 0h0m1 0h0m1 0h0m1 0h0m1 0h0m1 0h0m1 0h0m1 0h0m1 0h0m1 0h0m1 0h0m1 0h0m1 0h0m1 0h0m1 0h0m1 0h0m1 0h0m1 0h0m1 0h0m1 0h0m1 0h0m1 0h0m1 0h0m1 0h0m1 0h0m1 0h0m1 0h0m1 0h0m1 0h0m1 0h0m1 0h0m2 0h0m6 0h0m-12 1h0m-1 0h0m-2 0h0m-1 0h0m-1 0h0m-2 0h0m-1 0h0m-1 0h0m-1 0h0m-1 0h0m-1 0h0m-1 0h0m-1 0h0m-1 0h0m-1 0h0m-1 0h0m-1 0h0m-1 0h0m-1 0h0m-1 0h0m-1 0h0m-1 0h0m-1 0h0m-1 0h0m-1 0h0m-1 0h0m-1 0h0m-1 0h0m-1 0h0m-1 0h0m-1 0h0m-1 0h0m-1 0h0m-1 0h0m-1 0h0m-1 0h0m-1 0h0m-1 0h0m-1 0h0m-1 0h0m-1 0h0m-1 0h0m-1 0h0m-1 0h0m-1 0h0m-1 0h0m-1 0h0m-1 0h0m-1 0h0m-2 0h0m-1 0h0m-2 0h0m-1 0h0m-1 0h0m-1 0h0m-1 0h0m-1 0h0m6 1h0m4 0h0m3 0h0m1 0h0m1 0h0m2 0h0m1 0h0m1 0h0m1 0h0m1 0h0m1 0h0m1 0h0m1 0h0m1 0h0m1 0h0m1 0h0m1 0h0m1 0h0m1 0h0m1 0h0m1 0h0m1 0h0m1 0h0m1 0h0m1 0h0m1 0h0m1 0h0m1 0h0m1 0h0m1 0h0m1 0h0m1 0h0m1 0h0m3 0h0m1 0h0m1 0h0m1 0h0m-15 1h0m-1 0h0m-1 0h0m-1 0h0m-1 0h0m-2 0h0m-1 0h0m-1 0h0m-1 0h0m-3 0h0m-1 0h0m-1 0h0m-2 0h0m-1 0h0" stroke="#9b9b9b" stroke-width="3.8" stroke-linecap="round" fill="none"/>
<path transform="scale(.5)" d="M0 0m376 697h0m47 2h0m-80 2h0m11 15h0m65 3h0m-78 26h0m-29 3h0m124 0h0m-95 7h0m60 22h0m-2 1h0m-102 0h0m48 4h0m58 0h0m-88 5h0m122 3h0m-45 1h0m-108 1h0m138 2h0m-83 7h0m67 1h0m-118 1h0m106 3h0m-62 0h0m76 3h0m20 1h0m-135 2h0m67 2h0m58 6h0m-20 1h0m-49 1h0m48 0h0m-121 1h0m124 2h0m-12 3h0m-8 0h0m36 7h0m-11 1h0m-18 6h0m42 2h0m-111 1h0m108 0h0m-42 3h0m-70 3h0m92 0h0m-151 1h0m173 5h0m-14 3h0m-38 0h0m60 1h0m-102 1h0m77 2h0m3 0h0m-9 2h0m-31 2h0m46 0h0m-16 1h0m-87 1h0m51 0h0m32 0h0m6 0h0m-42 1h0m-2 0h0m-47 1h0m74 0h0m36 2h0m-45 0h0m-15 0h0m-14 0h0m-82 0h0m107 1h0m53 0h0m2 0h0m18 0h0m-88 1h0m-127 1h0m113 0h0m15 0h0m17 0h0m29 0h0m22 0h0m5 1h0m-59 0h0m-2 0h0m-48 1h0m4 0h0m20 0h0m28 0h0m38 0h0m9 0h0m2 0h0m1 0h0m7 1h0m-1 0h0m-7 0h0m-7 1h0m1 2h0m-8 0h0m-8 0h0m-60 1h0m62 0h0m21 0h0m4 0h0m-69 1h0m-19 1h0m23 0h0m4 0h0m12 0h0m49 1h0m-1 0h0m-12 0h0m-10 0h0m-20 0h0m-9 0h0m-29 0h0m-10 1h0m76 0h0m27 1h0m-2 0h0m-8 0h0m-5 0h0m-8 0h0m-9 0h0m-45 0h0m-4 0h0m-9 0h0m-20 0h0m-16 0h0m35 1h0m13 0h0m73 1h0m-24 0h0m-112 0h0m27 1h0m39 0h0m20 0h0m17 0h0m35 0h0m-14 1h0m-24 0h0m-1 0h0m-15 0h0m-20 0h0m-7 0h0m-147 1h0m173 0h0m5 0h0m13 0h0m14 0h0m13 0h0m12 1h0m-2 0h0m-23 0h0m-15 0h0m-19 0h0m-32 0h0m28 1h0m3 0h0m2 0h0m3 0h0m17 0h0m21 1h0m-44 0h0m-1 0h0m-36 0h0m64 1h0m19 0h0m10 0h0m11 1h0m-7 0h0m-22 0h0m-12 0h0m-1 0h0m-23 0h0m-13 0h0m-22 0h0m5 1h0m5 0h0m12 0h0m1 0h0m24 0h0m7 0h0m2 0h0m26 0h0m17 1h0m-23 0h0m-13 0h0m-20 0h0m-13 0h0m-6 0h0m-65 1h0m56 0h0m12 0h0m16 0h0m1 0h0m13 0h0m3 0h0m20 0h0m1 0h0m14 0h0m-7 1h0m-23 0h0m-53 0h0m-10 0h0m20 1h0m31 0h0m2 0h0m22 0h0m10 0h0m-4 1h0m-7 0h0m-3 0h0m-6 0h0m-11 0h0m-4 0h0m-23 0h0m-24 0h0m-3 0h0m-4 0h0m-47 1h0m68 0h0m52 0h0m13 0h0m8 0h0m3 1h0m-26 0h0m-10 0h0m-3 0h0m-23 0h0m-23 0h0m-10 0h0m-20 0h0m-55 1h0m16 0h0m21 0h0m58 0h0m11 0h0m34 0h0m26 0h0m-18 1h0m-14 0h0m-5 0h0m-7 0h0m-35 0h0m-103 1h0m52 0h0m12 0h0m19 0h0m25 0h0m1 0h0m2 0h0m3 0h0m48 0h0m9 0h0m5 1h0m-1 0h0m-11 0h0m-6 0h0m-10 0h0m-7 0h0m-31 0h0m-20 0h0m-36 0h0m-1 0h0m1 1h0m14 0h0m30 0h0m2 0h0m53 0h0m21 0h0m6 0h0m5 1h0m-6 0h0m-28 0h0m-14 0h0m-15 0h0m-3 0h0m-5 0h0m-23 0h0m-8 0h0m-20 0h0m-27 0h0m33 1h0m10 0h0m3 0h0m32 0h0m13 0h0m5 0h0m17 0h0m14 0h0m-5 1h0m-2 0h0m-13 0h0m-10 0h0m-7 0h0m-22 0h0m-8 0h0m-5 0h0m-53 0h0m1 1h0m8 0h0m40 0h0m6 0h0m5 0h0m15 0h0m3 0h0m4 0h0m14 0h0m1 0h0m16 0h0m39 0h0m-36 1h0m-5 0h0m-9 0h0m-9 0h0m-17 0h0m-19 0h0m-6 0h0m-62 1h0m5 0h0m99 0h0m10 0h0m28 0h0m-46 1h0m-5 0h0m-6 0h0m-6 0h0m-36 0h0m-25 0h0m-38 0h0m51 1h0m28 0h0m15 0h0m2 0h0m33 0h0m10 0h0m3 0h0m23 0h0m19 0h0m-9 1h0m-35 0h0m-16 0h0m-1 0h0m-6 0h0m-32 0h0m-49 0h0m-53 0h0m35 1h0m53 0h0m18 0h0m3 0h0m1 0h0m4 0h0m3 0h0m18 0h0m6 0h0m3 0h0m2 0h0m1 0h0m8 0h0m32 0h0m3 0h0m1 1h0m-15 0h0m-1 0h0m-12 0h0m-26 0h0m-12 0h0m-2 0h0m-2 0h0m-16 0h0m-14 0h0m-14 0h0m-65 0h0m-68 1h0m73 0h0m78 0h0m34 0h0m9 0h0m13 0h0m16 0h0m2 0h0m3 0h0m6 0h0m4 0h0m8 0h0m-2 1h0m-1 0h0m-4 0h0m-22 0h0m-20 0h0m-9 0h0m-3 0h0m-1 0h0m-12 0h0m-20 0h0m-23 0h0m-47 0h0m18 1h0m25 0h0m14 0h0m1 0h0m4 0h0m7 0h0m31 0h0m10 0h0m3 0h0m15 0h0m12 0h0m25 0h0m-2 1h0m-35 0h0m-24 0h0m-8 0h0m-4 0h0m-6 0h0m-2 0h0m-6 0h0m-10 0h0m-31 0h0m-10 0h0m-1 0h0m-65 0h0m54 1h0m18 0h0m16 0h0m42 0h0m2 0h0m19 0h0m12 0h0m6 0h0m5 0h0m16 0h0m5 0h0m5 1h0m-22 0h0m-53 0h0m-30 0h0m-43 0h0m-2 0h0m-5 1h0m93 0h0m2 0h0m31 0h0m31 0h0m-79 1h0m-3 0h0m-91 0h0m25 1h0m31 0h0m11 0h0m13 0h0m4 0h0m40 0h0m7 0h0m43 0h0m5 0h0m-7 1h0m-48 0h0m-41 0h0m-19 0h0m20 1h0m16 0h0m25 0h0m37 0h0m11 1h0m-7 0h0m-1 0h0m-1 0h0m-4 0h0m-1 0h0m-21 0h0m-5 0h0m-14 0h0m-23 0h0m-10 0h0m-25 0h0m-57 0h0m48 1h0m20 0h0m10 0h0m1 0h0m6 0h0m20 0h0m10 0h0m1 0h0m6 0h0m2 0h0m27 0h0m17 0h0m6 1h0m-44 0h0m-18 0h0m-8 0h0m-8 0h0m-4 0h0m-31 0h0m-5 0h0m-9 0h0m-29 0h0m3 1h0m20 0h0m17 0h0m12 0h0m9 0h0m26 0h0m27 0h0m12 0h0m2 0h0m5 0h0m19 0h0m5 1h0m-11 0h0m-31 0h0m-22 0h0m-13 0h0m-3 0h0m-7 0h0m-3 0h0m-5 0h0m-28 0h0m32 1h0m1 0h0m17 0h0m2 0h0m18 0h0m11 0h0m9 0h0m17 1h0m-20 0h0m-10 0h0m-25 0h0m-16 0h0m-2 0h0m-6 0h0m-1 0h0m-17 0h0m-2 0h0m-47 0h0m-21 0h0m26 1h0m15 0h0m6 0h0m8 0h0m34 0h0m19 0h0m6 0h0m4 0h0m3 0h0m24 0h0m16 0h0m2 1h0m-6 0h0m-5 0h0m-47 0h0m-18 0h0m-5 0h0m-6 0h0m-9 0h0m-28 0h0m-22 1h0m17 0h0m51 0h0m5 0h0m43 0h0m1 0h0m16 0h0m3 0h0m13 0h0m8 0h0m10 0h0m-10 1h0m-24 0h0m-4 0h0m-4 0h0m-4 0h0m-8 0h0m-2 0h0m-9 0h0m-1 0h0m-9 0h0m-13 0h0m-38 0h0m-27 0h0m-8 0h0m5 1h0m24 0h0m26 0h0m27 0h0m20 0h0m20 0h0m1 0h0m18 0h0m25 0h0m-13 1h0m-24 0h0m-4 0h0m-28 0h0m-11 0h0m-10 0h0m-66 1h0m56 0h0m6 0h0m8 0h0m11 0h0m36 0h0m21 0h0m4 0h0m-9 1h0m-21 0h0m-31 0h0m-5 0h0m-62 0h0m-4 0h0m-25 1h0m10 0h0m3 0h0m49 0h0m23 0h0m40 0h0m20 0h0m8 0h0m10 1h0m-7 0h0m-6 0h0m-1 0h0m-2 0h0m-19 0h0m-15 0h0m-14 0h0m-3 0h0m-3 0h0m-5 0h0m-4 0h0m-3 0h0m-15 0h0m-8 0h0m-155 0h0m100 1h0m4 0h0m30 0h0m42 0h0m39 0h0m9 0h0m25 0h0m3 0h0m5 0h0m7 1h0m-5 0h0m-7 0h0m-2 0h0m-2 0h0m-3 0h0m-1 0h0m-9 0h0m-15 0h0m-5 0h0m-19 0h0m-7 0h0m-31 0h0m-20 0h0m-15 0h0m-68 0h0m73 1h0m63 0h0m41 0h0m18 0h0m3 0h0m6 0h0m2 0h0m4 1h0m-5 0h0m-17 0h0m-22 0h0m-1 0h0m-25 0h0m-20 0h0m-9 0h0m-21 0h0m-27 0h0m-119 1h0m123 0h0m60 0h0m5 0h0m7 0h0m16 0h0m38 0h0m7 0h0m6 0h0m0 1h0m-6 0h0m-21 0h0m-81 0h0m-23 0h0m-43 1h0m65 0h0m20 0h0m16 0h0m27 0h0m9 0h0m10 0h0m4 0h0m8 0h0m1 0h0m11 0h0m-5 1h0m-1 0h0m-16 0h0m-3 0h0m-1 0h0m-4 0h0m-9 0h0m-5 0h0m-35 0h0m-17 0h0m-48 0h0m-76 0h0m45 1h0m61 0h0m1 0h0m17 0h0m28 0h0m17 0h0m11 0h0m3 0h0m2 0h0m17 0h0m4 0h0m7 0h0m7 0h0m8 0h0m2 0h0m-5 1h0m-1 0h0m-2 0h0m-1 0h0m-4 0h0m-4 0h0m-5 0h0m-9 0h0m-15 0h0m-21 0h0m-8 0h0m-9 0h0m-7 0h0m-13 0h0m-124 0h0m102 1h0m15 0h0m6 0h0m11 0h0m21 0h0m9 0h0m16 0h0m6 0h0m7 0h0m1 0h0m4 0h0m2 0h0m5 0h0m1 0h0m1 0h0m6 0h0m3 0h0m2 0h0m8 0h0m-5 1h0m-7 0h0m-25 0h0m-21 0h0m-11 0h0m-1 0h0m-7 0h0m-27 0h0m-43 0h0m36 1h0m14 0h0m8 0h0m10 0h0m7 0h0m4 0h0m8 0h0m2 0h0m36 0h0m5 0h0m10 0h0m3 0h0m6 0h0m-8 1h0m-5 0h0m-2 0h0m-2 0h0m-1 0h0m-7 0h0m-1 0h0m-8 0h0m-43 0h0m-12 0h0m-5 0h0m-76 0h0m69 1h0m13 0h0m3 0h0m3 0h0m8 0h0m35 0h0m16 0h0m9 0h0m7 0h0m6 0h0m-6 1h0m-7 0h0m-2 0h0m-1 0h0m-2 0h0m-1 0h0m-1 0h0m-1 0h0m-17 0h0m-2 0h0m-11 0h0m-5 0h0m-11 0h0m-17 0h0m-1 0h0m-69 1h0m60 0h0m10 0h0m29 0h0m13 0h0m10 0h0m2 0h0m1 0h0m6 0h0m1 0h0m14 0h0m3 0h0m6 0h0m-3 1h0m-3 0h0m-2 0h0m-7 0h0m-1 0h0m-2 0h0m-1 0h0m-1 0h0m-11 0h0m-12 0h0m-8 0h0m-10 0h0m-7 0h0m-4 0h0m-35 0h0m-13 0h0m-15 0h0m-52 0h0m41 1h0m2 0h0m1 0h0m34 0h0m48 0h0m13 0h0m5 0h0m8 0h0m2 0h0m12 0h0m5 0h0m14 1h0m-6 0h0m-2 0h0m-2 0h0m-7 0h0m-1 0h0m-1 0h0m-9 0h0m-6 0h0m-6 0h0m-2 0h0m-3 0h0m-32 0h0m-3 0h0m-19 0h0m-12 0h0m-35 0h0m42 1h0m7 0h0m19 0h0m2 0h0m17 0h0m14 0h0m10 0h0m2 0h0m3 0h0m1 0h0m5 0h0m4 0h0m1 0h0m5 0h0m2 0h0m3 0h0m9 0h0m-4 1h0m-1 0h0m-4 0h0m-13 0h0m-9 0h0m-1 0h0m-2 0h0m-7 0h0m-12 0h0m-18 0h0m-15 0h0m-1 0h0m-14 0h0m-6 0h0m-5 0h0m-1 0h0m-45 0h0m7 1h0m17 0h0m36 0h0m10 0h0m10 0h0m7 0h0m32 0h0m8 0h0m6 0h0m5 0h0m7 0h0m2 0h0m7 0h0m6 1h0m-7 0h0m-4 0h0m-3 0h0m-1 0h0m-3 0h0m-15 0h0m-10 0h0m-2 0h0m-3 0h0m-19 0h0m-31 0h0m-24 0h0m-10 0h0m-8 0h0m-30 1h0m83 0h0m19 0h0m5 0h0m8 0h0m1 0h0m18 0h0m6 0h0m5 0h0m7 0h0m17 0h0m-3 1h0m-7 0h0m-5 0h0m-2 0h0m-1 0h0m-2 0h0m-5 0h0m-3 0h0m-14 0h0m-1 0h0m-4 0h0m-11 0h0m-19 0h0m-15 0h0m-17 0h0m11 1h0m5 0h0m10 0h0m33 0h0m10 0h0m6 0h0m9 0h0m11 0h0m3 0h0m13 1h0m-4 0h0m-2 0h0m-5 0h0m-5 0h0m-1 0h0m-11 0h0m-1 0h0m-7 0h0m-7 0h0m-7 0h0m-6 0h0m-1 0h0m-24 0h0m-44 0h0m-40 0h0m13 1h0m59 0h0m57 0h0m3 0h0m6 0h0m3 0h0m2 0h0m9 0h0m1 0h0m1 0h0m3 0h0m1 0h0m1 1h0m-13 0h0m-11 0h0m-2 0h0m-1 0h0m-7 0h0m-1 0h0m-5 0h0m-20 0h0m-7 0h0m-44 0h0m-6 0h0m-24 1h0m82 0h0m15 0h0m1 0h0m1 0h0m5 0h0m1 0h0m4 0h0m5 0h0m11 0h0m3 0h0m7 0h0m3 0h0m2 0h0m4 1h0m-1 0h0m-5 0h0m-16 0h0m-7 0h0m-4 0h0m-1 0h0m-3 0h0m-2 0h0m-5 0h0m-5 0h0m-1 0h0m-3 0h0m-1 0h0m-2 0h0m-7 0h0m-89 1h0m37 0h0m1 0h0m27 0h0m12 0h0m3 0h0m18 0h0m3 0h0m4 0h0m3 0h0m1 0h0m3 0h0m1 0h0m4 0h0m5 0h0m3 0h0m1 0h0m1 0h0m3 0h0m7 0h0m9 0h0m1 0h0m4 0h0m-3 1h0m-2 0h0m-4 0h0m-7 0h0m-11 0h0m-5 0h0m-1 0h0m-5 0h0m-3 0h0m-7 0h0m-7 0h0m-20 0h0m-4 0h0m-13 0h0m-5 0h0m-8 0h0m-13 0h0m39 1h0m18 0h0m5 0h0m2 0h0m3 0h0m1 0h0m1 0h0m2 0h0m3 0h0m1 0h0m6 0h0m5 0h0m1 0h0m2 0h0m5 0h0m1 0h0m3 0h0m2 0h0m2 0h0m5 0h0m1 0h0m11 0h0m1 1h0m-7 0h0m-7 0h0m-11 0h0m-11 0h0m-2 0h0m-2 0h0m-13 0h0m-14 0h0m-15 0h0m-13 0h0m-5 0h0m-3 0h0m-13 0h0m-19 0h0m-1 1h0m32 0h0m8 0h0m21 0h0m2 0h0m13 0h0m4 0h0m2 0h0m2 0h0m6 0h0m1 0h0m1 0h0m2 0h0m1 0h0m1 0h0m1 0h0m5 0h0m7 0h0m2 0h0m5 0h0m2 0h0m1 0h0m3 0h0m2 0h0m1 0h0m2 0h0m1 0h0m2 0h0m5 0h0m2 1h0m-1 0h0m-4 0h0m-1 0h0m-11 0h0m-6 0h0m-1 0h0m-3 0h0m-1 0h0m-4 0h0m-3 0h0m-2 0h0m-1 0h0m-3 0h0m-3 0h0m-2 0h0m-3 0h0m-1 0h0m-1 0h0m-3 0h0m-5 0h0m-23 0h0m-30 0h0m-37 1h0m31 0h0m29 0h0m22 0h0m5 0h0m2 0h0m2 0h0m1 0h0m3 0h0m2 0h0m4 0h0m2 0h0m1 0h0m1 0h0m2 0h0m4 0h0m1 0h0m4 0h0m9 0h0m1 0h0m4 0h0m2 0h0m13 0h0m3 1h0m-3 0h0m-2 0h0m-1 0h0m-6 0h0m-2 0h0m-7 0h0m-5 0h0m-5 0h0m-1 0h0m-1 0h0m-6 0h0m-7 0h0m-6 0h0m-5 0h0m-2 0h0m-11 0h0m-12 0h0m-16 0h0m-21 0h0m-44 0h0m47 1h0m12 0h0m4 0h0m16 0h0m19 0h0m1 0h0m3 0h0m3 0h0m1 0h0m3 0h0m2 0h0m6 0h0m2 0h0m4 0h0m1 0h0m5 0h0m5 0h0m3 0h0m3 0h0m1 0h0m1 0h0m8 0h0m1 0h0m1 0h0m2 0h0m3 0h0m4 0h0m1 0h0m-4 1h0m-1 0h0m-4 0h0m-5 0h0m-2 0h0m-6 0h0m-1 0h0m-2 0h0m-4 0h0m-6 0h0m-1 0h0m-1 0h0m-3 0h0m-1 0h0m-5 0h0m-4 0h0m-7 0h0m-29 0h0m-25 0h0m-1 0h0m-13 0h0m-11 0h0m14 1h0m22 0h0m39 0h0m1 0h0m6 0h0m3 0h0m6 0h0m5 0h0m5 0h0m1 0h0m6 0h0m1 0h0m3 0h0m4 0h0m3 0h0m2 0h0m3 0h0m6 0h0m1 0h0m6 0h0m-3 1h0m-9 0h0m-2 0h0m-1 0h0m-1 0h0m-6 0h0m-4 0h0m-2 0h0m-1 0h0m-3 0h0m-6 0h0m-1 0h0m-10 0h0m-2 0h0m-5 0h0m-3 0h0m-16 0h0m-6 0h0m-21 0h0m-1 0h0m-28 0h0m1 1h0m22 0h0m4 0h0m19 0h0m23 0h0m2 0h0m4 0h0m1 0h0m4 0h0m4 0h0m2 0h0m9 0h0m1 0h0m5 0h0m2 0h0m2 0h0m7 0h0m16 0h0m2 0h0m-6 1h0m-3 0h0m-5 0h0m-1 0h0m-7 0h0m-2 0h0m-4 0h0m-1 0h0m-2 0h0m-1 0h0m-5 0h0m-4 0h0m-7 0h0m-2 0h0m-1 0h0m-3 0h0m-3 0h0m-1 0h0m-2 0h0m-11 0h0m-6 0h0m-10 0h0m-28 0h0m-6 0h0m-4 0h0m-25 1h0m18 0h0m7 0h0m15 0h0m20 0h0m39 0h0m4 0h0m13 0h0m4 0h0m5 0h0m4 0h0m1 0h0m4 0h0m7 0h0m2 0h0m4 0h0m1 1h0m-18 0h0m-1 0h0m-1 0h0m-3 0h0m-3 0h0m-1 0h0m-1 0h0m-10 0h0m-4 0h0m-3 0h0m-3 0h0m-1 0h0m-5 0h0m-1 0h0m-8 0h0m-9 0h0m-7 0h0m-15 0h0m-9 0h0m-3 0h0m-24 0h0m-25 0h0m40 1h0m19 0h0m1 0h0m21 0h0m1 0h0m13 0h0m2 0h0m6 0h0m13 0h0m3 0h0m3 0h0m9 0h0m15 0h0m6 0h0m4 1h0m-7 0h0m-5 0h0m-1 0h0m-8 0h0m-7 0h0m-8 0h0m-8 0h0m-3 0h0m-2 0h0m-4 0h0m-6 0h0m-4 0h0m-1 0h0m-5 0h0m-11 0h0m-22 0h0m-12 0h0m-14 0h0m38 1h0m19 0h0m10 0h0m8 0h0m3 0h0m11 0h0m1 0h0m15 0h0m2 0h0m1 0h0m3 0h0m3 0h0m1 0h0m1 0h0m4 0h0m8 1h0m-16 0h0m-1 0h0m-3 0h0m-4 0h0m-3 0h0m-12 0h0m-2 0h0m-3 0h0m-2 0h0m-2 0h0m-4 0h0m-4 0h0m-1 0h0m-1 0h0m-17 0h0m-10 0h0m-44 1h0m45 0h0m10 0h0m3 0h0m5 0h0m3 0h0m4 0h0m1 0h0m11 0h0m2 0h0m2 0h0m10 0h0m2 0h0m7 0h0m1 0h0m7 0h0m5 0h0m5 0h0m3 0h0m2 0h0m-4 1h0m-3 0h0m-4 0h0m-8 0h0m-2 0h0m-9 0h0m-2 0h0m-18 0h0m-1 0h0m-6 0h0m-4 0h0m-3 0h0m-1 0h0m-28 0h0m-3 0h0m-1 0h0m-17 0h0m-11 0h0m-3 0h0m-4 1h0m8 0h0m45 0h0m2 0h0m8 0h0m3 0h0m5 0h0m3 0h0m2 0h0m6 0h0m4 0h0m3 0h0m2 0h0m3 0h0m1 0h0m1 0h0m2 0h0m4 0h0m2 0h0m4 0h0m2 0h0m1 0h0m1 0h0m1 0h0m3 0h0m4 0h0m11 0h0m4 0h0m1 0h0m0 1h0m-5 0h0m-4 0h0m-1 0h0m-2 0h0m-6 0h0m-2 0h0m-2 0h0m-2 0h0m-1 0h0m-2 0h0m-3 0h0m-4 0h0m-1 0h0m-11 0h0m-14 0h0m-13 0h0m-2 0h0m-1 0h0m-16 0h0m-39 0h0m-3 1h0m16 0h0m13 0h0m35 0h0m2 0h0m7 0h0m1 0h0m1 0h0m2 0h0m2 0h0m3 0h0m4 0h0m1 0h0m1 0h0m2 0h0m3 0h0m1 0h0m2 0h0m2 0h0m1 0h0m1 0h0m3 0h0m1 0h0m4 0h0m11 0h0m4 0h0m3 0h0m5 0h0m-10 1h0m-8 0h0m-3 0h0m-5 0h0m-1 0h0m-1 0h0m-1 0h0m-6 0h0m-8 0h0m-14 0h0m-1 0h0m-7 0h0m-4 0h0m-25 0h0m-18 0h0m-3 0h0m-4 0h0m-26 1h0m77 0h0m9 0h0m2 0h0m3 0h0m1 0h0m3 0h0m2 0h0m1 0h0m3 0h0m6 0h0m1 0h0m1 0h0m1 0h0m2 0h0m10 0h0m4 0h0m3 0h0m7 0h0m5 0h0m4 0h0m0 1h0m-4 0h0m-3 0h0m-3 0h0m-1 0h0m-15 0h0m-1 0h0m-5 0h0m-2 0h0m-3 0h0m-4 0h0m-3 0h0m-15 0h0m-6 0h0m-1 0h0m-3 0h0m-1 0h0m-1 0h0m-14 0h0m-7 0h0m-41 0h0m34 1h0m22 0h0m2 0h0m2 0h0m8 0h0m7 0h0m3 0h0m3 0h0m9 0h0m3 0h0m1 0h0m8 0h0m2 0h0m2 0h0m2 0h0m10 0h0m1 0h0m1 0h0m3 0h0m2 0h0m2 0h0m8 0h0m2 1h0m-1 0h0m-2 0h0m-1 0h0m-3 0h0m-1 0h0m-3 0h0m-3 0h0m-2 0h0m-1 0h0m-3 0h0m-1 0h0m-3 0h0m-2 0h0m-8 0h0m-1 0h0m-1 0h0m-4 0h0m-1 0h0m-5 0h0m-5 0h0m-8 0h0m-2 0h0m-2 0h0m-2 0h0m-3 0h0m-19 0h0m-1 0h0m-6 0h0m-59 0h0m30 1h0m4 0h0m47 0h0m11 0h0m2 0h0m6 0h0m1 0h0m2 0h0m7 0h0m1 0h0m9 0h0m1 0h0m2 0h0m7 0h0m1 0h0m2 0h0m3 0h0m1 0h0m1 0h0m1 0h0m4 0h0m7 0h0m1 0h0m1 0h0m-5 1h0m-2 0h0m-2 0h0m-4 0h0m-3 0h0m-3 0h0m-1 0h0m-2 0h0m-1 0h0m-6 0h0m-1 0h0m-1 0h0m-4 0h0m-5 0h0m-1 0h0m-1 0h0m-1 0h0m-2 0h0m-3 0h0m-1 0h0m-7 0h0m-9 0h0m-9 0h0m-46 0h0m-24 0h0m-2 0h0m6 1h0m17 0h0m29 0h0m4 0h0m22 0h0m3 0h0m3 0h0m6 0h0m1 0h0m7 0h0m4 0h0m1 0h0m4 0h0m2 0h0m1 0h0m2 0h0m8 0h0m6 0h0m1 0h0m6 0h0m2 0h0m2 0h0m1 0h0m4 0h0m1 1h0m-1 0h0m-6 0h0m-2 0h0m-2 0h0m-2 0h0m-2 0h0m-1 0h0m-3 0h0m-1 0h0m-2 0h0m-1 0h0m-4 0h0m-4 0h0m-1 0h0m-4 0h0m-1 0h0m-2 0h0m-18 0h0m-5 0h0m-1 0h0m-15 0h0m-44 0h0m-24 1h0m7 0h0m7 0h0m57 0h0m7 0h0m3 0h0m7 0h0m7 0h0m4 0h0m11 0h0m3 0h0m1 0h0m1 0h0m3 0h0m2 0h0m1 0h0m2 0h0m3 0h0m1 0h0m5 0h0m5 0h0m1 0h0m1 0h0m2 0h0m1 0h0m3 0h0m2 1h0m-1 0h0m-5 0h0m-1 0h0m-2 0h0m-3 0h0m-3 0h0m-1 0h0m-2 0h0m-3 0h0m-2 0h0m-1 0h0m-3 0h0m-3 0h0m-3 0h0m-1 0h0m-2 0h0m-1 0h0m-3 0h0m-9 0h0m-2 0h0m-5 0h0m-9 0h0m-4 0h0m-1 0h0m-1 0h0m-7 0h0m-18 0h0m-6 0h0m-17 0h0m-11 0h0m-19 0h0m-11 0h0m24 1h0m25 0h0m29 0h0m14 0h0m1 0h0m5 0h0m3 0h0m4 0h0m7 0h0m3 0h0m1 0h0m2 0h0m1 0h0m1 0h0m3 0h0m2 0h0m2 0h0m1 0h0m2 0h0m1 0h0m4 0h0m1 0h0m1 0h0m2 0h0m3 0h0m3 0h0m3 0h0m1 0h0m2 0h0m2 0h0m3 0h0m1 0h0m5 0h0m-2 1h0m-3 0h0m-1 0h0m-2 0h0m-3 0h0m-1 0h0m-2 0h0m-2 0h0m-4 0h0m-6 0h0m-1 0h0m-3 0h0m-2 0h0m-2 0h0m-1 0h0m-1 0h0m-1 0h0m-2 0h0m-1 0h0m-12 0h0m-3 0h0m-4 0h0m-5 0h0m-5 0h0m-3 0h0m-6 0h0m-68 0h0m75 1h0m5 0h0m2 0h0m2 0h0m6 0h0m2 0h0m4 0h0m1 0h0m3 0h0m4 0h0m3 0h0m1 0h0m1 0h0m3 0h0m2 0h0m4 0h0m1 0h0m5 0h0m1 0h0m1 0h0m2 0h0m3 0h0m1 0h0m10 0h0m2 0h0m2 1h0m-2 0h0m-3 0h0m-3 0h0m-2 0h0m-5 0h0m-3 0h0m-2 0h0m-1 0h0m-2 0h0m-4 0h0m-2 0h0m-5 0h0m-4 0h0m-5 0h0m-7 0h0m-3 0h0m-1 0h0m-5 0h0m-5 0h0m-7 0h0m-8 0h0m-19 1h0m20 0h0m16 0h0m3 0h0m6 0h0m1 0h0m1 0h0m1 0h0m4 0h0m1 0h0m2 0h0m2 0h0m1 0h0m5 0h0m1 0h0m1 0h0m2 0h0m6 0h0m1 0h0m1 0h0m3 0h0m3 0h0m3 0h0m1 0h0m1 0h0m1 0h0m5 0h0m1 0h0m3 0h0m1 0h0m0 1h0m-2 0h0m-3 0h0m-1 0h0m-5 0h0m-1 0h0m-1 0h0m-4 0h0m-1 0h0m-3 0h0m-1 0h0m-1 0h0m-2 0h0m-3 0h0m-1 0h0m-1 0h0m-1 0h0m-3 0h0m-1 0h0m-2 0h0m-1 0h0m-3 0h0m-3 0h0m-1 0h0m-1 0h0m-1 0h0m-4 0h0m-2 0h0m-9 0h0m-3 0h0m-3 0h0m-5 0h0m-64 0h0m62 1h0m4 0h0m6 0h0m6 0h0m1 0h0m3 0h0m9 0h0m1 0h0m2 0h0m1 0h0m2 0h0m1 0h0m1 0h0m2 0h0m2 0h0m2 0h0m1 0h0m3 0h0m2 0h0m1 0h0m1 0h0m5 0h0m1 0h0m2 0h0m1 0h0m6 0h0m1 0h0m3 0h0m6 0h0m1 0h0m-6 1h0m-3 0h0m-3 0h0m-1 0h0m-1 0h0m-2 0h0m-1 0h0m-1 0h0m-4 0h0m-1 0h0m-4 0h0m-3 0h0m-5 0h0m-2 0h0m-5 0h0m-2 0h0m-2 0h0m-1 0h0m-2 0h0m-1 0h0m-5 0h0m-1 0h0m-12 0h0m-1 0h0m-1 0h0m-6 0h0m-45 0h0m-1 0h0m-22 1h0m68 0h0m2 0h0m10 0h0m3 0h0m8 0h0m9 0h0m1 0h0m4 0h0m1 0h0m2 0h0m2 0h0m1 0h0m2 0h0m1 0h0m4 0h0m2 0h0m2 0h0m1 0h0m1 0h0m3 0h0m1 0h0m4 0h0m5 0h0m1 0h0m2 0h0m2 0h0m1 0h0m-2 1h0m-2 0h0m-4 0h0m-1 0h0m-1 0h0m-3 0h0m-2 0h0m-5 0h0m-1 0h0m-1 0h0m-1 0h0m-2 0h0m-2 0h0m-1 0h0m-1 0h0m-2 0h0m-2 0h0m-2 0h0m-2 0h0m-3 0h0m-1 0h0m-3 0h0m-3 0h0m-3 0h0m-2 0h0m-20 0h0m-3 0h0m-1 0h0m-1 0h0m-25 0h0m-14 0h0m-10 0h0m-15 1h0m10 0h0m7 0h0m45 0h0m1 0h0m2 0h0m4 0h0m9 0h0m1 0h0m1 0h0m15 0h0m1 0h0m1 0h0m1 0h0m1 0h0m5 0h0m1 0h0m3 0h0m2 0h0m1 0h0m1 0h0m3 0h0m2 0h0m1 0h0m5 0h0m1 0h0m3 0h0m6 0h0m1 0h0m1 0h0m1 0h0m2 0h0m2 0h0m1 1h0m-5 0h0m-9 0h0m-7 0h0m-6 0h0m-5 0h0m-2 0h0m-1 0h0m-1 0h0m-2 0h0m-1 0h0m-2 0h0m-1 0h0m-2 0h0m-2 0h0m-2 0h0m-4 0h0m-4 0h0m-1 0h0m-2 0h0m-7 0h0m-8 0h0m-3 0h0m-13 0h0m-15 0h0m-10 1h0m35 0h0m10 0h0m2 0h0m2 0h0m5 0h0m2 0h0m3 0h0m1 0h0m5 0h0m1 0h0m5 0h0m3 0h0m4 0h0m1 0h0m2 0h0m1 0h0m4 0h0m2 0h0m2 0h0m2 0h0m8 0h0m2 0h0m6 0h0m1 0h0m3 0h0m1 1h0m-1 0h0m-1 0h0m-1 0h0m-1 0h0m-5 0h0m-3 0h0m-1 0h0m-1 0h0m-2 0h0m-1 0h0m-4 0h0m-1 0h0m-1 0h0m-2 0h0m-2 0h0m-2 0h0m-3 0h0m-3 0h0m-1 0h0m-1 0h0m-4 0h0m-2 0h0m-1 0h0m-1 0h0m-1 0h0m-2 0h0m-1 0h0m-3 0h0m-12 0h0m-7 0h0m-7 0h0m-1 0h0m-4 0h0m-1 0h0m-20 0h0m-30 0h0m7 1h0m19 0h0m25 0h0m4 0h0m22 0h0m11 0h0m2 0h0m2 0h0m3 0h0m5 0h0m2 0h0m1 0h0m1 0h0m1 0h0m1 0h0m1 0h0m4 0h0m5 0h0m4 0h0m3 0h0m2 0h0m2 0h0m3 0h0m1 0h0m1 0h0m2 0h0m3 0h0m-3 1h0m-1 0h0m-7 0h0m-1 0h0m-1 0h0m-7 0h0m-1 0h0m-1 0h0m-1 0h0m-1 0h0m-2 0h0m-3 0h0m-3 0h0m-1 0h0m-5 0h0m-1 0h0m-1 0h0m-6 0h0m-1 0h0m-1 0h0m-4 0h0m-2 0h0m-3 0h0m-3 0h0m-3 0h0m-7 0h0m-2 0h0m-1 0h0m-33 0h0m-21 1h0m5 0h0m25 0h0m4 0h0m14 0h0m5 0h0m5 0h0m8 0h0m1 0h0m1 0h0m2 0h0m3 0h0m3 0h0m2 0h0m1 0h0m3 0h0m1 0h0m5 0h0m3 0h0m6 0h0m1 0h0m1 0h0m1 0h0m2 0h0m3 0h0m6 0h0m3 0h0m2 0h0m2 0h0m3 0h0m2 0h0m1 0h0m1 0h0m2 0h0m-6 1h0m-1 0h0m-1 0h0m-4 0h0m-5 0h0m-2 0h0m-3 0h0m-1 0h0m-2 0h0m-1 0h0m-3 0h0m-4 0h0m-1 0h0m-1 0h0m-1 0h0m-6 0h0m-6 0h0m-1 0h0m-3 0h0m-2 0h0m-2 0h0m-2 0h0m-2 0h0m-4 0h0m-3 0h0m-4 0h0m-3 0h0m-10 0h0m-32 1h0m28 0h0m4 0h0m7 0h0m12 0h0m10 0h0m4 0h0m5 0h0m1 0h0m1 0h0m4 0h0m1 0h0m3 0h0m1 0h0m1 0h0m3 0h0m1 0h0m3 0h0m2 0h0m5 0h0m2 0h0m1 0h0m1 0h0m4 0h0m2 0h0m3 0h0m3 1h0m-1 0h0m-1 0h0m-2 0h0m-2 0h0m-1 0h0m-3 0h0m-2 0h0m-2 0h0m-7 0h0m-1 0h0m-3 0h0m-1 0h0m-2 0h0m-1 0h0m-1 0h0m-1 0h0m-5 0h0m-2 0h0m-5 0h0m-1 0h0m-2 0h0m-2 0h0m-2 0h0m-2 0h0m-1 0h0m-3 0h0m-12 0h0m-3 0h0m-1 0h0m-1 0h0m-2 0h0m-2 1h0m1 0h0m16 0h0m3 0h0m4 0h0m1 0h0m3 0h0m3 0h0m2 0h0m2 0h0m1 0h0m3 0h0m2 0h0m1 0h0m2 0h0m1 0h0m3 0h0m1 0h0m1 0h0m1 0h0m2 0h0m6 0h0m2 0h0m1 0h0m3 0h0m1 0h0m2 0h0m1 0h0m1 0h0m6 0h0m4 0h0m1 0h0m-1 1h0m-1 0h0m-1 0h0m-3 0h0m-1 0h0m-1 0h0m-1 0h0m-1 0h0m-3 0h0m-1 0h0m-3 0h0m-1 0h0m-1 0h0m-2 0h0m-1 0h0m-2 0h0m-1 0h0m-1 0h0m-1 0h0m-1 0h0m-1 0h0m-1 0h0m-1 0h0m-1 0h0m-1 0h0m-1 0h0m-3 0h0m-2 0h0m-5 0h0m-4 0h0m-1 0h0m-2 0h0m-3 0h0m-1 0h0m-4 0h0m-1 0h0m-2 0h0m-1 0h0m-17 0h0m-1 0h0m-6 0h0m-1 0h0m-21 0h0m-6 0h0m-2 0h0m-20 1h0m61 0h0m8 0h0m3 0h0m1 0h0m2 0h0m9 0h0m1 0h0m5 0h0m3 0h0m1 0h0m2 0h0m1 0h0m2 0h0m1 0h0m1 0h0m4 0h0m1 0h0m1 0h0m2 0h0m1 0h0m4 0h0m1 0h0m2 0h0m4 0h0m1 0h0m1 0h0m1 0h0m2 0h0m1 0h0m3 0h0m1 0h0m4 0h0m1 0h0m-1 1h0m-2 0h0m-1 0h0m-1 0h0m-1 0h0m-1 0h0m-1 0h0m-2 0h0m-1 0h0m-1 0h0m-4 0h0m-1 0h0m-1 0h0m-1 0h0m-1 0h0m-1 0h0m-3 0h0m-1 0h0m-1 0h0m-1 0h0m-5 0h0m-1 0h0m-1 0h0m-3 0h0m-2 0h0m-1 0h0m-1 0h0m-1 0h0m-2 0h0m-3 0h0m-1 0h0m-1 0h0m-1 0h0m-2 0h0m-4 0h0m-1 0h0m-2 0h0m-1 0h0m-8 0h0m-1 0h0m-12 0h0m-1 0h0m-3 0h0m-12 0h0m-14 1h0m26 0h0m3 0h0m6 0h0m10 0h0m5 0h0m1 0h0m2 0h0m7 0h0m1 0h0m3 0h0m2 0h0m6 0h0m1 0h0m2 0h0m1 0h0m1 0h0m1 0h0m7 0h0m3 0h0m1 0h0m2 0h0m1 0h0m4 0h0m1 0h0m2 0h0m1 0h0m2 0h0m1 0h0m1 0h0m2 0h0m5 1h0m-6 0h0m-4 0h0m-1 0h0m-2 0h0m-4 0h0m-1 0h0m-1 0h0m-3 0h0m-1 0h0m-2 0h0m-3 0h0m-1 0h0m-3 0h0m-1 0h0m-7 0h0m-2 0h0m-1 0h0m-1 0h0m-3 0h0m-4 0h0m-2 0h0m-3 0h0m-1 0h0m-4 0h0m-1 0h0m-1 0h0m-4 0h0m-10 0h0m-42 1h0m10 0h0m22 0h0m7 0h0m2 0h0m4 0h0m2 0h0m7 0h0m4 0h0m1 0h0m4 0h0m2 0h0m1 0h0m1 0h0m2 0h0m1 0h0m2 0h0m1 0h0m1 0h0m1 0h0m2 0h0m1 0h0m1 0h0m4 0h0m2 0h0m2 0h0m1 0h0m8 0h0m2 0h0m4 0h0m7 0h0m1 0h0m1 0h0m5 0h0m3 0h0m-5 1h0m-5 0h0m-3 0h0m-1 0h0m-9 0h0m-1 0h0m-5 0h0m-2 0h0m-1 0h0m-4 0h0m-1 0h0m-3 0h0m-2 0h0m-1 0h0m-1 0h0m-2 0h0m-1 0h0m-1 0h0m-1 0h0m-7 0h0m-1 0h0m-7 0h0m-7 0h0m-1 0h0m-3 0h0m-2 0h0m-46 0h0m43 1h0m3 0h0m2 0h0m6 0h0m1 0h0m2 0h0m2 0h0m4 0h0m1 0h0m1 0h0m1 0h0m4 0h0m2 0h0m1 0h0m1 0h0m12 0h0m1 0h0m1 0h0m1 0h0m2 0h0m2 0h0m2 0h0m2 0h0m3 0h0m4 0h0m1 0h0m3 0h0m5 0h0m9 1h0m-1 0h0m-1 0h0m-2 0h0m-3 0h0m-1 0h0m-3 0h0m-1 0h0m-1 0h0m-3 0h0m-3 0h0m-3 0h0m-1 0h0m-2 0h0m-1 0h0m-2 0h0m-1 0h0m-2 0h0m-3 0h0m-6 0h0m-1 0h0m-3 0h0m-2 0h0m-1 0h0m-1 0h0m-2 0h0m-1 0h0m-2 0h0m-3 0h0m-5 0h0m-18 0h0m-2 0h0m-6 0h0m-10 0h0m-17 0h0m48 1h0m1 0h0m4 0h0m2 0h0m1 0h0m2 0h0m1 0h0m4 0h0m4 0h0m1 0h0m1 0h0m1 0h0m1 0h0m1 0h0m5 0h0m1 0h0m1 0h0m3 0h0m2 0h0m1 0h0m2 0h0m5 0h0m1 0h0m4 0h0m2 0h0m2 0h0m3 0h0m2 0h0m1 0h0m3 0h0m1 0h0m4 1h0m-2 0h0m-3 0h0m-3 0h0m-12 0h0m-2 0h0m-2 0h0m-5 0h0m-6 0h0m-3 0h0m-1 0h0m-3 0h0m-3 0h0m-1 0h0m-3 0h0m-2 0h0m-2 0h0m-1 0h0m-2 0h0m-5 0h0m-3 0h0m-3 0h0m-1 0h0m-2 0h0m-4 0h0m-2 0h0m-27 1h0m4 0h0m8 0h0m10 0h0m8 0h0m8 0h0m14 0h0m3 0h0m2 0h0m1 0h0m2 0h0m1 0h0m5 0h0m1 0h0m3 0h0m1 0h0m2 0h0m1 0h0m6 0h0m1 0h0m2 0h0m1 0h0m3 0h0m2 0h0m6 0h0m1 0h0m7 0h0m-11 1h0m-2 0h0m-2 0h0m-1 0h0m-2 0h0m-2 0h0m-1 0h0m-3 0h0m-3 0h0m-3 0h0m-1 0h0m-1 0h0m-2 0h0m-1 0h0m-1 0h0m-4 0h0m-4 0h0m-1 0h0m-3 0h0m-4 0h0m-4 0h0m-3 0h0m-3 0h0m-2 0h0m-1 0h0m-23 0h0m-1 0h0m-5 0h0m-21 0h0m32 1h0m6 0h0m4 0h0m1 0h0m5 0h0m2 0h0m1 0h0m6 0h0m2 0h0m2 0h0m1 0h0m9 0h0m1 0h0m5 0h0m3 0h0m4 0h0m2 0h0m1 0h0m2 0h0m2 0h0m1 0h0m1 0h0m2 0h0m5 0h0m1 0h0m2 0h0m4 0h0m2 0h0m3 0h0m1 0h0m1 0h0m2 0h0m-9 1h0m-2 0h0m-1 0h0m-1 0h0m-4 0h0m-5 0h0m-12 0h0m-1 0h0m-2 0h0m-1 0h0m-1 0h0m-2 0h0m-1 0h0m-5 0h0m-1 0h0m-2 0h0m-1 0h0m-9 0h0m-4 0h0m-2 0h0m-5 0h0m-4 0h0m-1 0h0m-46 0h0m29 1h0m8 0h0m7 0h0m10 0h0m2 0h0m4 0h0m3 0h0m15 0h0m1 0h0m2 0h0m1 0h0m3 0h0m1 0h0m9 0h0m4 0h0m6 0h0" stroke="#6cc6d3" stroke-width="3.8" stroke-linecap="round" fill="none"/>
<path transform="scale(.5)" d="M0 0m616 883h0m-48 6h0m-15 6h0m-5 3h0m-31 7h0m-3 1h0m-5 0h0m-1 2h0m11 0h0m4 0h0m5 0h0m65 0h0m-55 1h0m-15 0h0m-2 1h0m3 0h0m7 0h0m-9 2h0m-12 1h0m16 2h0m-10 1h0m2 0h0m1 0h0m11 0h0m8 0h0m-10 1h0m-1 0h0m-3 0h0m-8 0h0m-1 0h0m-9 0h0m22 1h0m17 0h0m-18 1h0m-16 1h0m8 0h0m7 0h0m6 0h0m8 0h0m14 0h0m-41 1h0m-2 0h0m-3 0h0m-4 1h0m2 0h0m3 0h0m1 0h0m2 0h0m3 0h0m26 1h0m-8 0h0m-3 0h0m-1 0h0m-22 0h0m6 1h0m4 0h0m70 1h0m-20 0h0m-21 0h0m-37 0h0m-3 0h0m23 1h0m22 0h0m-11 1h0m-7 0h0m-1 0h0m-15 0h0m-2 0h0m-1 0h0m1 1h0m54 1h0m-24 0h0m-24 0h0m-2 0h0m-6 0h0m-12 1h0m18 0h0m13 0h0m9 0h0m8 0h0m9 1h0m-18 0h0m-2 0h0m-14 0h0m-12 0h0m-5 0h0m-1 0h0m-5 0h0m9 1h0m4 0h0m22 1h0m-9 0h0m-27 0h0m-1 1h0m8 0h0m7 0h0m10 0h0m11 0h0m5 0h0m6 0h0m15 0h0m-8 1h0m-10 0h0m-2 0h0m-12 0h0m-4 0h0m-15 1h0m3 0h0m4 0h0m1 0h0m3 0h0m11 0h0m10 0h0m5 0h0m12 0h0m51 1h0m-51 0h0m-6 0h0m-8 0h0m-5 0h0m-4 0h0m-9 0h0m-32 1h0m9 0h0m9 0h0m8 0h0m18 0h0m1 0h0m8 0h0m4 0h0m3 0h0m45 1h0m-49 0h0m-51 0h0m6 1h0m2 0h0m6 0h0m14 0h0m4 0h0m4 0h0m12 0h0m6 0h0m6 0h0m1 0h0m42 0h0m-59 1h0m-11 0h0m-16 0h0m-6 0h0m-12 1h0m8 0h0m8 0h0m7 0h0m4 0h0m7 0h0m4 0h0m1 0h0m20 0h0m6 0h0m4 0h0m-6 1h0m-16 0h0m-19 0h0m-5 0h0m-10 0h0m-17 0h0m3 1h0m4 0h0m6 0h0m1 0h0m15 0h0m13 0h0m13 0h0m5 0h0m13 0h0m-3 1h0m-15 0h0m-6 0h0m-18 0h0m-2 0h0m-14 0h0m-3 0h0m7 1h0m19 0h0m13 0h0m3 0h0m5 0h0m-5 1h0m-15 0h0m-26 0h0m-1 0h0m-8 0h0m-3 0h0m-2 0h0m7 1h0m3 0h0m3 0h0m6 0h0m2 0h0m3 0h0m1 0h0m11 0h0m12 0h0m4 0h0m9 0h0m17 0h0m-23 1h0m-5 0h0m-17 0h0m-10 0h0m-4 0h0m-7 0h0m-1 0h0m-3 0h0m-3 0h0m-1 0h0m-5 0h0m3 1h0m6 0h0m2 0h0m1 0h0m1 0h0m2 0h0m1 0h0m7 0h0m4 0h0m11 0h0m5 0h0m13 0h0m0 1h0m-1 0h0m-15 0h0m-10 0h0m-1 0h0m-11 0h0m-1 0h0m-1 0h0m-2 0h0m-2 0h0m-10 1h0m3 0h0m8 0h0m2 0h0m1 0h0m2 0h0m1 0h0m1 0h0m4 0h0m5 0h0m12 0h0m3 0h0m15 0h0m5 1h0m-4 0h0m-11 0h0m-18 0h0m-6 0h0m-3 0h0m-6 0h0m-2 0h0m-2 0h0m-1 0h0m-2 0h0m-1 0h0m-7 0h0m-1 1h0m2 0h0m1 0h0m2 0h0m4 0h0m1 0h0m1 0h0m1 0h0m1 0h0m4 0h0m4 0h0m1 0h0m1 0h0m1 0h0m4 0h0m1 0h0m10 0h0m17 0h0m3 0h0m21 1h0m-31 0h0m-5 0h0m-2 0h0m-11 0h0m-2 0h0m-2 0h0m-4 0h0m-6 0h0m-1 0h0m-1 0h0m-1 0h0m-2 0h0m-1 0h0m-1 0h0m-4 0h0m-1 0h0m-2 0h0m-1 0h0m-1 0h0m-1 0h0m-2 1h0m3 0h0m5 0h0m1 0h0m1 0h0m3 0h0m1 0h0m3 0h0m3 0h0m2 0h0m3 0h0m1 0h0m2 0h0m1 0h0m1 0h0m3 0h0m33 0h0m-12 1h0m-15 0h0m-6 0h0m-2 0h0m-1 0h0m-1 0h0m-1 0h0m-4 0h0m-1 0h0m-1 0h0m-2 0h0m-2 0h0m-2 0h0m-4 0h0m-5 0h0m-1 0h0m-9 1h0m2 0h0m7 0h0m2 0h0m2 0h0m4 0h0m1 0h0m2 0h0m2 0h0m4 0h0m2 0h0m3 0h0m2 0h0m17 0h0m5 0h0m3 0h0m4 0h0m3 0h0m2 0h0m1 0h0m7 0h0m0 1h0m-5 0h0m-4 0h0m-5 0h0m-23 0h0m-7 0h0m-2 0h0m-2 0h0m-1 0h0m-3 0h0m-1 0h0m-1 0h0m-2 0h0m-5 0h0m-2 0h0m-4 1h0m2 0h0m3 0h0m1 0h0m4 0h0m1 0h0m2 0h0m1 0h0m1 0h0m1 0h0m2 0h0m1 0h0m4 0h0m1 0h0m23 0h0m33 0h0m27 0h0m-33 1h0m-23 0h0m-9 0h0m-11 0h0m-1 0h0m-1 0h0m-2 0h0m-3 0h0m-1 0h0m-1 0h0m-3 0h0m-4 0h0m-3 0h0m-1 0h0m-1 0h0m-4 0h0m-5 0h0m-5 0h0m-1 0h0m-1 1h0m1 0h0m10 0h0m1 0h0m2 0h0m1 0h0m1 0h0m2 0h0m3 0h0m1 0h0m1 0h0m1 0h0m1 0h0m1 0h0m4 0h0m2 0h0m1 0h0m3 0h0m28 0h0m9 0h0m-25 1h0m-15 0h0m-3 0h0m-1 0h0m-1 0h0m-1 0h0m-2 0h0m-3 0h0m-2 0h0m-2 0h0m-4 0h0m-2 0h0m-3 0h0m-1 0h0m-3 0h0m-1 0h0m-2 0h0m-1 0h0m-4 0h0m6 1h0m1 0h0m2 0h0m2 0h0m3 0h0m3 0h0m2 0h0m1 0h0m1 0h0m1 0h0m1 0h0m1 0h0m7 0h0m1 0h0m1 0h0m1 0h0m4 0h0m2 0h0m7 0h0m9 0h0m11 1h0m-2 0h0m-4 0h0m-2 0h0m-5 0h0m-17 0h0m-1 0h0m-3 0h0m-3 0h0m-1 0h0m-2 0h0m-1 0h0m-2 0h0m-1 0h0m-1 0h0m-4 0h0m-1 0h0m-1 0h0m-3 0h0m-5 0h0m-10 1h0m7 0h0m1 0h0m9 0h0m3 0h0m3 0h0m1 0h0m1 0h0m2 0h0m1 0h0m1 0h0m2 0h0m3 0h0m2 0h0m3 0h0m1 0h0m1 1h0m-4 0h0m-2 0h0m-2 0h0m-1 0h0m-1 0h0m-1 0h0m-1 0h0m-1 0h0m-1 0h0m-1 0h0m-3 0h0m-1 0h0m-1 0h0m-1 0h0m-1 0h0m-5 0h0m-1 0h0m-2 0h0m-3 0h0m-1 0h0m-1 0h0m-1 0h0m-1 0h0m3 1h0m2 0h0m1 0h0m3 0h0m1 0h0m2 0h0m1 0h0m1 0h0m1 0h0m1 0h0m1 0h0m3 0h0m1 0h0m1 0h0m1 0h0m4 0h0m1 0h0m1 0h0m2 0h0m1 0h0m1 0h0m2 0h0m2 0h0m2 0h0m1 0h0m8 0h0m18 0h0m32 1h0m-45 0h0m-2 0h0m-13 0h0m-4 0h0m-1 0h0m-2 0h0m-2 0h0m-1 0h0m-3 0h0m-1 0h0m-1 0h0m-3 0h0m-1 0h0m-4 0h0m-2 0h0m-1 0h0m-1 0h0m-1 0h0m-1 0h0m-3 0h0m-1 0h0m-1 0h0m-2 0h0m1 1h0m2 0h0m1 0h0m2 0h0m2 0h0m1 0h0m2 0h0m2 0h0m1 0h0m1 0h0m1 0h0m2 0h0m1 0h0m1 0h0m1 0h0m1 0h0m1 0h0m4 0h0m8 0h0m13 0h0m1 0h0m5 0h0m13 0h0m-4 1h0m-16 0h0m-5 0h0m-2 0h0m-5 0h0m-4 0h0m-1 0h0m-2 0h0m-1 0h0m-1 0h0m-3 0h0m-1 0h0m-2 0h0m-1 0h0m-1 0h0m-3 0h0m-1 0h0m-2 0h0m-2 0h0m-2 0h0m-4 0h0m-4 0h0m-2 0h0m-4 0h0m3 1h0m4 0h0m1 0h0m1 0h0m1 0h0m1 0h0m2 0h0m5 0h0m1 0h0m8 0h0m1 0h0m2 0h0m1 0h0m2 0h0m1 0h0m2 0h0m1 0h0m1 0h0m11 0h0m1 0h0m3 0h0m5 0h0m9 0h0m8 0h0m4 1h0m-5 0h0m-17 0h0m-4 0h0m-13 0h0m-2 0h0m-2 0h0m-2 0h0m-1 0h0m-1 0h0m-1 0h0m-4 0h0m-1 0h0m-2 0h0m-1 0h0m-1 0h0m-1 0h0m-1 0h0m-3 0h0m-2 0h0m-1 0h0m-3 0h0m-2 0h0m-5 0h0m0 1h0m1 0h0m1 0h0m2 0h0m1 0h0m5 0h0m5 0h0m3 0h0m2 0h0m1 0h0m1 0h0m3 0h0m3 0h0m1 0h0m10 0h0m6 0h0m14 0h0m8 1h0m-17 0h0m-2 0h0m-15 0h0m-2 0h0m-3 0h0m-1 0h0m-2 0h0m-1 0h0m-1 0h0m-1 0h0m-2 0h0m-1 0h0m-1 0h0m-3 0h0m-2 0h0m-1 0h0m-4 0h0m-1 0h0m-3 0h0m-1 0h0m-1 0h0m-1 0h0m-5 1h0m1 0h0m7 0h0m1 0h0m1 0h0m1 0h0m5 0h0m2 0h0m2 0h0m1 0h0m1 0h0m3 0h0m1 0h0m2 0h0m2 0h0m2 0h0m2 0h0m1 0h0m1 0h0m2 0h0m24 0h0m2 0h0m-10 1h0m-1 0h0m-5 0h0m-8 0h0m-3 0h0m-4 0h0m-4 0h0m-1 0h0m-3 0h0m-3 0h0m-1 0h0m-2 0h0m-1 0h0m-1 0h0m-2 0h0m-1 0h0m-2 0h0m-1 0h0m-2 0h0m-1 0h0m-1 0h0m-1 0h0m-1 0h0m-2 0h0m-1 0h0m-1 0h0m0 1h0m1 0h0m1 0h0m3 0h0m1 0h0m1 0h0m2 0h0m1 0h0m2 0h0m2 0h0m4 0h0m1 0h0m2 0h0m2 0h0m1 0h0m5 0h0m1 0h0m1 0h0m2 0h0m1 0h0m3 0h0m5 0h0m3 0h0m17 0h0m4 0h0m2 1h0m-9 0h0m-5 0h0m-15 0h0m-3 0h0m-1 0h0m-1 0h0m-1 0h0m-2 0h0m-1 0h0m-1 0h0m-1 0h0m-3 0h0m-1 0h0m-2 0h0m-1 0h0m-1 0h0m-3 0h0m-1 0h0m-1 0h0m-2 0h0m-3 0h0m-1 0h0m-1 0h0m-3 0h0m-7 0h0m0 1h0m1 0h0m5 0h0m2 0h0m1 0h0m4 0h0m1 0h0m2 0h0m1 0h0m3 0h0m1 0h0m2 0h0m1 0h0m1 0h0m3 0h0m3 0h0m1 0h0m2 0h0m3 0h0m2 0h0m4 0h0m1 0h0m11 0h0m6 0h0m18 0h0m-6 1h0m-7 0h0m-10 0h0m-13 0h0m-2 0h0m-4 0h0m-1 0h0m-3 0h0m-1 0h0m-5 0h0m-3 0h0m-2 0h0m-2 0h0m-2 0h0m-2 0h0m-1 0h0m-2 0h0m-2 0h0m-1 0h0m-2 0h0m-2 0h0m-7 0h0m3 1h0m4 0h0m2 0h0m1 0h0m1 0h0m2 0h0m2 0h0m1 0h0m7 0h0m3 0h0m1 0h0m2 0h0m1 0h0m1 0h0m1 0h0m2 0h0m1 0h0m3 0h0m7 0h0m6 0h0m56 0h0m-44 1h0m-5 0h0m-11 0h0m-7 0h0m-1 0h0m-1 0h0m-1 0h0m-2 0h0m-4 0h0m-1 0h0m-2 0h0m-1 0h0m-1 0h0m-3 0h0m-2 0h0m-1 0h0m-2 0h0m-1 0h0m-1 0h0m-2 0h0m-1 0h0m-2 0h0m-2 0h0m-1 0h0m-3 0h0m-2 0h0m-6 0h0m0 1h0m5 0h0m1 0h0m2 0h0m2 0h0m1 0h0m1 0h0m2 0h0m2 0h0m1 0h0m2 0h0m1 0h0m1 0h0m5 0h0m1 0h0m2 0h0m2 0h0m2 0h0m1 0h0m5 0h0m1 0h0m1 0h0m4 0h0m10 0h0m5 0h0m3 0h0m2 0h0m3 0h0m3 0h0m4 0h0m-6 1h0m-26 0h0m-4 0h0m-4 0h0m-2 0h0m-1 0h0m-2 0h0m-1 0h0m-1 0h0m-1 0h0m-1 0h0m-1 0h0m-1 0h0m-1 0h0m-1 0h0m-3 0h0m-2 0h0m-1 0h0m-1 0h0m-1 0h0m-3 0h0m-1 0h0m-2 0h0m-1 0h0m-8 0h0m6 1h0m2 0h0m2 0h0m1 0h0m1 0h0m2 0h0m4 0h0m1 0h0m2 0h0m2 0h0m1 0h0m2 0h0m3 0h0m2 0h0m1 0h0m1 0h0m2 0h0m7 0h0m2 0h0m7 0h0m14 0h0m9 0h0m3 0h0m29 0h0m11 1h0m-73 0h0m-1 0h0m-1 0h0m-3 0h0m-2 0h0m-1 0h0m-6 0h0m-1 0h0m-1 0h0m-3 0h0m-3 0h0m-1 0h0m-1 0h0m-2 0h0m-1 0h0m-2 0h0m-2 0h0m-2 0h0m-1 0h0m-1 0h0m-2 0h0m-1 0h0m-1 0h0m-5 0h0m4 1h0m2 0h0m1 0h0m2 0h0m1 0h0m1 0h0m1 0h0m4 0h0m1 0h0m1 0h0m1 0h0m1 0h0m1 0h0m2 0h0m1 0h0m1 0h0m1 0h0m3 0h0m2 0h0m3 0h0m1 0h0m5 0h0m2 0h0m1 0h0m9 0h0m1 0h0m7 0h0m13 0h0m-1 1h0m-8 0h0m-1 0h0m-12 0h0m-9 0h0m-3 0h0m-2 0h0m-1 0h0m-1 0h0m-4 0h0m-2 0h0m-1 0h0m-1 0h0m-1 0h0m-1 0h0m-2 0h0m-1 0h0m-1 0h0m-3 0h0m-3 0h0m-1 0h0m-4 0h0m-3 0h0m-3 0h0m-1 0h0m-1 0h0m-3 1h0m4 0h0m2 0h0m1 0h0m1 0h0m1 0h0m3 0h0m1 0h0m1 0h0m6 0h0m2 0h0m2 0h0m1 0h0m2 0h0m2 0h0m1 0h0m1 0h0m2 0h0m3 0h0m4 0h0m3 0h0m4 0h0m6 0h0m14 0h0m10 0h0m4 1h0m-2 0h0m-7 0h0m-7 0h0m-9 0h0m-11 0h0m-2 0h0m-5 0h0m-1 0h0m-1 0h0m-4 0h0m-3 0h0m-1 0h0m-1 0h0m-2 0h0m-1 0h0m-1 0h0m-1 0h0m-1 0h0m-1 0h0m-1 0h0m-2 0h0m-1 0h0m-8 0h0m-2 0h0m-6 0h0m2 1h0m5 0h0m3 0h0m1 0h0m1 0h0m3 0h0m2 0h0m3 0h0m1 0h0m2 0h0m1 0h0m1 0h0m1 0h0m1 0h0m1 0h0m5 0h0m2 0h0m6 0h0m2 0h0m17 0h0m16 0h0m2 0h0m50 0h0m-18 1h0m-70 0h0m-4 0h0m-1 0h0m-3 0h0m-1 0h0m-3 0h0m-2 0h0m-1 0h0m-3 0h0m-2 0h0m-1 0h0m-1 0h0m-1 0h0m-1 0h0m-1 0h0m-3 0h0m-6 0h0m-2 0h0m-2 1h0m1 0h0m2 0h0m1 0h0m4 0h0m1 0h0m1 0h0m1 0h0m4 0h0m2 0h0m1 0h0m2 0h0m1 0h0m1 0h0m1 0h0m1 0h0m1 0h0m2 0h0m2 0h0m2 0h0m1 0h0m2 0h0m1 0h0m1 0h0m3 0h0m1 0h0m12 0h0m9 0h0m8 1h0m-1 0h0m-18 0h0m-6 0h0m-1 0h0m-5 0h0m-5 0h0m-1 0h0m-1 0h0m-1 0h0m-2 0h0m-3 0h0m-4 0h0m-1 0h0m-4 0h0m-1 0h0m-1 0h0m-1 0h0m-1 0h0m-3 0h0m-3 0h0m-3 0h0m-1 0h0m-2 0h0m-4 0h0m0 1h0m1 0h0m4 0h0m5 0h0m1 0h0m3 0h0m1 0h0m1 0h0m1 0h0m2 0h0m1 0h0m1 0h0m3 0h0m1 0h0m1 0h0m1 0h0m1 0h0m1 0h0m2 0h0m1 0h0m2 0h0m2 0h0m1 0h0m3 0h0m1 0h0m1 0h0m6 0h0m1 0h0m11 0h0m10 0h0m9 0h0m-16 1h0m-6 0h0m-1 0h0m-5 0h0m-7 0h0m-1 0h0m-2 0h0m-1 0h0m-4 0h0m-1 0h0m-3 0h0m-1 0h0m-1 0h0m-6 0h0m-1 0h0m-2 0h0m-1 0h0m-1 0h0m-1 0h0m-1 0h0m-1 0h0m-1 0h0m-2 0h0m-2 0h0m-1 0h0m-3 0h0m-1 0h0m-3 0h0m-2 0h0m-2 0h0m9 1h0m1 0h0m7 0h0m1 0h0m2 0h0m2 0h0m1 0h0m1 0h0m1 0h0m2 0h0m1 0h0m3 0h0m3 0h0m5 0h0m4 0h0m1 0h0m10 0h0m2 0h0m2 0h0m4 0h0m4 0h0m2 0h0m20 1h0m-29 0h0m-11 0h0m-1 0h0m-1 0h0m-3 0h0m-1 0h0m-3 0h0m-1 0h0m-2 0h0m-3 0h0m-3 0h0m-2 0h0m-2 0h0m-3 0h0m-1 0h0m-1 0h0m-1 0h0m-1 0h0m-5 0h0m-2 0h0m-5 0h0m-2 0h0m-1 0h0m-2 0h0m-2 0h0m2 1h0m5 0h0m1 0h0m1 0h0m2 0h0m1 0h0m1 0h0m1 0h0m2 0h0m2 0h0m1 0h0m1 0h0m1 0h0m1 0h0m1 0h0m1 0h0m5 0h0m1 0h0m2 0h0m2 0h0m1 0h0m1 0h0m1 0h0m1 0h0m3 0h0m1 0h0m4 0h0m61 0h0m-23 1h0m-14 0h0m-5 0h0m-3 0h0m-12 0h0m-6 0h0m-1 0h0m-1 0h0m-2 0h0m-2 0h0m-1 0h0m-1 0h0m-3 0h0m-5 0h0m-4 0h0m-1 0h0m-2 0h0m-1 0h0m-1 0h0m-4 0h0m-4 0h0m-1 0h0m-1 0h0m-7 0h0m-1 0h0m3 1h0m1 0h0m4 0h0m3 0h0m1 0h0m2 0h0m1 0h0m1 0h0m2 0h0m3 0h0m1 0h0m2 0h0m1 0h0m2 0h0m1 0h0m1 0h0m3 0h0m1 0h0m4 0h0m5 0h0m2 0h0m18 0h0m1 0h0m3 0h0m13 0h0m-17 1h0m-15 0h0m-2 0h0m-3 0h0m-3 0h0m-1 0h0m-1 0h0m-2 0h0m-1 0h0m-1 0h0m-1 0h0m-2 0h0m-2 0h0m-1 0h0m-6 0h0m-3 0h0m-1 0h0m-1 0h0m-1 0h0m-1 0h0m-1 0h0m-1 0h0m-1 0h0m-1 0h0m-1 0h0m-1 0h0m-1 0h0m-2 0h0m-3 0h0m-4 1h0m1 0h0m2 0h0m7 0h0m1 0h0m2 0h0m3 0h0m2 0h0m3 0h0m3 0h0m8 0h0m1 0h0m1 0h0m3 0h0m1 0h0m2 0h0m1 0h0m1 0h0m7 0h0m6 0h0m8 0h0m4 0h0m1 0h0m5 0h0m10 1h0m-2 0h0m-11 0h0m-15 0h0m-5 0h0m-2 0h0m-2 0h0m-3 0h0m-1 0h0m-3 0h0m-1 0h0m-1 0h0m-1 0h0m-4 0h0m-2 0h0m-2 0h0m-1 0h0m-1 0h0m-1 0h0m-1 0h0m-1 0h0m-1 0h0m-1 0h0m-1 0h0m-2 0h0m-1 0h0m-2 0h0m-1 0h0m-1 0h0m-2 0h0m-1 0h0m-2 0h0m-1 0h0m-1 0h0m-1 0h0m-1 0h0m-1 1h0m7 0h0m1 0h0m1 0h0m1 0h0m3 0h0m1 0h0m1 0h0m1 0h0m2 0h0m2 0h0m1 0h0m1 0h0m1 0h0m6 0h0m2 0h0m2 0h0m2 0h0m1 0h0m1 0h0m3 0h0m2 0h0m1 0h0m17 0h0m-7 1h0m-6 0h0m-2 0h0m-4 0h0m-2 0h0m-2 0h0m-3 0h0m-2 0h0m-1 0h0m-1 0h0m-1 0h0m-3 0h0m-3 0h0m-1 0h0m-3 0h0m-1 0h0m-2 0h0m-4 0h0m-3 0h0m-1 0h0m-1 0h0m-1 0h0m-3 0h0m-1 0h0m-3 1h0m3 0h0m3 0h0m1 0h0m1 0h0m1 0h0m1 0h0m1 0h0m3 0h0m1 0h0m1 0h0m2 0h0m1 0h0m4 0h0m1 0h0m1 0h0m1 0h0m2 0h0m3 0h0m2 0h0m1 0h0m1 0h0m2 0h0m3 0h0m3 0h0m1 0h0m2 0h0m2 0h0m25 0h0m24 0h0m-30 1h0m-11 0h0m-7 0h0m-3 0h0m-1 0h0m-1 0h0m-2 0h0m-1 0h0m-2 0h0m-2 0h0m-3 0h0m-1 0h0m-2 0h0m-1 0h0m-1 0h0m-1 0h0m-2 0h0m-1 0h0m-1 0h0m-2 0h0m-1 0h0m-3 0h0m-2 0h0m-3 0h0m-1 0h0m-1 0h0m-2 0h0m-1 0h0m-5 0h0m-4 0h0m-3 1h0m2 0h0m2 0h0m1 0h0m1 0h0m1 0h0m3 0h0m4 0h0m5 0h0m1 0h0m1 0h0m2 0h0m1 0h0m1 0h0m7 0h0m1 0h0m2 0h0m4 0h0m1 0h0m1 0h0m6 0h0m7 0h0m1 0h0m18 0h0m3 0h0m3 0h0m-33 1h0m-1 0h0m-2 0h0m-4 0h0m-3 0h0m-5 0h0m-1 0h0m-2 0h0m-2 0h0m-2 0h0m-1 0h0m-2 0h0m-3 0h0m-4 0h0m-1 0h0m-1 0h0m-2 0h0m-4 0h0m-2 0h0m-1 0h0m-5 1h0m3 0h0m2 0h0m2 0h0m2 0h0m1 0h0m1 0h0m1 0h0m1 0h0m1 0h0m1 0h0m1 0h0m1 0h0m1 0h0m1 0h0m1 0h0m2 0h0m5 0h0m1 0h0m1 0h0m7 0h0m3 0h0m1 0h0m1 0h0m1 0h0m2 0h0m1 0h0m1 0h0m2 0h0m2 0h0m3 0h0m27 0h0m3 0h0m6 0h0m-45 1h0m-3 0h0m-1 0h0m-1 0h0m-2 0h0m-3 0h0m-5 0h0m-1 0h0m-3 0h0m-1 0h0m-3 0h0m-1 0h0m-4 0h0m-1 0h0m-3 0h0m-1 0h0m-1 0h0m-1 0h0m-1 0h0m-4 0h0m-1 0h0m-2 0h0m-2 1h0m1 0h0m2 0h0m1 0h0m2 0h0m4 0h0m3 0h0m4 0h0m3 0h0m1 0h0m1 0h0m1 0h0m1 0h0m1 0h0m1 0h0m1 0h0m2 0h0m5 0h0m3 0h0m1 0h0m5 0h0m3 0h0m3 0h0m2 0h0m4 0h0m22 0h0m34 1h0m-44 0h0m-8 0h0m-5 0h0m-2 0h0m-1 0h0m-3 0h0m-6 0h0m-2 0h0m-1 0h0m-5 0h0m-6 0h0m-1 0h0m-1 0h0m-1 0h0m-2 0h0m-1 0h0m-1 0h0m-1 0h0m-2 0h0m-1 0h0m-1 0h0m-1 0h0m-1 0h0m-3 0h0m-1 0h0m-2 0h0m-1 0h0m-1 0h0m-1 0h0m-4 1h0m1 0h0m3 0h0m1 0h0m1 0h0m2 0h0m4 0h0m1 0h0m1 0h0m1 0h0m2 0h0m1 0h0m2 0h0m1 0h0m1 0h0m1 0h0m1 0h0m1 0h0m3 0h0m1 0h0m2 0h0m2 0h0m1 0h0m1 0h0m1 0h0m2 0h0m2 0h0m3 0h0m2 0h0m1 0h0m28 0h0m13 0h0m-5 1h0m-3 0h0m-1 0h0m-7 0h0m-4 0h0m-5 0h0m-7 0h0m-3 0h0m-1 0h0m-5 0h0m-2 0h0m-1 0h0m-4 0h0m-4 0h0m-5 0h0m-1 0h0m-2 0h0m-1 0h0m-2 0h0m-2 0h0m-2 0h0m-3 0h0m-1 0h0m-3 0h0m-5 0h0m-1 0h0m-4 0h0m-2 0h0m-2 1h0m6 0h0m4 0h0m3 0h0m2 0h0m3 0h0m8 0h0m1 0h0m1 0h0m1 0h0m3 0h0m2 0h0m1 0h0m1 0h0m2 0h0m1 0h0m3 0h0m3 0h0m4 0h0m1 0h0m2 0h0m2 0h0m13 1h0m-1 0h0m-2 0h0m-2 0h0m-16 0h0m-1 0h0m-1 0h0m-2 0h0m-5 0h0m-1 0h0m-1 0h0m-1 0h0m-1 0h0m-1 0h0m-1 0h0m-4 0h0m-9 0h0m-1 0h0m-1 0h0m-2 0h0m-2 0h0m-1 0h0m-1 0h0m-1 0h0m-4 0h0m-2 0h0m-2 1h0m1 0h0m1 0h0m2 0h0m2 0h0m1 0h0m2 0h0m2 0h0m2 0h0m1 0h0m1 0h0m1 0h0m2 0h0m3 0h0m4 0h0m6 0h0m4 0h0m2 0h0m5 0h0m1 0h0m2 0h0m2 0h0m31 0h0m1 0h0m3 0h0m17 0h0m-21 1h0m-4 0h0m-9 0h0m-14 0h0m-6 0h0m-1 0h0m-1 0h0m-3 0h0m-1 0h0m-3 0h0m-2 0h0m-1 0h0m-1 0h0m-1 0h0m-1 0h0m-2 0h0m-3 0h0m-6 0h0m-2 0h0m-1 0h0m-1 0h0m-1 0h0m-1 0h0m-1 0h0m-5 0h0m-2 0h0m-2 0h0m-6 0h0m1 1h0m1 0h0m4 0h0m1 0h0m6 0h0m1 0h0m1 0h0m2 0h0m1 0h0m3 0h0m4 0h0m2 0h0m3 0h0m1 0h0m1 0h0m2 0h0m8 0h0m1 0h0m1 0h0m4 0h0m2 0h0m1 0h0m12 0h0m23 1h0m-24 0h0m-4 0h0m-6 0h0m-3 0h0m-2 0h0m-1 0h0m-3 0h0m-4 0h0m-1 0h0m-3 0h0m-1 0h0m-2 0h0m-3 0h0m-5 0h0m-3 0h0m-2 0h0m-1 0h0m-1 0h0m-1 0h0m-4 0h0m-1 0h0m-1 0h0m-4 0h0m-4 0h0m-3 0h0m1 1h0m1 0h0m1 0h0m1 0h0m3 0h0m5 0h0m3 0h0m2 0h0m5 0h0m3 0h0m1 0h0m2 0h0m2 0h0m1 0h0m1 0h0m1 0h0m1 0h0m1 0h0m1 0h0m1 0h0m2 0h0m1 0h0m1 0h0m5 0h0m2 0h0m1 0h0m1 0h0m21 0h0m7 0h0m10 0h0m-4 1h0m-2 0h0m-10 0h0m-8 0h0m-1 0h0m-8 0h0m-3 0h0m-1 0h0m-3 0h0m-1 0h0m-2 0h0m-1 0h0m-1 0h0m-1 0h0m-1 0h0m-1 0h0m-1 0h0m-1 0h0m-1 0h0m-5 0h0m-2 0h0m-3 0h0m-4 0h0m-1 0h0m-2 0h0m-2 0h0m-1 0h0m-2 0h0m-10 0h0m-1 0h0m-3 0h0m-1 1h0m2 0h0m6 0h0m2 0h0m3 0h0m6 0h0m1 0h0m3 0h0m1 0h0m2 0h0m1 0h0m4 0h0m2 0h0m1 0h0m1 0h0m3 0h0m2 0h0m1 0h0m2 0h0m1 0h0m1 0h0m1 0h0m3 0h0m3 0h0m23 0h0m7 0h0m4 0h0m17 1h0m-25 0h0m-2 0h0m-2 0h0m-2 0h0m-10 0h0m-9 0h0m-3 0h0m-3 0h0m-1 0h0m-1 0h0m-2 0h0m-1 0h0m-2 0h0m-1 0h0m-2 0h0m-2 0h0m-1 0h0m-2 0h0m-2 0h0m-1 0h0m-1 0h0m-2 0h0m-2 0h0m-4 0h0m-1 0h0m-1 0h0m-4 0h0m-2 0h0m-3 0h0m-2 0h0m-2 0h0m-2 0h0m-3 0h0m-1 0h0m0 1h0m2 0h0m1 0h0m4 0h0m5 0h0m1 0h0m2 0h0m4 0h0m3 0h0m1 0h0m1 0h0m1 0h0m4 0h0m5 0h0m2 0h0m1 0h0m1 0h0m1 0h0m3 0h0m1 0h0m2 0h0m1 0h0m1 0h0m1 0h0m3 0h0m1 0h0m15 0h0m1 0h0m13 0h0m1 1h0m-18 0h0m-8 0h0m-2 0h0m-2 0h0m-2 0h0m-1 0h0m-2 0h0m-1 0h0m-4 0h0m-1 0h0m-1 0h0m-3 0h0m-1 0h0m-2 0h0m-6 0h0m-1 0h0m-2 0h0m-1 0h0m-1 0h0m-1 0h0m-1 0h0m-1 0h0m-1 0h0m-2 0h0m-3 0h0m-2 0h0m-1 0h0m-3 0h0m-9 1h0m2 0h0m9 0h0m1 0h0m1 0h0m2 0h0m1 0h0m3 0h0m5 0h0m7 0h0m2 0h0m3 0h0m4 0h0m2 0h0m2 0h0m1 0h0m2 0h0m2 0h0m3 0h0m35 0h0m-16 1h0m-4 0h0m-4 0h0m-3 0h0m-2 0h0m-2 0h0m-4 0h0m-8 0h0m-2 0h0m-2 0h0m-1 0h0m-4 0h0m-1 0h0m-3 0h0m-2 0h0m-1 0h0m-2 0h0m-1 0h0m-2 0h0m-6 0h0m-1 0h0m-5 0h0m-1 0h0m-1 0h0m-2 0h0m-2 0h0m-4 0h0m-1 0h0m0 1h0m2 0h0m1 0h0m4 0h0m3 0h0m3 0h0m2 0h0m4 0h0m1 0h0m1 0h0m1 0h0m3 0h0m2 0h0m2 0h0m1 0h0m2 0h0m4 0h0m2 0h0m2 0h0m1 0h0m3 0h0m1 0h0m2 0h0m1 0h0m3 0h0m13 0h0m16 0h0m8 0h0m3 1h0m-9 0h0m-1 0h0m-17 0h0m-5 0h0m-6 0h0m-1 0h0m-2 0h0m-2 0h0m-2 0h0m-4 0h0m-1 0h0m-4 0h0m-5 0h0m-1 0h0m-1 0h0m-3 0h0m-1 0h0m-1 0h0m-2 0h0m-2 0h0m-1 0h0m-1 0h0m-1 0h0m-1 0h0m-4 0h0m-7 0h0m-1 0h0m-2 0h0m-1 0h0m-3 0h0m3 1h0m1 0h0m1 0h0m1 0h0m2 0h0m4 0h0m2 0h0m2 0h0m1 0h0m3 0h0m1 0h0m1 0h0m4 0h0m3 0h0m3 0h0m1 0h0m2 0h0m1 0h0m3 0h0m1 0h0m1 0h0m2 0h0m1 0h0m1 0h0m1 0h0m5 0h0m29 0h0m5 0h0m3 0h0m47 1h0m-61 0h0m-11 0h0m-2 0h0m-5 0h0m-5 0h0m-3 0h0m-1 0h0m-2 0h0m-1 0h0m-3 0h0m-1 0h0m-1 0h0m-1 0h0m-3 0h0m-2 0h0m-3 0h0m-1 0h0m-1 0h0m-3 0h0m-3 0h0m-1 0h0m-1 0h0m-1 0h0m-2 0h0m-3 0h0m-2 0h0m-3 0h0m-1 0h0m-1 0h0m-1 0h0m-1 1h0m4 0h0m1 0h0m2 0h0m2 0h0m2 0h0m5 0h0m1 0h0m3 0h0m2 0h0m1 0h0m1 0h0m3 0h0m1 0h0m4 0h0m1 0h0m1 0h0m2 0h0m4 0h0m3 0h0m3 0h0m4 0h0m27 1h0m-2 0h0m-7 0h0m-16 0h0m-3 0h0m-3 0h0m-2 0h0m-1 0h0m-1 0h0m-2 0h0m-3 0h0m-3 0h0m-3 0h0m-1 0h0m-2 0h0m-2 0h0m-1 0h0m-4 0h0m-1 0h0m-4 0h0m-1 0h0m-1 0h0m-1 0h0m-1 0h0m-1 0h0m-3 0h0m-3 0h0m-1 0h0m-3 0h0m-2 0h0m-1 0h0m-1 0h0m-4 0h0m5 1h0m1 0h0m1 0h0m3 0h0m2 0h0m2 0h0m2 0h0m1 0h0m3 0h0m3 0h0m1 0h0m1 0h0m3 0h0m3 0h0m3 0h0m2 0h0m3 0h0m3 0h0m1 0h0m1 0h0m4 0h0m2 0h0m3 0h0m4 0h0m3 0h0m4 0h0m17 0h0m46 0h0m-36 1h0m-8 0h0m-11 0h0m-13 0h0m-2 0h0m-5 0h0m-1 0h0m-4 0h0m-2 0h0m-1 0h0m-1 0h0m-2 0h0m-2 0h0m-1 0h0m-1 0h0m-1 0h0m-2 0h0m-2 0h0m-1 0h0m-1 0h0m-2 0h0m-1 0h0m-2 0h0m-1 0h0m-2 0h0m-4 0h0m-1 0h0m-2 0h0m-5 0h0m-2 0h0m-4 0h0m-2 0h0m-2 0h0m1 1h0m4 0h0m5 0h0m2 0h0m2 0h0m2 0h0m2 0h0m2 0h0m1 0h0m3 0h0m2 0h0m1 0h0m1 0h0m3 0h0m1 0h0m4 0h0m1 0h0m1 0h0m2 0h0m4 0h0m2 0h0m1 0h0m1 0h0m1 0h0m2 0h0m1 0h0m5 0h0m2 0h0m27 0h0m-8 1h0m-2 0h0m-7 0h0m-5 0h0m-10 0h0m-1 0h0m-1 0h0m-2 0h0m-2 0h0m-2 0h0m-1 0h0m-1 0h0m-2 0h0m-2 0h0m-1 0h0m-1 0h0m-1 0h0m-1 0h0m-1 0h0m-5 0h0m-1 0h0m-3 0h0m-3 0h0m-1 0h0m-1 0h0m-3 0h0m-1 0h0m-1 0h0m-2 0h0m-1 0h0m-2 0h0m-1 0h0m-1 0h0m-4 0h0m-1 0h0m-1 0h0m9 1h0m3 0h0m4 0h0m3 0h0m1 0h0m3 0h0m1 0h0m2 0h0m1 0h0m2 0h0m1 0h0m1 0h0m1 0h0m4 0h0m2 0h0m1 0h0m1 0h0m2 0h0m5 0h0m2 0h0m1 0h0m12 0h0m10 0h0m1 0h0m22 0h0m-4 1h0m-4 0h0m-2 0h0m-10 0h0m-17 0h0m-3 0h0m-4 0h0m-1 0h0m-1 0h0m-2 0h0m-2 0h0m-1 0h0m-1 0h0m-1 0h0m-1 0h0m-1 0h0m-3 0h0m-3 0h0m-8 0h0m-1 0h0m-2 0h0m-1 0h0m-1 0h0m-1 0h0m-2 0h0m-4 0h0m-1 0h0m-2 0h0m-1 0h0m-1 0h0m-2 0h0m-1 0h0m-1 0h0m-1 0h0m-1 0h0m-2 0h0m-1 0h0m-2 0h0m0 1h0m2 0h0m3 0h0m1 0h0m1 0h0m3 0h0m2 0h0m1 0h0m6 0h0m4 0h0m2 0h0m1 0h0m2 0h0m1 0h0m2 0h0m1 0h0m1 0h0m4 0h0m3 0h0m3 0h0m1 0h0m2 0h0m1 0h0m2 0h0m1 0h0m5 0h0m12 0h0m14 0h0m11 0h0m-23 1h0m-10 0h0m-1 0h0m-6 0h0m-1 0h0m-1 0h0m-2 0h0m-2 0h0m-3 0h0m-1 0h0m-1 0h0m-4 0h0m-2 0h0m-1 0h0m-1 0h0m-1 0h0m-1 0h0m-2 0h0m-2 0h0m-1 0h0m-1 0h0m-1 0h0m-1 0h0m-1 0h0m-4 0h0m-1 0h0m-1 0h0m-2 0h0m-2 0h0m-1 0h0m-2 0h0m-2 0h0m-3 0h0m-1 0h0m-2 0h0m-2 0h0m1 1h0m1 0h0m1 0h0m1 0h0m1 0h0m2 0h0m3 0h0m1 0h0m1 0h0m2 0h0m1 0h0m1 0h0m1 0h0m2 0h0m3 0h0m1 0h0m1 0h0m3 0h0m4 0h0m1 0h0m1 0h0m3 0h0m1 0h0m1 0h0m3 0h0m4 0h0m1 0h0m2 0h0m1 0h0m2 0h0m3 0h0m2 0h0m3 0h0m13 0h0m6 0h0m9 0h0m3 1h0m-6 0h0m-3 0h0m-2 0h0m-20 0h0m-1 0h0m-2 0h0m-3 0h0m-3 0h0m-2 0h0m-4 0h0m-2 0h0m-5 0h0m-3 0h0m-2 0h0m-2 0h0m-2 0h0m-6 0h0m-1 0h0m-2 0h0m-2 0h0m-1 0h0m-3 0h0m-2 0h0m-3 0h0m-3 0h0m-1 0h0m-1 0h0m-3 0h0m-2 1h0m1 0h0m1 0h0m1 0h0m3 0h0m3 0h0m2 0h0m2 0h0m1 0h0m1 0h0m1 0h0m4 0h0m2 0h0m2 0h0m2 0h0m1 0h0m1 0h0m1 0h0m2 0h0m1 0h0m1 0h0m2 0h0m4 0h0m1 0h0m1 0h0m1 0h0m4 0h0m1 0h0m6 0h0m2 0h0m19 0h0m4 0h0m20 0h0m-21 1h0m-21 0h0m-2 0h0m-1 0h0m-1 0h0m-2 0h0m-4 0h0m-1 0h0m-3 0h0m-2 0h0m-4 0h0m-4 0h0m-2 0h0m-1 0h0m-1 0h0m-3 0h0m-4 0h0m-2 0h0m-1 0h0m-1 0h0m-3 0h0m-2 0h0m-1 0h0m-7 0h0m-4 0h0m-2 0h0m0 1h0m4 0h0m2 0h0m1 0h0m3 0h0m1 0h0m1 0h0m3 0h0m2 0h0m1 0h0m1 0h0m4 0h0m1 0h0m2 0h0m2 0h0m1 0h0m6 0h0m3 0h0m2 0h0m3 0h0m1 0h0m3 0h0m5 0h0m2 0h0m4 0h0m2 0h0m5 0h0m29 1h0m-32 0h0m-4 0h0m-2 0h0m-3 0h0m-2 0h0m-1 0h0m-4 0h0m-2 0h0m-1 0h0m-1 0h0m-1 0h0m-2 0h0m-2 0h0m-7 0h0m-1 0h0m-2 0h0m-1 0h0m-1 0h0m-1 0h0m-3 0h0m-1 0h0m-1 0h0m-3 0h0m-2 0h0m-2 0h0m-9 0h0m-1 1h0m3 0h0m2 0h0m6 0h0m1 0h0m1 0h0m3 0h0m1 0h0m2 0h0m4 0h0m1 0h0m4 0h0m4 0h0m5 0h0m1 0h0m2 0h0m4 0h0m1 0h0m1 0h0m2 0h0m1 0h0m5 0h0m2 0h0m12 0h0m19 0h0m2 1h0m-29 0h0m-3 0h0m-3 0h0m-4 0h0m-1 0h0m-2 0h0m-1 0h0m-1 0h0m-2 0h0m-1 0h0m-3 0h0m-4 0h0m-2 0h0m-2 0h0m-3 0h0m-1 0h0m-5 0h0m-2 0h0m-2 0h0m-1 0h0m-2 0h0m-7 0h0m-2 0h0m-1 0h0m-2 0h0m-4 0h0m-2 0h0m-1 1h0m5 0h0m1 0h0m7 0h0m2 0h0m2 0h0m2 0h0m9 0h0m2 0h0m1 0h0m3 0h0m3 0h0m1 0h0m5 0h0m2 0h0m2 0h0m3 0h0m2 0h0m38 0h0m10 1h0m-38 0h0m-5 0h0m-4 0h0m-2 0h0m-2 0h0m-1 0h0m-2 0h0m-2 0h0m-6 0h0m-6 0h0m-2 0h0m-1 0h0m-1 0h0m-1 0h0m-5 0h0m-6 0h0m-1 0h0m-5 0h0m-1 0h0m-5 0h0m-3 0h0m2 1h0m6 0h0m1 0h0m2 0h0m6 0h0m2 0h0m1 0h0m3 0h0m1 0h0m1 0h0m13 0h0m3 0h0m3 0h0m5 0h0m2 0h0m11 0h0" stroke="#e4493a" stroke-width="3.8" stroke-linecap="round" fill="none"/>
<path d="M62.4 339V541.3H323.9" stroke="#222" stroke-width="1.1" fill="none" stroke-linejoin="round"/>
<path d="M59.6 532H62.4" stroke="#1a1a1a" stroke-width="1.1"/>
<text x="57.8" y="535.6" font-size="10" text-anchor="end" fill="#1a1a1a" font-family="Liberation Sans, sans-serif" stroke="#1a1a1a" stroke-width="0.25">0</text>
<path d="M59.6 474.4H62.4" stroke="#1a1a1a" stroke-width="1.1"/>
<text x="57.8" y="478" font-size="10" text-anchor="end" fill="#1a1a1a" font-family="Liberation Sans, sans-serif" stroke="#1a1a1a" stroke-width="0.25">20</text>
<path d="M59.6 416.9H62.4" stroke="#1a1a1a" stroke-width="1.1"/>
<text x="57.8" y="420.5" font-size="10" text-anchor="end" fill="#1a1a1a" font-family="Liberation Sans, sans-serif" stroke="#1a1a1a" stroke-width="0.25">40</text>
<path d="M59.6 359.2H62.4" stroke="#1a1a1a" stroke-width="1.1"/>
<text x="57.8" y="362.8" font-size="10" text-anchor="end" fill="#1a1a1a" font-family="Liberation Sans, sans-serif" stroke="#1a1a1a" stroke-width="0.25">60</text>
<path d="M75.5 541.3V544.1" stroke="#1a1a1a" stroke-width="1.1"/>
<text x="75.5" y="552.9" font-size="10" text-anchor="middle" fill="#1a1a1a" font-family="Liberation Sans, sans-serif" stroke="#1a1a1a" stroke-width="0.25">−6</text>
<path d="M125.5 541.3V544.1" stroke="#1a1a1a" stroke-width="1.1"/>
<text x="125.5" y="552.9" font-size="10" text-anchor="middle" fill="#1a1a1a" font-family="Liberation Sans, sans-serif" stroke="#1a1a1a" stroke-width="0.25">−4</text>
<path d="M175.5 541.3V544.1" stroke="#1a1a1a" stroke-width="1.1"/>
<text x="175.5" y="552.9" font-size="10" text-anchor="middle" fill="#1a1a1a" font-family="Liberation Sans, sans-serif" stroke="#1a1a1a" stroke-width="0.25">−2</text>
<path d="M225.5 541.3V544.1" stroke="#1a1a1a" stroke-width="1.1"/>
<text x="225.5" y="552.9" font-size="10" text-anchor="middle" fill="#1a1a1a" font-family="Liberation Sans, sans-serif" stroke="#1a1a1a" stroke-width="0.25">0</text>
<path d="M275.5 541.3V544.1" stroke="#1a1a1a" stroke-width="1.1"/>
<text x="275.5" y="552.9" font-size="10" text-anchor="middle" fill="#1a1a1a" font-family="Liberation Sans, sans-serif" stroke="#1a1a1a" stroke-width="0.25">2</text>
<text x="193.1" y="563.5" font-size="10.8" text-anchor="middle" fill="#1a1a1a" font-family="Liberation Sans, sans-serif" stroke="#1a1a1a" stroke-width="0.2">logFC</text>
<text x="0" y="0" font-size="10.8" text-anchor="middle" fill="#1a1a1a" font-family="Liberation Sans, sans-serif" stroke="#1a1a1a" stroke-width="0.2" transform="translate(41 440.1) rotate(-90)">−log10(P.value)</text>
<text x="325.5" y="305" font-size="23" text-anchor="start" fill="#111" font-family="Liberation Serif, serif">D</text>
<ellipse cx="468" cy="389.5" rx="69.7" ry="73" fill="#cb4331" fill-opacity="0.5"/>
<ellipse cx="558.9" cy="389.7" rx="69.7" ry="73" fill="#61cbd5" fill-opacity="0.5"/>
<ellipse cx="513.3" cy="468" rx="69.5" ry="73" fill="#21bd91" fill-opacity="0.5"/>
<text x="397.5" y="315" font-size="8.2" text-anchor="start" fill="#e64b35" font-family="Liberation Sans, sans-serif">urine-up</text>
<text x="600.9" y="315" font-size="8.2" text-anchor="middle" fill="#4dbbd5" font-family="Liberation Sans, sans-serif">blood-up</text>
<text x="508" y="555" font-size="8.2" text-anchor="middle" fill="#00a087" font-family="Liberation Sans, sans-serif">tissue-up</text>
<text x="439.5" y="372.5" font-size="7" text-anchor="middle" fill="#111" font-family="Liberation Sans, sans-serif" font-weight="bold">83</text>
<text x="512.5" y="372.5" font-size="7" text-anchor="middle" fill="#111" font-family="Liberation Sans, sans-serif" font-weight="bold">24</text>
<text x="577.2" y="372.5" font-size="7" text-anchor="middle" fill="#111" font-family="Liberation Sans, sans-serif" font-weight="bold">5412</text>
<text x="513" y="417.5" font-size="7" text-anchor="middle" fill="#111" font-family="Liberation Sans, sans-serif" font-weight="bold">35</text>
<text x="468" y="445.5" font-size="7" text-anchor="middle" fill="#111" font-family="Liberation Sans, sans-serif" font-weight="bold">160</text>
<text x="555.1" y="445.5" font-size="7" text-anchor="middle" fill="#111" font-family="Liberation Sans, sans-serif" font-weight="bold">332</text>
<text x="511" y="512.2" font-size="7" text-anchor="middle" fill="#111" font-family="Liberation Sans, sans-serif" font-weight="bold">1939</text>
<text x="1" y="581.5" font-size="23" text-anchor="start" fill="#111" font-family="Liberation Serif, serif">E</text>
<ellipse cx="144.4" cy="682.5" rx="61.6" ry="66.8" fill="#cb4331" fill-opacity="0.5"/>
<ellipse cx="225.1" cy="682.5" rx="61.6" ry="66.8" fill="#61cbd5" fill-opacity="0.5"/>
<ellipse cx="184.8" cy="754.5" rx="61.6" ry="66.8" fill="#21bd91" fill-opacity="0.5"/>
<text x="81.7" y="614" font-size="7.2" text-anchor="start" fill="#e64b35" font-family="Liberation Sans, sans-serif">urine-down</text>
<text x="267" y="614" font-size="7.2" text-anchor="middle" fill="#4dbbd5" font-family="Liberation Sans, sans-serif">blood-down</text>
<text x="184.9" y="833.5" font-size="7.2" text-anchor="middle" fill="#00a087" font-family="Liberation Sans, sans-serif">tissue-down</text>
<text x="117.9" y="667.3" font-size="6.5" text-anchor="middle" fill="#111" font-family="Liberation Sans, sans-serif" font-weight="bold">2481</text>
<text x="182.9" y="667.3" font-size="6.5" text-anchor="middle" fill="#111" font-family="Liberation Sans, sans-serif" font-weight="bold">310</text>
<text x="241" y="667.3" font-size="6.5" text-anchor="middle" fill="#111" font-family="Liberation Sans, sans-serif" font-weight="bold">1248</text>
<text x="182.9" y="708.5" font-size="6.5" text-anchor="middle" fill="#111" font-family="Liberation Sans, sans-serif" font-weight="bold">701</text>
<text x="143.6" y="733.9" font-size="6.5" text-anchor="middle" fill="#111" font-family="Liberation Sans, sans-serif" font-weight="bold">4517</text>
<text x="221.9" y="733.9" font-size="6.5" text-anchor="middle" fill="#111" font-family="Liberation Sans, sans-serif" font-weight="bold">826</text>
<text x="183.5" y="794.9" font-size="6.5" text-anchor="middle" fill="#111" font-family="Liberation Sans, sans-serif" font-weight="bold">11296</text>
<text x="325.5" y="581.5" font-size="23" text-anchor="start" fill="#111" font-family="Liberation Serif, serif">F</text>
<ellipse cx="466.1" cy="743.4" rx="136.2" ry="84.3" fill="#cb4331" fill-opacity="0.5" transform="rotate(44.69 466.1 743.4)"/>
<ellipse cx="509.3" cy="696.3" rx="135.8" ry="85.5" fill="#61cbd5" fill-opacity="0.5" transform="rotate(44.39 509.3 696.3)"/>
<ellipse cx="521.7" cy="696.3" rx="135.8" ry="85.5" fill="#21bd91" fill-opacity="0.5" transform="rotate(-44.39 521.7 696.3)"/>
<ellipse cx="564.9" cy="743.4" rx="136.2" ry="84.3" fill="#3c5488" fill-opacity="0.5" transform="rotate(-44.69 564.9 743.4)"/>
<text x="343.3" y="625.5" font-size="9.8" text-anchor="start" fill="#e64b35" font-family="Liberation Sans, sans-serif">mRNA-up</text>
<text x="411" y="576.5" font-size="9.8" text-anchor="middle" fill="#4dbbd5" font-family="Liberation Sans, sans-serif">mRNA-down</text>
<text x="600" y="576.5" font-size="9.8" text-anchor="middle" fill="#00a087" font-family="Liberation Sans, sans-serif">methylation-up</text>
<text x="645.5" y="625.5" font-size="9.8" text-anchor="middle" fill="#3c5488" font-family="Liberation Sans, sans-serif">methylation-down</text>
<text x="435.4" y="618.2" font-size="8.4" text-anchor="middle" fill="#111" font-family="Liberation Sans, sans-serif" font-weight="bold">3319</text>
<text x="513.5" y="641" font-size="8.4" text-anchor="middle" fill="#111" font-family="Liberation Sans, sans-serif" font-weight="bold">12</text>
<text x="577" y="618.1" font-size="8.4" text-anchor="middle" fill="#111" font-family="Liberation Sans, sans-serif" font-weight="bold">20</text>
<text x="414.8" y="664" font-size="8.4" text-anchor="middle" fill="#111" font-family="Liberation Sans, sans-serif">0</text>
<text x="614" y="664" font-size="8.4" text-anchor="middle" fill="#111" font-family="Liberation Sans, sans-serif">0</text>
<text x="454.3" y="702.3" font-size="8.4" text-anchor="middle" fill="#111" font-family="Liberation Sans, sans-serif">0</text>
<text x="574.8" y="702" font-size="8.4" text-anchor="middle" fill="#111" font-family="Liberation Sans, sans-serif">0</text>
<text x="375.4" y="717.4" font-size="8.4" text-anchor="middle" fill="#111" font-family="Liberation Sans, sans-serif" font-weight="bold">5816</text>
<text x="643.1" y="717.5" font-size="8.4" text-anchor="middle" fill="#111" font-family="Liberation Sans, sans-serif" font-weight="bold">356</text>
<text x="514" y="740" font-size="8.4" text-anchor="middle" fill="#111" font-family="Liberation Sans, sans-serif">0</text>
<text x="432" y="770" font-size="8.4" text-anchor="middle" fill="#111" font-family="Liberation Sans, sans-serif" font-weight="bold">3</text>
<text x="595" y="770" font-size="8.4" text-anchor="middle" fill="#111" font-family="Liberation Sans, sans-serif" font-weight="bold">184</text>
<text x="468" y="793" font-size="8.4" text-anchor="middle" fill="#111" font-family="Liberation Sans, sans-serif">0</text>
<text x="560" y="793" font-size="8.4" text-anchor="middle" fill="#111" font-family="Liberation Sans, sans-serif">0</text>
<text x="512" y="831" font-size="8.4" text-anchor="middle" fill="#111" font-family="Liberation Sans, sans-serif" font-weight="bold">161</text>
</svg></body></html>
